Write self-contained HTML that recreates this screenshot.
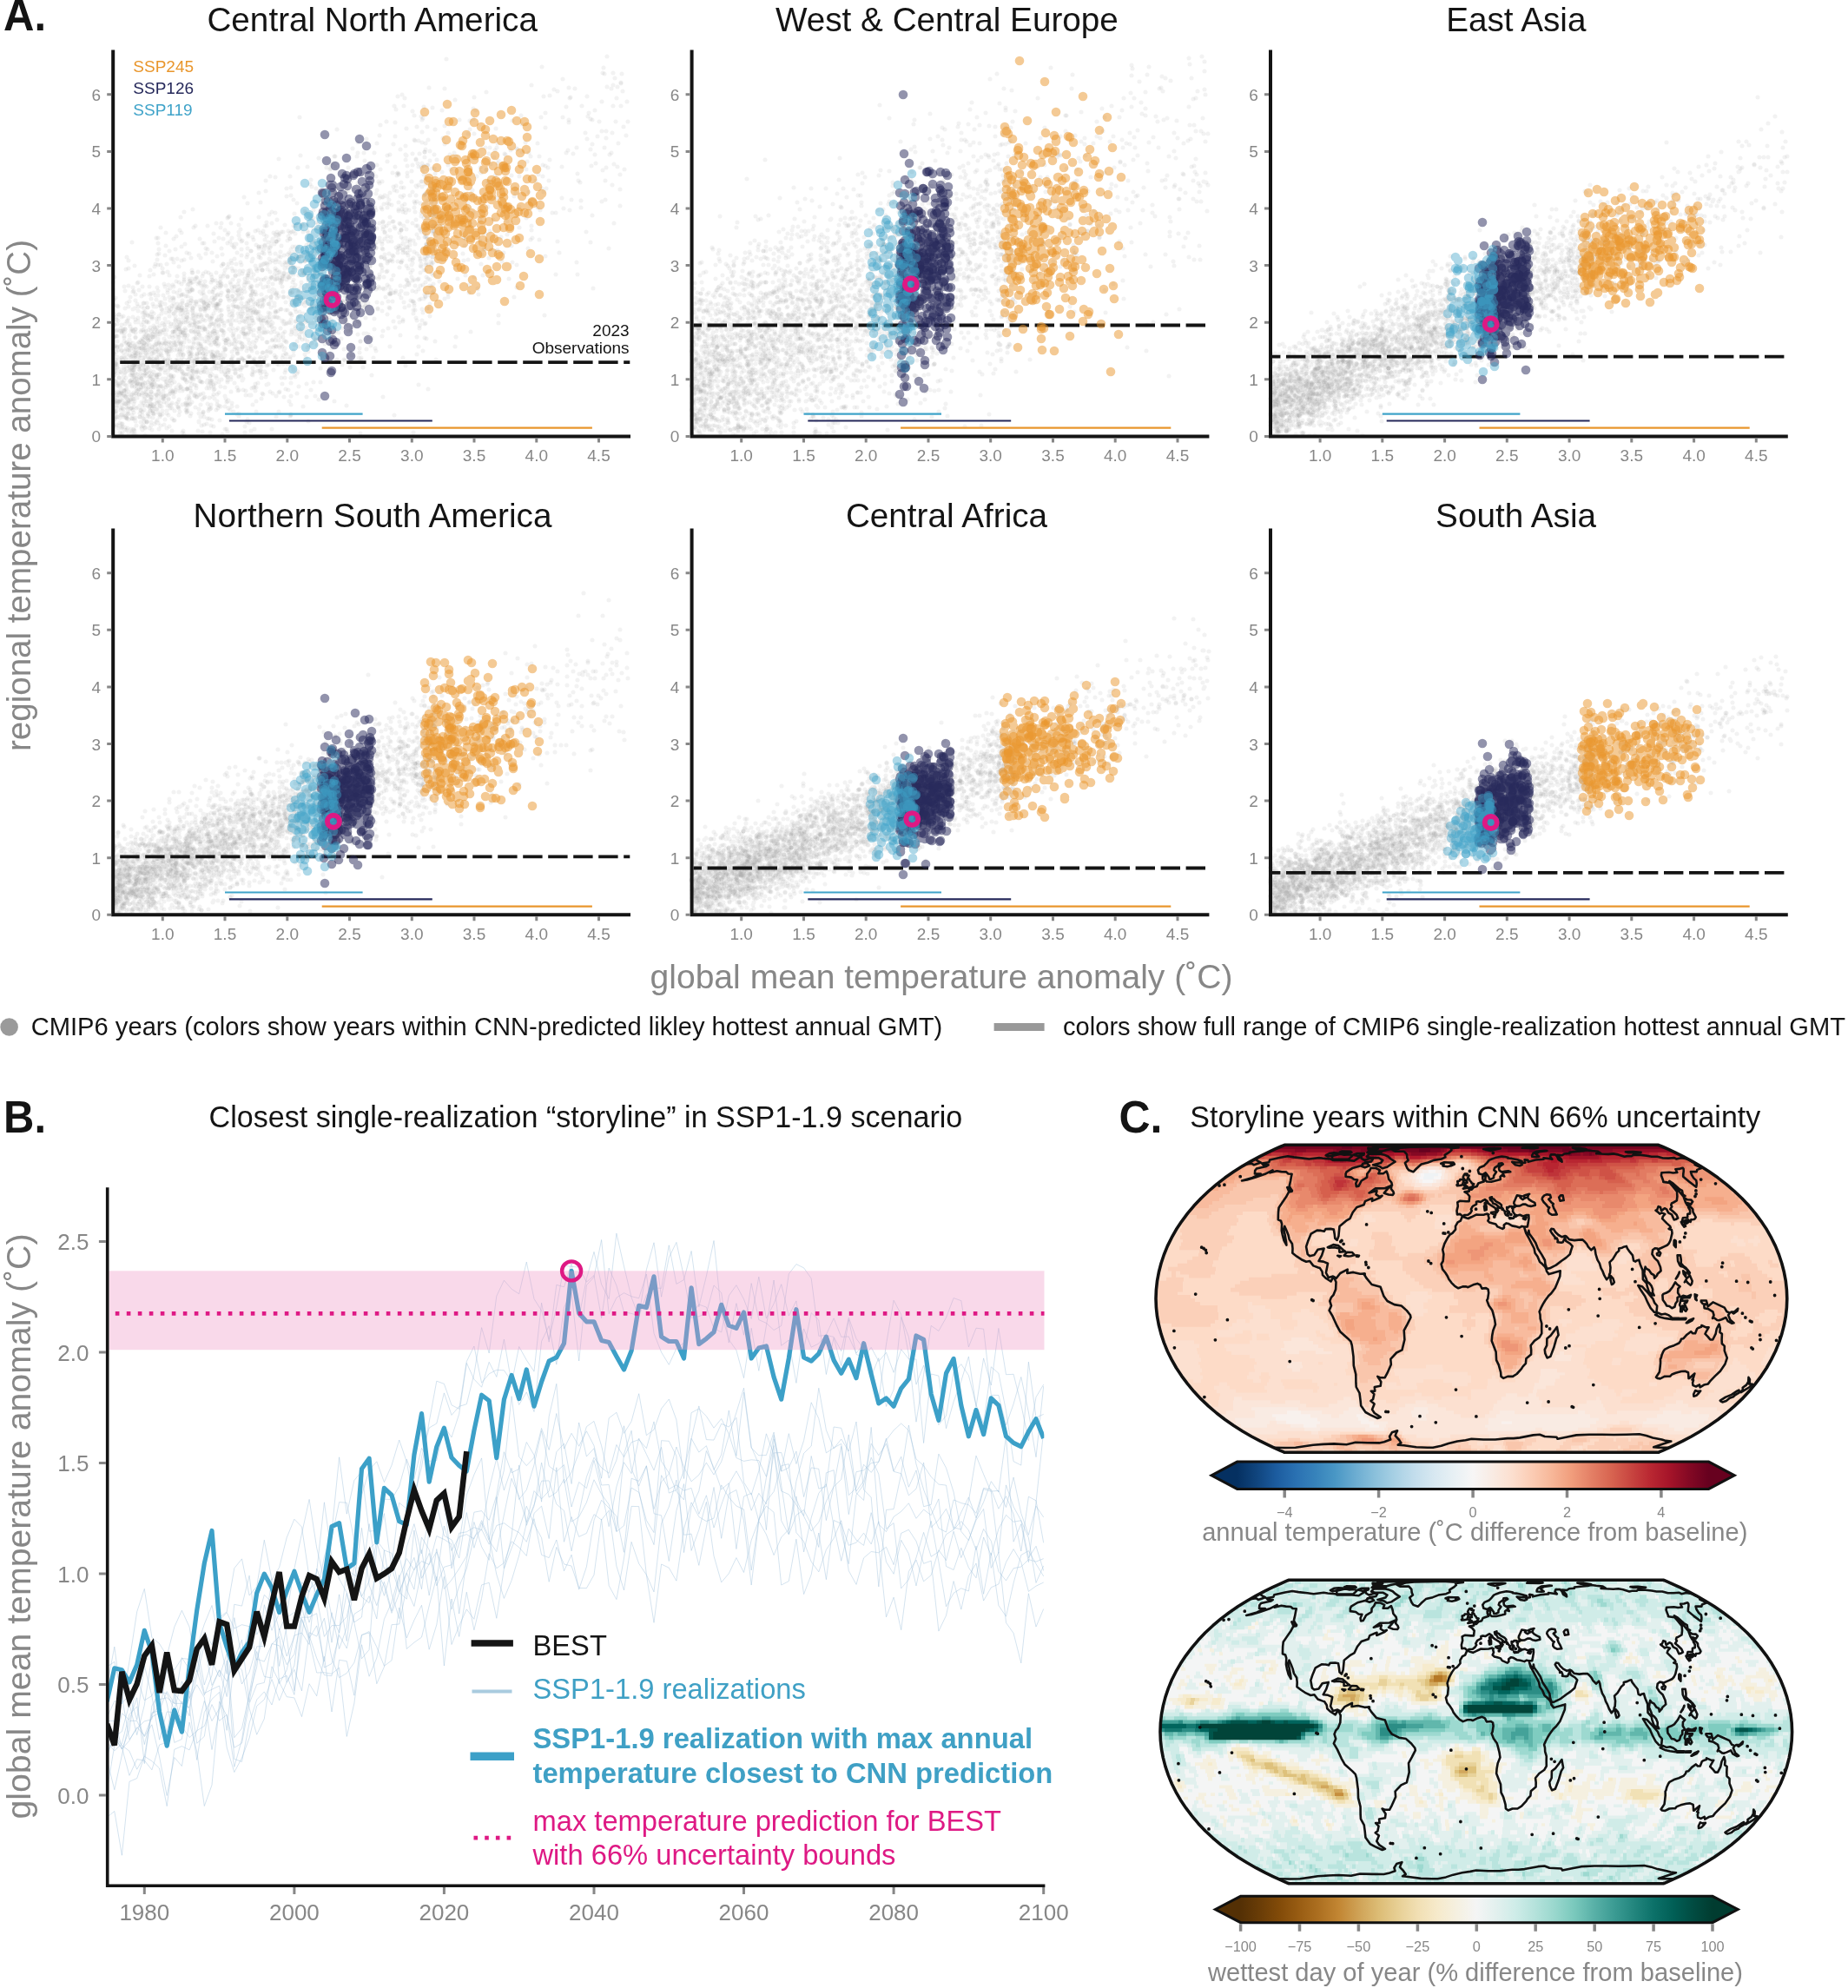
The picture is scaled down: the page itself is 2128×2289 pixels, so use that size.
<!DOCTYPE html><html><head><meta charset="utf-8"><title>Figure</title><style>html,body{margin:0;padding:0;background:#fff}svg{display:block;will-change:transform;opacity:.9999}text{font-family:"Liberation Sans", sans-serif}</style></head><body><svg width="2128" height="2289" viewBox="0 0 2128 2289" font-family='"Liberation Sans", sans-serif'><rect width="2128" height="2289" fill="#fff"/><g>
<g stroke="#787878" stroke-width="5" stroke-opacity=".095" stroke-linecap="round" fill="none"><path d="M131 491zm1-8zm0-55zm0-66zm1 114zm0-56zm2-47zm0 91zm0-64zm0 62zm2-7zm0-93zm0 80zm1-61zm2 72zm0-71zm1 109zm2-102zm0 49zm1-65zm0 92zm0-86zm0 85zm1 15zm0-77zm0 12zm1 30zm0 51zm2-33zm1-58zm0 53zm0-35zm0 36zm1 2zm1-49zm0 0zm1 85zm0-26zm0-40zm0-4zm1-61zm1 52zm0 17zm0-99zm0 67zm1-96zm0 190zm0-98zm1 19zm0-4zm1 35zm0-43zm1 37zm1-76zm1 68zm0-15zm0-9zm0 44zm0-11zm1 37zm0-163zm0 77zm1 49zm0 30zm1-27zm1-116zm1 90zm0-5zm1 71zm0-91zm1 11zm1 24zm0 22zm0-22zm2 49zm0-125zm1 33zm0 27zm0-9zm0-13zm1 13zm0-3zm1 63zm1-8zm0-11zm0 44zm1-48zm0 53zm1-116zm0 9zm0-4zm0 53zm1-30zm0 61zm2-82zm1 10zm0-29zm1 65zm0-133zm0 114zm0-10zm0-72zm1-26zm0 132zm2-6zm1-34zm1 7zm0 0zm1 73zm0-168zm1 107zm0-102zm1 66zm1 46zm1-143zm2 51zm0 110zm1-34zm1 81zm2-59zm0-134zm1 184zm0-82zm0 23zm1-41zm3 5zm0 11zm0 53zm0-53zm1-5zm1-56zm0-19zm0 100zm0-4zm0-41zm1 96zm0-79zm0-2zm1 28zm1-37zm2 7zm0-29zm2 139zm0-48zm1-149zm0 16zm1 69zm2-19zm0 109zm0-26zm1-62zm0-50zm0 26zm1 69zm0-17zm0-87zm2 22zm0-23zm0 108zm2-77zm1-23zm0 84zm0-58zm3 13zm0-4zm1 16zm0-38zm0 97zm1-73zm0 37zm2-114zm1 52zm1 108zm0-157zm0 26zm0 34zm1 6zm1 53zm0 24zm2-88zm1 6zm0 56zm1-13zm0-47zm2 28zm0 83zm2-97zm0 90zm1-20zm0 2zm1-73zm2 38zm0-22zm1 5zm0 18zm0 48zm2-44zm0-26zm0-41zm1 47zm0-133zm0 178zm1 1zm1 34zm0-120zm1 25zm0-101zm0 102zm1-27zm1-24zm1 103zm0-171zm2 47zm1 68zm0 11zm1-118zm1 130zm2 43zm0-68zm1-66zm1 55zm1-81zm2 118zm1-38zm0-17zm0 28zm1 52zm1-123zm2 39zm1 131zm1-61zm1-84zm0 110zm0-94zm0 63zm0 74zm1-120zm2 46zm0 10zm1-43zm2 46zm0-188zm2 194zm3-96zm0 58zm1-5zm1-47zm2-11zm1 104zm0-64zm0 9zm1-93zm1 152zm1 14zm2-113zm2-45zm1 94zm1 52zm0-4zm1 33zm2-108zm0 103zm1-132zm0 47zm0-25zm0 35zm2-10zm1-27zm2 8zm1 25zm2-21zm0 51zm1-127zm1-3zm0 52zm0 11zm2 71zm1-17zm0-32zm2-23zm0-26zm3 11zm1 4zm4 16zm1-83zm4 56zm2-40zm1 160zm0 42zm0-116zm0 60zm1-41zm0-49zm0 6zm1-24zm1 96zm1-163zm6 98zm0 36zm2-7zm5-27zm1 111zm1-64zm1-101zm5 55zm1 40zm1-71zm2 43zm2-96zm1-81zm0 133zm1 20zm6 0zm0-61zm2-81zm7-5zm0 55zm1 72zm1 47zm1 29zm2-65zm0-177zm1 161zm1 34zm2-74zm1-44zm1 120zm5-18zm1 2zm3 93zm2-47zm0-62zm0-114zm0 177zm2-143zm1 33zm1 76zm0-12zm1 5zm1-14zm2-104zm4 51zm3-84zm0 144zm0-38zm1 75zm0-106zm1 3zm2-58zm2 110zm1 83zm7-208zm3 129zm0-163zm0 72zm2 11zm1 39zm4 64zm1-202zm1 99zm1 139zm1-143zm1-13zm0 177zm3-200zm1-33zm0 151zm1 161zm2-352zm3 74zm0 41zm4-132zm0 191zm1-9zm2 39zm0-95zm1 103zm2-60zm0-23zm0 83zm4-24zm1 5zm1 28zm2-25zm1-88zm2 58zm3 83zm1-1zm5-150zm0-49zm1 110zm0-80zm1 76zm1-91zm0 85zm0-24zm1 43zm5-33zm0-18zm1 84zm0 8zm1-75zm0-13zm1-47zm1 71zm0 143zm17-219zm5-80zm15 39zm5 65zm9 71zm2 3zm11-6zm6-117zm6 131zm17-130zm11 24zm6 65zm8-59zm1 75zm3-59zm3 146zm15-85zm5-50zm2 12zm7-127zm12 97zm9-76zm5 4zm14 32zm2-19zm6-49zm2-4zm15 58z"/><path d="M130 333zm1 96zm0-22zm1 17zm3-4zm0-4zm1 14zm0-15zm1 20zm1-20zm1-37zm0 74zm0 26zm1-74zm1 74zm0-8zm2-87zm1-4zm0 3zm1 83zm0 16zm1-57zm1 50zm0-3zm3-129zm2 95zm0 45zm0-28zm0-9zm1-29zm0-35zm1 37zm0 8zm0-5zm0 11zm1-26zm0 6zm1-33zm0 55zm0 0zm1 10zm1-13zm0 19zm0-13zm1 32zm2-2zm1 2zm1-6zm1 4zm0-14zm1-62zm0 11zm0-37zm0 52zm1 9zm0-50zm1 27zm0-44zm1 38zm0-36zm1 125zm0 0zm0-24zm3-24zm1-47zm0 82zm0-31zm0-80zm1 49zm0 25zm0-49zm1-20zm1 79zm1-85zm0 44zm2-101zm1 101zm1-112zm1 131zm1 7zm2 13zm2 29zm3-179zm0 82zm1 9zm0 71zm1-50zm1 15zm1 57zm0-19zm1-170zm0 105zm0-36zm2 75zm2-90zm0 39zm1 75zm0-84zm1 24zm1 18zm1-58zm0 66zm3-98zm0 54zm0 45zm0-83zm1 61zm0-44zm1 87zm0-62zm0 13zm1-128zm1 89zm0 71zm1-48zm1-61zm1 41zm0 71zm0 5zm0 0zm1 28zm1-74zm1-24zm0 49zm0-56zm2-35zm0 134zm1-123zm1 117zm0-46zm1 29zm0-22zm1 14zm2-55zm0 43zm1 5zm1 9zm1 28zm0-137zm0 80zm1 96zm1-83zm0 22zm1-45zm0 17zm1 6zm1-14zm0-70zm0 61zm0 50zm1 20zm0 37zm0-107zm2-34zm0-1zm0-75zm0 69zm1 68zm1-125zm0 116zm1 80zm1-201zm1 99zm0-72zm2 73zm0-38zm2-30zm0 94zm0 70zm1-147zm1 45zm0-29zm2-29zm2 143zm0-77zm0-21zm1-29zm1 73zm1-55zm0 1zm1-12zm1 73zm1 81zm0-119zm1-77zm1 87zm1 40zm0 63zm3-224zm0 192zm1-1zm1-212zm2 185zm1-21zm2-17zm0-12zm0-100zm1-3zm0 66zm1 49zm1-115zm1 144zm0-18zm1-67zm0 74zm0-87zm1-56zm0-4zm0 167zm1-159zm1-11zm1 23zm1 151zm0-79zm1 77zm1-104zm0 52zm0-14zm3 34zm0-124zm1 37zm1-5zm2 67zm1 20zm0-110zm1 142zm0-101zm2 56zm2-63zm3 104zm1-143zm0 98zm0-86zm1 57zm1 15zm2-57zm0-20zm0 137zm2-45zm1-123zm0 168zm2-156zm0-16zm0 154zm1 10zm0-16zm1-119zm2 28zm0 93zm0-203zm1 80zm0 100zm2-50zm1 67zm1-66zm0 18zm0-71zm0 68zm1-145zm4 248zm3-129zm1 76zm2-105zm2 113zm0-50zm2 62zm1-100zm2-116zm0 93zm1 89zm4 12zm0-99zm0 52zm5-41zm0-14zm3 55zm2 118zm4-151zm4-105zm2 116zm0 3zm1-52zm3 112zm2-101zm0 74zm3-84zm0 64zm1 96zm0-134zm0 101zm1-35zm3-87zm2 23zm1 101zm0-1zm2-61zm0-28zm2 41zm3 10zm1-92zm0-6zm2-4zm0 82zm2-64zm0 29zm1 12zm0-4zm2-46zm1-29zm1 50zm0 92zm2-69zm2 41zm1-66zm0 77zm1 94zm1-224zm1-38zm1 143zm0-44zm1-45zm1-3zm4 26zm0 49zm1-35zm3-15zm0 89zm1-74zm2 47zm2 10zm1-81zm1-8zm1 83zm0-49zm2-106zm0 210zm4-169zm4 45zm0-17zm0-15zm0 166zm0-213zm3 205zm0-125zm1 52zm2-53zm0 52zm1-119zm2 85zm0 9zm2-50zm0 32zm2-20zm2-7zm6 62zm1 25zm3-206zm1 194zm2-44zm2-5zm2-70zm2 64zm0 90zm1-89zm2-113zm1 96zm2 62zm1 2zm0-86zm1 46zm3-98zm0 145zm2 17zm0-191zm2 64zm1 163zm2-196zm1 186zm0-83zm1 11zm1-2zm1-152zm0 57zm1 151zm2-87zm0-92zm1 144zm0 47zm0-200zm0 133zm2 32zm0-80zm4-6zm2 15zm0-49zm1 100zm0-15zm1-71zm1 162zm1-165zm3-2zm5 21zm2-145zm2-34zm19 224zm3 25zm3-83zm1-51zm0 154zm5-212zm1 29zm2-27zm9 160zm3-92zm17 42zm4-60zm11 49zm0 116zm14-91zm1-65zm3 45zm14-154zm4 114zm8 54zm2-142zm17 35zm14 93zm19-74zm5-40zm1 79zm1-118zm11 6zm1 173zm7-20z"/><path d="M130 449zm2-130zm0 133zm1-54zm0 20zm1 55zm0 16zm0-102zm1 80zm0-23zm0-92zm2 101zm0 10zm1-10zm1 19zm1 5zm0-94zm0 83zm1 32zm1-23zm1 3zm2-21zm0-147zm1 149zm0-65zm0-98zm1 197zm1-127zm0 132zm0-37zm2-63zm0 40zm1 17zm1-11zm1-88zm0-20zm0 74zm0 20zm2-75zm0 54zm0 53zm1-94zm0 15zm0 98zm4-87zm0 21zm0 33zm1-47zm2-27zm0 6zm1 63zm0 35zm2-118zm0 122zm0-127zm0 104zm0-58zm3-31zm1 33zm0 45zm0-39zm0 1zm1 67zm0-76zm0 55zm1 12zm0-138zm1 47zm0 56zm1-42zm0 60zm1-8zm0-12zm1 42zm1-120zm0 60zm1-36zm0 20zm1 0zm1-44zm0 79zm2 16zm0-63zm1 10zm0-108zm0 122zm1 36zm1-93zm0 102zm0-28zm0-45zm0-76zm2 131zm2 53zm0-52zm0-63zm1-44zm0 106zm2 57zm0-17zm0-172zm0 169zm1-160zm1 95zm1-66zm0 59zm1 1zm0 42zm0-30zm3-86zm1 89zm0 1zm0 66zm1-11zm3-46zm1-42zm1 93zm0-99zm0-2zm2 69zm0-196zm1 121zm1 95zm0-83zm1 47zm1-186zm0 78zm1 64zm0 79zm1 7zm0-6zm1-26zm0-107zm0 32zm0 83zm1-120zm0 136zm0-123zm1 81zm2-50zm1 78zm0-124zm1 8zm0 102zm1-14zm1-28zm0 43zm1 18zm1-134zm1 43zm1 62zm2-23zm1-26zm1 52zm0-31zm2-118zm1 127zm0-70zm0 43zm0-2zm0 96zm1-16zm1-45zm0-84zm0 27zm2 32zm1-37zm0-91zm2 131zm2-20zm0-55zm0 9zm1-34zm0 118zm0 16zm1-33zm1 53zm1-21zm1-50zm1 37zm1-56zm1-5zm1 75zm0 42zm2-138zm0 116zm0-127zm1 49zm0-4zm0 17zm4 88zm0-12zm1-24zm0 27zm0-67zm3 37zm0-161zm0 76zm0-9zm3 38zm0 78zm1-142zm0 109zm0 46zm0-123zm3 76zm1-99zm0 35zm0-8zm3 8zm1 62zm0-156zm1 112zm2-33zm0-33zm0-53zm0 143zm1 5zm4-16zm0 71zm1 31zm0-161zm2 22zm1 26zm0-2zm2-14zm1 12zm4 50zm0-69zm0 8zm0-22zm1 25zm0 113zm3-106zm0-146zm3 100zm0 113zm1-52zm1-14zm2 46zm0-139zm2-16zm0 43zm0 102zm2-75zm1-32zm0 122zm0-70zm5 68zm2-60zm0 7zm1-66zm0-21zm0 61zm1 80zm0-152zm0 54zm2 45zm0-71zm3 121zm0-149zm0 16zm1 47zm1 89zm1 38zm1-139zm0-9zm3-32zm0 95zm1 77zm1-146zm1-35zm1 19zm0 81zm0 110zm0-186zm0 22zm0 58zm3-56zm2 60zm0-92zm1 75zm1-18zm1-57zm1 14zm0 46zm3-19zm1-10zm0 76zm0-80zm0 32zm1-83zm0 122zm1-1zm0-86zm1 113zm2 34zm1-183zm1 146zm1-125zm1 53zm1-126zm0 147zm12-61zm1 0zm0 117zm3-110zm5 61zm1-23zm1-148zm1 211zm1-66zm1 52zm2-195zm1 54zm3 137zm3-106zm2 84zm1-72zm2-35zm0 93zm5 18zm1 15zm1-84zm0 18zm1-143zm0 131zm6-69zm0-22zm0 140zm2 23zm1-111zm0 130zm1-45zm3-96zm0 132zm2-116zm0 84zm1 32zm2 1zm0-92zm3-32zm1 128zm0-121zm3-3zm0 102zm1-128zm1 46zm0-62zm1-4zm2 102zm1-5zm2-20zm9-4zm1 8zm0 39zm6-147zm4 173zm1-108zm0 11zm2 5zm1-36zm1 131zm3-83zm1 21zm0-158zm1 43zm0 93zm1 10zm3 52zm2-23zm1-26zm1-164zm0 99zm1-70zm1 204zm3 77zm2-145zm0 31zm1 15zm1-129zm0-77zm1 266zm1-60zm0-221zm0 78zm0 110zm4-80zm2 124zm0-74zm1 69zm0-176zm2 156zm0-15zm1-55zm11-133zm0 133zm10 18zm6-98zm17 78zm0 124zm4-63zm7-121zm1 106zm0-105zm3 26zm2 44zm4-92zm2 12zm19 66zm0 15zm11 35zm0 26zm14-155zm14-41zm3 86zm2-91zm12 186zm2-211zm12 68zm10-3zm0 132zm1-102zm0 116zm4-77zm5-86zm1 114zm1-107zm2-30zm2 7zm1 54zm1-25zm16 27zm17-97z"/><path d="M131 388zm0 102zm1-82zm1 31zm1 23zm0-81zm1 74zm0-32zm0 57zm2-118zm0 73zm1 27zm2 31zm0-64zm0 8zm2-3zm0 37zm0-65zm0 49zm1-5zm0-18zm1-28zm1 24zm1 26zm0 0zm2-58zm0 80zm0-8zm1-28zm1 23zm0-37zm1-11zm1 3zm1-11zm0-27zm1 102zm0-26zm0 9zm0-83zm0 44zm0-1zm0 75zm2-78zm0-33zm0-43zm0 72zm1 52zm0 20zm1-48zm1-3zm0-81zm3 66zm1 67zm0-66zm1 7zm0 10zm1 3zm0-20zm1 27zm0-26zm2 7zm1-84zm0 22zm1-8zm0 53zm1 8zm1-38zm1 41zm0 37zm1-13zm0-10zm0 19zm0 5zm1-80zm0 31zm0 54zm1 3zm0 8zm1-96zm0 47zm0 45zm0-35zm1 46zm0-45zm0-4zm2 20zm0-5zm1-73zm0 53zm0 27zm0-90zm0 73zm1-164zm1 137zm0 45zm0-170zm1 188zm0-98zm1 26zm0 7zm0 43zm0 32zm1-45zm0-22zm1-11zm0-29zm0-69zm0 145zm2 4zm0-136zm0 129zm1-112zm0 72zm1-148zm0 171zm0-79zm1 44zm2-76zm1 111zm0-110zm0 59zm1-56zm0 121zm1-54zm0 39zm2-19zm1 14zm0-72zm0 92zm1-71zm0 21zm1 46zm0-23zm0-62zm2-14zm0-52zm1 78zm1-8zm1 106zm0-49zm1-52zm1-89zm0 70zm0 73zm0 1zm2-45zm0 35zm1-24zm0-10zm0-1zm1-5zm0-97zm1 87zm2 79zm0 19zm0 7zm1-126zm0 58zm2 11zm0-93zm0 85zm3-94zm1 53zm0 61zm0-51zm1-25zm0 65zm2 40zm1-23zm1-52zm0 13zm0-30zm1 106zm0-146zm1 114zm0-53zm0-111zm4 93zm1 60zm0-14zm1-90zm1-11zm1 134zm0-7zm1-25zm0 23zm0 44zm0-56zm0 3zm3-55zm0 124zm1-68zm1 8zm1-137zm0 131zm0-109zm0 25zm1 62zm0 39zm0-34zm1-37zm0 16zm1-63zm1 102zm1-81zm1 35zm1 31zm0 22zm1-109zm3-38zm4 36zm0 63zm1 102zm1-60zm0 6zm0-121zm0 22zm1-91zm2 222zm2-107zm0 56zm1-70zm0 27zm2-48zm1 61zm0-79zm0 88zm1-7zm3-28zm2 59zm0-2zm1-73zm0 15zm0 59zm2-111zm2 87zm0 99zm1-48zm0-83zm2-47zm0-27zm1-21zm0 129zm2 11zm1-30zm0-53zm1 37zm1 28zm1 52zm0-130zm0 56zm1 45zm0-22zm1 5zm2-11zm1 52zm0-91zm0-29zm4 101zm6-28zm1-89zm0 66zm1-92zm2 82zm1-15zm4 36zm1-73zm1 147zm0-57zm0-61zm1-21zm2 75zm2-102zm1 66zm0-31zm1-3zm0 1zm2 50zm0-3zm2 56zm1-200zm2 46zm1 47zm0 52zm1-53zm2 45zm0-96zm1 58zm3-17zm2-74zm3 125zm1-64zm0 7zm5 46zm1 64zm2-220zm1 293zm0-191zm3 155zm2-151zm1 13zm1 41zm1 104zm1-90zm1 31zm0-29zm2-24zm1 30zm1-28zm0 35zm0-147zm4 54zm0 80zm1-41zm1 25zm0-58zm1-17zm0 8zm2 127zm1-33zm1-150zm4 28zm2-40zm4 39zm0 13zm0-40zm2 57zm0-35zm2 169zm0-73zm0-146zm3 214zm1-98zm2-107zm1 99zm6-39zm0 36zm0 17zm1 21zm2-16zm0-63zm1 74zm2-90zm0 103zm6-60zm6 21zm1-1zm4-68zm1-68zm1 144zm1-34zm0-83zm2 153zm5-44zm0-31zm2-46zm4-49zm2 168zm2-81zm2 28zm1-46zm2 8zm2-43zm2 13zm0 10zm1 96zm1-81zm0 128zm1-121zm2 10zm0-31zm0 168zm3-138zm0-96zm1 1zm1 112zm0 32zm0-124zm3 100zm0-23zm7-16zm1 10zm0 138zm2-75zm0-120zm1-36zm2 32zm0 58zm0-133zm1 235zm0-13zm1-28zm2-32zm0 93zm0-154zm1 27zm0 11zm1 46zm5-18zm1-61zm1-116zm1 105zm1 60zm1-140zm2 35zm4 115zm0 1zm5-71zm2 60zm20-66zm6 18zm1-92zm4-12zm8 56zm0 60zm0 24zm6-107zm3 68zm2-68zm6 3zm3-8zm1 198zm16-61zm27-94zm8-18zm6 3zm13 98zm11-150zm3 89zm41-130zm11 13zm7-8zm2 90z"/><path d="M130 325zm0 129zm1-80zm0 101zm1-20zm0-27zm1-1zm0 47zm2-87zm1 103zm0-27zm0-94zm1 76zm2 2zm1 4zm0-77zm0 23zm1 91zm1-107zm0-17zm1 85zm0-56zm0-63zm1 82zm0 4zm3-13zm0 79zm0-68zm1 69zm0-174zm0 44zm0-53zm1 96zm0-49zm0 39zm0 11zm1 26zm0 16zm0-63zm1 94zm0-46zm0-26zm0-17zm1-102zm1 144zm1 37zm0 15zm1-30zm0-25zm1-32zm0 15zm0 38zm0 59zm4-46zm0-12zm1 0zm0 38zm1 6zm1-85zm0 35zm2-37zm0 4zm2 98zm0-8zm0-36zm1-30zm1 2zm0-39zm1-36zm0 69zm1 23zm0-66zm1 33zm0-74zm0 25zm1-25zm0 128zm0-7zm1-16zm1-79zm0 103zm0-61zm0 11zm0-18zm0 66zm1-116zm1 91zm0 35zm1-8zm0-26zm2 44zm0-141zm1 75zm0-38zm1 105zm1-70zm0 77zm1-26zm0 9zm0-129zm2 13zm2 98zm1-63zm1-46zm0 64zm1-11zm0-10zm1 71zm1-45zm0 48zm2-150zm1 107zm2 17zm0-55zm0 65zm2-106zm0 4zm0 12zm1 21zm0 102zm1-116zm0-81zm0 72zm0 64zm1-43zm0 66zm1-44zm0-47zm1 108zm1-156zm0 136zm0 4zm1-54zm1 22zm0-7zm1-14zm1-12zm0 116zm4-32zm0-95zm1-17zm1 71zm2-50zm0 32zm2 37zm0-63zm1 82zm0-149zm0 128zm0-15zm1-186zm0 195zm0-35zm0-43zm0-3zm0 77zm3-43zm0 25zm1 14zm0-78zm1 27zm2 99zm1-70zm0-70zm0 17zm1 127zm1 10zm0-152zm1 139zm1-162zm0 18zm1 20zm0 75zm1-18zm0-41zm0 9zm0 45zm2-73zm1 14zm1-9zm1 114zm0 13zm1-41zm1-2zm0-34zm0 36zm0-1zm0-43zm1-33zm0-42zm2 169zm0-222zm1 71zm0 54zm1-42zm2 30zm0 23zm1-7zm0-69zm2-4zm1 43zm1-82zm0 94zm0-51zm0-23zm1 64zm1 16zm0-5zm2 65zm0-44zm3 95zm0-246zm0 57zm0 126zm1-97zm3-37zm0-43zm0 70zm0 87zm0-40zm2-29zm0 65zm2-125zm0 156zm2-88zm1 52zm1 10zm0-81zm1 115zm1-55zm1-33zm1-26zm1 88zm0-70zm1 8zm2-40zm0 170zm1-138zm4 13zm0 89zm1-100zm1 100zm0-122zm1 5zm1 90zm0-75zm2 141zm0-81zm1-53zm1-21zm0-29zm1 110zm0-14zm2-120zm0 73zm0-66zm1 134zm1-100zm0-94zm1 73zm0 66zm1 3zm1-44zm0-43zm1-1zm0 125zm0-108zm0-12zm1-10zm0 21zm1 27zm1 91zm3-56zm0-118zm1 55zm1 72zm0-32zm1-85zm8 217zm1-23zm0-182zm0 51zm4 64zm0-48zm0 52zm3-15zm1 35zm1-51zm0-64zm3 6zm0 180zm1-133zm2-10zm0-29zm1-77zm2 39zm0 79zm0 8zm0 14zm4 75zm1-81zm3-52zm2 38zm1 2zm1 17zm3-19zm4 2zm3-74zm2-61zm4 51zm1 83zm0 28zm2-106zm1 65zm0-50zm3 87zm0-86zm4-16zm0 93zm1-150zm0-21zm0 154zm3-28zm2 16zm1 16zm1 28zm0-113zm7 66zm0 44zm5-37zm5 22zm0-35zm2-16zm2-22zm1 22zm3 9zm0-157zm0 96zm0 125zm2 21zm2-102zm2 119zm0-155zm1-92zm4 57zm2 27zm3 55zm5-73zm0 91zm3-124zm4 32zm1-14zm0 105zm0-76zm2 12zm2 45zm1-41zm0 56zm0-25zm0-2zm0 61zm1-84zm2-13zm1 69zm2-79zm2 6zm1-104zm1 128zm2 16zm0-190zm2 260zm1-88zm1-19zm0-54zm3 15zm0 35zm3 62zm6-17zm1-2zm2-64zm1 42zm2 88zm2-207zm3 145zm0-62zm3-3zm0-51zm2 120zm0 0zm1-39zm0 10zm1-136zm3 176zm0-99zm1 21zm2 52zm0-50zm1 20zm1 15zm3-65zm1 76zm8-147zm0 95zm4-50zm2-12zm16 122zm12-188zm12 175zm2-181zm3 191zm8-149zm2 140zm9-110zm12 44zm4 40zm0-24zm3-63zm10 5zm1-82zm10 144zm10-34zm20-85zm18-1zm6-11zm9 16zm11-42zm3-20zm2 221zm3-110zm7-76zm0 92zm3 9zm0 17z"/><path d="M130 453zm0 8zm2-19zm0 21zm0-89zm1 107zm0-42zm1-71zm1 90zm0-59zm1 4zm0 40zm0-90zm2 91zm1 16zm0 41zm1-89zm0 88zm0-44zm0-91zm1 75zm1-61zm1 46zm0 25zm1-7zm0 14zm2 25zm0-112zm0 51zm3 6zm0-27zm0 9zm1 62zm1 23zm1-62zm1-11zm1 74zm2-76zm0-10zm0-30zm0 21zm0 30zm1 23zm1-103zm1-25zm3 110zm0-53zm0 90zm1-71zm0-48zm0 140zm0-99zm1 101zm0-102zm1 28zm0-23zm1 34zm0-93zm0 56zm1 6zm0 40zm0-53zm0 23zm0 56zm1-19zm0-67zm1 16zm3 96zm1-182zm1 33zm1 15zm2 87zm0-130zm1 100zm1-15zm0 1zm0-4zm0 18zm1 18zm1-11zm0 8zm0 53zm0-64zm1 25zm1 18zm0-13zm2 14zm0-111zm0-91zm1 94zm1 45zm1 46zm0-67zm2 103zm1-80zm1-4zm0 41zm1 1zm0-36zm0 10zm0 3zm1 13zm0 0zm0 29zm1-106zm0 100zm1 16zm0-94zm0-30zm1 120zm0-71zm1 39zm1-45zm0 63zm1-116zm1 82zm0-23zm2 2zm0-20zm0-105zm1 144zm1 52zm1-73zm0 10zm0-52zm0 107zm0-72zm1 62zm1-52zm1 14zm0-6zm1 44zm0-101zm1 87zm0-78zm3 80zm0-19zm0-62zm1 74zm3-139zm0 119zm0-18zm1 7zm0 4zm0-52zm0-21zm1 79zm0-64zm0 28zm2-49zm1 91zm0-154zm0 112zm1-50zm1 129zm0 16zm1-121zm0 42zm0 57zm0-128zm1 95zm0 1zm0-8zm1-80zm0 101zm1-32zm0 6zm1-40zm1 8zm0-14zm1 45zm2 74zm0-22zm2 4zm0-64zm1-46zm0-61zm0 69zm1 59zm0-84zm2 22zm0-6zm1 125zm1-38zm1 37zm0-25zm0 45zm3-157zm1 115zm0-64zm1-27zm0 52zm0 32zm1-127zm0 158zm0-102zm1 84zm0-104zm0 39zm2-24zm1 44zm1-39zm0 44zm1-77zm0-10zm0 36zm2 43zm1 4zm1-1zm3-68zm0 49zm0-72zm1 35zm1 73zm0-47zm2 2zm0 56zm1-163zm0 57zm1 55zm1-33zm0 121zm1-72zm2-98zm0 76zm1-36zm1 106zm1-63zm0 1zm2-44zm0-42zm1 80zm0-104zm1 118zm1-17zm2-54zm0 11zm0 49zm1-14zm1-75zm1 60zm0-86zm0 94zm1 27zm3-51zm0 156zm0-94zm0-39zm0-17zm4-7zm1 60zm0-93zm1 156zm2-111zm0-4zm0 19zm1-57zm4 2zm0 34zm1-79zm1 100zm1-83zm1 37zm3 5zm0 45zm2-2zm3 85zm4-181zm0 87zm0 29zm1-45zm0-65zm1-8zm0 114zm2-71zm1-17zm0 60zm3-38zm1 74zm5-84zm1 12zm1-20zm1 166zm2-182zm1 120zm0-59zm2-17zm0-68zm0 174zm3-98zm0-38zm1 19zm2 19zm0 36zm1 46zm0-36zm0-4zm2-111zm0 106zm1-40zm0-18zm1-15zm1 71zm3-48zm0-55zm6-17zm0 189zm2-157zm1 108zm0-104zm2-29zm1 202zm1-152zm1 45zm0 14zm5 29zm1-69zm0-39zm0 126zm4-87zm2 17zm0-104zm0 142zm1-111zm2 34zm1-75zm0 105zm0-155zm1 125zm0-83zm0 129zm0-63zm2 34zm1 95zm0-122zm2 77zm1-43zm2-37zm0-7zm0 21zm1-60zm0 85zm4 16zm0-21zm3 10zm2-127zm1 47zm1 101zm1 11zm4-28zm0-76zm3 152zm0-164zm0 95zm0 54zm1-8zm6-72zm0 29zm0-67zm1 30zm1-45zm1 81zm2-42zm2 13zm6-155zm0 183zm6-139zm2 124zm1-36zm1 35zm2-153zm2 151zm3-52zm6-78zm0 2zm5 133zm4-222zm1 308zm2-93zm2-2zm1-44zm0-57zm0 53zm3 33zm1-34zm1 13zm1 39zm1-145zm2 4zm4 4zm4 181zm0-74zm0 40zm1 3zm0-103zm3 56zm0-105zm0-29zm1-60zm1 109zm2-16zm0 38zm1 105zm1-70zm1-4zm10-104zm6 179zm0-185zm9 235zm38-178zm5 43zm4-25zm2 144zm15-170zm1-63zm6 33zm12 114zm5-12zm6-35zm10-22zm33-115zm4 106zm16 40zm1 84zm2-154zm1 10zm4-48zm3 92zm4-24zm0 22zm1-71zm7 54zm11-128z"/><path d="M133 414zm0-71zm0 44zm1 32zm1-39zm2 72zm1-53zm1 71zm1-72zm0 14zm0 76zm1-27zm2 4zm0-55zm1 46zm0-27zm2-80zm0 59zm0 61zm0-5zm1 13zm0-79zm1-2zm1-5zm0 0zm1 3zm0 38zm1-22zm0 50zm1 22zm1-42zm1 29zm0-17zm3-45zm0 29zm1 5zm0-115zm2 99zm1 51zm1-30zm0-38zm0 1zm1-68zm0 114zm1-65zm1-10zm0-31zm0 22zm1 101zm2-28zm0-24zm0-34zm1 99zm1-94zm0 64zm0 12zm0-74zm0 27zm1-49zm1 26zm0-79zm0 111zm2 57zm1-87zm1 17zm0 60zm1-54zm1-115zm1 33zm1 53zm1-16zm1 13zm0-50zm1 79zm0-23zm1-12zm0 41zm0-40zm1 93zm1-60zm1-46zm1 85zm2-28zm0-8zm1 34zm0-60zm1-40zm0 25zm1-43zm1 81zm1-14zm1 46zm0-12zm1-65zm0 47zm0-64zm0 93zm1 21zm1-34zm1-42zm0-92zm0 28zm0 13zm1 97zm2 25zm0-141zm1 92zm1-61zm0 64zm2-15zm1-22zm1-82zm0 55zm0 66zm1-67zm1 54zm0-69zm1 161zm0-176zm0 90zm1 23zm2-86zm1 19zm0 30zm1 25zm1 35zm1-13zm0-20zm1 49zm2-129zm0 8zm0 8zm1 27zm1 53zm0 13zm0-74zm3-6zm2 109zm0 1zm0-31zm0-70zm2 81zm1-89zm1-59zm1 89zm0-31zm0-32zm1 4zm0-8zm0 149zm0-9zm1-101zm1-37zm0 81zm2-18zm3-21zm0 2zm1 80zm1-58zm0-35zm1 84zm1-14zm1 16zm0-115zm1 74zm1-22zm0-42zm0 38zm1-52zm0 122zm0-167zm1 111zm1-32zm0-23zm3 72zm2-10zm0 0zm1-13zm0-25zm1 28zm1-8zm1 68zm1-72zm0 37zm1-2zm1-80zm3-64zm1 53zm0 28zm1 25zm2-71zm0 112zm0-3zm1-57zm2-15zm0 7zm5 52zm0-98zm0-38zm0 122zm1 50zm0-71zm0-23zm0 26zm2-28zm1 24zm1-28zm1 8zm0 10zm1-50zm0 35zm1 58zm1-65zm0-34zm1 47zm0-45zm1 134zm1-111zm1 79zm0-67zm1 8zm0 90zm1-180zm0 184zm2-138zm1 109zm0-60zm1-111zm1 137zm0-41zm0 67zm1 7zm0-115zm0 64zm0 48zm1-78zm1 51zm0-37zm0-42zm1-7zm0 102zm1-60zm2 88zm1-62zm0 71zm2-1zm1-153zm3 87zm0-56zm0 51zm1 1zm3-51zm0 91zm1 68zm2-122zm1-44zm0 84zm0-122zm0 110zm2-8zm0 10zm1 47zm0-38zm2-55zm0 67zm1-94zm1 114zm0-47zm1 11zm0-88zm0-1zm0 109zm1-196zm2 49zm1 25zm1 47zm0-39zm1 142zm0-225zm0 240zm0-231zm1 157zm2 44zm0-118zm0 117zm3-55zm0-75zm1 47zm0 51zm0 37zm1-65zm2-230zm2 160zm2 66zm2-118zm0 58zm2-19zm0 95zm1-111zm1 54zm1-72zm0 51zm3-84zm1 93zm1-45zm0 59zm1-5zm1 63zm0-38zm0-19zm0-10zm1 8zm2-58zm4 51zm0 16zm1 86zm0-112zm2-39zm1 80zm1-51zm1 12zm4 1zm1 54zm0 34zm2-99zm4-32zm0 3zm0 45zm1-34zm2 88zm4-90zm0 34zm2 104zm3-193zm2 160zm0-6zm1-85zm1-2zm0-11zm2 132zm2-137zm0 16zm2 36zm0-22zm2 9zm1 26zm1 75zm1-110zm0-29zm2 141zm4-166zm2-88zm7 141zm6 54zm2-98zm0 75zm1-188zm0 161zm2 44zm0-41zm1 149zm5-145zm0-78zm1 67zm1-71zm1 108zm4 32zm0-75zm0-80zm1-93zm1 255zm3-90zm1-86zm3 101zm2-15zm1-71zm1 25zm1 50zm0-107zm1 57zm6-32zm1 90zm1 48zm2-103zm1 92zm0-122zm1 1zm0-69zm2 128zm3-25zm1-85zm1 122zm2 5zm1-68zm1 75zm4 31zm0-52zm2 28zm1-82zm1 46zm0-50zm1 19zm2 10zm7-50zm3 146zm0-178zm4 176zm6-86zm5 65zm9-46zm3-34zm2-102zm10 200zm26-66zm3 18zm5-50zm9-24zm11-53zm7 101zm13-62zm1-92zm2 184zm5-185zm19 66zm3-75zm1 141zm1-130zm3 65zm47 12zm5-24zm3-43zm7-5zm1 23z"/><path d="M131 345zm0 129zm0-42zm1 39zm1-52zm1-54zm0 104zm0-64zm1 75zm0-69zm0-18zm1 48zm0 52zm2-12zm1-53zm0 13zm1 51zm0-111zm0 22zm1 50zm0-39zm1 1zm0 65zm1-27zm0-66zm1 105zm0-137zm1 80zm0-40zm0 54zm1 32zm1-112zm2 34zm0-30zm2 28zm0 40zm2-15zm0-31zm1 99zm1-77zm0 6zm0 12zm0 3zm1 47zm0-114zm2 87zm1-52zm0-36zm0-17zm0 18zm0 45zm1 6zm0-21zm2-9zm0 27zm0 30zm3-54zm1-8zm0-19zm0 27zm0-46zm1 143zm0-62zm1-23zm0 55zm1-77zm1 55zm0-51zm2 80zm0 11zm0-26zm1-21zm0 35zm1-130zm0 78zm0-35zm1-16zm0 93zm1-37zm0-18zm0 34zm1-100zm1 51zm1 26zm1 57zm1-7zm0-53zm0 44zm0-37zm1-144zm0 131zm1-41zm0 30zm1-43zm0 67zm2-70zm0 76zm0-76zm2 103zm0 4zm1-65zm0 69zm1-64zm0-28zm1 4zm0 72zm2-29zm1-18zm0-25zm0 64zm0-9zm2-4zm2-70zm0 112zm1-14zm0-26zm3-2zm3-13zm1 61zm0-99zm1 4zm0-41zm0-69zm0 160zm0-5zm1-63zm1-30zm0 12zm1 63zm1-36zm0 43zm0-46zm0 36zm2-13zm2-35zm0 119zm1-22zm3-9zm0-29zm0 55zm0 14zm1-182zm0 138zm0-92zm0 38zm1-70zm0 22zm0 49zm0-15zm0 41zm0 24zm1-8zm0-42zm1 14zm0-33zm1 8zm2-9zm0 48zm1 2zm1-99zm1 58zm0 6zm2 62zm1-93zm1 80zm0-24zm1 10zm2-33zm2 14zm2-4zm0-37zm1 43zm0-59zm1 30zm2-23zm0-7zm0 75zm1-2zm1-36zm0-12zm3-11zm1 42zm0 29zm2 31zm0-56zm1 25zm1-81zm0 6zm1 71zm0-60zm0 80zm2-162zm0 139zm1 13zm0-112zm1 113zm1-4zm3-4zm0-85zm1 28zm0 34zm2 18zm1 0zm0-54zm1-49zm2 80zm0-62zm1 100zm2 16zm1-68zm0-43zm3-2zm1 99zm1-18zm1-30zm1-56zm1 0zm2 93zm1-135zm1 29zm0 0zm0 96zm3-122zm2 143zm0-97zm0 131zm0-122zm1 36zm4-21zm1-94zm2 114zm1-82zm0 114zm0-47zm1-80zm1 122zm2-136zm2-50zm0-12zm1 223zm1-49zm0-17zm1-5zm2-68zm0 108zm1-58zm0-23zm1 175zm0-102zm1-13zm1-14zm0 61zm0-158zm1 130zm0-20zm1-76zm0-57zm2 170zm0-114zm2 40zm1-39zm3 3zm0 12zm1-1zm1-2zm1 121zm1 13zm0-100zm1-46zm0 92zm3 68zm1-49zm0-78zm1 16zm0-50zm3-41zm0 51zm1 21zm1 46zm2-91zm0 166zm3-68zm0 4zm3-131zm4-13zm4 153zm3-3zm0-143zm2-10zm2 42zm1-28zm0 42zm1 36zm1-7zm3-10zm1-61zm1 60zm0-47zm1 16zm0 72zm3-8zm0-75zm1 83zm5-163zm1 132zm3 136zm0-78zm0-161zm1 194zm0-237zm1 214zm5-47zm0-74zm1-24zm1-45zm2 68zm0-28zm1 89zm0-25zm0 33zm1 16zm1 13zm2-130zm1 96zm1-101zm1 182zm0-109zm3-7zm1 73zm2-31zm1-163zm1 101zm0-105zm4 236zm0-157zm1 59zm3 20zm1-118zm1 4zm2 170zm0-108zm2-50zm0 74zm2-51zm1-6zm1 47zm2 105zm2-138zm3 11zm1-79zm2 163zm0-72zm1 95zm0-117zm2 11zm4 72zm1-90zm1-79zm1 160zm1-102zm1 58zm2-75zm1 118zm1-123zm3 69zm1 25zm1 21zm0-103zm1 39zm1-38zm0 14zm1 47zm1 60zm2-103zm3 64zm1 43zm4-175zm1 180zm0 4zm4-129zm1 28zm0 62zm2-59zm5-12zm1-2zm0-74zm0 94zm1 72zm1 49zm0-87zm2 145zm1-172zm1 64zm0 24zm1-154zm0 37zm1 56zm1-62zm0 44zm1-37zm1-70zm8 74zm0-43zm8 31zm9 69zm9-35zm13-47zm3 105zm0 1zm10-137zm1 81zm0 36zm8-132zm4 7zm13 133zm2-148zm10 30zm2-70zm11 143zm8-111zm9-18zm5 37zm7 61zm8-154zm0 44zm32 144zm0-107zm13-21zm12 2zm1-31zm2-32zm7 5zm3 51z"/><path d="M130 402zm0 22zm1-73zm0 37zm0 43zm1 1zm0 28zm0-61zm1 64zm0-40zm2 28zm1 0zm0-26zm1 37zm0-37zm1 73zm0-11zm4-45zm0-22zm0 21zm0-17zm2-89zm0 160zm2-47zm1 12zm1-9zm0-33zm0-89zm0 135zm4-85zm0 44zm0-4zm0 79zm0-20zm1-6zm0-141zm0 128zm1-20zm1-40zm0 21zm1-10zm0 43zm0-114zm1 78zm1-21zm1 53zm0-50zm1-65zm0 64zm1 14zm0 14zm0-5zm1 9zm0 12zm0-36zm1-9zm0 39zm1-76zm0 114zm1-10zm0-24zm0-28zm0 78zm0-8zm1-100zm1-19zm1 91zm0-29zm1 61zm1-10zm2-42zm1 39zm0-59zm3 53zm0-79zm0 66zm1-79zm0 53zm1-46zm0 83zm1-86zm1 76zm0-181zm1 198zm0-56zm0-1zm1 36zm0-116zm0 140zm1-108zm0 34zm0 52zm1 14zm0-92zm2 93zm0-59zm1-14zm0-38zm1-17zm1 76zm2 30zm4-87zm0 5zm0 103zm2-51zm0 7zm0-19zm1 92zm1-198zm1-23zm0 78zm1 24zm1-8zm0 10zm2-25zm2 0zm2 8zm0-12zm0 45zm1-55zm0 77zm0 0zm1-71zm0 1zm0 88zm1-17zm0-47zm0 61zm1-43zm2-9zm0-39zm1 118zm0 16zm0-184zm2 165zm1-135zm0 145zm0-130zm0 86zm3-22zm0-79zm4-61zm0 121zm4 1zm1-56zm1 70zm1 23zm0-54zm2-17zm0-20zm1 75zm3-40zm2 81zm0 29zm1-26zm0-71zm1 95zm0-38zm1 8zm1-75zm1 16zm1-37zm0 66zm1-30zm0-103zm0 143zm1-25zm0 19zm1 9zm1-6zm0-49zm1-43zm2 158zm1-16zm0-59zm0-147zm0 59zm3-3zm2-7zm1 91zm2-68zm0-54zm1 190zm0-114zm1 37zm0-24zm1-44zm2 143zm0-165zm0 102zm1-83zm1 103zm4 52zm0-76zm0-67zm0-43zm1 42zm1-3zm0-14zm0 163zm1-167zm1 114zm1-132zm0 71zm1-22zm3 72zm0-27zm3 95zm0-98zm0-151zm0 126zm1-91zm0 80zm1 138zm0-112zm0 20zm2-20zm0-35zm1-39zm0 103zm1-106zm0-25zm1 86zm0 56zm3-23zm0 54zm0-164zm3 96zm1 39zm1-149zm2 185zm0-104zm1 67zm3-33zm2-73zm0 84zm2-59zm1-50zm0 36zm0 130zm2-207zm1 56zm0 19zm0 72zm2-75zm1-24zm0 30zm0-52zm0 42zm1 87zm0-121zm0 133zm1-158zm0 112zm2-182zm0 88zm0 149zm1-20zm3-79zm0 121zm0-72zm0-1zm0 43zm1-145zm1 136zm1-101zm0 99zm2-79zm2 20zm2 69zm0-136zm0 86zm1-56zm3-39zm0 56zm1 62zm0-94zm0 142zm2-51zm0 4zm1-41zm1-151zm0 235zm1-94zm0-1zm0 66zm1-11zm1-209zm1 150zm3-15zm1 76zm0-90zm0 86zm3-57zm0 1zm0 70zm2-28zm2-16zm2 16zm2-17zm0-63zm7 132zm2-181zm0 44zm1-31zm2 25zm1-27zm2 101zm2-59zm2 72zm1-55zm0 39zm0-67zm1 89zm2-144zm2 23zm0 60zm1 36zm0 65zm1-107zm1-17zm3-27zm3 65zm0 74zm0-34zm5-175zm0 27zm2 23zm1 31zm4-56zm4 152zm2 0zm1 129zm2-203zm1-96zm1 154zm0-22zm1-107zm0-6zm3-2zm1 23zm2 90zm2 102zm2-173zm1 120zm1-98zm6-55zm2 161zm0-160zm1 34zm1 0zm0 58zm1-94zm0 68zm0 5zm2-72zm1 0zm2 112zm0 79zm1-167zm0 105zm1-17zm1-39zm2 38zm5-138zm3-27zm1 171zm0-41zm3-180zm1 232zm3-69zm0-82zm5-6zm1-69zm0 93zm0 36zm1 241zm1-149zm1 8zm1-174zm0 70zm3 146zm0-78zm1 24zm1-31zm0-14zm0-35zm0-31zm2-46zm1-52zm0 60zm1-5zm0 34zm1-1zm1-12zm0-47zm1 116zm1 74zm0-160zm1 110zm0 16zm2-136zm2 32zm0 18zm1 61zm2-102zm3 41zm0 23zm3 66zm17-148zm1 223zm5-261zm6 145zm4 16zm1 29zm2-104zm3 21zm3 47zm1-89zm7 114zm6-108zm2 57zm6-64zm1 87zm3-104zm15 98zm12-140zm8 78zm12-41zm26 12zm47-108zm8 94zm7-38z"/></g>
<path d="M138.2 417.1H725.3" stroke="#141414" stroke-width="3.8" stroke-dasharray="22.4 6.6" fill="none"/>
<g stroke="#E9962C" stroke-width="10.6" stroke-opacity=".5" stroke-linecap="round" fill="none"><path d="M489 289zm1-52zm0 23zm1-33zm0 1zm3-5zm3 19zm0 3zm2-1zm2-3zm1-30zm0 11zm0 5zm1-34zm1 123zm1-69zm7 83zm0-86zm2-5zm1 39zm1-16zm1-54zm7 48zm1 46zm0-49zm3-20zm2 22zm1-19zm1-28zm1 29zm1-8zm0 24zm3-65zm2 10zm5-21zm0 80zm9-93zm2 89zm1 23zm0 3zm3-123zm1 55zm4 7zm0-79zm1 73zm2 79zm1-100zm2-12zm2 84zm1-53zm3 7zm1 6zm0-91zm2 59zm3 50zm0-44zm3 59zm0-72zm1-21zm0 86zm1 12zm2-134zm4 119zm0-31zm11 30zm3-87z"/><path d="M489 129zm0 66zm4 13zm1 102zm2-32zm2-65zm0 10zm1 9zm2-24zm5 58zm0 29zm2-47zm1-21zm1-19zm1-1zm0 89zm1-83zm1 1zm2-94zm1 64zm0 30zm6 24zm0-98zm1 98zm0-41zm1-11zm8 65zm0-83zm2 162zm1-103zm0 83zm2-155zm2 43zm3 78zm1 58zm1-12zm1-94zm1-87zm1 38zm1 150zm1-43zm3-4zm1 9zm1-32zm1 33zm0-9zm0-18zm2-25zm1-11zm2-44zm3 70zm3-25zm2-70zm3 48zm1 3zm1 25zm4 9zm3 17zm1-69zm3 46zm10 15zm6-16zm1-49zm3-49zm5 97zm4-31z"/><path d="M490 262zm2 27zm2-84zm0 151zm2-136zm2-6zm2 28zm4 28zm0 6zm1 74zm0-58zm0-29zm0 35zm2-24zm2 25zm2-17zm0-56zm2 66zm1-131zm3 87zm0 7zm5-72zm1 77zm1 16zm0-55zm1 23zm1-61zm3 95zm3-19zm2 9zm0 12zm2-38zm2-16zm1-31zm1 9zm1 60zm1-38zm0-17zm0-6zm1 3zm4-76zm1 141zm2-40zm4-85zm10 70zm0 99zm2-89zm0-5zm5 29zm3 28zm0-64zm4 18zm5-39zm1-31zm0 47zm1 29zm2 25zm2-95zm8 76zm1 30zm1-98zm2 50zm6-20zm4 86zm10 6zm1-62z"/><path d="M491 266zm1-25zm0 46zm5-6zm0 6zm1-29zm1 31zm1 53zm7-130zm2 42zm0 32zm1-73zm0 18zm3 38zm3-28zm1 8zm0 84zm2-104zm4 53zm4 26zm0-39zm2-72zm0 28zm0 27zm1-49zm0-36zm2 86zm6 17zm0-61zm1 42zm1 14zm1-17zm1 26zm1-93zm3 3zm2 84zm2 25zm5-28zm0-24zm2 4zm0-50zm2-8zm0-38zm2 77zm2-1zm3-18zm3 68zm3 32zm2-14zm0-96zm5 38zm1-8zm0-36zm1 56zm1 1zm1 59zm1 0zm0-27zm9-60zm2-81zm3 56zm9-49zm1 100zm5-14zm9-7zm2-2z"/><path d="M489 242zm3 14zm0 78zm0-88zm4 14zm0 27zm1 47zm1-107zm2 53zm0-25zm3-14zm0-25zm4 95zm0-59zm4 14zm3 24zm0-52zm1-21zm2-77zm1 112zm2-43zm2 84zm2-35zm7 50zm2-146zm0 45zm1 49zm2-72zm2 56zm0 17zm1-43zm4 31zm2 41zm1-109zm0 70zm6-70zm2 69zm1-71zm0 56zm2-10zm4 89zm2-26zm1-9zm0-56zm1 53zm2 51zm1 0zm4-1zm4-27zm1-133zm3 59zm1 126zm1-139zm6 33zm6 35zm5 53zm4-11zm1-100zm1 3zm1-49zm7 61zm1 1zm4-39zm1 20zm2 124zm1-84z"/></g>
<g stroke="#25285A" stroke-width="10.6" stroke-opacity=".5" stroke-linecap="round" fill="none"><path d="M370 286zm1 120zm0-99zm1 21zm0 45zm2 39zm2-168zm0 93zm0-45zm1 12zm1-74zm0 118zm2-68zm1 24zm0-60zm0-39zm1 130zm0 45zm0-137zm0 184zm1-36zm0-65zm0-104zm1 106zm0-44zm1 75zm0-10zm1-84zm1-20zm2 50zm1-22zm0 32zm2 24zm1 33zm0-138zm0 6zm1 90zm0-33zm1 71zm0-134zm1 47zm1 46zm0 3zm1 4zm1-122zm2 46zm0 57zm1-22zm0-22zm0 58zm1-47zm0 38zm1 31zm0 69zm3-173zm0 38zm0 1zm1-14zm2 5zm0-30zm1 14zm0 46zm0-37zm1 71zm0-9zm0 18zm1-28zm1-152zm0 147zm1-73zm2 6zm3 29zm0 19zm2 11zm0-43zm0-13zm2 37zm1-40zm1 16zm1-13zm0 77zm0-129zm0 90zm1-24z"/><path d="M371 297zm1-18zm1-15zm1 17zm1-16zm0 12zm1 44zm0-31zm0-31zm2 90zm2-136zm0 74zm0 70zm2-121zm1 41zm0-64zm0 66zm1-48zm0 95zm0 12zm1 59zm0-127zm1 20zm0 8zm0 5zm1-6zm1-39zm0 72zm2 20zm1-25zm1-110zm1 47zm0 45zm0-10zm1-17zm1 88zm2-60zm0 7zm0-44zm1 52zm1-4zm1-105zm0 39zm1 39zm0 16zm0-56zm1 23zm0-40zm1 109zm0-98zm0 12zm1 46zm0-33zm0 81zm1-75zm0 73zm1-74zm1 65zm0-58zm3-65zm0 71zm1 45zm0-116zm2 30zm2 14zm0 98zm0-75zm0-49zm1 42zm1-69zm2 46zm1 50zm1 5zm1-38zm0 56zm0-45zm2-13zm1-57zm0 143zm0-41zm1-42zm0 85zm1-93zm0-18z"/><path d="M370 351zm0-14zm1-33zm0 24zm0-80zm1 106zm2-33zm0-74zm0 37zm0-129zm0 111zm1 17zm0-9zm0 20zm0 9zm1-22zm0 63zm1-4zm2-80zm1-20zm1 189zm2-116zm1-42zm0 68zm2-61zm0 42zm2-15zm0 5zm1 5zm0-21zm1-47zm1 31zm0 21zm0 31zm1-88zm1 112zm0-40zm1-114zm1 111zm2-74zm0 44zm0-28zm0 9zm0 72zm1-60zm0 3zm3-28zm0 36zm0-35zm1-21zm0 54zm1 11zm1-29zm1 48zm0-15zm1-32zm2 82zm1-60zm0 10zm0-2zm1-59zm2-9zm1 54zm1 29zm3-33zm0-19zm2-11zm1 4zm1 19zm1-103zm0 171zm1-64zm0-15zm1 131zm0-57zm0-46zm1 4zm1 33zm0-78zm1 30zm0 14zm0-18zm1-10zm0 9z"/><path d="M371 390zm2-44zm0-46zm0 67zm1-41zm0 130zm0-162zm1 59zm0-19zm1-83zm0 86zm1-66zm0 10zm3 25zm0 22zm3 14zm1-37zm0-20zm1 17zm0-54zm1-3zm1 39zm0 73zm0-54zm1-71zm0 110zm1-34zm1-45zm0-37zm1 20zm1 48zm0 31zm1-89zm1 15zm1 7zm1-46zm0 90zm0 20zm1 38zm1-86zm0 46zm1-75zm1 11zm1 57zm0-55zm0-4zm1 98zm0-105zm1 85zm2-64zm1 11zm1-26zm0 36zm0-87zm0 77zm1 32zm0-65zm0 117zm1-43zm1-51zm0 91zm1 13zm0-67zm2-83zm1 47zm0 5zm1 0zm0-77zm1 72zm1 43zm1-61zm0 28zm1-2zm1-9zm0 3zm1 0zm1-2zm0-76zm1 1zm0 132zm4-82zm0-12zm0 43zm1-3z"/><path d="M370 368zm1-146zm0 137zm1-57zm1 0zm1-11zm0-54zm1 62zm1 49zm0-24zm0-57zm1 71zm0-42zm0 85zm1-115zm0 65zm2 62zm0-40zm2-115zm2 18zm1 14zm0 23zm1-7zm0 33zm1-81zm0 117zm0-112zm1-7zm0 47zm2 32zm0-35zm0 52zm1-34zm0-48zm1 58zm0-64zm1 84zm1-31zm2 2zm0 17zm1-111zm1 51zm1 55zm0-45zm0-84zm1 73zm1 122zm0-45zm0 50zm1-100zm1 7zm0-8zm1 8zm0 111zm1-100zm0 14zm2-24zm1-5zm0-85zm1 131zm1 19zm0-29zm0-73zm1 105zm1-109zm1 48zm1 0zm0 13zm1-69zm0-8zm2 70zm0-10zm3 55zm1-22zm0-30zm1-34zm1-33zm1-1zm2-15zm1 92zm1 30zm0-3zm0-27z"/><path d="M370 355zm1-26zm1-85zm0 86zm0-107zm1 46zm0 54zm2-92zm0-9zm0 25zm1 127zm0-189zm1 119zm0 20zm3 86zm2-124zm0-31zm0-39zm3 34zm0 18zm0 38zm1-115zm0 106zm1 13zm0 84zm0-92zm0 13zm2-60zm0 53zm1-2zm1-46zm2 94zm0-112zm2 9zm1-5zm0 73zm0-45zm1 45zm1-9zm1-16zm1 38zm0-16zm0 4zm0-114zm1 68zm1-5zm1 1zm1 26zm0-63zm0 31zm0 25zm2-5zm1-17zm0 68zm2-94zm0 29zm0 29zm1-17zm0-9zm1 23zm0 23zm1-121zm0 110zm1-32zm2 24zm2-78zm1 76zm2-39zm1-8zm0-18zm0-17zm1 81zm1 29zm0-84zm1 27zm0 27zm1-94zm1 36zm0-36zm1 81zm1 1zm0 0zm0-10z"/></g>
<g stroke="#3FA3C9" stroke-width="10.6" stroke-opacity=".42" stroke-linecap="round" fill="none"><path d="M337 337zm2 0zm2 0zm1 11zm4-50zm2 42zm3-129zm1 82zm2 46zm2 45zm2-127zm0 17zm0 23zm1 43zm0 2zm2-59zm1 51zm1-66zm0 1zm0 59zm1-19zm1 53zm0-133zm1 137zm1-84zm1 100zm0-54zm0 4zm1-82zm2-39zm2 122zm1-34zm1 22zm0 6zm3-94zm1 19zm0 83zm1-59zm1 15zm1-18zm1 100zm1-114zm0 3zm0 2zm0 69zm3-51zm1 36z"/><path d="M337 311zm1 88zm1-103zm4-35zm2 26zm11 10zm0-23zm0 13zm1 1zm1 32zm2 14zm2 16zm1 37zm2-38zm1-40zm1-30zm0-15zm1 113zm0-71zm2-53zm1 51zm0 1zm0 25zm0-17zm0 97zm2-105zm2-46zm0 39zm1-10zm1 37zm1-28zm1-8zm1 87zm1-68zm0-55zm1 36zm2 46zm0-24zm1 36zm0-62zm0-4zm0 61zm1 6zm1-36zm0-73zm1 84z"/><path d="M336 300zm3 49zm2-95zm3 90zm4-30zm2-53zm2 139zm2 16zm1-107zm0-60zm0 115zm1-55zm0 58zm1-20zm1 12zm1-50zm1-5zm0 70zm0-81zm3 23zm1-27zm3 69zm2-53zm0 34zm1-9zm0-53zm1 100zm1-71zm0-21zm2 15zm1 47zm1 39zm0-44zm1-87zm1 17zm1 22zm1 32zm0 6zm1-59zm0 82zm1-119zm0 9zm2 21zm1 16zm2 1zm1-30z"/><path d="M337 425zm9-49zm0-9zm5-124zm0 45zm2 43zm0 1zm1-20zm2-65zm3 111zm0-29zm2 68zm0-95zm1-67zm0 85zm2-18zm2 6zm1 48zm1-69zm0 33zm1-1zm0 28zm1-23zm1-21zm1-39zm1-17zm0 111zm1-105zm2 120zm0-150zm1 63zm1 21zm1 25zm1 12zm0 11zm1-104zm2 17zm0-10zm1 33zm1 62zm0-74zm2 51zm0-74zm1 91zm0-74zm0 103z"/></g>
<circle cx="382.5" cy="345" r="7" fill="none" stroke="#DE1984" stroke-width="5.9"/>
<path d="M259 476.6H417.6" stroke="#3FA3C9" stroke-width="2.2" fill="none"/>
<path d="M263.9 484.5H497.8" stroke="#25285A" stroke-width="2.2" fill="none"/>
<path d="M370.7 492.7H681.9" stroke="#E9962C" stroke-width="2.2" fill="none"/>
<path d="M130.2 57.5V502.4H726" stroke="#141414" stroke-width="4" fill="none"/>
<path d="M128.2 502.4h-5M128.2 436.8h-5M128.2 371.2h-5M128.2 305.6h-5M128.2 240h-5M128.2 174.4h-5M128.2 108.8h-5M187.3 504.4v5M259 504.4v5M330.8 504.4v5M402.5 504.4v5M474.3 504.4v5M546 504.4v5M617.8 504.4v5M689.5 504.4v5" stroke="#878787" stroke-width="3" fill="none"/>
<g font-size="19" fill="#878787"><text x="116" y="509.4" text-anchor="end">0</text><text x="116" y="443.8" text-anchor="end">1</text><text x="116" y="378.2" text-anchor="end">2</text><text x="116" y="312.6" text-anchor="end">3</text><text x="116" y="247" text-anchor="end">4</text><text x="116" y="181.4" text-anchor="end">5</text><text x="116" y="115.8" text-anchor="end">6</text><text x="187.3" y="530.6" text-anchor="middle">1.0</text><text x="259" y="530.6" text-anchor="middle">1.5</text><text x="330.8" y="530.6" text-anchor="middle">2.0</text><text x="402.5" y="530.6" text-anchor="middle">2.5</text><text x="474.3" y="530.6" text-anchor="middle">3.0</text><text x="546" y="530.6" text-anchor="middle">3.5</text><text x="617.8" y="530.6" text-anchor="middle">4.0</text><text x="689.5" y="530.6" text-anchor="middle">4.5</text></g>
<text x="428.7" y="35.5" font-size="38.7" text-anchor="middle" fill="#141414">Central North America</text>
</g>
<g>
<g stroke="#787878" stroke-width="5" stroke-opacity=".095" stroke-linecap="round" fill="none"><path d="M796 472zm1-43zm0-7zm0-18zm1 85zm1-25zm2-80zm0 44zm1-10zm0 65zm1 3zm0-41zm1 40zm0-37zm0 28zm1-24zm1 21zm0 25zm1-47zm0-32zm0 3zm1-72zm0 49zm0 67zm0 9zm1-129zm0 26zm3 97zm1 15zm0-14zm0-113zm0 69zm1-9zm1-37zm0 64zm0-48zm2 32zm0-2zm1 22zm0-8zm1 38zm2-138zm0 91zm1-11zm1-44zm1 39zm0-78zm1 79zm0-16zm0-13zm1 78zm1-73zm2 106zm3-18zm0-77zm1-45zm1 98zm0 6zm1-86zm1 85zm1-58zm0 49zm1 22zm1-10zm2-12zm0-37zm0 80zm2-78zm1-21zm0-64zm1 126zm2-133zm1 139zm1-119zm2-18zm1 59zm0 53zm1 52zm0-115zm1 31zm2 53zm1-98zm0-35zm2 86zm2-53zm0 6zm0-38zm0-31zm0 147zm1-14zm0-10zm0-90zm1 54zm0 46zm0 33zm0-53zm1 74zm1-54zm0 11zm1-30zm0 3zm0-64zm0 88zm2-65zm1-96zm0 108zm4-97zm1 71zm1 58zm1 16zm1 18zm0-64zm2 28zm1-119zm2-12zm0-6zm0 60zm1 23zm2 16zm1 15zm1-28zm0-26zm0 10zm1 67zm0-28zm1-8zm0 78zm0-5zm1-100zm0 59zm1-10zm0-41zm0 70zm0-61zm1 69zm2-19zm0-57zm0-29zm0-2zm2 60zm1-28zm0-74zm1 40zm0-101zm1 192zm0 49zm1-142zm0 117zm0-112zm1-1zm0 72zm0 67zm1-206zm0 167zm2-49zm0-70zm2 108zm0 31zm1-182zm2 193zm2-177zm0 101zm0 50zm1-71zm0-95zm2 222zm3-7zm0-35zm2-71zm0 54zm0-49zm1-58zm1-23zm0 147zm2-45zm0-69zm2-4zm2-6zm0-97zm1 104zm3 11zm1 116zm1-45zm0-60zm1-57zm0-5zm0 34zm0 115zm1-86zm0 44zm1 16zm0 63zm1-115zm0-57zm1 102zm0 17zm0 34zm2-116zm0 123zm2 2zm0-83zm1-63zm1 176zm1-149zm1-40zm0-31zm0 111zm0-105zm0 86zm1 63zm0-99zm0-31zm0 62zm1-19zm1-30zm0-35zm2 117zm0-182zm0 146zm0 59zm2-148zm0 95zm1 13zm3-3zm1-38zm0-26zm0 147zm1 25zm0-156zm0 105zm0-33zm1-41zm0 72zm0-114zm4 21zm0-29zm2 28zm1 2zm2-12zm0 139zm0-230zm2 47zm2 96zm0-96zm1 78zm0-52zm1-85zm3 113zm2-17zm2 20zm1 89zm2-54zm2-78zm1 152zm0-162zm0 127zm0-25zm3-104zm0 164zm0-88zm1 111zm0-176zm0 12zm1-11zm1 7zm5 78zm2 19zm0 65zm2-114zm6 15zm0-72zm3 69zm0 16zm0 43zm1-46zm2-103zm2 80zm1-94zm0 188zm2-49zm0-90zm0 13zm2-35zm0 70zm0 135zm2-112zm2 2zm1 54zm1-179zm1 46zm1 114zm1-67zm1 50zm0-18zm1-38zm0 48zm2-6zm3 19zm3-4zm0-20zm1-121zm1 126zm0-108zm1 78zm0-16zm1-82zm1 3zm1 36zm1 63zm0-143zm0 178zm1-42zm0 5zm1 56zm2-86zm3-94zm1 45zm2 17zm1-19zm0-62zm1 105zm2 11zm0-21zm0-9zm0 1zm3 155zm0-91zm1-21zm3-63zm0 45zm3-7zm2 43zm2 84zm0-31zm1-31zm0-8zm3-11zm0 70zm3-240zm1 80zm4-76zm1 70zm1-12zm1 218zm4-28zm0-126zm1 102zm2-174zm2 0zm1-30zm0 30zm1 58zm2-169zm1 174zm1-142zm0 160zm0-74zm1-3zm0-104zm0 140zm4-47zm3 31zm1-89zm0 136zm2-21zm0-24zm0-153zm2-8zm0 241zm2-122zm1 44zm4-96zm1 68zm0 80zm4-113zm0 211zm1-115zm3-36zm0 27zm3-38zm2-178zm3 227zm1-78zm0 128zm1-122zm1 39zm1 23zm1-16zm1-19zm1 73zm2-53zm0 84zm1 36zm2-92zm1 19zm0-133zm1 173zm1-94zm0-79zm8 82zm2-76zm0 78zm7 12zm2-33zm2 12zm3-29zm17 1zm7 106zm4-282zm8 100zm1 38zm17 72zm1 71zm3-164zm0 99zm5-131zm24-38zm21 62zm13-112zm3 38zm4 37zm13 14zm5-6zm7-56zm16 199zm5-142zm1 70zm15-37zm3-48zm3 88zm0-31zm3 20zm5-67zm2 45z"/><path d="M796 405zm0 39zm1-18zm0 7zm0 31zm1-47zm0-23zm0-6zm1-32zm0 89zm0-48zm1 39zm0 42zm1 7zm0-111zm0-31zm1 24zm1 106zm0 0zm2-93zm0 66zm0-101zm2 114zm0 12zm0 20zm1-56zm0-32zm1 66zm0-34zm0-19zm1-57zm0 40zm1-6zm0 77zm0-112zm1 68zm0 64zm0-2zm2-75zm1-53zm1 39zm0 34zm0-54zm0 112zm1 4zm0-66zm1 48zm0-3zm1 9zm1-11zm0-25zm1-36zm1 70zm1-59zm1-16zm1 31zm0-13zm1-10zm0-14zm1 39zm1-141zm2 34zm3 103zm1 17zm0-109zm0 73zm1-5zm1-107zm1 123zm0 4zm1 5zm0 9zm2-51zm0 3zm1-23zm0 121zm1-32zm1-56zm2 54zm0 33zm2-110zm0 12zm1 45zm1-81zm1 132zm2-16zm0-6zm1-81zm1-34zm0 74zm1-6zm3-13zm1 63zm0-97zm1 26zm0 17zm1-47zm1 20zm0 58zm0-27zm0-42zm0 72zm1 38zm0-98zm1-100zm1 100zm1 85zm0-41zm0-97zm0 125zm1-75zm0-31zm1-33zm1 123zm2-71zm0 20zm0-8zm0 15zm1 48zm1 0zm1-96zm0 20zm1 4zm1-83zm0 113zm0-65zm1 102zm0-71zm1 117zm1-82zm0-15zm0 10zm3-24zm0-94zm0 36zm0 85zm1-53zm0 103zm0 21zm1-18zm0-122zm1 45zm0 2zm0-12zm1 99zm0-47zm0-15zm1 49zm0 32zm3-169zm0-16zm1-17zm0 109zm1-35zm0-5zm0-55zm0 44zm1-36zm1 141zm0-27zm0-27zm1-59zm0 70zm0-76zm0 36zm1 84zm4-78zm1 82zm1-84zm0 15zm0 39zm1-53zm1 36zm1 9zm0-109zm0 80zm0-46zm2 97zm0-36zm1 7zm0-48zm2-29zm4 24zm1-5zm1 25zm1-63zm3 88zm1-8zm0-96zm0-62zm0 73zm1 76zm0 40zm2-8zm1-17zm0-59zm1 20zm0 35zm1-71zm0 32zm1 37zm0 29zm1-24zm0 50zm4-101zm0 41zm1 61zm1-43zm1-148zm0 138zm1-4zm2-21zm1 27zm1-72zm0 117zm1-58zm2 51zm1-31zm0-112zm0 108zm2 15zm0-53zm3-4zm0 20zm0 3zm1 11zm0-97zm1 62zm0 72zm0-146zm1 76zm2 66zm2-67zm0 82zm0-99zm1 50zm4-102zm1-16zm0 203zm0-178zm1 39zm1 55zm2 12zm0-7zm0-222zm1 239zm0-168zm3 64zm2 108zm0 45zm1-118zm1-42zm1 71zm4-3zm4 60zm2-48zm0-15zm1-99zm1 0zm0-15zm3-36zm3 120zm0 1zm2 34zm0-94zm2 48zm2 31zm1-76zm3 63zm1 60zm1-72zm0-89zm2 68zm3-77zm2 203zm1-144zm0-18zm2 57zm0 78zm2-92zm4-69zm1 60zm2 6zm4-4zm1-98zm0 48zm1 111zm0-67zm1 21zm0 122zm1-85zm1-23zm0-87zm0 129zm2-168zm0 35zm2 81zm3 24zm1-90zm0 66zm2 21zm1 101zm1-249zm1 29zm1 60zm3-57zm2-74zm1 128zm0 104zm2-44zm0 7zm2-107zm1 149zm0-126zm2 9zm4 74zm3-41zm3-191zm4 200zm1-23zm1-49zm2 92zm1-194zm0 128zm2-62zm0 111zm1 104zm1-137zm0 13zm1-167zm0 129zm1-109zm0 109zm0 67zm4-52zm1-115zm1 100zm0 46zm1-13zm0-69zm3 7zm0 149zm1-133zm0 78zm1-44zm0 115zm4-149zm3 40zm6-44zm2 51zm1-61zm1 134zm0-78zm1-96zm4 112zm1-82zm0 100zm1-190zm2 161zm1-114zm1 27zm4-42zm0 89zm2 4zm2-36zm1 94zm1-65zm0-69zm0 9zm1 6zm2 70zm1-4zm1-18zm1 57zm2-133zm0 73zm0 3zm2-68zm1 92zm1 60zm0 33zm0-135zm1-52zm1 22zm0 45zm0 65zm2-56zm1 17zm1-118zm4-19zm0-23zm0 199zm0-14zm2-31zm1-28zm1-86zm1 188zm1-64zm2 23zm1 33zm2-110zm1 46zm6-62zm20 115zm2-129zm32 48zm22 14zm15-107zm20 68zm2 51zm3-151zm1 159zm4-57zm1 171zm1-158zm2-89zm2 126zm1-200zm1 142zm3 5zm2-47zm20 70zm8-41zm0-120zm4 2zm4 343zm6-280zm0 62zm16 53zm2-124zm5 47zm2-78zm6 38zm8 62z"/><path d="M797 424zm1 23zm0-10zm0 57zm0-93zm0-7zm1 46zm0-47zm1-33zm1 121zm0-45zm1 46zm0-58zm0-11zm3 25zm0 21zm0-74zm1 63zm0 34zm0-61zm1-83zm0 34zm0 89zm2-20zm1 25zm2-60zm1-4zm0 86zm1-87zm0 58zm1-53zm1 48zm0-12zm1 12zm0 1zm2-68zm0 76zm0-30zm0-83zm1 145zm0-117zm0-93zm0 169zm2-1zm0 28zm0-90zm1 37zm0 62zm0-21zm0-46zm1-72zm0 11zm0 120zm1-61zm0-25zm0-27zm2 102zm0-6zm1-38zm0-20zm1-106zm2 156zm2-9zm1-88zm0 79zm3-59zm0 20zm1-79zm0 65zm1 101zm0-23zm0-82zm1-38zm2 17zm0 48zm0 32zm0-86zm1 51zm0-21zm2-72zm1 156zm0-107zm0 58zm1 33zm0-2zm1-154zm0 118zm1-5zm0 4zm0-27zm0 64zm1 39zm0 5zm0-50zm1 6zm0 19zm0-19zm1 6zm0 35zm1-90zm0 6zm0 28zm3 47zm0-56zm0 13zm0 13zm0-149zm1 123zm1-25zm1 9zm1-205zm2 161zm1 34zm0-86zm1 140zm1-115zm1 45zm0-67zm0 108zm1-69zm0-27zm1 37zm2 59zm1 18zm1-90zm2 124zm2-64zm0-162zm0 85zm1 21zm2 45zm1 50zm1-22zm0 53zm1-82zm0 21zm0-126zm0 42zm0-14zm1 169zm0-112zm0 70zm1-78zm0 40zm3-127zm2 111zm1-7zm0 91zm2-73zm0-72zm2-24zm3 10zm1 124zm0 37zm0-40zm2 31zm0-20zm2-124zm0 109zm1-15zm2-151zm1 124zm1-92zm1-17zm1 178zm0-46zm2-13zm2-2zm0-58zm2 49zm1-19zm1 28zm0 49zm2-89zm0 38zm0-143zm0 166zm1-73zm0 63zm0-61zm1 34zm3 84zm0-48zm0-81zm1 24zm3 40zm1-15zm0-49zm1 58zm0-102zm0-23zm0 84zm1 75zm1-118zm3 43zm0-131zm1 87zm0 66zm1 41zm1-37zm1-42zm0 99zm1 39zm0-70zm0-84zm1-3zm0 65zm1-60zm3 19zm0-65zm1 129zm1-42zm1 66zm0 13zm2 17zm0-64zm2-102zm1-24zm0-14zm1 24zm0 51zm0 149zm3-63zm0 2zm1-101zm1 84zm1 70zm0-181zm0-20zm2 60zm1 108zm0-82zm2 68zm1-57zm0-100zm0 99zm0-29zm0 32zm1 67zm0-33zm1 35zm1-96zm0 78zm1 13zm1 26zm0-117zm1-2zm0 19zm0-37zm1 59zm2 65zm1-132zm1-43zm0-21zm4-16zm1 167zm0 47zm1-87zm3 6zm0-108zm1 94zm1-138zm1 139zm3 82zm0-82zm2-5zm1 9zm0-63zm1 40zm1-20zm1 16zm3 6zm1-15zm0-5zm0 96zm1-62zm0 44zm1-56zm2 87zm1-68zm2-1zm1-70zm0 53zm2 41zm2-51zm0-106zm1 65zm0 73zm1 33zm0-21zm1-103zm1 108zm0-11zm0 2zm3-28zm3 101zm2-179zm0 114zm4-124zm0 110zm1-19zm0 66zm1-13zm2-29zm0-53zm2 52zm1-28zm4-42zm2 110zm1-168zm0 85zm1 22zm2 46zm2-74zm0 27zm0-49zm1 35zm5 64zm1-67zm1-94zm3 33zm2-43zm2 5zm0 75zm0 97zm0-190zm1 96zm0 17zm0-49zm1 83zm0-112zm0-15zm1 115zm1-25zm0 62zm4-190zm1 207zm0-101zm6-40zm1-36zm2 64zm1-20zm1 31zm5-91zm4 113zm1-51zm0 19zm2-35zm0 49zm2 57zm2-56zm0-21zm1-53zm5 105zm1-9zm4-175zm1 40zm3 11zm1 106zm1-42zm3 87zm3-29zm0 20zm2-65zm4 16zm0 30zm6-125zm0 10zm2 186zm0-130zm1 61zm4 13zm2-94zm2-99zm0 268zm4-147zm0 21zm0 96zm0-75zm1 77zm1-230zm0 70zm1 69zm1-111zm1 14zm0 150zm0-133zm3-2zm3 146zm0-190zm1 63zm2 128zm0-209zm1 166zm1-188zm0 205zm0-69zm2-97zm9 110zm0-91zm9 216zm15-134zm1 31zm1-121zm24-57zm8-47zm1 125zm9-82zm6 119zm5 10zm7-118zm15 23zm1 54zm3-60zm1 36zm6-58zm1 51zm11-20zm1 96zm1-139zm0-36zm3 71zm10 84zm3-117zm2 249zm7-3zm6-201zm5-65zm8 145zm5-76zm1 39zm24-30zm10-112zm0 32z"/><path d="M797 361zm0 48zm0-83zm1 63zm0 84zm0-85zm1 89zm1 15zm0-39zm0 0zm0-103zm1 120zm0-92zm3 121zm0-56zm0 5zm0-92zm1 32zm0 1zm1 75zm0-109zm0 116zm0 29zm0-69zm1-15zm0 33zm0-25zm3 55zm0-113zm0 17zm0-25zm1 75zm0 40zm0-33zm1-47zm1 24zm0 35zm1 39zm1-118zm1 44zm0 19zm1-27zm1 62zm0-27zm0-19zm2 56zm0-76zm0-50zm0 78zm0 20zm1-48zm0-118zm1 170zm1-18zm0-97zm1-21zm1 60zm1 72zm0 10zm0-37zm1-70zm0-25zm1-43zm0 203zm2-114zm0 33zm0 58zm0-10zm1 26zm1-70zm0-88zm1 65zm1-58zm0 139zm0-82zm1 30zm0-20zm3 67zm0-118zm1 121zm0-94zm1-19zm1-32zm0 79zm0 50zm1-75zm1 48zm0-36zm0-13zm1 47zm0 49zm0-136zm1 99zm0 28zm0-52zm1 66zm1-4zm1-71zm0-27zm1-121zm1 241zm0-14zm0-112zm0 100zm2-102zm3 38zm1 89zm1-4zm1-105zm0-96zm1 95zm2-30zm0 26zm0 72zm1-62zm1-78zm0 124zm1-64zm1 9zm0 6zm0 52zm0 53zm0-112zm1 14zm1 36zm0-8zm1-81zm1 3zm0 28zm0 26zm2 97zm1-55zm0 18zm0-84zm1-123zm0 124zm0 86zm0-135zm0-44zm1 152zm2-34zm0-77zm0 94zm0-24zm1-7zm0 65zm0-16zm2-95zm0 56zm0 85zm0-110zm0 51zm0-85zm2-155zm0 301zm1-142zm0 79zm3-117zm3 56zm2 65zm1 53zm0-142zm1 69zm2-42zm1 38zm1 80zm0-77zm1 46zm0-155zm1 177zm0-125zm1 138zm0-207zm0 213zm1-34zm0-96zm0 57zm0-44zm0 114zm1-203zm4 121zm0-39zm0-74zm2 69zm0 27zm1-94zm3 45zm0 39zm0-52zm1 35zm1-21zm5 33zm1-51zm1-1zm1 82zm1-31zm0-12zm0 3zm0 24zm1 30zm0-73zm0 30zm2 50zm1-108zm1-52zm2 179zm2-49zm0-14zm3-13zm1 92zm0-151zm3 123zm1 61zm1-37zm0-31zm1-80zm0 67zm0-59zm1 19zm2 88zm2-61zm0-27zm0-49zm2 37zm0 6zm0 10zm1 21zm1 30zm0-65zm1 6zm0-2zm1 7zm1-72zm1 34zm2 118zm0-26zm2 64zm0-145zm2 67zm0-117zm4 31zm0 1zm1 158zm0-96zm0-93zm0 36zm1 35zm0-66zm1 33zm3 60zm0 55zm1-6zm3-129zm2 91zm0 28zm1-58zm3-54zm0 44zm0 50zm1-15zm0-35zm0-116zm6 201zm1-157zm0-94zm1 116zm1 76zm0-53zm1-86zm1 225zm1-58zm2-148zm2-25zm1 161zm0-55zm0 27zm1-57zm2-68zm0 106zm2-35zm3-8zm0 61zm3-89zm0 64zm2-6zm3 15zm2 42zm1-130zm1 97zm1 69zm3-73zm1-32zm1-140zm2 65zm1 61zm1 51zm1-10zm2-2zm3 15zm1-95zm1 102zm1-17zm1-142zm1 113zm1-55zm1-20zm0 86zm1-59zm0 143zm0-61zm0-123zm1 21zm1-4zm0 51zm0 39zm1-30zm0 5zm1 81zm1-3zm1-136zm1 0zm1 109zm5-63zm1 90zm3-144zm0 38zm1-32zm0 193zm0-161zm3 18zm1 111zm2-161zm1-6zm2 56zm1-107zm1 54zm1 11zm0 52zm1-51zm0-66zm1-40zm2 245zm1-178zm1 26zm0-8zm1 124zm1-16zm1 7zm5-67zm1 23zm0 47zm1-228zm1 316zm8-186zm4 63zm0-21zm2 30zm3-147zm1 26zm1 60zm2-93zm0 123zm2 22zm0-49zm0-45zm5 37zm1 49zm3-170zm0 53zm2-19zm0 135zm3-115zm13 259zm0-332zm1 140zm0 62zm3-72zm0 133zm4-86zm2-55zm0-90zm1 158zm0 61zm2-145zm0 152zm0-6zm4-295zm2 93zm1 100zm0-26zm1 96zm1-122zm2 154zm0-110zm1-140zm1-43zm2 125zm1-2zm1 121zm1 80zm4-151zm1-71zm23-47zm5 72zm3-27zm4 30zm5-2zm4 18zm9-117zm4 126zm3-40zm5-11zm20 35zm5 17zm5-109zm2-16zm0 64zm8 13zm5 30zm12-77zm5-58zm17 26zm8 103zm27-54zm1-43zm2 130zm2-51zm9-56zm1-39zm11 88zm4-146zm2 144zm3 1z"/><path d="M797 500zm1-38zm1 15zm0-11zm1-89zm1 116zm0-79zm1-49zm0 130zm0-64zm0 57zm1-49zm0 42zm0-19zm2-71zm1-2zm0-40zm0-2zm0 128zm1-137zm0 112zm1-20zm1-1zm0-47zm1 109zm1 4zm0-51zm1 21zm0-79zm0 10zm1 88zm3-5zm0-61zm1-3zm0 37zm1-21zm1-57zm0 84zm1-60zm0 40zm0 42zm2-72zm0 60zm1 0zm1-64zm0-32zm1 61zm0-99zm0 54zm1 72zm0-60zm1 32zm0 14zm1-78zm0 60zm1-69zm0-19zm0 108zm0-33zm0 13zm0-12zm1 12zm0-40zm1 10zm0-25zm0 3zm1 62zm0-121zm1 103zm1 63zm0-112zm1 20zm0 105zm1-62zm0-92zm1 71zm0 8zm1 22zm0-108zm0 86zm0-17zm0 89zm0-74zm0 65zm1-119zm1 49zm1-88zm0-32zm1 126zm0 41zm1 2zm1-3zm1-3zm0-88zm1 69zm1-49zm0 47zm1-96zm1 124zm1 24zm2-65zm0-31zm1 12zm1 40zm0-125zm0 61zm1-54zm0 155zm1-42zm0 55zm1-83zm0-90zm1 81zm0-75zm0 30zm0 89zm3-30zm1-67zm0 70zm0-61zm1 118zm1-44zm0 21zm0-62zm0 47zm1 43zm0 0zm0-50zm0-103zm0-4zm1 69zm0 33zm4-7zm0-53zm0 33zm2-69zm0 55zm0 100zm1-9zm0-15zm1-118zm0-62zm0 67zm0 107zm0-138zm1 41zm0 6zm1 54zm0 65zm0-83zm1 55zm0-24zm1-22zm1-19zm0-85zm1 80zm1 22zm0-93zm0 68zm1 113zm2-76zm0 52zm0-6zm1-61zm0-156zm1 212zm0-80zm2 55zm2-77zm0 82zm0-10zm1-31zm1 4zm0-19zm1 6zm0 108zm2-136zm0-20zm0 19zm0 88zm2-91zm0-2zm1 119zm1-88zm0-26zm1 26zm1 66zm1-117zm0 97zm1-65zm0 103zm0-154zm2 78zm0-98zm1 172zm0-132zm0 17zm1 63zm1-55zm2 52zm3-53zm0-1zm0 74zm1-25zm0-193zm0 282zm1-63zm1-75zm0 70zm0-49zm2 32zm0-68zm1 10zm0 35zm1 52zm4-42zm1-22zm1 18zm2-41zm0-45zm2 166zm1-50zm0-19zm3-190zm0 190zm2 54zm2-94zm1-23zm1-16zm3 57zm0 6zm1-38zm0-80zm1 137zm1-38zm0 92zm1-120zm1 73zm0-24zm0 88zm2-118zm1-28zm2-35zm0 61zm0-41zm1 99zm1-71zm0-1zm1-94zm1 108zm0 67zm0-176zm2 134zm0-27zm2 75zm1 18zm1-26zm0-80zm1-77zm0 122zm0-16zm3-81zm0-21zm1 180zm3-110zm1 19zm0-80zm0 40zm1-71zm0 6zm1 211zm1-49zm0-29zm1-63zm1 84zm0-152zm1 65zm0 34zm3-51zm2-39zm2-17zm0 162zm0-69zm0-79zm2 162zm1-80zm0-47zm0 10zm0 128zm2-10zm1-26zm0-67zm1-102zm1-34zm1 140zm1 11zm1 32zm2-90zm0 54zm1-25zm1 101zm4-65zm0-76zm1 45zm1 4zm1-71zm1 85zm1-18zm2-34zm3-96zm0 143zm1 20zm0-68zm2-2zm0-48zm1 41zm2-34zm1 220zm0-205zm2 55zm4 114zm0-33zm2-90zm2-9zm1-7zm0 134zm1-108zm3-83zm0 103zm1-176zm0 146zm3-2zm2-57zm1 92zm1-34zm0-15zm2-5zm2-56zm1 127zm5-23zm3-23zm1-40zm1-80zm1 161zm1-42zm3-68zm7-84zm1 99zm1 141zm1 6zm1-95zm3-75zm2 18zm0 139zm1 56zm0-248zm2 93zm4-84zm0 116zm1 144zm0-121zm5-179zm0 174zm2-118zm1-25zm1 106zm2 47zm3-125zm1-83zm3 118zm1 77zm6-114zm1 177zm4-94zm2-63zm2 45zm1-1zm2 98zm0-41zm3-204zm2 136zm6 100zm1-144zm0 137zm1-194zm2 240zm1-40zm0-156zm3 36zm0 171zm4-177zm2-64zm1 31zm0-101zm0 76zm2 170zm0-53zm1-77zm0-17zm1 130zm1-96zm1 62zm3 86zm1-141zm0 37zm1 2zm0-67zm2 62zm17-45zm0-83zm14 85zm2 65zm16-14zm8-123zm1 94zm5-121zm1 43zm4 159zm21-133zm10-63zm3 117zm6 60zm21-164zm22-39zm4-25zm4-29zm39 123zm1 84zm8-124zm5 38zm6 16zm3-78zm3 27z"/><path d="M797 418zm2 36zm0-122zm2 117zm1-61zm0 19zm0 7zm1 63zm1-57zm1-40zm0 1zm1 102zm0 7zm1-39zm1-28zm0-121zm1 31zm0 122zm1-15zm0 61zm0-50zm1-2zm0 7zm0-14zm1-37zm1 49zm0-36zm1-79zm2 19zm1 132zm0-86zm1 73zm1-15zm1-33zm0 14zm1-60zm3 83zm0-108zm2 125zm0-122zm1 53zm0-16zm0 97zm0-41zm0-45zm1 13zm1 36zm1-62zm1 14zm0 40zm1-64zm1-35zm1 65zm0-67zm0 122zm1 18zm0-42zm1-84zm1-10zm0 113zm1-104zm0 108zm0-98zm0 41zm0 69zm2-21zm0-51zm1 28zm2 13zm0-133zm0 86zm1 11zm0 41zm0-26zm0 70zm1-138zm0 65zm0 5zm1 36zm1-35zm1 60zm0-44zm1-85zm1 126zm2-151zm0 103zm0 50zm0-126zm1 37zm3-69zm0 107zm0 10zm1-153zm1 157zm0 24zm1-5zm3-39zm0-7zm1-31zm0-107zm1 97zm2-21zm0-14zm0 57zm0 20zm0 14zm1-14zm0-97zm1 135zm1-95zm0 88zm1-46zm1-3zm0 49zm0-106zm0 109zm0-113zm2-32zm1 96zm0 45zm1-132zm2 60zm1 80zm1-115zm0-9zm0 115zm1-54zm1-10zm0 19zm0 61zm1-102zm1 63zm0 56zm0-28zm1-148zm0-17zm0 164zm0 8zm1-110zm0-2zm1 103zm1-102zm1 6zm2 77zm0-48zm0 4zm1-99zm0 36zm0 78zm1-31zm1 13zm1 66zm1-44zm1-25zm1-83zm0 47zm0 77zm2-87zm0 130zm2-185zm0 79zm1-49zm2 1zm0 18zm1 99zm1-33zm0-61zm0 112zm0-38zm1 34zm1-7zm0-45zm0-38zm1 31zm1-28zm0-29zm1 74zm2 9zm1-103zm1 60zm0 77zm0-69zm1-11zm1 17zm0-2zm1-69zm0 30zm0 73zm0-100zm0 77zm1-10zm1 72zm1-141zm1 23zm1 58zm1 37zm2-125zm1 134zm0-110zm2 19zm0-1zm1-41zm1 97zm0 24zm0-170zm1 136zm1-54zm1 38zm0 72zm0 24zm1-147zm1 70zm0-76zm0 148zm0-36zm0-78zm1-24zm1-12zm0-77zm0 22zm2 103zm1 76zm1-51zm2-62zm0 37zm2-45zm0 16zm3-48zm2 107zm1-120zm1 140zm1 58zm2-82zm0-28zm0 52zm1-38zm0-30zm0 24zm3 43zm0 13zm0 60zm0-144zm2-34zm0 101zm2-120zm1-33zm0 85zm1 15zm0 91zm1-98zm4-143zm3 205zm0 70zm1-138zm0-94zm1 113zm1-7zm0 41zm1-50zm2 36zm2 14zm1 9zm0-158zm0 96zm1-3zm1 30zm0-3zm1-34zm1 6zm0 34zm2-19zm1-31zm0 13zm1 11zm1-121zm1 182zm1-33zm2-182zm2 213zm0-22zm1-109zm1 74zm0-53zm0-25zm1 81zm0 18zm0-5zm0-53zm2-39zm1 111zm1-54zm2 45zm0-31zm1-71zm2 16zm0 80zm3-259zm1 228zm1-28zm0 90zm3-105zm4-21zm0 67zm0 35zm1-54zm0-98zm1 121zm3 19zm0 30zm3-40zm1 22zm2-33zm0 20zm1-103zm1-27zm3 105zm0-126zm3 135zm2-154zm1 143zm0-18zm2-4zm0-35zm3-23zm1 36zm1 69zm0-33zm2 144zm2-30zm1-38zm2-169zm1 97zm1 56zm2-211zm3 134zm0 65zm1 64zm1-125zm0-36zm1-31zm2 72zm0-25zm1-18zm0 6zm0 155zm2-214zm2 99zm3 3zm0-85zm0 23zm1 112zm2 87zm4-172zm4-44zm3 17zm0 0zm2-51zm1-1zm2 107zm7-43zm0-29zm2 52zm5 181zm3-193zm0 22zm1-47zm0-130zm2 252zm3 20zm2-134zm2-28zm3-18zm0 142zm6-38zm1-14zm1 9zm1 55zm0-171zm1 49zm2-21zm6 70zm1-94zm2 27zm1 47zm1-84zm2 57zm1-48zm0 113zm1 7zm1-54zm3-121zm0-39zm3 272zm0-181zm2 80zm0 79zm2-105zm0-50zm3 19zm9 69zm3-65zm11-24zm11 60zm1-68zm12 27zm6-61zm11 79zm2-156zm3 210zm1-21zm0 20zm0-155zm21 9zm23 162zm3-113zm8 109zm2-133zm9 43zm1-49zm2-14zm3 55zm11-139zm10 48zm2 6zm13 40zm17-15zm2 57zm4 74zm5-88zm3-57zm4 132zm6-201zm1 27z"/><path d="M797 403zm0 76zm0-42zm0 8zm0-25zm1 56zm1-32zm0 3zm1-32zm0 63zm1-73zm0 17zm0 61zm1 3zm3-108zm0 118zm1-45zm2-126zm0 118zm2-69zm1 92zm0-22zm0 17zm0-24zm0 14zm1-40zm0-33zm0 44zm1 38zm0-61zm3-62zm1 129zm0-27zm0 55zm1-119zm1 55zm1 65zm2-103zm0-4zm2 24zm0 59zm0 13zm2-40zm0-66zm0 83zm0 30zm3-242zm1 111zm0 99zm1-78zm0 112zm1-29zm0-49zm0-62zm0 18zm1 46zm0-8zm1 65zm4-128zm0 80zm1-71zm0 8zm0 77zm0 31zm1 4zm0-21zm2-105zm0-36zm0 66zm1 33zm0-23zm2-83zm1 139zm1-17zm0 47zm1-213zm0 200zm1-92zm1 122zm0-24zm0-47zm2-2zm0 2zm0 13zm1-29zm2-38zm1 83zm1-110zm0 14zm0 110zm1-12zm2-63zm0 104zm1-72zm1-105zm0 79zm0-2zm1 35zm0-90zm3-38zm1 29zm1 35zm1 73zm0-77zm1 127zm0-115zm1 58zm0-134zm0 174zm1 20zm1-144zm0 15zm1 34zm0 33zm1-47zm0-1zm1-64zm1 109zm0 1zm0 41zm2-27zm1 16zm0-23zm2 65zm1-51zm0-69zm1 39zm0-1zm1-1zm0 85zm2-93zm0-46zm2 119zm1-144zm2 81zm0 30zm1-3zm0-128zm0-31zm1 151zm1-69zm0 83zm1-46zm0-56zm1 40zm0 34zm0-155zm0 65zm2 90zm1-27zm1 72zm1-64zm0-74zm0 54zm0-35zm1 114zm0-18zm1-24zm1-49zm0 33zm1 44zm3-134zm1 97zm0-23zm1 74zm0-118zm0 59zm0-5zm0-123zm1-10zm0 58zm0 129zm1-57zm0-134zm1 178zm1-38zm0-149zm0 165zm3-40zm0-8zm1-24zm0 98zm1-77zm0 35zm0 59zm1-41zm1-22zm0-62zm0 136zm1-205zm1 18zm0 98zm0 39zm1-71zm0 88zm1-65zm2-103zm1 201zm2-91zm0-86zm2 106zm0 3zm1-65zm0 80zm2-42zm0-56zm0 43zm1 117zm2-30zm0 47zm1-185zm0 22zm3-57zm0 83zm0-12zm1-2zm1-52zm1 134zm0-4zm1-66zm1 52zm0-23zm2-51zm1 75zm1 88zm1-115zm1-11zm3 66zm1-48zm0 87zm0-40zm1-81zm1-20zm0 76zm2 5zm0-75zm0 32zm1 16zm0-12zm1-156zm1 182zm1 38zm0-32zm2-26zm4-52zm4 41zm0-64zm0 70zm1 34zm1-46zm1-116zm1 132zm0-52zm0 24zm1 13zm2-46zm1-41zm0 187zm1-142zm1 99zm0 7zm1-7zm1-66zm3 19zm2 40zm1 43zm1-24zm3 7zm2-116zm4 12zm0-49zm1 108zm1-139zm1 135zm2-33zm1-43zm1 39zm1-51zm3 11zm2 24zm1 52zm3 4zm1-126zm2-48zm0 7zm0 97zm1-24zm0-15zm1 124zm1-191zm0 64zm0-53zm1 30zm0 158zm2-90zm1 52zm2 39zm1-155zm0 197zm5-130zm1 36zm3-30zm0 8zm2 32zm3-148zm0 33zm1 88zm0 22zm1-25zm2-98zm0 8zm1 171zm0-72zm1 24zm1-64zm0-61zm0 82zm1-56zm0 43zm2 12zm0 18zm1-103zm1-62zm2 197zm2-40zm1-102zm0-30zm1 182zm1 2zm1-156zm1 185zm1-126zm0-20zm2-6zm1-35zm1 28zm1 131zm0-43zm1-11zm0 1zm1-91zm0 82zm1-31zm3-50zm3 19zm2 47zm0-118zm1 11zm1 10zm6-3zm2 53zm2 44zm0-5zm1 61zm1-129zm1 29zm1 41zm0 2zm1 12zm3 67zm1-18zm1-132zm0 40zm2 24zm0-44zm0 72zm0-26zm0 72zm2-130zm1 5zm0-51zm1 58zm4-31zm3-60zm0 95zm3-40zm1-100zm3 151zm0 142zm1-155zm1 49zm0-95zm4 30zm0 42zm1-7zm1-31zm4-65zm2 167zm1-102zm2 119zm2-53zm0-45zm1 122zm0-168zm2 151zm3-113zm1 7zm0 83zm1-71zm4-105zm0 110zm1 108zm1-179zm0 73zm7 63zm14-95zm13-155zm9 108zm2 83zm14-27zm1 30zm16-15zm1-83zm4-27zm7-16zm1 13zm3 87zm3-62zm23 42zm1-124zm9 122zm24 13zm4-41zm3 188zm1-216zm16-87zm5 106zm0 86zm10 13zm6 50zm14-266zm2 24zm5-9z"/><path d="M797 425zm0 16zm1 21zm0 9zm0 0zm2-38zm0 19zm2 7zm0-111zm1-11zm1 72zm0-31zm2-75zm2 117zm0 62zm1-4zm0-94zm1-70zm0 174zm0-81zm0 37zm3 22zm1-108zm0 86zm1-69zm0 15zm0-36zm0-2zm1 21zm0 72zm0-14zm0 14zm0-37zm2 29zm0-89zm2 42zm0 18zm0-12zm0-28zm1 48zm1-18zm0 77zm2-170zm1 120zm1-26zm2-69zm0 85zm1-39zm0 56zm1-19zm0-84zm0 129zm0-118zm3 99zm1 33zm1-74zm1 2zm0 15zm1-13zm0-50zm0 106zm1 2zm0-154zm1 136zm1-54zm1 67zm2-81zm0 60zm1 6zm1-26zm0-109zm1 127zm0-3zm0 64zm0-97zm2 46zm0 34zm0-23zm2 5zm0 1zm0-16zm0 11zm0 12zm3-83zm1 109zm2-111zm0 6zm1 72zm0-12zm0 46zm1-160zm1 155zm0-54zm0 17zm1-31zm1-22zm1 52zm0-89zm1 55zm1 32zm1-14zm0-19zm0 4zm1 58zm1-164zm0 126zm0-31zm1 43zm0-69zm2 47zm1 48zm0-69zm6 8zm1-2zm1-125zm1 168zm0-132zm1 84zm1-12zm2-19zm1 23zm0 69zm1-23zm0-32zm1 34zm1-18zm0-40zm0 56zm0 51zm1 2zm2-43zm1-17zm0 26zm0-9zm0-20zm1-5zm1-9zm2 67zm1-75zm0-49zm1 20zm1 44zm0-57zm0-28zm1 20zm0-54zm0 187zm1-120zm0-3zm1-29zm2-21zm1 165zm0-116zm0 5zm0-50zm1 58zm0 42zm1-76zm3-25zm0 12zm0 57zm0-6zm0 33zm1 5zm1-136zm1 75zm1 119zm3-178zm0 59zm1-135zm1 152zm0-3zm0 45zm4-155zm1 119zm4-18zm0 89zm1-78zm2 0zm1-45zm0-40zm3 73zm0 12zm2-108zm1 99zm1 125zm0-94zm1 91zm3-109zm1-150zm2 105zm3-70zm1 154zm3-26zm0-79zm1 90zm0-122zm0 68zm2 34zm2 36zm1-116zm0-30zm0 134zm1-135zm2 74zm1-17zm2-27zm2 95zm2-83zm2 41zm1 0zm1-45zm1-32zm1 111zm0-5zm1-52zm0 63zm1-112zm2 16zm1 66zm1-102zm2-54zm0 212zm1-102zm2-23zm1 164zm0-151zm0 55zm1-63zm1 4zm1 31zm0-28zm1 24zm0 86zm2-216zm0 181zm5 24zm0-120zm1 1zm1 160zm1-135zm0-28zm1 64zm3 42zm1 38zm1-102zm1 14zm2 121zm0-134zm1 85zm1-220zm0 164zm1-38zm0-9zm1-19zm0 16zm3-60zm1 76zm0-39zm0-12zm2 113zm0-68zm1 50zm0 8zm1-6zm0-82zm2 78zm0 29zm0-267zm2 248zm2-170zm2 19zm1 143zm0 78zm1-38zm1 0zm0-134zm0 72zm0-55zm1 95zm0-137zm1 56zm0 100zm0-129zm1 72zm1-27zm0 128zm1-155zm0 23zm1-30zm0 26zm1 47zm0-116zm1 25zm0 62zm1 67zm1-28zm0-154zm3 131zm2-126zm1-22zm0 163zm0-198zm1 26zm2 97zm1 59zm1-179zm0 157zm1-29zm0-41zm1 135zm1-78zm0-34zm1 4zm0-25zm1-3zm1-47zm0 96zm0-49zm0 52zm0-34zm1 76zm0-65zm4-38zm1 113zm0-66zm0 15zm3-80zm2-14zm0 61zm2 199zm0-79zm1-85zm1 72zm3-31zm0-23zm2 52zm0-124zm1 26zm1 14zm0-40zm1 41zm2 28zm1-48zm0 13zm2 63zm1 2zm1 37zm1-170zm0-5zm2 58zm2-1zm2 53zm3 10zm4-85zm1 15zm2-112zm9 102zm1-96zm0 135zm0-33zm1 13zm4-5zm0-9zm0-39zm1 16zm2 11zm1 5zm0 59zm2-70zm0 57zm1 148zm0-175zm0-66zm1 121zm1 10zm2-54zm1-62zm1 156zm2-173zm0 30zm2-61zm0 56zm5 4zm1-63zm0 103zm0 20zm1-155zm2-61zm2 171zm1 30zm1 59zm1 71zm0-123zm1-138zm1 47zm1 99zm2 10zm0 6zm0 5zm1-41zm0 79zm3 36zm1-61zm5-117zm1 96zm21 9zm9-55zm4-121zm14 34zm7 118zm12-17zm9-13zm2-27zm19 31zm1-24zm6 111zm22-65zm17-201zm13 213zm15-169zm2 78zm2-80zm0 66zm4-109zm10 148zm7 33zm4-207zm1 7zm5 225zm7 0zm1-67zm8-78z"/><path d="M797 399zm0 100zm0-106zm1 99zm0-64zm1 32zm1-134zm0 122zm0-35zm1 35zm1-51zm0 86zm0-38zm1-62zm0 99zm0-92zm1 28zm0-40zm1-8zm0-13zm1 68zm0 57zm0-165zm1 167zm0-24zm0-115zm0 84zm0-17zm0-35zm1-31zm0 113zm1-9zm3 10zm0 2zm1-116zm0-33zm0 179zm0-14zm1-92zm0 43zm0 53zm0-58zm2-46zm2-15zm2 65zm0 40zm1-73zm0 95zm1-64zm1-15zm0 56zm0-64zm3-69zm1 91zm0-133zm0 116zm0-58zm1 107zm0 28zm0-78zm1 12zm1 79zm0-47zm2-37zm1-26zm2 59zm0-78zm1 10zm1 14zm1 5zm0 18zm0 70zm0-38zm0-6zm1-32zm0-3zm1-40zm0-58zm1 42zm3 125zm0-159zm1 142zm0-82zm0 74zm0-150zm1 38zm0 83zm1 79zm1-19zm1-97zm1 36zm0-17zm2-39zm0-17zm0 64zm1-13zm0-10zm1 47zm0 20zm1-144zm2 154zm0-164zm0 51zm1 108zm1-60zm0 47zm0-1zm1-125zm0 71zm0 56zm0 1zm0 14zm1-48zm3-136zm0 83zm1 23zm1-61zm0 151zm1-79zm1 88zm0 14zm1-61zm0 30zm1-219zm1 199zm1-59zm0 58zm0 6zm3-46zm0 80zm1-98zm1 70zm2 14zm0-125zm0-59zm0 91zm0 10zm0 40zm1-10zm1-49zm1 40zm0 53zm1-72zm0 102zm1-85zm0 30zm1 7zm1-19zm0-14zm0-76zm1 72zm0-52zm1 89zm0-51zm1 50zm0-106zm2 113zm0-58zm0 32zm2-41zm0-12zm1-25zm0 133zm2-194zm0 14zm1 184zm0-17zm0-134zm1 33zm1 15zm0 11zm0 68zm1-20zm0-156zm1 88zm1-57zm3 30zm3 25zm2-59zm1 141zm1-104zm1 66zm0-73zm2 130zm1-108zm0-11zm1 95zm0-113zm1-65zm1 73zm1 61zm0-131zm0 86zm1 14zm1-59zm0 74zm3 2zm0 50zm0-17zm0-17zm1-44zm0-107zm2 100zm3 57zm1-59zm0 62zm0-67zm1 57zm1-93zm2 31zm1 16zm0-99zm0 102zm1 136zm2-157zm0 43zm1-54zm0-6zm0 23zm0 98zm0-74zm2 53zm1-24zm2-52zm0 81zm0-159zm0 103zm1-44zm1 81zm1-97zm2 113zm0-102zm1 61zm2 6zm1-30zm1-18zm3-108zm0 120zm0 119zm0-156zm2 169zm2-134zm0 71zm1 48zm1-78zm1-135zm0-52zm0 182zm1 4zm1-30zm0-125zm1 115zm0-44zm0 120zm0-82zm1-26zm0 21zm1 35zm1 91zm0-115zm1 53zm0-37zm3-75zm1 109zm0 18zm1-73zm0 65zm0-16zm1-94zm1 135zm1-170zm0 47zm1-36zm0 176zm2-115zm1-18zm0 71zm1-109zm3 53zm1-77zm1 94zm2-26zm3 99zm3-81zm1 88zm0-32zm2-139zm0 19zm1 19zm0 12zm0 95zm1-32zm0-28zm1-79zm1 134zm0-22zm2-24zm1-4zm0-47zm2 46zm2 36zm1-36zm4-71zm0 34zm1 118zm3-126zm4 31zm1 34zm1-162zm1 115zm2-54zm0 156zm0-101zm3 11zm1 66zm2 12zm2-141zm0 87zm3-121zm3 93zm0 19zm3-7zm2-28zm0 80zm2-254zm1-5zm0 72zm1 67zm0 156zm1 0zm0-112zm1 50zm1 65zm2-85zm1-87zm2-47zm2 100zm1 85zm2-134zm1 58zm0 12zm1 9zm1 40zm0-158zm5 191zm0-168zm2-67zm2 222zm0-118zm1-55zm1 30zm4 88zm0-191zm2 117zm2 147zm3-144zm6 74zm1-108zm5 48zm1-102zm1 94zm0 63zm1 2zm2-161zm0 99zm0-66zm2-19zm2-42zm2 138zm0 18zm1-103zm1 10zm2 64zm0 43zm1-41zm0 20zm2 0zm1-43zm1 94zm0-29zm0-29zm2 3zm1 33zm1-176zm0 79zm1-10zm1 256zm3-211zm2 64zm0-213zm0 48zm0 31zm1 69zm0-24zm4 104zm1-111zm1 10zm8 126zm2 3zm1-108zm1-33zm2-18zm2 108zm1-42zm1-12zm2 36zm0-15zm5 0zm2-5zm0-169zm17 184zm1-97zm20 51zm3-36zm11-73zm23 29zm5-27zm43 2zm2-48zm0 231zm5-136zm15-90zm5 175zm3-96zm5 48zm16 117zm4-95zm0 5zm1-17zm10-26zm5-28zm11 28zm16 14z"/></g>
<path d="M798.6 374.5H1390.2" stroke="#141414" stroke-width="3.8" stroke-dasharray="22.4 6.6" stroke-dashoffset="13" fill="none"/>
<g stroke="#E9962C" stroke-width="10.6" stroke-opacity=".5" stroke-linecap="round" fill="none"><path d="M1156 333zm2-61zm1-27zm1 38zm0-87zm1 115zm1-73zm2 60zm0-78zm1 77zm0-45zm0-28zm1 80zm1-49zm0-70zm5 215zm1-104zm0-126zm0 2zm0 107zm3-59zm4 31zm1 96zm2-208zm0 145zm1-8zm1 66zm1-118zm1 76zm0-74zm0-38zm2 158zm1-76zm1-13zm0 50zm2 22zm0 11zm2-88zm4 74zm2-148zm1 130zm1-38zm0 70zm3-76zm0-89zm2 187zm1-97zm3-89zm3 53zm1-7zm0-59zm0-3zm1 57zm0 71zm3 68zm3-125zm0-23zm2-15zm4 84zm0-53zm3 7zm0 93zm3 5zm1-165zm2 143zm33 26z"/><path d="M1155 282zm4 15zm3-34zm1-61zm0 148zm3-147zm1 42zm2 73zm0-85zm4 13zm0 44zm0 50zm2-105zm0 87zm2-132zm1 189zm0-88zm0-50zm1-32zm5 9zm2 91zm1 36zm1-144zm1 137zm1-121zm0-26zm2 103zm0 3zm2 7zm0-25zm1-35zm2 34zm1 40zm1 58zm1 27zm3-77zm1-173zm1 200zm1-119zm0 9zm1-31zm3 100zm2-127zm0 106zm2-135zm1 120zm0-102zm1-45zm7 142zm4-66zm5-47zm0 229zm3-41zm1-24zm6-124zm0 79zm6-37zm2 32zm2-33zm7-50zm6 60zm4 40zm6-154zm1 89zm1-27zm11 86z"/><path d="M1157 240zm0-87zm0-7zm0 192zm2 45zm0-172zm1-1zm1-7zm0-49zm1 157zm4 55zm3-89zm2-65zm2 47zm1-189zm0 248zm0-118zm2 38zm2 43zm0-67zm1 26zm0-59zm5 37zm1 30zm0 6zm1 43zm0-58zm5-50zm0 59zm2-59zm0 156zm2-172zm3 64zm1-50zm0 192zm2-118zm1 36zm1-203zm2 115zm1-33zm2 104zm4 22zm2 102zm2-110zm1-16zm3-59zm0 106zm5-74zm0-8zm2 100zm1-165zm2 140zm1-70zm2 50zm0 64zm3-148zm7 13zm3 39zm1-31zm3 73zm2-127zm1 181zm12-158zm13 105zm1 119zm3-99z"/><path d="M1157 271zm1-45zm0 41zm1-116zm3 138zm3-82zm0 101zm0-30zm1-53zm0-65zm1 108zm4-35zm0 90zm2-144zm0 111zm0 66zm3-73zm1 14zm2-80zm1-6zm2 3zm6 53zm2 55zm0-58zm1 57zm4-53zm2 27zm1 33zm0-64zm1 22zm1-25zm4 31zm3 27zm1-149zm1 143zm2-93zm1 26zm1 62zm4-63zm1-41zm1 43zm0-43zm2 115zm5-28zm3 14zm4-72zm3 80zm1-25zm1-19zm2-42zm5 96zm2-69zm1-35zm0 137zm6-102zm0 105zm1-187zm8 143zm3-57zm0 9zm1-46zm1 152zm6-121zm7-82zm2 174zm8-140z"/><path d="M1157 360zm1-12zm1-65zm0-65zm1 14zm2 105zm2-15zm2-70zm0 65zm1-94zm0 140zm0-33zm1-68zm1-38zm3 76zm0-127zm3 161zm3-36zm0-11zm2-42zm2-5zm5 49zm3-12zm0 37zm0-35zm2 7zm1 18zm3-94zm2 69zm1 111zm1-157zm1 30zm0-23zm1 138zm4-41zm1-23zm2 14zm0 34zm2-73zm11-50zm3 1zm0 92zm1-30zm0-37zm2-45zm2-63zm1 111zm4-81zm0 121zm3-93zm0 9zm1 76zm7-1zm1-188zm0 259zm1-148zm11 24zm0 22zm1-2zm0-15zm1-66zm5-35zm0 50zm12 65zm3-4zm7 124z"/></g>
<g stroke="#25285A" stroke-width="10.6" stroke-opacity=".5" stroke-linecap="round" fill="none"><path d="M1037 286zm1 27zm1-33zm0 61zm0 22zm1-70zm1 111zm0-116zm0 24zm0-79zm1 157zm0 45zm0-117zm0-111zm1 145zm2-57zm1 64zm1-93zm0 64zm1-30zm0-15zm1 71zm1-86zm2 23zm1 30zm0 27zm0-105zm0 115zm1-133zm0 39zm1 0zm3 84zm1-45zm0 3zm1 36zm0-29zm1-42zm1 18zm0 54zm1 0zm0-18zm3 56zm1-163zm0 96zm1 56zm0-174zm1 80zm0 93zm0-91zm0 105zm1-72zm0-36zm2 3zm1 4zm0-14zm0 73zm0-21zm1-47zm0 12zm1 9zm1-49zm0 32zm2 43zm1-77zm0 90zm1-73zm0 125zm0-37zm3 49zm0-180zm1 43zm0 105zm0-116zm1 10zm0 49zm2-39zm1-6zm0-32zm0 13zm2 20zm2 19zm2 58zm0-58zm0-17z"/><path d="M1036 454zm1-112zm0-3zm0-38zm0-64zm1 186zm0-108zm1-5zm1-22zm0-9zm1 166zm1-168zm0 20zm0 6zm2 69zm1-83zm2 0zm0 31zm0 51zm1-27zm2 59zm1-66zm1-47zm0 32zm1 18zm1-10zm2-56zm0 33zm0 87zm0-48zm1-103zm0 68zm2 36zm1-82zm2 29zm0 32zm1-26zm0-9zm1 20zm0 6zm1-15zm0 5zm0 108zm1-45zm0-73zm1 38zm0-137zm1 89zm2 0zm0 1zm1 7zm1 24zm1-74zm0 63zm0-51zm1-45zm0 153zm0-118zm1 6zm0 62zm1-30zm1-57zm0 82zm0 11zm1-38zm1-55zm0 91zm1-15zm2 38zm0-125zm1-19zm2 82zm1 123zm1-173zm1 64zm1 3zm1 82zm1-177zm0 186zm0-155zm2 71zm1 7zm0 37zm1-30z"/><path d="M1039 348zm0 48zm1-130zm0 84zm0-241zm0 145zm1 96zm1-45zm0 87zm0-53zm2-93zm0 86zm3-120zm1 129zm0-14zm1-80zm0 40zm0 79zm0-14zm1 6zm0-61zm0 53zm0-81zm0 41zm1-75zm1 70zm0-20zm0-29zm0 100zm3-67zm1 31zm1-1zm1 49zm0-125zm1 103zm0 6zm0-55zm0 8zm1 101zm0-92zm2-18zm0 25zm1 23zm0 31zm0-107zm0-15zm1 32zm0 107zm1-164zm0 107zm1-61zm0 66zm0-40zm0-23zm1 60zm0-26zm1-37zm2-77zm0 99zm0-16zm0 32zm1 57zm1-25zm0 28zm3-69zm1 49zm1 24zm1 16zm0-110zm1 65zm2-10zm0-37zm0 12zm1 47zm1-63zm1-10zm2-20zm0 45zm0-89zm0 47zm1 34zm0 21zm2-27zm0-98z"/><path d="M1036 305zm1-15zm3-34zm0 207zm0-148zm1-22zm0 72zm0-33zm1 92zm0-139zm0 67zm1-52zm1 58zm0-9zm2-8zm1-1zm4-47zm0-16zm1 70zm0-53zm2 60zm0-42zm0 34zm0-19zm1-12zm0-95zm0 85zm0-40zm2 30zm2 94zm1-84zm0 69zm0-96zm0 113zm1-6zm0-139zm1 49zm0 69zm1-147zm1 78zm1-32zm1 45zm1 21zm3-27zm1 51zm1-32zm1-20zm1 4zm0 9zm0-5zm1 53zm0-47zm1-10zm1 58zm0-129zm3 134zm0-76zm2-34zm0 119zm0-144zm0 43zm1 78zm0-80zm1 44zm0-95zm0 92zm1-52zm1-33zm0 61zm1-57zm0 117zm0 0zm1-29zm0 8zm0-32zm1-19zm0 64zm1-59zm0 71zm2-132zm1 88zm0 41zm2 14zm0-74z"/><path d="M1036 222zm0 124zm0 46zm0-51zm0-2zm1-14zm1 105zm1-56zm0-49zm1 1zm1 8zm0-157zm1 200zm0-154zm0 197zm1-39zm0-91zm1 10zm0 40zm0 105zm0-56zm1-86zm0 17zm2-76zm1 2zm0 8zm1 36zm1 63zm0-48zm1 8zm0 6zm2-98zm0 171zm1-62zm1-19zm0-25zm1 30zm0-28zm2 6zm1-10zm1-2zm1 28zm2-93zm2 160zm0 43zm2-122zm0 57zm1-36zm0-50zm0 46zm2-25zm0 35zm0-47zm2 46zm1 6zm1-130zm1 118zm1-39zm1 92zm1-83zm1 5zm0-48zm0 73zm3-61zm0-17zm0 143zm1-170zm1 151zm0-61zm1 39zm1-17zm1-87zm1 136zm2-90zm0-11zm0 75zm1-55zm1-78zm0 77zm1 3zm1-39zm0 86zm1-11z"/><path d="M1036 305zm1 40zm0-42zm0 25zm0 28zm0-50zm0-10zm1-5zm0 118zm2-114zm0-13zm0 59zm1-98zm1 89zm1-86zm0 177zm0-88zm1 16zm1-109zm0 62zm0 18zm0-82zm2 28zm0-80zm3 97zm0 2zm0 2zm1 20zm1-3zm4-55zm0 48zm1-24zm1 27zm0 137zm0-192zm0 64zm3-6zm1 37zm2 105zm2-110zm2-80zm0 105zm0-60zm1 37zm2-16zm0-32zm0 16zm2 56zm0-6zm0-84zm0-1zm1 38zm1-27zm3-40zm1 39zm0-21zm1 79zm0-66zm1 5zm0 80zm0-30zm2-82zm0 26zm1 6zm0-10zm1-13zm0 56zm1-56zm2-18zm0 21zm0 138zm1-106zm0-37zm0 35zm1-26zm0 90zm0 41zm1-25zm1-38zm0-26zm1-42zm0 24zm1-6z"/></g>
<g stroke="#3FA3C9" stroke-width="10.6" stroke-opacity=".42" stroke-linecap="round" fill="none"><path d="M1000 281zm2 37zm4 66zm2-17zm3-14zm0-11zm1-17zm0 21zm1-82zm4 126zm1-103zm3 68zm5-71zm1-8zm1 3zm0 107zm1 0zm5-38zm0-12zm0-123zm1 111zm3 53zm0 42zm1-75zm1-39zm1-80zm0 115zm1 84zm2-154zm0 10zm2 36zm0 6zm0-35zm1 54zm0 53zm1-31zm0-80zm0-10zm1-14zm0 111zm1-170zm1 135zm0 7zm1-36zm0 69zm1-64zm0 26z"/><path d="M1004 302zm1 59zm1 36zm1-64zm2 43zm4-132zm4 28zm0 39zm2 18zm1-2zm0-17zm1-57zm1 89zm0 8zm0-8zm1 31zm0 35zm0-92zm1 42zm0-6zm3 12zm2-129zm1 62zm0 17zm4 15zm1-29zm1-33zm1 87zm0 3zm3 47zm1-55zm3 28zm1-86zm0-19zm0 112zm1-58zm0-31zm2 39zm0-13zm1 58zm0-77zm1 19zm0 62zm1-133zm2 71zm1-38z"/><path d="M1006 294zm4 12zm0-7zm2 100zm2-120zm2 90zm4-113zm1 7zm2 132zm0-90zm2 33zm2-5zm4-69zm0 68zm1 31zm2-43zm1-16zm2-18zm1 100zm0-55zm1-2zm1 21zm0-34zm0-31zm1 23zm0-58zm1 1zm1 113zm0-15zm0 9zm0-92zm2 114zm0-97zm0 26zm0 27zm1-9zm1-50zm0 35zm0 15zm1 65zm0-82zm1 15zm1 6zm1-4zm3-14zm1 15z"/><path d="M1000 268zm3 107zm1-16zm0 52zm1-104zm3 0zm1 21zm1 15zm4-75zm3 29zm3 79zm2-39zm0-30zm1-14zm0-34zm1 57zm0-32zm2 40zm2 57zm1-38zm0-9zm6-12zm1 57zm0-121zm0 105zm1-56zm0-3zm0 3zm2 35zm0-96zm3 57zm0 76zm0-13zm2-20zm0-54zm1 45zm0-83zm1 26zm2 16zm0 80zm0 39zm1-89zm0-33zm2-66zm3 100zm1-30z"/></g>
<circle cx="1048.9" cy="327.2" r="7" fill="none" stroke="#DE1984" stroke-width="5.9"/>
<path d="M925.5 476.6H1084" stroke="#3FA3C9" stroke-width="2.2" fill="none"/>
<path d="M930.3 484.5H1164.2" stroke="#25285A" stroke-width="2.2" fill="none"/>
<path d="M1037.1 492.7H1348.3" stroke="#E9962C" stroke-width="2.2" fill="none"/>
<path d="M796.6 57.5V502.4H1392.4" stroke="#141414" stroke-width="4" fill="none"/>
<path d="M794.6 502.4h-5M794.6 436.8h-5M794.6 371.2h-5M794.6 305.6h-5M794.6 240h-5M794.6 174.4h-5M794.6 108.8h-5M853.7 504.4v5M925.5 504.4v5M997.2 504.4v5M1069 504.4v5M1140.7 504.4v5M1212.5 504.4v5M1284.2 504.4v5M1356 504.4v5" stroke="#878787" stroke-width="3" fill="none"/>
<g font-size="19" fill="#878787"><text x="782.4" y="509.4" text-anchor="end">0</text><text x="782.4" y="443.8" text-anchor="end">1</text><text x="782.4" y="378.2" text-anchor="end">2</text><text x="782.4" y="312.6" text-anchor="end">3</text><text x="782.4" y="247" text-anchor="end">4</text><text x="782.4" y="181.4" text-anchor="end">5</text><text x="782.4" y="115.8" text-anchor="end">6</text><text x="853.7" y="530.6" text-anchor="middle">1.0</text><text x="925.5" y="530.6" text-anchor="middle">1.5</text><text x="997.2" y="530.6" text-anchor="middle">2.0</text><text x="1069" y="530.6" text-anchor="middle">2.5</text><text x="1140.7" y="530.6" text-anchor="middle">3.0</text><text x="1212.5" y="530.6" text-anchor="middle">3.5</text><text x="1284.2" y="530.6" text-anchor="middle">4.0</text><text x="1356" y="530.6" text-anchor="middle">4.5</text></g>
<text x="1090.4" y="35.5" font-size="38.7" text-anchor="middle" fill="#141414">West &amp; Central Europe</text>
</g>
<g>
<g stroke="#787878" stroke-width="5" stroke-opacity=".095" stroke-linecap="round" fill="none"><path d="M1463 459zm2-26zm0 38zm1-3zm0-52zm0 85zm1-22zm0-30zm1 3zm0-22zm0 39zm0 23zm0-85zm2 62zm0-11zm0 35zm0-37zm1 6zm1 2zm0-17zm1-9zm1 16zm0 18zm2-30zm2 0zm0 47zm0-1zm1-35zm1-14zm1 57zm1-12zm0 9zm3-58zm1 42zm1-54zm0 42zm1 11zm0 0zm1-13zm1-35zm0-10zm1 24zm1 42zm0-42zm1-8zm1 55zm0-78zm0 38zm1 10zm0 13zm0 3zm0-41zm1 30zm3 23zm1-30zm0 19zm0-6zm1-2zm0-13zm0-67zm1 43zm0-10zm1 23zm1 44zm1-21zm0-24zm1 26zm1-74zm1 62zm1-3zm0-5zm1 29zm0-35zm1-27zm1 33zm0-21zm0 12zm0 26zm1-13zm0-20zm2-8zm0 6zm0 5zm0-11zm0-22zm1 51zm2-20zm0-10zm1 62zm0 2zm0-73zm0 24zm1 46zm0-18zm0-50zm1 19zm1 23zm0-4zm1 32zm0-37zm1-18zm0-3zm2 16zm1-3zm1 4zm0-29zm1 12zm0 22zm1-7zm1-10zm0-2zm2 23zm0-8zm0-31zm0-37zm0 43zm1 73zm0-52zm0-9zm0-35zm0 46zm1 7zm0-20zm0-23zm1 66zm1-22zm0 24zm1-10zm1-55zm1 39zm1-46zm0 12zm1-41zm0 79zm0-24zm0 10zm2-12zm0 36zm0-27zm1-21zm0 19zm1 8zm0-40zm1 4zm0-14zm2 35zm1 23zm0-47zm1 57zm0 13zm2-56zm1 51zm1-53zm0 27zm1-26zm1 10zm1 22zm0-58zm2 9zm2 31zm0-26zm3-12zm0 31zm1-34zm2 41zm1-28zm0-5zm1 16zm1-88zm0 65zm0-17zm2 18zm2 29zm2-31zm1 7zm0-10zm2 1zm0 59zm1-78zm0 41zm0 15zm1-30zm0 34zm0 12zm1-64zm1 13zm0 6zm0 32zm0-53zm1 82zm1-47zm0 39zm0-83zm2 12zm1 78zm0-45zm1 1zm0 56zm1-49zm0 65zm0-37zm0-33zm2 6zm0-21zm1 14zm1-6zm0-12zm0 8zm2-10zm0 0zm2 58zm0-28zm0-23zm0 2zm1-27zm1 6zm3 63zm0-71zm0-18zm2 77zm1-22zm1 6zm1-25zm1-38zm0 50zm0-82zm1 67zm0 29zm3-4zm1-58zm2 33zm0 28zm1 7zm1-66zm0-19zm2 81zm1-5zm0 2zm0 24zm3-27zm0-14zm3-39zm1-6zm0 11zm0-22zm2 58zm1 17zm0 5zm1-30zm2 7zm1-51zm1 42zm0-66zm1 66zm0 67zm0-92zm1-30zm0 54zm0-28zm5-46zm1 3zm0 49zm1 38zm0-25zm2-37zm1 41zm3-9zm2 2zm1 3zm1-23zm0 23zm1-5zm1-31zm1 14zm0 36zm1-14zm0-51zm2 60zm2-64zm1 74zm0 15zm3-27zm0 5zm2-99zm3 63zm1-15zm0 18zm1 11zm0 14zm3-32zm0 20zm1 9zm2-38zm2 48zm0 5zm2-59zm0 0zm1 52zm1-95zm0 70zm1 43zm2-68zm0 34zm4-3zm1-21zm5 70zm3-86zm1 47zm1 6zm0-8zm1 6zm1-28zm0-19zm0-7zm1 3zm2 59zm2-59zm4 23zm1-10zm1 29zm2-30zm2-18zm2 20zm5 25zm2-59zm1 48zm2-45zm2 21zm0 55zm0-79zm4 24zm0 21zm1 40zm0-95zm0 59zm1 21zm0-13zm0-31zm1-12zm0 30zm2-9zm1-41zm1 35zm0 24zm1-24zm0-10zm0-18zm0 58zm2-38zm2-25zm1 51zm3 38zm2-35zm4-84zm2 65zm1-10zm6-9zm1 16zm1 21zm0-56zm1 24zm1-5zm1-24zm2 43zm0-42zm1 9zm1-10zm8 30zm0-34zm2-25zm0 40zm0-41zm0 40zm4 12zm1 73zm2-55zm1 3zm2-74zm1 64zm2-37zm3-1zm1-2zm4 18zm0-46zm0-7zm1 4zm1 48zm1 7zm2 24zm1-95zm1 37zm1-17zm2 102zm3-73zm5 31zm4-11zm1-6zm0-49zm1 62zm2-49zm11 65zm3-62zm19 48zm5-78zm4-25zm3 28zm3 26zm5 24zm0 5zm2-26zm0-12zm6-54zm8 89zm2-15zm7-41zm4 9zm9-63zm2 80zm13-27zm14 35zm6-27zm18-26zm13-18zm4 31zm14 23zm2-98zm10-55zm7 69zm4-13zm12 24zm5-40zm1 18zm2 11zm0 29z"/><path d="M1463 478zm1-26zm0-8zm1 36zm1-38zm0-1zm0 42zm1-8zm1-51zm0 36zm0 5zm1 14zm0-29zm1 47zm1-15zm0 2zm1-24zm0 3zm0-4zm0-20zm0 27zm1-20zm0 11zm1 13zm0 7zm0-6zm0-55zm1 15zm1 26zm0 21zm0 6zm1-27zm1 18zm0-2zm0-37zm1 2zm0 28zm1-35zm0 22zm1-23zm1 18zm0 9zm0 19zm0-62zm1 49zm0-24zm0 8zm1 10zm1 28zm2 5zm1-41zm1-29zm0 24zm1-45zm1 16zm0 24zm1 22zm0-60zm0 61zm1-5zm0 21zm1 2zm2-66zm0 73zm1-73zm0 23zm0 4zm0 4zm0 26zm2-26zm0-8zm0-12zm0 62zm1-61zm1 37zm1-14zm2-4zm0-40zm0 71zm2-22zm1-42zm2-2zm0 48zm1-1zm0 20zm1-46zm0-30zm0 41zm2 48zm0-59zm0 14zm1-19zm1 34zm1-21zm0-8zm0 13zm1-18zm0 52zm1-42zm1 25zm0 2zm1-57zm0 23zm0 41zm1 20zm1-62zm0 23zm2 0zm0-11zm2-5zm1 53zm1-51zm1-1zm1 10zm0-41zm1-20zm0 7zm0 49zm0 20zm1 28zm0-70zm1 20zm1-42zm0-2zm1 29zm1-63zm0 47zm3 38zm1 25zm0-39zm1-15zm0 40zm1-10zm1-1zm0-14zm3 8zm0-9zm0-35zm1 2zm0 21zm1 37zm0-20zm0-21zm0 13zm1-8zm0 44zm1-16zm1-2zm1-6zm1 54zm0-94zm0 23zm3-12zm0 28zm3-70zm1 42zm1 36zm1 6zm0-34zm1 18zm1 7zm0 3zm1 4zm1-39zm0 27zm2 27zm1-53zm1-4zm2-13zm0 0zm0 27zm0-6zm0 2zm1 20zm0-16zm1 10zm1-39zm2 67zm0-28zm3 21zm1-70zm1 19zm0 32zm1 5zm0-42zm1-6zm0 11zm0 5zm1-10zm0-8zm0 0zm0 46zm1-46zm2 7zm1 6zm1-7zm0 71zm0-62zm1-27zm1 67zm2-38zm1-3zm0 23zm1-57zm0-11zm2 65zm3-10zm0-10zm0 42zm0-18zm1-31zm0-39zm2 57zm0-11zm3 35zm1-45zm0 34zm1-19zm0-4zm1-14zm1 65zm1-28zm1-36zm2 66zm1-46zm1-31zm0 0zm0 35zm2 4zm1-76zm1 35zm3 58zm1-11zm0-78zm1 31zm1 41zm1-60zm2-8zm1 66zm0-37zm0 8zm0 31zm1-12zm0-15zm1-14zm1 36zm0-40zm2 14zm1-23zm2 30zm0-26zm0 14zm1-10zm1-7zm0-21zm0 52zm1-11zm1 5zm1-33zm0 42zm1 1zm0 7zm2-50zm1 80zm0-24zm2-81zm0 72zm2-38zm0 10zm8-21zm0 1zm2-13zm2 11zm0 30zm1-59zm2 21zm0-5zm0-16zm1 25zm2 5zm0 23zm0-43zm0 30zm1-34zm1 60zm0-58zm2 53zm1-18zm1 31zm6-64zm1 101zm2-91zm1 20zm0-14zm1-18zm0 61zm1-7zm1-22zm2-8zm1 25zm2-35zm1 25zm3 9zm6-118zm1 73zm1-33zm1 72zm1 13zm0-51zm0 28zm0 31zm1-23zm0-28zm0-3zm1-14zm0-38zm0 78zm1-4zm0-30zm2-2zm1-14zm0 5zm1 16zm0 16zm4-31zm1-19zm2 87zm0-69zm2 37zm2-52zm4 68zm1-45zm0 5zm1-7zm0 63zm5 9zm1-60zm2 33zm0-49zm2 7zm2 40zm0-82zm4 103zm0-57zm1-42zm1 66zm3-21zm0 57zm2-89zm1-15zm5 44zm2-27zm1 63zm1-22zm2-55zm1-18zm1 47zm5 25zm0-6zm0-19zm3 14zm0 3zm2-52zm1 3zm1 17zm7 20zm0 28zm3-51zm2 5zm3-14zm3-11zm2 78zm0-24zm1-16zm1-14zm2 25zm0 6zm2-46zm3 46zm0-20zm0-12zm1 15zm1-67zm0 17zm1 27zm1-27zm0 6zm1 77zm0-25zm2-45zm1-35zm1 60zm1-18zm3 3zm1 66zm0-57zm2-25zm2 21zm3-71zm1 68zm0 13zm11-82zm5 46zm6 3zm5 45zm3-93zm1 13zm2-27zm21 58zm7 14zm6-28zm0 54zm7-84zm3 7zm0 61zm8-37zm7-25zm2-17zm2 13zm2-12zm3 8zm8-15zm4 26zm17 23zm1-16zm2-14zm2-6zm2-5zm5 78zm19-98zm10 68zm31-76zm18-8zm4-25z"/><path d="M1463 444zm0-16zm0 31zm1 2zm0-4zm1-23zm0 52zm1-70zm1 33zm0 4zm0-6zm1 35zm0-44zm0 1zm1 23zm1 11zm0-34zm0 44zm0-50zm0 53zm1 8zm0-62zm1 64zm1-30zm1 10zm0-52zm1 19zm1 46zm1-10zm0-19zm0-29zm0 48zm0-30zm1-10zm0-11zm1 31zm1 5zm0 6zm1-11zm0 4zm1-14zm0 35zm0 13zm1-72zm1 62zm0-41zm0 45zm1-32zm0 35zm1-26zm1-30zm0 22zm1-9zm1-6zm0 40zm1-32zm1-42zm1 81zm0-44zm0-27zm1 21zm1 23zm0-19zm1 32zm1 14zm0-97zm0 41zm0 27zm1-27zm1 13zm0 9zm1 1zm0 17zm1 8zm0-26zm1-3zm0 16zm1-56zm1 36zm0-9zm0 22zm1-44zm0 1zm0 21zm2 33zm0-59zm0 47zm1-10zm1 6zm0 42zm1-13zm0-35zm3 22zm0-22zm1-25zm1-16zm0-12zm1 67zm0-41zm1-12zm1 46zm0 5zm0 8zm0-69zm1 47zm0-10zm0-17zm1 12zm0 18zm0-1zm1 10zm1-29zm1 45zm1-51zm0 3zm1-3zm0 11zm1 3zm1 24zm1-60zm0 18zm2 70zm0-66zm1 1zm0 40zm1-27zm0-16zm0 10zm1 16zm0 0zm1-6zm1-4zm0-23zm0 9zm1 2zm2 32zm1-34zm1-24zm0 33zm1 7zm0-11zm1-65zm0 55zm0 66zm2-16zm1 2zm0-44zm1 35zm0-49zm1-3zm1 36zm3-8zm1-62zm1 56zm1 20zm0-59zm0 8zm0 13zm3-3zm0-14zm0 2zm1-7zm1 52zm0 5zm1-31zm1 21zm0-17zm2 16zm0-3zm0 16zm0-53zm1 18zm1-24zm1-5zm1-61zm1 131zm0-41zm2-29zm1 23zm1-2zm0-35zm1 51zm0-8zm1-36zm0 11zm1-2zm0 36zm1-51zm0 21zm1 38zm1-28zm0 10zm0-22zm1 39zm3-9zm0-11zm1-41zm2 38zm2-25zm1 23zm1 43zm1-74zm1 1zm0 5zm0-23zm0 56zm1-41zm0 14zm1 27zm1-48zm0 84zm1-58zm0-16zm0 12zm1 19zm0-62zm0 68zm1-37zm0-23zm2 70zm1-4zm0-25zm0 54zm1-46zm1-45zm1 67zm1 2zm3-30zm1-12zm1-40zm2 19zm0 86zm1-70zm2-3zm1 1zm0 20zm2-7zm2 15zm1-3zm0 42zm0-21zm0-3zm0-39zm1-31zm1-4zm0 67zm1 30zm4-47zm1-13zm0 2zm0-5zm0-21zm5 1zm1 4zm1 5zm1 26zm0-8zm3-6zm0-7zm2-29zm0-4zm1 72zm0-9zm1 20zm5-32zm0 20zm3-37zm0-21zm0 20zm1-4zm1 17zm1-37zm1 21zm1 35zm0-81zm3 8zm0 13zm3 28zm0 33zm2-27zm2-61zm0 53zm1-30zm1-18zm0 57zm0-80zm1 79zm1 8zm1-81zm0 86zm1-34zm1 7zm0 8zm0-5zm6 7zm1-8zm1-27zm2 32zm1 0zm7 4zm0 12zm1-26zm1-54zm3 0zm0 16zm4 110zm1-101zm0 17zm1 22zm0-12zm0 46zm1-46zm2-21zm0-5zm6-16zm1 1zm0 12zm1 20zm0-6zm1 15zm0-64zm0 67zm1-30zm1-32zm1 64zm1-41zm0 49zm3-84zm2 45zm2 27zm3-22zm1-1zm2-33zm0 19zm1-2zm2 16zm1 19zm3-93zm1 119zm3-51zm1 32zm2-53zm2-14zm1 76zm0-109zm1 43zm0 39zm2-22zm1-38zm0 53zm2-83zm2 81zm0-28zm5-38zm1 61zm1 19zm9-45zm0-25zm1 78zm0-43zm1 7zm2 21zm2 3zm5-19zm1-35zm2 11zm1 30zm1-18zm2-59zm0 73zm0 22zm3-12zm1-34zm4-10zm2-36zm2 85zm0-12zm0-27zm1-49zm2 62zm0-28zm3 3zm2 6zm0-20zm2 70zm1-66zm2 25zm1-2zm1-17zm2-32zm0 43zm3 51zm1-39zm1 39zm0 57zm1-138zm2 46zm1 15zm0-4zm1-45zm3-34zm1 10zm3 34zm6-3zm5-19zm0-31zm10 113zm6-111zm4 6zm1-12zm7 32zm2 12zm5 11zm4-58zm7-19zm5 20zm8 40zm1-34zm16 49zm2-50zm24-39zm7 23zm13-32zm11 35zm4 58zm19-92zm1-1zm3 47zm14-55zm16-8zm8-47zm0 101zm7-49zm1 58z"/><path d="M1463 490zm0-14zm0-35zm1 55zm0-27zm1-12zm1 4zm1-7zm0-14zm0 49zm0 2zm0-29zm2-20zm1 24zm0-8zm0-13zm1 32zm0 2zm0-47zm1 64zm1-9zm0-65zm2 31zm0 0zm1 14zm0 23zm0-35zm0-18zm1 16zm0 41zm1-72zm0 70zm1 1zm0-49zm2 53zm1-35zm0 13zm2-19zm1-55zm0 32zm0 30zm0 18zm1 4zm2-52zm1 42zm2-19zm3-28zm1 30zm0-26zm0-1zm1 21zm0 10zm0 26zm1-30zm0-6zm1 12zm0 10zm0-45zm2 38zm1-22zm0 53zm1-23zm0-7zm0 3zm1-2zm0 2zm0-34zm0-18zm2 21zm0-22zm0-10zm0 50zm1-42zm0 33zm1-26zm1 25zm1 17zm0-20zm1-3zm0 21zm0-53zm0-50zm1 90zm0 9zm1-6zm0 22zm1-26zm0-48zm1 31zm0 31zm2-45zm0 2zm1 34zm0-1zm0-29zm1 22zm0-30zm1 50zm0-24zm0-37zm0 3zm0 55zm0-46zm1 5zm0 47zm1-53zm0 1zm1 45zm1-31zm1 2zm0 35zm0-11zm0-8zm1-41zm0 57zm1-77zm0 63zm1 7zm1-29zm0 19zm0-49zm0-28zm1 9zm0 62zm1 10zm0-5zm0 11zm2-82zm0 54zm1-17zm0-28zm0 106zm1-88zm0 15zm0 38zm2 1zm1 5zm0-12zm1-11zm0-12zm2-25zm1 48zm0 24zm1-34zm0-26zm0-7zm0-28zm1 69zm1-24zm1-10zm0-17zm1 49zm0-74zm2 71zm1-1zm1-25zm0-35zm2-24zm0 36zm0 34zm1-54zm0 29zm1 32zm1-10zm0 17zm1 18zm0-62zm0-15zm1 49zm3-23zm2 10zm2-11zm1-24zm0 24zm1 17zm0 6zm0-28zm3 14zm1-27zm2 1zm1 24zm0 18zm1-19zm1-2zm2-9zm2-42zm0 40zm1-4zm0-3zm1 58zm2-60zm0 58zm2-25zm1-15zm1-11zm1 20zm2-13zm1-23zm0 51zm1-32zm1-20zm2 58zm0-5zm2-43zm0 22zm1-65zm2 82zm0 3zm1-4zm1-1zm0 4zm0-17zm0-62zm2 66zm1-58zm2-5zm2 28zm2 20zm0 35zm0-63zm1 51zm2-69zm0 14zm1-32zm3 58zm0 13zm0-46zm0 32zm0-44zm1 85zm1 16zm2-40zm2-2zm1-14zm4 44zm0-53zm1-15zm2-8zm1 29zm1-32zm0 42zm0-34zm1-7zm0 59zm1-35zm0-47zm0 36zm1 56zm1-33zm1 28zm1-64zm1 18zm1-10zm2-3zm0 13zm0-56zm1 36zm0 13zm0 27zm1 8zm0-35zm1-47zm1 55zm1 31zm2-36zm6-16zm1-28zm3 87zm0-56zm1-14zm1 54zm0-43zm2 16zm0 21zm1-69zm1 38zm1 6zm1-32zm0-7zm1 58zm0-83zm1 100zm0-58zm0 44zm1-14zm0 4zm2-52zm1 8zm3 12zm1 3zm0-13zm0 44zm1-82zm0 18zm1 0zm1 56zm5-32zm1 39zm8-86zm1 56zm1-5zm0-18zm0-14zm1 42zm1-4zm1 34zm0 39zm0-27zm1-60zm1 43zm0 2zm3-31zm2 20zm3-27zm0-14zm4 8zm1-16zm0 0zm1 64zm1-2zm2 7zm3-63zm1 22zm0-56zm1 81zm1-63zm1-36zm0 45zm0 38zm1-21zm0 0zm1 34zm0-95zm4 47zm1-5zm1 30zm0-83zm2 97zm1-7zm0 24zm1-18zm0-44zm2 19zm1 21zm1-32zm1-6zm0-60zm3 65zm5 3zm0 48zm1-107zm2 35zm3 36zm0 22zm1-79zm1 28zm1-29zm3-11zm3 55zm0-38zm0 11zm2 29zm2-67zm3-5zm0 116zm1-31zm3-36zm1 19zm2 9zm0 38zm3-40zm2-50zm0 47zm1-29zm0-25zm2 60zm2-31zm2-57zm0 75zm2-44zm2 38zm0 14zm1-40zm1 19zm1 32zm0-77zm7 29zm1-19zm1 8zm5 46zm1-24zm1 36zm1-32zm1 78zm0-138zm1 80zm0-26zm3-15zm0-23zm5 28zm0-29zm3 59zm0-70zm2 39zm0-1zm2-49zm2-4zm4 23zm3 19zm3 14zm7-6zm17-58zm20 61zm1-27zm11 20zm5 30zm7-116zm12 27zm15 15zm7 6zm4-4zm17 8zm3-24zm1-2zm29 53zm2-101zm7-19zm5 89zm6-21zm5 60zm4-52zm17-22zm3 3z"/><path d="M1464 408zm0 38zm2 34zm0 4zm0-17zm1-24zm0 21zm1 15zm0 9zm0 6zm1-47zm1 48zm1 3zm0-6zm1-32zm0-35zm1 60zm0-24zm0-53zm0 51zm0-27zm2 52zm2-44zm0 39zm0-24zm0 6zm1-19zm0 41zm0-41zm0-36zm1 70zm1-14zm0 8zm1-38zm0 58zm0-39zm0-8zm1-2zm0 15zm1-44zm1 66zm1-37zm0-10zm0 51zm1-34zm0-2zm0 20zm1-15zm0-30zm3 25zm1 9zm0 19zm1-47zm0 31zm1 12zm0-14zm1-3zm0 2zm2 24zm0-41zm2 18zm1 42zm0-46zm0-17zm0 34zm1 30zm1-74zm0 9zm1 37zm1-14zm1-18zm0-28zm0 19zm0 27zm0-18zm2 25zm0 10zm0-29zm1 0zm1 44zm0-28zm0 23zm2-64zm0 49zm1-26zm0 1zm0 41zm0-39zm0-16zm2 44zm0-39zm0 7zm1 12zm0 11zm1-56zm0-4zm1 19zm1-3zm0-39zm1 39zm1 3zm1 15zm0-24zm1 30zm1-48zm0 46zm0-11zm1 46zm0-40zm0-36zm0 50zm1-42zm0 13zm1 47zm1-22zm0-37zm1 38zm1-57zm0 55zm1-12zm0 25zm0-15zm1 36zm0-102zm0 30zm1-10zm4 20zm0 33zm2-32zm0 6zm0-5zm0 47zm0-42zm0-1zm1 58zm1-63zm1-55zm0 78zm1 4zm0-22zm0-9zm1 15zm1 14zm0-17zm0-23zm1 22zm1-21zm0-6zm0-10zm0 14zm2 12zm1-25zm3 45zm0-13zm1 16zm0-16zm1-1zm0 49zm0-15zm0-40zm1 24zm0-75zm1 37zm1 34zm0 20zm1-28zm1 41zm0-73zm1 31zm1-58zm0 84zm2-68zm1-14zm1 24zm2 55zm1-4zm2-49zm0 26zm1-35zm0-26zm0 24zm1 21zm2-10zm0 51zm1 26zm0-19zm0-43zm2-17zm1-1zm1 8zm1 47zm0-53zm0-4zm1-1zm1 5zm0 24zm2 25zm3-60zm1 91zm0-73zm1-3zm1 14zm0-18zm1 18zm1-74zm0 33zm0 26zm1 4zm1-9zm1-4zm1 17zm0 16zm1 22zm0-42zm3 21zm0-4zm1-14zm0 12zm3-13zm0 5zm3 18zm1-26zm2 16zm1-17zm1-4zm1 15zm0-14zm1-9zm1-46zm2 81zm1-71zm0 106zm0-82zm3 67zm1-89zm1 71zm0-33zm0 27zm0-43zm1 25zm1-6zm0 38zm1-29zm1-6zm2 34zm1-25zm1-29zm0-50zm0 89zm2-25zm0-17zm2-9zm1 10zm0 24zm2-26zm0 19zm0-21zm1 21zm0 7zm2-32zm2 29zm0-37zm0 44zm2-58zm0 95zm0-47zm1-35zm0 6zm1-54zm2 50zm0 51zm0-30zm2 4zm0-75zm0 111zm1-74zm1 37zm1 8zm0-15zm0-74zm1 103zm1-36zm0-42zm2 72zm1-45zm1 45zm0 39zm1-36zm2-46zm0 6zm2 22zm0-22zm1 1zm3-31zm4 11zm2 1zm0 73zm2-26zm4-33zm0 42zm4-18zm0-18zm5-13zm0 18zm1 23zm1-1zm0-7zm2-61zm3 49zm1 23zm1-64zm1 14zm3-14zm1-33zm0 93zm2-69zm1 90zm0-70zm1 34zm0-26zm2 5zm1-22zm3 43zm0-59zm0 9zm2-2zm1 60zm0-42zm0-10zm2 1zm0 28zm0-20zm2-11zm0 28zm0-20zm1-3zm1 59zm2-77zm1-1zm4 42zm3-18zm3 41zm1-30zm1 24zm3-50zm1 17zm1 0zm4 4zm0-25zm1 40zm0 11zm1-81zm1 19zm1 22zm4 23zm0-52zm2 35zm1-14zm2-38zm4 61zm1-40zm3-19zm2 53zm1-59zm2-5zm1 52zm2-1zm2-39zm3 59zm0-29zm0-2zm1-11zm2 32zm3-51zm1-49zm0 118zm3-47zm0 21zm2-92zm2 80zm1 1zm1-9zm0 52zm1-50zm7-30zm2 6zm2 35zm0-8zm1-52zm1 44zm1 10zm1 10zm0-17zm2 16zm2-57zm0 95zm3-39zm1 13zm0 43zm2-80zm1-28zm0-23zm0 44zm1-38zm1 40zm0 85zm1-79zm0 31zm2-62zm0 41zm1-1zm2-101zm4 23zm0 51zm4-8zm8-44zm27 101zm0-73zm3 55zm0-32zm14-46zm0 61zm39-11zm16-91zm3 81zm3-43zm29-34zm1 82zm4-62zm23 57zm17-99zm21 30zm4 62z"/><path d="M1464 419zm0 58zm1-28zm1-7zm0 36zm2-49zm0 37zm0-14zm0 28zm2 7zm0-21zm2-5zm1 1zm1-4zm0 1zm1 5zm0 27zm0-35zm0 41zm1-20zm0-34zm0 35zm1-3zm0-22zm1 18zm0 15zm1-10zm1-25zm0 11zm1 34zm0-74zm1 26zm1-9zm0 35zm1-29zm1 36zm1-6zm0-36zm0-12zm1 22zm1 12zm0 5zm1 14zm1-42zm0-12zm0 7zm2-15zm0 9zm0 19zm0 10zm0-26zm0-4zm1 42zm0-50zm0 52zm0-24zm2 45zm0-40zm0 34zm0-27zm0-22zm0-17zm1 40zm1 20zm1-35zm0-1zm2 6zm1 19zm2-21zm0-55zm1 52zm1 15zm0-26zm1 10zm1-8zm0 7zm1 13zm0 21zm0-30zm1 41zm0-22zm2-1zm1 14zm0-27zm2 50zm0-69zm0 40zm0-36zm1 10zm0-21zm1-8zm1 22zm0 21zm0 6zm0-1zm1 7zm0-48zm0-8zm0 57zm1-61zm0 63zm1-19zm0-47zm1-9zm0 26zm2 1zm2 35zm0-17zm1-37zm0 18zm0-15zm0 32zm1-2zm0-18zm0 12zm3 2zm0-30zm0 50zm0 31zm1-66zm2 17zm0-19zm0 32zm1-14zm0 38zm0-34zm0-22zm1 30zm1-26zm0 10zm0 32zm0-27zm2 28zm1-83zm2 25zm0 22zm1 21zm3-2zm1-14zm1-6zm0-14zm1 9zm0 32zm1-29zm0-11zm0-8zm1 31zm1-3zm1 1zm0-40zm1 1zm1 22zm0-4zm0 33zm0-48zm0 13zm0-25zm1-2zm1 25zm1 46zm1-87zm0 23zm0 23zm1-15zm1 18zm1 44zm1-47zm3 26zm0-47zm0 36zm1 23zm1-80zm0 20zm0 40zm0 4zm1 17zm0-63zm2 5zm0 4zm0 19zm1-6zm0-9zm1 11zm0-45zm2 16zm0 17zm1 15zm0 24zm1-68zm3 19zm0 43zm1-39zm1-7zm2 29zm4-27zm0 27zm2-25zm0-10zm1-19zm0 111zm2-100zm0 22zm0-4zm1 9zm0-9zm2-11zm1 4zm1 31zm1-76zm0 42zm2 20zm1 43zm1-41zm1-6zm0-12zm1 22zm1-3zm1-23zm0 2zm1 0zm1 32zm1 33zm2-16zm2-42zm1 42zm2-12zm0 24zm1-95zm0 36zm1 21zm1-5zm0 34zm1-103zm0 61zm1 2zm0-60zm1 70zm1-31zm0 57zm0-36zm0-11zm0-25zm0 76zm1-65zm0 49zm0-21zm0-16zm2 29zm0 7zm1-12zm1-8zm0-17zm0-14zm2 12zm2-50zm1 65zm1 17zm0-59zm0-1zm2 24zm0-6zm1 5zm1-16zm1 14zm1 54zm1-23zm3-15zm0 39zm0-72zm1-13zm1 48zm0-46zm2 42zm1 35zm0-82zm1 5zm0-10zm2 40zm1 43zm1-28zm2-32zm1 43zm0-41zm1 55zm1-60zm1-51zm0 41zm1 45zm4-27zm0 10zm0-33zm1 16zm1-36zm0 15zm4 67zm4-29zm0 39zm2-73zm0 87zm0-69zm3 1zm0 29zm1-7zm0-5zm1-11zm1-36zm4 34zm2 41zm1-46zm0 4zm1-26zm2 31zm1 49zm1-85zm0 32zm1-39zm5 56zm2-52zm7 21zm0-6zm1 18zm2 10zm0 1zm0-61zm1 31zm1 19zm1-59zm5 57zm1-36zm1 24zm1 29zm1-15zm2-39zm1 25zm1 48zm0-98zm0-7zm1 68zm1-46zm1 3zm3-7zm0 64zm6-62zm4 23zm2-61zm0 38zm1-24zm1 88zm10-71zm2 97zm0-45zm1-76zm2 14zm3-61zm1 83zm1 45zm1-94zm1 49zm5 59zm1-67zm0-11zm2 64zm1-21zm0-20zm2-23zm0 40zm1-37zm2-35zm0-18zm3 56zm0 12zm1 8zm1-10zm0-10zm2 25zm0-1zm2 1zm1 37zm1-99zm2 51zm0-28zm2 9zm1 31zm1-14zm1 14zm0 47zm1-124zm1 87zm4-31zm3-26zm1-4zm2 66zm1 2zm0-23zm1-33zm2 1zm0 19zm3-7zm2-38zm1 35zm6-27zm0 41zm1 23zm1-33zm0-27zm2 15zm0 21zm12-36zm3-4zm1 26zm12 0zm5 23zm0-54zm4 47zm4-101zm13 44zm4 3zm2-25zm24-11zm13-30zm3 49zm3 19zm1 36zm1 1zm17-63zm20-25zm6 4zm12 20zm7-76zm11 48zm7-21zm12 25zm21-17z"/><path d="M1465 484zm1-29zm0 8zm3 20zm0 4zm0-10zm0-24zm1 46zm0-39zm1 3zm1 35zm0-10zm0-8zm0-43zm1 31zm0-71zm1 58zm0-28zm0-8zm1 7zm0 24zm1 23zm0-1zm1-23zm0-8zm2 21zm1-26zm2-11zm1 25zm1-5zm0 24zm1-32zm0-24zm1 45zm0-12zm0 7zm0-23zm1 21zm0 27zm0-30zm0-14zm1 38zm0-37zm0 32zm1-49zm0 43zm1-53zm1 28zm0 27zm1-14zm0 16zm1-28zm0-17zm1 59zm1 4zm0-13zm2-3zm0 10zm0-5zm0-33zm1 23zm1 12zm0-3zm0-42zm1 70zm0-26zm1-34zm0 16zm1-70zm2 45zm0-8zm0-27zm0 35zm0 23zm1-15zm0-23zm0-3zm0 76zm1-89zm1 61zm0 23zm1-49zm0 41zm0-34zm1 31zm1-29zm0-14zm0 24zm1 6zm1-52zm2 20zm0-2zm1 31zm0 6zm0-15zm2-19zm1 43zm1-18zm0 27zm2-34zm1-66zm0 48zm1-48zm1 85zm0-19zm1-39zm0 33zm1-29zm0 58zm0 7zm1-26zm2-29zm1 27zm1-32zm0-26zm1 66zm2-28zm2-33zm0 19zm1 45zm1 11zm1-22zm1-6zm1 13zm0-16zm0 23zm1-4zm0-83zm0 63zm2 9zm1 0zm0-26zm0-17zm1-12zm0 53zm1-38zm0 18zm3 30zm1-13zm1 30zm0-49zm0-19zm0 12zm1-15zm0 44zm0-25zm0 16zm1-44zm1 37zm1 13zm1-4zm1 11zm1-25zm0-15zm0 50zm0-86zm1 21zm0 39zm2-47zm0 37zm1 1zm1-21zm1-1zm0 11zm3-18zm4-37zm1 57zm1-5zm1 9zm2 0zm1 36zm1-28zm1-36zm1 30zm1 4zm1-20zm0 11zm0-13zm1-5zm1 16zm1-53zm0 40zm5 13zm0-33zm0-20zm0 88zm1-55zm1 19zm2-4zm0-21zm1 57zm1-11zm1-4zm1-6zm0-22zm1 31zm0-33zm0-54zm0 119zm1-84zm0 35zm1-28zm1-2zm1-13zm0 6zm1 35zm3 2zm0-43zm1 39zm1-76zm1 116zm4-26zm0-64zm1 48zm1-20zm0 52zm0-63zm1 36zm1-15zm0 20zm1-52zm2 59zm1-53zm1 40zm2-13zm2 4zm0-31zm1 15zm3-13zm0 37zm1 53zm0-53zm2-31zm1-28zm0 29zm1 19zm1-5zm0 36zm3-25zm0-17zm1-9zm1 47zm2-59zm1 20zm1-24zm0 93zm0-123zm1 46zm0 16zm0-13zm0 38zm1-60zm0 27zm0-6zm1 9zm1 73zm2-62zm0-45zm0 68zm2-39zm1-21zm3-36zm2 57zm0 11zm2-42zm1-13zm0 82zm1-28zm1-76zm1 35zm3-18zm4 52zm2 46zm4-58zm1-26zm3 18zm3-20zm0 56zm0-80zm1 16zm1 27zm0 6zm0 16zm1-40zm0 32zm0 1zm0-43zm4 7zm6 50zm0-64zm8 3zm0 43zm2-35zm1-35zm2 41zm0-32zm1 29zm0 71zm1-95zm0 60zm2 12zm1-28zm1-15zm2 17zm2-39zm2 19zm2-13zm2 37zm1-19zm1 22zm0-53zm0 9zm0 9zm1 27zm0-31zm2 64zm3-41zm4 17zm1-86zm2 50zm1 29zm2-15zm2-32zm1 1zm2-60zm1 66zm0-7zm0-33zm1 24zm2 43zm1-5zm0-13zm4 7zm4-36zm0-13zm0 18zm2-51zm2 26zm0-43zm1 49zm0 20zm1-17zm0-10zm1 8zm3 34zm0-22zm1 4zm2 0zm1 9zm1-31zm1 62zm0-25zm0-45zm0 43zm2-54zm2-7zm0 73zm4-58zm1 45zm1 17zm0-13zm2-46zm1 33zm1 37zm0 8zm1-81zm0 53zm2-53zm3 25zm3-30zm2 55zm0 2zm1-28zm1-37zm0 62zm0-43zm1 61zm0-55zm0-45zm0 25zm1 18zm1 116zm0-73zm0-34zm3 40zm1-38zm1-6zm1-20zm1 37zm0-14zm3 5zm4 13zm4-23zm1 59zm0-49zm1 0zm0 9zm1-22zm0 64zm1-56zm0-6zm1 24zm1-22zm19 23zm10-51zm1-27zm11 66zm1-72zm12 55zm7-70zm20 47zm3-103zm7 61zm14 53zm4 21zm12-107zm0 102zm2-65zm1 19zm1-46zm5-12zm5 47zm8 14zm3 54zm1-130zm2 44zm1 19zm1 11zm5-34zm15-22zm33 9zm14 15zm5-37z"/><path d="M1464 464zm0 20zm0-33zm0 8zm0-6zm1 7zm0 9zm1-32zm0 19zm0 45zm1-24zm0-9zm0-34zm1 34zm1 17zm0-14zm0-3zm2-33zm0 10zm2 52zm0-5zm0-38zm0-10zm1 7zm1 26zm0-36zm2 50zm1-28zm2-8zm1-24zm0 54zm0-9zm1 19zm1-34zm0-5zm1-49zm1 55zm1-27zm1 4zm0 21zm2 29zm3 11zm0-101zm0 40zm2-8zm1 11zm0 46zm0-38zm1 24zm0 4zm0 11zm2-53zm0-1zm0 31zm1-23zm1 18zm0-48zm1 54zm1-2zm1 0zm1-21zm1 17zm0-36zm0 35zm1-5zm1-16zm0 35zm1-23zm0 27zm1-30zm1-8zm0 10zm1 20zm0-8zm0 9zm1 13zm0-81zm0 51zm0-14zm0 21zm1 8zm0 2zm0-4zm0-77zm1 34zm0 23zm0 14zm0 5zm1 13zm1-40zm0-5zm2 31zm0-10zm1-45zm0 37zm2-24zm0 16zm1 5zm0 18zm1-74zm1 52zm2 21zm0-23zm1-56zm0 11zm0 62zm1-37zm0 56zm0-31zm1 11zm0-9zm0-22zm0-18zm0-13zm3 36zm1-26zm0 44zm1-32zm0-6zm0 53zm2-29zm0 13zm0 39zm1-12zm2-60zm0 26zm3-2zm1-14zm0 15zm0-52zm1 95zm1-69zm1 22zm0-18zm2 54zm1-18zm0-8zm0 6zm1-20zm0-31zm1 56zm1-37zm1 33zm0-66zm1 79zm0-15zm2-29zm0-23zm0 34zm1-38zm1-11zm2 67zm1-36zm1-6zm1 32zm0 4zm0 54zm0-89zm2 46zm2-46zm1-29zm1 60zm0 63zm0-118zm1 47zm0-38zm0 64zm0-33zm0-17zm1-9zm0 8zm0 12zm1 9zm0 0zm1 5zm1-26zm0-21zm2 18zm0 20zm1 8zm1 4zm0-48zm0 44zm0-46zm4 63zm1-49zm1-14zm0-1zm1 7zm0-27zm0 5zm0 68zm3 10zm0-1zm1-22zm0 4zm0-15zm1-25zm1 17zm1-3zm0-3zm0-23zm1 1zm1 30zm0 13zm1 1zm1-5zm0-26zm2 10zm0 5zm1-20zm0 46zm0-19zm1-47zm0 46zm1-41zm1 1zm1 51zm0-25zm1 38zm3-32zm3 30zm1-30zm3 17zm0-1zm2-21zm1-16zm0-47zm1 109zm0-41zm1 38zm0-65zm1-10zm0 4zm0 2zm1-5zm1 24zm0 48zm1-37zm2-4zm1-74zm1 7zm0 82zm0-18zm0-12zm4 7zm4 16zm1 12zm1 8zm0-52zm0-21zm1 98zm1-35zm0-33zm2 19zm0-63zm1 29zm0 29zm0-46zm1 89zm0-75zm1-11zm1 28zm0 7zm1-9zm1 26zm3-22zm0 5zm0-87zm1 87zm1-28zm0 3zm2 20zm0 13zm1 4zm1 13zm0-24zm0-4zm4 40zm0-40zm1 14zm2-5zm0 1zm1-22zm1 39zm1-5zm1-42zm1 16zm0 51zm0-98zm0 30zm1-7zm1-12zm0 14zm1-35zm3 3zm2 49zm1-30zm2 13zm3 68zm0-32zm0-25zm2-62zm0 69zm2 6zm0-2zm0-3zm1-27zm0-53zm2 83zm1-13zm3 0zm0-16zm0 5zm1 33zm2-43zm2 24zm1-48zm6 45zm1-46zm1 48zm1 41zm2-34zm1-32zm2-46zm3 29zm1 8zm2 32zm3-42zm4 4zm1-12zm1 33zm1-39zm1-16zm1 36zm0 9zm3 25zm2 0zm2-80zm3 84zm0-42zm1 60zm1-104zm0 52zm3 36zm0-3zm1-1zm6 2zm1-70zm0 46zm0-27zm1 16zm2 7zm4-3zm4-2zm0 14zm1-20zm4 32zm0-28zm3-61zm3 21zm1 60zm0-18zm1-53zm0 14zm2 18zm1-7zm2 0zm0 3zm1-27zm0 97zm2-24zm0-90zm1 59zm3-40zm1 36zm1-20zm1 7zm2 43zm0-33zm4-51zm1 53zm1-20zm4 16zm1-26zm5 49zm1-97zm3 93zm1-15zm2 9zm4-50zm3-61zm0 69zm2 8zm0-75zm1 57zm5-32zm1 30zm0 41zm1-70zm1 81zm2-68zm23 52zm18-62zm6 54zm4 1zm1-62zm9 11zm2 44zm7-68zm2 70zm5-76zm4 26zm5 4zm15 1zm4-19zm9-28zm2 38zm6 44zm3-9zm4 27zm0-129zm1 48zm7 21zm0-61zm21 19zm0 3zm2 6zm8-48zm1 83zm21-102zm5 57zm25-8z"/><path d="M1463 441zm0 45zm1-34zm2-7zm0-6zm1 6zm0 22zm1-5zm1 3zm0 10zm1-64zm1 63zm0-24zm0 39zm0-1zm0 7zm0-4zm1-49zm1 32zm2 7zm0-6zm0 14zm0-7zm1-3zm1-83zm1 82zm0-62zm1 21zm0 10zm0-48zm1 44zm0-3zm0 19zm0 1zm1-6zm1 9zm2 32zm0-27zm0-10zm1 0zm0 11zm0-62zm1 24zm0 16zm2 6zm1 2zm1 0zm0 6zm1 18zm0-8zm0-24zm2-17zm0 48zm2-40zm1-3zm1-32zm0 88zm0-44zm0-8zm1 22zm1-38zm1-27zm1 58zm0-13zm2-27zm2 14zm0 13zm1-59zm0 90zm0-33zm1 8zm1 12zm0-9zm0-44zm1 53zm1 3zm0-60zm0 39zm1 45zm0-43zm0 27zm0-15zm2 26zm2-76zm1 48zm1-40zm0-1zm1-9zm0 16zm1 10zm1-41zm0 58zm0-25zm0 22zm2 11zm0 4zm1-11zm0-32zm0 60zm1-44zm1-3zm0 1zm1 9zm1-37zm2 24zm0 19zm0-11zm2 20zm2-10zm2-6zm1 13zm0-21zm0 23zm1-12zm0-2zm1-10zm0 36zm1-68zm1 22zm2 28zm2-19zm0 60zm1-61zm0-30zm1 76zm0-57zm3-12zm0 24zm0 6zm0 3zm1-36zm0 56zm1-8zm1-21zm0-5zm1 23zm0-24zm1-11zm0-10zm1 17zm0-29zm0 52zm0-36zm1 28zm0 10zm1-55zm2 69zm1 25zm0-32zm3 5zm1-84zm0 25zm0 14zm2 23zm1 1zm1-1zm0 13zm1-26zm0-54zm0 7zm1 28zm2 38zm0-38zm0 8zm2-5zm1 21zm0-17zm1 41zm0-15zm2-15zm2 4zm2-29zm0 42zm1-19zm1-58zm0 34zm0 49zm1-16zm1-39zm0 8zm1-16zm1 6zm0 53zm1-10zm0-16zm1-16zm0 26zm1-41zm1-9zm0 45zm2 18zm0 2zm3-1zm0-55zm0 71zm2-27zm1-86zm0 44zm2 31zm0 6zm1 4zm0-32zm1 56zm1-39zm1 9zm1-67zm0 38zm1-43zm0 48zm1 28zm1-66zm1 10zm0 20zm0-1zm1-10zm0 20zm1-12zm0 24zm2-31zm0 18zm0-41zm1 11zm0 75zm1-39zm1-40zm1-42zm1 45zm1 33zm1-7zm3 40zm1 1zm4-26zm1-30zm0-5zm0-28zm0 30zm2 45zm0-26zm1-1zm1 68zm1-87zm0 7zm1 27zm0 19zm0-41zm1 68zm1-33zm0-18zm1 4zm0-75zm1 3zm0 41zm0 31zm1-13zm1 55zm0-28zm1-11zm1-21zm2 2zm1 35zm1-3zm0-21zm1 34zm0-102zm1 62zm0-28zm1 41zm0-52zm0 25zm0 16zm1-46zm0 46zm1-25zm1 15zm2 30zm0-18zm1-9zm0 10zm1-3zm0-16zm4 51zm2-44zm0-11zm0-52zm1 76zm1-93zm2 73zm0 22zm1-21zm0-74zm0 90zm2-18zm1-6zm0 4zm0-4zm2-52zm2 39zm2 25zm2-41zm6 50zm1-32zm0-21zm0 5zm2 35zm1-38zm3-8zm1 36zm1 32zm1-102zm1 40zm1 80zm2-37zm1-30zm0 15zm2 10zm2 20zm1 13zm0-73zm0 18zm2-18zm1 9zm2 8zm0 37zm1-22zm3-73zm0 29zm1 12zm0 24zm0 16zm0 35zm2-86zm0-17zm1 36zm1 13zm0-17zm0 7zm1 24zm0-54zm0-5zm1 24zm0 28zm1-36zm0 73zm1-62zm1 21zm2-64zm5 101zm0-76zm1 33zm1-48zm4 72zm1-16zm1-27zm1 63zm1-57zm1 19zm1-58zm7 45zm0 10zm2-2zm2 15zm1-65zm2 37zm2-40zm0 37zm1-68zm1 33zm2 35zm1 16zm1 0zm2-11zm4 2zm1-10zm1 12zm5-42zm1-26zm2-1zm1 50zm0-16zm2-37zm1 92zm6-5zm1-36zm4-7zm2-59zm2 106zm1-52zm3-28zm0 52zm0-37zm2 50zm3-57zm1 4zm2-68zm10 66zm1-12zm0 37zm1-51zm0 66zm3-40zm1 27zm1-47zm1 36zm7-20zm12-60zm1 59zm7-22zm0 22zm8 11zm5-4zm16-11zm9-29zm1-26zm21-20zm3 51zm4-50zm3-3zm8 10zm14 2zm3 34zm10-31zm10-32zm3 43zm7 16zm9 37zm4-70zm4-28zm3 2zm7 20zm6 20zm10-41zm4 47zm5-98z"/></g>
<path d="M1465 410.6H2056.6" stroke="#141414" stroke-width="3.8" stroke-dasharray="22.4 6.6" stroke-dashoffset="13" fill="none"/>
<g stroke="#E9962C" stroke-width="10.6" stroke-opacity=".5" stroke-linecap="round" fill="none"><path d="M1822 313zm3 22zm1-37zm4-3zm4-49zm1 61zm1 10zm0-35zm1 28zm3 0zm3-50zm1 29zm4-15zm0-10zm1-19zm2 83zm1-27zm1 50zm0-89zm1 52zm0-56zm0 70zm3-67zm1 0zm1 46zm1 24zm1-22zm0-34zm3 20zm1-16zm0-37zm1 72zm1-86zm2 87zm1-35zm5-3zm0-8zm0 10zm3 27zm0-9zm1-45zm0 26zm5 35zm3-51zm1 22zm0 44zm0-36zm1 0zm2-5zm9 30zm8-8zm3-21zm2-27zm3 64zm4-44zm0-11zm5-34zm0 41zm3 19zm0-11zm3 38zm4-61zm10-20zm1 24zm1 42zm4-38z"/><path d="M1822 309zm0-1zm1-35zm2-3zm2 52zm0-20zm2-8zm0-30zm0 64zm1-6zm1-62zm0 41zm1 17zm3-2zm5 21zm1-91zm4 49zm0 12zm1 19zm0-88zm3 51zm2-9zm0 47zm0-39zm1 6zm1 37zm0-59zm1 11zm0-1zm5-8zm1 3zm1 67zm0-31zm4-29zm2 32zm5-34zm2 8zm1 4zm3 29zm1-29zm3-79zm1 80zm6-31zm3 42zm0-11zm3-9zm11-28zm0 33zm1-43zm2 23zm1 41zm2-32zm2-44zm2 14zm6 46zm4-35zm9 47zm3-50zm6 22zm0 2zm1 25zm3-52zm2 4zm0-17zm7 34zm0 56z"/><path d="M1824 291zm1 28zm0-69zm0 53zm1-9zm0-3zm1 15zm0-35zm2 22zm1 1zm1 3zm2 28zm1-41zm4-12zm1 18zm0-72zm1 109zm1-15zm0 18zm1-30zm3-22zm2-1zm0-56zm2 58zm2 10zm1-48zm2 59zm0-11zm1 17zm2 29zm0-70zm1 46zm2-47zm0-33zm4 41zm1 4zm1 8zm1 44zm4-65zm1 7zm3 48zm1 6zm4-47zm8 56zm1 8zm2-107zm2 34zm1 14zm5 25zm5-10zm4-31zm1-14zm6 18zm3-21zm3 38zm2 39zm5-83zm2-16zm4 92zm1-62zm4 42zm2 3zm2-39zm5 18zm7-44zm2 18z"/><path d="M1822 285zm0 28zm4-31zm0 35zm7-3zm1 2zm0-9zm1 0zm2-1zm4 11zm1-14zm0-9zm1-4zm0 20zm3-60zm1 42zm1 40zm2-71zm1 24zm1 33zm1-33zm2-3zm1-15zm0-22zm1 25zm2-14zm1 39zm0-5zm2-1zm2-12zm5 37zm0-60zm1 78zm0-9zm1-66zm0-5zm1-13zm4 37zm2 20zm0-49zm4-17zm1 36zm0 16zm3 14zm1-5zm1-8zm0 29zm0-65zm4 49zm3-9zm6-53zm3 50zm1-18zm0-12zm1-10zm1 42zm1-10zm2 4zm0-15zm1 31zm1-2zm7-27zm2 2zm5 27zm32-31zm0 16z"/><path d="M1822 268zm1 33zm1-44zm0 72zm1-73zm1 13zm1 45zm0-8zm2 28zm0-112zm2 94zm0 12zm1-12zm0 5zm2-34zm4-8zm2 2zm0 7zm0-4zm2-1zm2 28zm3-52zm3 38zm0-29zm3 45zm5 3zm1-27zm1 56zm3-44zm2-21zm2-6zm1 13zm3 42zm1 20zm3-67zm0 55zm12-62zm1-18zm1 64zm2-59zm0 38zm3 20zm1-14zm3-69zm0 43zm0 26zm2-32zm0 74zm4-73zm2 64zm2-62zm1-7zm0 67zm4-82zm3 32zm6 10zm1 24zm2-19zm8 13zm2-51zm7 13zm6 14zm0-40zm1 58zm1-38zm4 5z"/></g>
<g stroke="#25285A" stroke-width="10.6" stroke-opacity=".5" stroke-linecap="round" fill="none"><path d="M1703 309zm4 87zm1-61zm0 12zm0-4zm1 20zm1 5zm0-4zm1-17zm1 14zm0-5zm2-17zm0 26zm0 11zm2-52zm0 21zm1-22zm0 11zm0 27zm0-33zm0-37zm0 77zm0-18zm1 5zm1-31zm1 41zm1-18zm0 6zm1 25zm0-43zm1 13zm2 20zm0-1zm1 8zm0-35zm2-1zm0-18zm1-12zm0 32zm1 34zm0-59zm1 18zm0 6zm3 22zm0 21zm0-3zm1-40zm2 34zm1 3zm0-85zm1 23zm2 19zm0 8zm0-7zm1-53zm0 51zm0-5zm0 7zm2-25zm1-25zm2 27zm0-32zm1 90zm0-19zm0-42zm0-37zm0 45zm1 10zm3 69zm1-91zm0-4zm1 39zm1-23zm0 4zm1 44zm0-78zm1 26zm0 12zm1 31zm0 4zm0-36zm1 40zm1-8zm0-9z"/><path d="M1703 345zm0 17zm0-16zm1 9zm0-8zm0-15zm2 25zm0 0zm0-26zm1 20zm0-19zm0 24zm0 38zm2-50zm0 35zm0-9zm2-57zm3 82zm1-5zm1-35zm1-24zm0 71zm0-69zm1 12zm0-1zm0 18zm1-53zm1 41zm0 6zm1-15zm0-10zm0-7zm0 47zm2-62zm0 33zm1 17zm2-11zm0-44zm1 14zm0 28zm2-12zm0 16zm1 0zm2-14zm1 9zm0-37zm0 54zm1-32zm1 1zm0-28zm1 48zm0-28zm0 9zm1 34zm1-16zm1-56zm2 49zm1 3zm0-41zm1 48zm1-32zm1-19zm1 4zm0 32zm0-19zm1 79zm2-82zm0 33zm3-20zm0-28zm0-1zm1 30zm0-5zm1 27zm1-22zm0 29zm1-12zm2-70zm0-10zm0 97zm2-10zm0-68zm1 69zm0 22z"/><path d="M1704 379zm0-23zm0-10zm0-22zm0 44zm0-42zm1 29zm1-7zm0-13zm1-79zm0 77zm1 22zm0-31zm0-18zm1 42zm1-26zm0 13zm1-7zm0 18zm2 1zm1 6zm0-31zm1 84zm2-46zm0-7zm1 14zm1-11zm1 4zm0-37zm1 6zm0-1zm0 33zm4 20zm1-16zm0 1zm1-75zm1 56zm1 40zm0-43zm0-51zm0 42zm1 12zm0-19zm2 29zm2 7zm1-66zm0 65zm2 7zm0-11zm1-6zm0-35zm0 49zm1-33zm1-24zm0 23zm0 7zm1 31zm1-77zm0 39zm0 34zm0-25zm1-2zm0-12zm1-9zm1-19zm1 41zm1-18zm0 26zm0-41zm1-1zm3-14zm0 53zm3 6zm0-36zm0 36zm0-34zm0 19zm2-24zm0 25zm1-5zm0-24zm1 35zm1 39zm1-79z"/><path d="M1704 377zm1-29zm0 0zm1-18zm0 16zm0 14zm1 77zm0-88zm1-27zm1-39zm2 95zm1 7zm0-74zm1 31zm1 0zm0-1zm0 26zm2-65zm1 29zm0 79zm1-61zm1-40zm0 66zm0 6zm0-27zm1-42zm1-4zm0 3zm1 7zm0-19zm1 72zm0 16zm1-41zm0 16zm3-26zm0 16zm1 34zm0-55zm1 22zm2-17zm0 2zm2 56zm0-54zm0-2zm0 54zm1-78zm0 24zm0 13zm1-24zm3 17zm1 26zm0-25zm1 2zm1-22zm3-23zm0 90zm0-47zm1-8zm0-17zm0-1zm1 21zm4 18zm1-79zm0 69zm0-67zm2 29zm0 10zm1-6zm0 37zm0-40zm1-20zm1 40zm0-49zm0 91zm1-47zm0 100zm0-128zm1 54zm0-56zm1-7zm0 31zm1-2zm1-29zm0 42z"/><path d="M1703 329zm1 50zm0-21zm2-35zm0 17zm1 18zm0-1zm1-13zm0-4zm0 28zm0-48zm0-4zm2 13zm1 19zm2 10zm0-11zm0 41zm0-71zm1 46zm0-47zm0 67zm1-48zm0 18zm2-53zm0 83zm1-20zm1-61zm1 69zm0-25zm1-52zm0 123zm2-80zm0 23zm1-72zm0 99zm1-74zm1-6zm0 27zm0 27zm1-6zm0 8zm0-5zm2 16zm1-38zm0-33zm1 67zm0 20zm0-44zm1 8zm0-24zm2 26zm0-30zm0 73zm1 8zm0-103zm1 41zm3 10zm2-36zm5 4zm0 42zm1-47zm1-35zm1 85zm0-38zm0-29zm1 2zm0 72zm1-71zm1-23zm0 43zm0-17zm1 21zm1 9zm0-40zm0 18zm1 41zm2-49zm1-11zm0 11zm0 46zm1-27zm1 4zm0 1z"/><path d="M1704 409zm0-59zm1-16zm1 29zm1-58zm1 59zm1 25zm0-19zm0-7zm2-19zm0-24zm1 25zm0-28zm2-8zm0 34zm0 17zm0-36zm3 47zm1-40zm0 6zm0 70zm0-63zm2-29zm0-18zm1 8zm0 25zm0 49zm1 15zm1-112zm0 50zm0 27zm1-24zm0-6zm1 13zm1-11zm1 9zm0-15zm1-6zm0-2zm0-19zm1 10zm0 32zm1-27zm1 13zm1 35zm0-73zm0-14zm1 76zm2-21zm2-2zm1-35zm0 43zm1 12zm2 13zm0-17zm0 20zm1-24zm0-21zm0 38zm2-48zm2 51zm0-41zm0 3zm1 8zm0 9zm0 5zm1-27zm0-15zm0 38zm1-56zm0-5zm0 50zm0 25zm1-73zm2 75zm1-36zm0 12zm2 23zm0-9zm2-61zm1 15zm2 17zm1 44z"/></g>
<g stroke="#3FA3C9" stroke-width="10.6" stroke-opacity=".42" stroke-linecap="round" fill="none"><path d="M1667 361zm3 25zm1-31zm0-13zm4 35zm5 8zm1 15zm1-5zm7 2zm2-77zm1 42zm1-35zm2 65zm0-60zm0 29zm1 1zm2 26zm0-56zm1 54zm1-8zm2-12zm0-53zm1 67zm0-61zm1 86zm0-84zm2 26zm0-30zm1-1zm1-10zm1 90zm3-66zm0-30zm1 45zm0-28zm0-18zm1 63zm3-34zm1 16zm0-23zm1 35zm0-28zm1-32zm0 71zm0-18zm0 51zm1 22z"/><path d="M1674 379zm2-54zm2 36zm1-51zm5 96zm3-51zm0 20zm2-31zm2 13zm0 50zm1-77zm1 25zm1-46zm1 95zm0-36zm0-12zm3-44zm0 41zm1-32zm1-13zm2 73zm0-54zm3 23zm0 13zm2-26zm1 91zm1-82zm1 34zm0 21zm0-50zm1 38zm0-42zm3-3zm2-17zm0 22zm0-45zm1-4zm1 53zm0-30zm0-24zm1 10zm0 57zm1 23zm0-62zm0 35zm0 11z"/><path d="M1670 382zm2-47zm4-39zm2 16zm1-12zm3 61zm0 35zm0-39zm3 53zm2-21zm3-60zm0 85zm1-62zm1 1zm1-15zm3 14zm1 6zm1 18zm2-15zm1-29zm4 8zm1-2zm0 4zm0 34zm0-71zm1 54zm0-18zm0 0zm0 14zm1-14zm0 7zm2 35zm2-15zm0-20zm1 22zm1 5zm0-9zm0-14zm1-14zm1 40zm2 0zm0 23zm1-114zm1 39zm0 8zm0-1z"/><path d="M1669 396zm0-19zm1 7zm3 33zm0-62zm1-3zm2-43zm3 50zm1 8zm0-20zm4 29zm1-67zm2 38zm4 6zm1-21zm2 15zm2-53zm0 80zm0-19zm1 19zm1 3zm4-23zm0 15zm1 16zm3-38zm1 58zm0-86zm1 3zm2 50zm2-22zm0-22zm0 29zm2 37zm0-3zm1 1zm0-17zm0-13zm0-21zm1 13zm1 42zm0-61zm1-19zm1-21zm1 102zm0-64zm1 47z"/></g>
<circle cx="1716.7" cy="373.2" r="7" fill="none" stroke="#DE1984" stroke-width="5.9"/>
<path d="M1591.8 476.6H1750.4" stroke="#3FA3C9" stroke-width="2.2" fill="none"/>
<path d="M1596.7 484.5H1830.6" stroke="#25285A" stroke-width="2.2" fill="none"/>
<path d="M1703.5 492.7H2014.7" stroke="#E9962C" stroke-width="2.2" fill="none"/>
<path d="M1463 57.5V502.4H2058.8" stroke="#141414" stroke-width="4" fill="none"/>
<path d="M1461 502.4h-5M1461 436.8h-5M1461 371.2h-5M1461 305.6h-5M1461 240h-5M1461 174.4h-5M1461 108.8h-5M1520.1 504.4v5M1591.8 504.4v5M1663.6 504.4v5M1735.3 504.4v5M1807.1 504.4v5M1878.8 504.4v5M1950.6 504.4v5M2022.3 504.4v5" stroke="#878787" stroke-width="3" fill="none"/>
<g font-size="19" fill="#878787"><text x="1448.8" y="509.4" text-anchor="end">0</text><text x="1448.8" y="443.8" text-anchor="end">1</text><text x="1448.8" y="378.2" text-anchor="end">2</text><text x="1448.8" y="312.6" text-anchor="end">3</text><text x="1448.8" y="247" text-anchor="end">4</text><text x="1448.8" y="181.4" text-anchor="end">5</text><text x="1448.8" y="115.8" text-anchor="end">6</text><text x="1520.1" y="530.6" text-anchor="middle">1.0</text><text x="1591.8" y="530.6" text-anchor="middle">1.5</text><text x="1663.6" y="530.6" text-anchor="middle">2.0</text><text x="1735.3" y="530.6" text-anchor="middle">2.5</text><text x="1807.1" y="530.6" text-anchor="middle">3.0</text><text x="1878.8" y="530.6" text-anchor="middle">3.5</text><text x="1950.6" y="530.6" text-anchor="middle">4.0</text><text x="2022.3" y="530.6" text-anchor="middle">4.5</text></g>
<text x="1745.8" y="35.5" font-size="38.7" text-anchor="middle" fill="#141414">East Asia</text>
</g>
<g>
<g stroke="#787878" stroke-width="5" stroke-opacity=".095" stroke-linecap="round" fill="none"><path d="M130 1025zm1-40zm0 6zm0 42zm1-12zm0-47zm2 42zm1 2zm1 21zm0-81zm0 79zm0-41zm1 27zm0 0zm2 9zm0-9zm0-43zm1 39zm0-13zm0 35zm0-31zm0 10zm1-27zm0 53zm0-19zm0-19zm0-2zm1-29zm1 17zm0 13zm2-4zm0-6zm1-8zm0 48zm0-45zm0 7zm1 11zm0-21zm0 17zm1-16zm1 51zm0-40zm2 13zm1-34zm0 46zm0 23zm1-18zm0-31zm2-13zm0 43zm0 5zm1-3zm1-46zm2 30zm1-4zm1 0zm0 18zm1-20zm0 22zm1 9zm0 1zm1-42zm0-59zm0 88zm1-14zm0 15zm0-24zm1 5zm1 25zm0-38zm1 30zm0-25zm0 3zm1 0zm2 24zm1-6zm0 11zm1-21zm1 25zm1-13zm1-22zm0 22zm0-28zm0-5zm1 49zm0-26zm1-19zm1 43zm0-24zm1-36zm0 48zm1-4zm1 26zm1-52zm1-11zm0-29zm0 19zm0 42zm2-31zm0 24zm2 20zm0-63zm2-32zm1 45zm0 23zm1 26zm1-23zm1 10zm1-55zm2 28zm0 12zm1 6zm1 11zm1 3zm0-38zm1 13zm0 14zm0-8zm1-24zm0 35zm0-33zm1 22zm0-36zm0 55zm1-88zm2-23zm2 68zm0 16zm0 37zm1-25zm0 13zm1-14zm1 39zm0-67zm1 7zm0 4zm0-49zm1 25zm0 12zm0 15zm0 8zm2-19zm0 41zm0-49zm1-45zm0 82zm0 21zm1-46zm1 8zm0-24zm0-33zm1 65zm0-19zm0-1zm1 2zm1-18zm0 78zm0-49zm1-35zm0-6zm0 32zm2-20zm3 19zm0-65zm1 110zm2-123zm3 106zm0 19zm3-63zm4 13zm0-2zm2 10zm0-71zm1 111zm1-45zm0 29zm0-107zm1 87zm0-20zm0 11zm0-11zm0 0zm3-12zm1 6zm0 58zm1-53zm0 32zm1 21zm0-22zm3-34zm1 2zm1-10zm0 34zm0-2zm1 10zm0 33zm1-75zm1 56zm0-79zm0 29zm2 34zm1-108zm1 82zm1-35zm0 14zm1 67zm0-50zm1 24zm0-37zm0 24zm1 11zm1-39zm4 16zm0-13zm0 18zm2-14zm0 4zm4-10zm1-8zm0-27zm1 27zm2-16zm0 15zm1 31zm1-19zm2-52zm2 63zm1-17zm2-14zm0-23zm1 69zm0-9zm1-47zm0 69zm1-61zm0 21zm0 4zm3-32zm2 75zm1 1zm1-97zm1 66zm0-26zm1 7zm1-50zm1 20zm0 5zm1 42zm0-96zm1 69zm0-10zm1 11zm1 38zm0 30zm2-70zm1-23zm0 14zm0 28zm1-4zm2-27zm0-8zm1-7zm1 17zm1 17zm0 24zm4-76zm0 20zm1 9zm1 88zm1-95zm0 31zm1 59zm1-73zm0-32zm4 100zm2-53zm1 5zm4-36zm1 41zm0-18zm4 5zm0-34zm2 23zm0 31zm2-35zm1 37zm2-83zm1 97zm2-38zm0 2zm1 30zm3-73zm0-1zm2 9zm1 58zm1-21zm4-15zm0-58zm4 48zm0-43zm0 41zm1 62zm1-57zm0 30zm0-37zm3-20zm1-49zm1 23zm3-20zm4 42zm0 52zm1-116zm0 101zm2-59zm2-4zm1 31zm1-6zm1 42zm1-76zm1 70zm2-33zm1 14zm3 1zm1 12zm1-2zm4 59zm3-108zm0 57zm1-33zm1 7zm1 36zm1-69zm3 4zm3 65zm1-22zm0 11zm0-67zm1 66zm4-30zm0-35zm2 37zm0-21zm0 49zm2-69zm4 2zm1 21zm1-17zm1-8zm3 37zm4-41zm2 76zm0-94zm1 49zm0-54zm2 14zm1-22zm0 46zm1-35zm1 53zm2 32zm0-48zm1 58zm5-55zm1 9zm0-62zm1 103zm0-68zm1 31zm3 31zm1-34zm1 41zm0 12zm3-49zm2-6zm0 39zm8-58zm1-18zm4 48zm0-6zm3 46zm0-33zm3-20zm1-50zm0-1zm4 56zm1 66zm1-111zm0 32zm2 99zm8-121zm6-22zm3 2zm7 17zm2-22zm8 39zm2-1zm1-29zm4 38zm1-2zm2-47zm1-11zm6 16zm1 20zm1 34zm8-57zm5 95zm3-73zm10-13zm4 30zm6 9zm1-34zm4 66zm11-99zm1 6zm5 8zm4-6zm0-6zm2-68zm6 92zm12-50zm7 48zm41-97zm4 36zm6 31zm2-95zm4 68zm0 48zm6-78zm5 49zm1-30zm3 76zm1-105zm5 115zm4-71z"/><path d="M131 997zm0-2zm0-17zm1 34zm0 17zm2 9zm0 4zm1-20zm0-11zm1-52zm0 67zm1-19zm1-33zm0 57zm1-34zm0 6zm2 20zm0 3zm0-26zm1 43zm0-23zm0-70zm2 45zm1 45zm0-10zm2 6zm1-49zm1 13zm0 14zm0 15zm1 23zm1-89zm0 64zm1-3zm1 3zm0 20zm0-27zm1-28zm2-21zm0 62zm1-21zm0 13zm0-9zm1-56zm1 27zm0 31zm0-44zm2 28zm0 36zm0-24zm1-16zm0 49zm1-20zm3-31zm0 17zm1-25zm1 20zm0-31zm0 38zm0 24zm0-44zm1-32zm1 11zm0 64zm0-44zm0 4zm1-18zm1 17zm1 36zm1 9zm1-41zm0 33zm2-81zm0 37zm1-3zm1 15zm1 7zm0-20zm1 33zm1 1zm1-82zm0 86zm1-70zm2 37zm1 4zm0-10zm0 6zm2-30zm1 33zm2-33zm0 52zm1-64zm1 16zm1 26zm0 2zm0 36zm0-54zm0-10zm1 15zm1 40zm1-5zm0-42zm3-2zm0-17zm0 17zm1-1zm1 1zm0 48zm0-28zm0-63zm0 38zm0 36zm1-21zm0 30zm1 11zm0-14zm1-24zm0 52zm0-13zm0-75zm0 21zm2 53zm0-20zm1-20zm0 23zm1-33zm1 38zm1-29zm0 15zm1 50zm0-69zm1-12zm1 19zm1-23zm0 12zm1 18zm1 0zm0-29zm1 74zm0-68zm0 61zm1-63zm0 20zm1-76zm0 136zm1-74zm0 36zm3-24zm2 47zm0-48zm1 7zm1-11zm0-25zm1 5zm0 7zm0-14zm1 6zm0 25zm1 5zm0-27zm0 84zm0-54zm1 8zm0 20zm1-36zm0-9zm1 43zm0-73zm1-5zm0 82zm1-28zm1 23zm3-3zm0-94zm0 54zm0-16zm2 54zm1-15zm3-18zm0 6zm0 1zm0-4zm0-68zm0 81zm1-33zm1 27zm0-76zm2-10zm1 43zm1 35zm2-26zm0-12zm0 60zm3-25zm1-88zm2 94zm1-14zm2-88zm1 109zm1-31zm3 5zm1 36zm2-18zm0-19zm1-30zm0 40zm1-54zm1 12zm0 38zm1 20zm0-30zm1-22zm0 25zm1 48zm1-27zm2-48zm0 16zm0 16zm1-3zm0-55zm2 40zm1-11zm1 51zm2-4zm0-67zm0-25zm1 69zm0-40zm0 15zm1-9zm2 26zm0-15zm0 0zm0 44zm0-5zm1-26zm1-7zm1 6zm3 32zm1-113zm4 109zm0-19zm2-40zm0-2zm1 61zm1-58zm0 2zm1-9zm0-17zm1 101zm1-110zm0 47zm0 15zm2-53zm0 34zm1 33zm1-27zm0 28zm2 2zm1 7zm1-5zm2-3zm0 28zm3-80zm2-14zm1 14zm0 31zm1 36zm0 7zm0-59zm2 3zm0 7zm1-23zm2-5zm1 31zm1-8zm0 14zm1-41zm0 17zm0-12zm1 39zm1 0zm1-41zm0 7zm2-18zm1 51zm1-17zm1-22zm0-5zm1-31zm1 47zm3 48zm0-56zm0 24zm0-40zm1 61zm1-7zm2 34zm3-66zm0 6zm0-55zm3 47zm0 29zm1-32zm1-18zm1 62zm1-69zm1 28zm0 46zm1-19zm2-56zm1 28zm1-2zm2 22zm2-51zm1 49zm0-39zm1 20zm2-26zm2 25zm2-7zm0-21zm3 36zm2 15zm1-44zm1 18zm1 43zm0-3zm5-51zm2 3zm2-24zm0 24zm1 6zm0-11zm1-32zm1-4zm3 19zm1-38zm0 13zm5 15zm0 46zm2-89zm4 88zm1-10zm2-32zm1 88zm1-116zm1 114zm1-42zm1 15zm2 17zm1-90zm2 5zm2 41zm0-20zm1 1zm2 72zm3-70zm0-34zm2 17zm1 37zm1-32zm1 8zm1-28zm3 70zm0-32zm1 1zm0-4zm2 65zm1-101zm0 25zm2-41zm3 65zm0-7zm2-39zm4 36zm1-32zm3 70zm1 9zm1-30zm1-46zm5 2zm2-50zm0 55zm3-70zm1 72zm0 5zm1 78zm2-59zm2 24zm3-44zm0-27zm0 15zm0 9zm1 39zm0-77zm8 59zm1-73zm1-31zm2 86zm2 42zm1-96zm0 32zm0 39zm0-13zm1-71zm0 34zm10-21zm10 23zm3 3zm14-46zm7 61zm1 23zm8-104zm5 81zm22-29zm5-1zm6-29zm3 20zm3 12zm14 1zm8-2zm2-55zm3 45zm4-28zm4-4zm4 66zm7-8zm7-69zm35 22zm7-16zm6-104zm4 134zm17-73z"/><path d="M131 1023zm0 13zm0 4zm0-3zm1-12zm1 0zm0-16zm2 13zm0-31zm0 15zm2-4zm1 10zm0 8zm0 14zm0-32zm1 35zm1 1zm0-15zm1 5zm1 12zm0-48zm1 30zm1-6zm0 6zm0 2zm0-13zm2 20zm0 1zm1-25zm0-12zm2 28zm0 4zm0 7zm1-35zm0 34zm2-58zm1 16zm0 61zm0-75zm1 49zm2-8zm0-10zm1-36zm1 27zm0-10zm0 14zm0 23zm1-28zm0-15zm2-10zm0 33zm1 18zm1-58zm0 53zm0 13zm2-8zm0-19zm2-17zm0-35zm0 20zm0 42zm1 0zm0-15zm0 13zm0 35zm0-42zm2 3zm1-6zm0 19zm1 16zm0-10zm0-31zm1 41zm1-14zm0-68zm0 50zm0-6zm0-43zm0 15zm0 34zm2-21zm1 8zm0 45zm1-39zm0-14zm0-5zm1 23zm1-30zm0 3zm0 33zm0-36zm1 2zm1-7zm1 12zm0 46zm1-18zm0-51zm1 44zm2-6zm1-19zm0 56zm1-3zm0-31zm1-2zm1-18zm1 19zm0 0zm1-23zm0 49zm1 0zm0-4zm1-99zm1 81zm0-11zm0-6zm0-31zm3 37zm1-2zm1 20zm0-37zm1 60zm0-27zm1-10zm0 1zm1-19zm0 29zm1-11zm2 12zm0-2zm1 18zm1-33zm0-1zm1-7zm1 6zm1 43zm1 3zm0-60zm1 10zm0 26zm0-38zm1-9zm0 31zm1-21zm0 4zm1 51zm0-48zm1-3zm0-19zm0 25zm0 46zm0-78zm1 92zm1-88zm2 43zm1 15zm0-34zm2-34zm0 44zm1 1zm0-23zm1 30zm2-3zm1 33zm0-5zm1-88zm1 56zm1 13zm2-50zm0 1zm0 54zm1 11zm0-26zm0-49zm0 67zm1-56zm3 20zm0 2zm1 27zm0 0zm0-55zm1 29zm1-7zm0 35zm1-37zm0 3zm1-26zm1 46zm3-40zm0 69zm0-109zm1 51zm0-20zm2 12zm2 26zm0-67zm1 46zm0 49zm0-77zm1 37zm1 31zm0-40zm0 43zm0-72zm0 23zm1-11zm1 49zm1-9zm2 12zm1-33zm1-2zm1 36zm1-35zm0-3zm2 31zm0-16zm1 27zm0-35zm0 18zm0 7zm0 14zm1-32zm4 32zm0-56zm1 13zm1-28zm4 81zm0-72zm2 59zm0-25zm1-39zm1 64zm2-41zm1-8zm0 19zm1-24zm1-31zm0 48zm0 41zm1-5zm0-65zm0 22zm1-20zm0 58zm1-19zm1-38zm0 49zm2-30zm0 44zm0-39zm3 25zm2-7zm1-30zm0 5zm1 19zm1 40zm0-32zm0-23zm1 24zm0-16zm1-3zm2-6zm4-11zm4 38zm0-45zm1-19zm0 53zm0 16zm0-40zm1-1zm0-28zm2 37zm0-79zm1-15zm1 24zm0 86zm0-10zm1-5zm2-8zm1 0zm1 36zm0-5zm2-57zm0 13zm1 44zm0 24zm1-2zm0-59zm0 21zm1-55zm1 17zm0 20zm3 1zm0 4zm2 17zm0-60zm4 38zm1-26zm0 17zm1 15zm1-9zm1-10zm2 12zm2-48zm2-20zm2 64zm2 33zm3 11zm0-26zm2-43zm2-5zm0-29zm2 42zm1 52zm1-69zm3 9zm0 1zm1-34zm3-4zm0 99zm0-44zm0-92zm1 63zm0 51zm0-17zm0 14zm1-22zm1-24zm2 18zm0-37zm2 85zm1-80zm1 57zm1-42zm4 11zm2 28zm1-12zm1-91zm1 8zm1 71zm3-39zm0 16zm1-63zm0 120zm1-54zm1-12zm1 25zm3 23zm1-86zm2 72zm2 14zm1-43zm4-38zm2 75zm3-23zm0-24zm3 29zm0 55zm3-194zm1 134zm0-20zm3-38zm2 61zm2-18zm2 9zm3-72zm7 74zm4-4zm1 32zm3-44zm0-20zm3 34zm6-51zm2 2zm1 53zm2-65zm1-17zm2 53zm2-28zm2 82zm3-55zm0-10zm2-26zm0 51zm0-15zm1 6zm1 7zm0 32zm0-98zm1 24zm2 89zm1-58zm1 14zm1-67zm0 129zm1-119zm1 115zm0-24zm1-127zm0 22zm2 70zm2-36zm2 17zm1 45zm1-56zm4 31zm0 37zm3-20zm8-53zm6-14zm5 29zm28-21zm2-23zm13 84zm0-51zm15-26zm1-38zm3 34zm27-69zm11 45zm2-14zm5 107zm12-114zm11-40zm4 13zm3 12zm4 34zm6-14zm4-20zm3 4zm5 86zm7-62zm21-39zm2 21zm3 30z"/><path d="M131 1036zm0-41zm0 34zm1-55zm1 38zm0 11zm0-30zm0 1zm0-7zm0 41zm2 17zm0-82zm0 53zm1 17zm1-34zm1 46zm0 4zm0-35zm0-8zm0 13zm0-20zm0-8zm1 59zm1-70zm1 40zm1 8zm0-23zm2 35zm2-17zm1-20zm1 25zm0-11zm0-10zm1 0zm0-29zm1 48zm1-56zm0-15zm0 72zm2-17zm1 19zm1-47zm1 12zm0 18zm1 13zm1-38zm0 22zm0 8zm0 24zm0-8zm1 14zm0-25zm1-24zm1 7zm0-32zm3 25zm1 2zm0-40zm0 57zm2-6zm0 0zm0-38zm0 11zm0 67zm1-32zm0-26zm1 29zm0 5zm1 6zm0 19zm0-30zm1 18zm1-36zm1-5zm0 19zm1 11zm1-45zm1 26zm0 30zm1-1zm0-33zm0 32zm0-65zm1 17zm1 21zm1-13zm2 26zm1-35zm0-12zm1 1zm1 5zm0-3zm0 13zm1 11zm0-25zm0 53zm0-67zm1 33zm2-9zm0 58zm0-46zm0 31zm1-19zm1-21zm0-3zm1-38zm0 35zm1 16zm0 4zm1-51zm0 23zm1-27zm1 64zm0-11zm0-21zm0 23zm1 12zm0-18zm1-43zm0 63zm0-45zm1 22zm0-38zm0 50zm1-97zm1 87zm0-30zm1 6zm0-18zm0 50zm1-31zm0 17zm1-9zm2 61zm0-116zm0 79zm1-52zm0 24zm0-1zm0-50zm1 47zm1 55zm1-104zm0 45zm0 72zm1-34zm1-38zm1 13zm0 28zm0 4zm2-51zm0 39zm0-25zm0-43zm1 44zm1 14zm0-32zm0 70zm1-74zm1-37zm1 56zm0-8zm0 20zm2 4zm0-1zm3-13zm0 25zm1 16zm0-71zm2 29zm1-16zm1 14zm0 10zm1 31zm0-45zm0 28zm0-30zm1-24zm0 63zm0-7zm1-17zm1-32zm0-17zm0 61zm1-16zm2-44zm1 62zm0-39zm0 20zm1-4zm1 6zm1 26zm1-58zm1 18zm1-57zm1 87zm0-49zm3 15zm1 36zm0-17zm0 40zm1-25zm0-53zm2-14zm0 51zm1-25zm2 37zm1 45zm1-64zm0 10zm1-21zm1 6zm1 24zm0-2zm1-1zm0-59zm1 27zm3 3zm1 17zm0 0zm0 1zm2-8zm1-18zm0-15zm0-7zm3 54zm0 3zm0 16zm1-37zm1-31zm2 60zm1-30zm1-43zm0 19zm2-7zm1-16zm2 7zm2 68zm0-67zm3 44zm0-64zm1 30zm1-25zm0-20zm2 65zm0-35zm0 16zm1 74zm1-69zm4 5zm0-30zm1 28zm2-26zm1 10zm0 78zm1-83zm1 3zm1-6zm0 27zm2 22zm1-72zm2 65zm0 21zm0-71zm1 55zm1 6zm2-52zm4 73zm4-60zm1 7zm1 6zm0-73zm2 45zm2 14zm2 1zm0-39zm1 43zm1 10zm4-6zm1 11zm1-22zm0 21zm1-65zm1 23zm1 15zm0-13zm0-1zm4-35zm0 75zm3-28zm0-35zm1-2zm2 48zm0-23zm1-4zm0-1zm1 47zm1-28zm2-29zm0 15zm1-7zm1 45zm1-25zm2 6zm3 0zm1 39zm3-49zm0-8zm1 62zm3-111zm0 31zm3 65zm4-58zm1 7zm1 12zm2-16zm3-60zm0 63zm1-11zm1-11zm1 7zm3-16zm5 32zm3 35zm1-25zm1-49zm0 6zm1 16zm2-21zm1 58zm3-13zm3-16zm3-37zm0 47zm0-17zm0 26zm0-9zm0-40zm5 7zm2 20zm2 47zm0-35zm2-36zm2 86zm1-86zm3-48zm0 94zm0 25zm1-80zm0 59zm1 10zm2-8zm4-79zm3 80zm0-31zm2-31zm1 21zm1-17zm5-45zm2 97zm6-32zm0-60zm0 55zm0 22zm1 18zm0-90zm0 26zm3 22zm1 14zm2-58zm0 27zm3-8zm4 64zm1 24zm0 14zm0-65zm1 46zm3-51zm0 27zm0-53zm1-3zm1 16zm1 23zm3-89zm0 132zm1-42zm1-60zm1 55zm2-14zm0 8zm2-33zm1 28zm2 23zm1 8zm3-96zm0-9zm4 26zm0 53zm6-90zm6 125zm1-49zm7-14zm12 22zm2-57zm6 43zm4-15zm2 42zm1-12zm13-5zm7-43zm10-18zm5 10zm1 17zm4-17zm5-28zm21 46zm2-55zm6 1zm3 34zm3-28zm5-17zm0 61zm7-71zm18 24zm1 71zm9-32zm1-59zm0-3zm24 7zm1 49zm0-88zm2 57zm18-24z"/><path d="M131 987zm1 8zm0 12zm1 17zm0-21zm1 33zm1-5zm0-45zm0 21zm1 9zm1-44zm0 40zm0 39zm2-5zm0-28zm2-5zm1-6zm1 33zm1-74zm0 50zm1-24zm1-4zm0 11zm1-27zm2 41zm0-12zm1 2zm3 14zm1-19zm1 20zm2 12zm0-23zm0 6zm1-24zm1 16zm1-18zm0 45zm1-28zm0 28zm0-32zm1 16zm1 20zm0-65zm1 34zm0 12zm1-23zm0 51zm0-61zm1 22zm0-32zm1 24zm1 3zm0 25zm1-2zm1 0zm0-19zm0 9zm0-13zm0 11zm1-40zm0 61zm1-33zm0-20zm0 0zm1 30zm0 8zm2-45zm0 62zm1-42zm0-31zm1 33zm0-23zm0-40zm0 96zm0-20zm0-46zm1 77zm0-59zm1-6zm0-22zm1 70zm1-33zm0 18zm1-12zm0-13zm2-35zm2 11zm3 57zm0-28zm0 26zm2 15zm0-35zm1-18zm1 13zm1 48zm0-48zm0 19zm1 2zm0 13zm0-98zm2 111zm0-60zm0 14zm1-14zm0 67zm1-39zm0-7zm0 9zm1-39zm2 22zm2 17zm0-7zm0-44zm0 46zm1 45zm2-26zm0-49zm1-24zm2 82zm1-77zm0 101zm1-51zm1-3zm0 27zm1-29zm1-2zm0 26zm1-28zm2-36zm1 7zm0-1zm2 26zm0-51zm1 55zm0-15zm0 20zm1-32zm2 0zm1 30zm2 31zm1-69zm1 21zm0 16zm1-25zm2 18zm0 42zm2-55zm0 3zm1-26zm1 42zm1-30zm0-21zm0 44zm1 1zm1 60zm0-120zm1 42zm0 35zm1-18zm0-17zm0-5zm0 5zm1 54zm1-13zm2-83zm0 77zm0 3zm1-71zm1 40zm3 34zm0-47zm0 29zm1-3zm0-6zm0 26zm0-33zm1-4zm0-34zm1-18zm2 25zm1-25zm0 18zm2 47zm1-15zm0-15zm2-23zm2 9zm0 62zm1-58zm0 4zm2 22zm0 6zm0-19zm0 25zm1 6zm6-54zm0 22zm1 5zm2 15zm2-19zm1-7zm0 19zm0 47zm1-68zm0-23zm3 40zm0 19zm0-64zm2 46zm1-23zm0 62zm2-92zm1 46zm1 7zm1-27zm1 32zm1-22zm0 1zm0-19zm1 75zm0-26zm2-35zm2 3zm2-12zm1 1zm1 5zm0 33zm0-46zm0 21zm1-14zm2 23zm0-67zm0 106zm0-36zm0-10zm3-3zm1-12zm4 41zm1-67zm1 2zm0 32zm0 20zm1 38zm2-50zm2-19zm1 5zm0 2zm0-19zm0 15zm0-26zm1 4zm0 38zm4-2zm0 58zm0-31zm1 15zm1-116zm0 69zm0-113zm1 109zm1 1zm0-67zm1 4zm1 70zm1-12zm1 74zm1-128zm2 34zm0 48zm2-38zm3-21zm0-31zm1 69zm0-17zm1 17zm0-43zm1 57zm1 14zm0-28zm3-54zm3 84zm0-66zm1-13zm0 15zm1 37zm0-33zm0 27zm1-51zm1 85zm0-5zm2-97zm4 20zm2 76zm0-45zm2-9zm0-7zm0 60zm1-47zm1 6zm2-24zm1 102zm1-75zm0-26zm0 31zm1 45zm2-42zm0-22zm0 47zm1-59zm0 9zm0-47zm1 40zm1 53zm0 2zm0 1zm1-96zm2 14zm3 35zm4 38zm0-46zm2-3zm0 45zm3-86zm4 74zm1-55zm0 38zm1-29zm0-16zm0-4zm1 14zm3 46zm0-17zm0 9zm1 16zm0 4zm1 26zm2-70zm1 45zm1-83zm0 84zm1-30zm1 20zm1 2zm5-19zm1-33zm1 38zm3-7zm0-54zm0 75zm1-16zm0 14zm0-89zm1 9zm1-3zm2 67zm1-37zm1 36zm5-29zm1-1zm0-37zm2 13zm6 25zm1 55zm10-137zm1 65zm2-12zm0 7zm1 19zm2 30zm1-52zm0 50zm1-17zm2-8zm1-53zm1 19zm2 76zm0-22zm1 23zm1-64zm4-16zm1 29zm3-3zm0 14zm2 1zm1 9zm3-9zm1 27zm1-115zm2 114zm0-109zm0 98zm2-37zm2-21zm0-5zm0 8zm2 13zm2 38zm1-42zm0-8zm2-20zm0 59zm1-72zm2 72zm3-115zm1 118zm19-2zm9-92zm15-12zm3 32zm18 17zm7-21zm4 121zm14-183zm2 145zm3-65zm6-18zm7 53zm9 8zm16-23zm2-49zm2 14zm12-11zm4 30zm7-133zm1 67zm5-93zm8 204zm4-78zm10-45zm5-8zm4 15zm7-36zm12 34z"/><path d="M130 1009zm1-1zm1 22zm0-28zm0 37zm1-5zm1-58zm0 65zm2-57zm2 43zm0-8zm0 6zm0 3zm1-38zm0 34zm0-1zm0-17zm0-21zm0 50zm1 8zm0-67zm0 25zm0 24zm0-1zm1-16zm1 10zm1-17zm0 43zm0 0zm1-34zm1 0zm0 25zm2 2zm0-30zm0 21zm2-19zm1-27zm0 33zm0-18zm1-3zm2 46zm0-12zm1-45zm0 3zm0 31zm0-22zm1 17zm0 10zm0-2zm1-53zm0 63zm1-52zm0 8zm1 60zm2-47zm1 28zm0-3zm0 1zm0-14zm1-8zm0-37zm1 32zm2 3zm0 4zm0 36zm1-36zm0 19zm0-21zm1-69zm1 59zm0 20zm1-61zm0 63zm0-17zm1-17zm0 24zm0 24zm1-23zm0-50zm0 88zm1-32zm1-45zm1 64zm0-21zm0 4zm1-28zm0 47zm1-4zm0-9zm1-19zm0 24zm0-12zm2 11zm1-23zm1 5zm0-14zm1-14zm0-1zm1-18zm0 25zm1 16zm1-22zm1 0zm1 2zm1-22zm0 63zm0-29zm0-17zm3-4zm1 12zm0-17zm1 66zm1-78zm0 50zm0-43zm1 19zm1 16zm3-31zm0 35zm2-22zm0 15zm0 18zm0 9zm0-7zm1-2zm1-12zm0-5zm1 2zm0 0zm2 16zm0-43zm0-15zm0 86zm1-99zm0 38zm2 18zm0 12zm0-37zm1 2zm0 33zm1-53zm1 60zm1-42zm0 34zm0 8zm1-6zm1 27zm0-25zm0 12zm1-11zm0-24zm1 13zm1-28zm0 36zm0-30zm0-12zm1 9zm1 3zm1 7zm1 49zm2-75zm1-12zm0 59zm0-7zm0 36zm1-45zm0-62zm1 25zm2 68zm0-37zm1 60zm1-34zm0-6zm1 44zm0-43zm2 15zm1-39zm0-20zm1 49zm0-67zm0 6zm1 29zm0 42zm0-8zm2-60zm1 48zm0-20zm0-11zm0-4zm1-2zm0 23zm1 28zm0-16zm1-62zm0 6zm1 31zm0-3zm0 31zm0-20zm0 13zm1-8zm0-15zm5-38zm1 12zm1 57zm1 12zm0-54zm2 54zm1-66zm0 44zm1-18zm0 17zm0-30zm1-20zm0 43zm1-54zm1 32zm2 2zm0 11zm1 3zm0-3zm2 47zm0-77zm1-24zm0 90zm0-33zm3 31zm0-62zm1 63zm0-23zm1-104zm0 43zm0 44zm0-32zm1 9zm1 71zm0-75zm3 100zm0-79zm0-26zm1 43zm1-38zm2 0zm4 14zm0 10zm2-37zm1 12zm0-5zm3 0zm1 11zm2 38zm2 3zm1-14zm1 26zm1-35zm2-13zm2-49zm2 2zm5 42zm1-7zm0 4zm2 38zm0-49zm2-14zm5 18zm1 1zm0 106zm0-107zm1 43zm0-50zm1-24zm0 54zm0-35zm1 21zm0 3zm1 13zm1-19zm0 19zm0-14zm1-17zm0-32zm0 56zm1-27zm1-15zm0 17zm2-23zm1 13zm0 92zm2-82zm0-55zm2 14zm1 76zm2-85zm0 59zm0 27zm1-70zm1 65zm0 31zm1-38zm0-11zm1 22zm0-20zm2-31zm2-25zm2 46zm0-42zm1 49zm1-43zm1 11zm1 16zm2 2zm0 43zm2-18zm0-1zm0-54zm0 12zm3 44zm0-56zm1 18zm1 47zm1-32zm1 29zm2-63zm0 14zm2 58zm1-85zm2 44zm2 27zm1-50zm3-19zm5-14zm3 64zm1-24zm1 22zm0 11zm2-120zm0 145zm1-84zm1 82zm3-75zm1 73zm1-49zm2-10zm0 38zm3-11zm1-27zm2 53zm1 7zm3-54zm0 14zm1-55zm0 55zm1-41zm8 33zm1-12zm1-46zm1 16zm9-15zm2 72zm3-46zm1 27zm1-82zm0 85zm1-14zm1-36zm1 62zm5-34zm1 13zm2-10zm3-69zm1 9zm2 23zm1 2zm1 40zm2-25zm1 4zm0-7zm3 49zm0-109zm1 37zm3 46zm0-80zm0 39zm1 56zm1-33zm0 2zm1-25zm6 32zm1-57zm1 40zm2 5zm0 49zm3-18zm3-51zm1 31zm0-59zm1 75zm1-60zm0 64zm1-34zm0-7zm1 12zm0-28zm2 35zm2-24zm0 10zm2 14zm4-53zm3 91zm0-23zm1-51zm6 36zm0-65zm0 41zm8-13zm10 30zm1-46zm35-41zm4 42zm19-30zm1 54zm2-85zm63 83zm1-79zm16 47zm8-65zm3 20zm0 83zm3-54zm0-37zm2 8zm15-28zm5 23z"/><path d="M130 1028zm0-28zm1 26zm0 7zm2 7zm1-4zm1-11zm0-34zm1 0zm0 31zm0 4zm0 24zm0-12zm2-45zm2-2zm0 45zm1 0zm0-49zm0 9zm1 36zm0-5zm0 4zm1-29zm1 24zm0-7zm1-11zm0 44zm0-69zm0 33zm1 18zm2-3zm0-1zm0 17zm0-50zm1 11zm0 9zm1 12zm3-2zm0 19zm1 1zm0-47zm0 29zm0 16zm1-26zm2-5zm1-11zm0 6zm0 14zm1 18zm0-51zm0 36zm1 2zm0 18zm1-4zm1-8zm0-7zm0 22zm0-44zm0 12zm0-28zm1 55zm1-22zm0-10zm0 19zm1-60zm1-4zm1 46zm2 12zm0-27zm2 13zm0 36zm2-40zm0-2zm0-28zm1 25zm1-36zm1 34zm1-25zm1 53zm0-7zm1 11zm3-51zm0 8zm1 50zm1-31zm0 4zm1 7zm1-41zm0 57zm0-67zm1 20zm0-29zm0 49zm1-17zm0-23zm2 55zm1 5zm0-60zm1 10zm1-34zm0 18zm0 49zm1-8zm0-12zm0 32zm0-14zm3-26zm0 27zm0-8zm2-36zm1 51zm1 28zm1-91zm0 54zm0-17zm0 3zm1-28zm0 20zm0-34zm0 37zm2 40zm4-11zm1 28zm0-53zm0 5zm1-6zm1-67zm0 86zm1-35zm0 6zm2 2zm0-37zm2 13zm0 14zm1 34zm0-21zm2 52zm1-77zm1 73zm1 9zm1-65zm0-17zm0 20zm0 55zm1-75zm0-2zm0 67zm0-10zm1-61zm2 78zm1-69zm0 82zm1-55zm1 37zm1-82zm1 34zm0 7zm2 17zm0-22zm1 21zm1-106zm1 49zm1 10zm0 4zm0 9zm1 29zm0 16zm1-51zm1-19zm1 23zm1-39zm0 54zm1-8zm0 8zm1-54zm0 21zm0 58zm1 0zm0-70zm0 44zm1-2zm0 49zm1-41zm0 29zm1-67zm1 48zm0-7zm0-16zm1-32zm1-15zm0 46zm2 44zm1-40zm1-12zm0 20zm1-36zm1 4zm0 18zm1-11zm1 17zm0-10zm1 11zm2-13zm1-34zm1 10zm1 33zm3 14zm1-17zm1 5zm5-5zm0-28zm1 50zm2-33zm1-20zm0 1zm0-6zm3 18zm1 49zm0-40zm2 53zm1-87zm0 120zm1-60zm0-10zm0-13zm1 7zm1-12zm0 12zm0-41zm1 35zm1 1zm4-4zm0 29zm1-120zm0 88zm1 55zm0-103zm0 23zm0 44zm0-65zm0 34zm2 24zm1-9zm1-17zm0-3zm1 18zm1-63zm2 53zm1 18zm0 11zm2 17zm0-23zm1-12zm1 20zm2-26zm1-26zm2 30zm0-12zm1-19zm1 32zm1-6zm0 50zm0-68zm2 12zm1 2zm2-68zm0 73zm2-21zm1 88zm1-108zm1 40zm2-29zm3-5zm4 13zm5 66zm0-59zm0 16zm0 27zm0 22zm1-11zm1-33zm0-91zm0 56zm1-16zm1 61zm2-48zm2 13zm1 45zm0-27zm0-15zm1-42zm1-12zm1 24zm1-5zm5 31zm0 8zm1 40zm1-40zm2-43zm2-15zm0 22zm1 43zm4-12zm1-49zm2 35zm1-54zm1 36zm1-5zm1-42zm1 65zm2-3zm0 45zm2-19zm2 42zm0-72zm1-23zm0-16zm3 29zm1-20zm1-13zm0 0zm2 1zm2 15zm1-70zm0 134zm3-2zm0-14zm1-39zm1-46zm1 55zm1 7zm1 32zm0-10zm0 30zm2-133zm4 93zm3-24zm3 45zm0-31zm1-57zm1 55zm0-21zm3 11zm2 21zm0-3zm1-23zm0 35zm0-27zm2-35zm0 28zm2 9zm2 43zm1 12zm1-4zm0-82zm1-13zm0 28zm1-42zm0 37zm0 24zm1-31zm2-42zm2 44zm0 8zm1 17zm1-9zm7-48zm4 71zm2-81zm3 96zm1-15zm2-63zm4 12zm1-4zm0-33zm2-4zm1 40zm0-14zm5-37zm2 43zm1 28zm1-23zm1 0zm1 12zm1-27zm4 25zm1-30zm5 29zm1-24zm0 20zm1-86zm1 67zm0 80zm0-94zm4-46zm0 80zm2-45zm1 77zm0-45zm1 43zm0 12zm3-106zm14 54zm0-12zm6-40zm0 78zm1-5zm0 15zm14-94zm6-3zm3 59zm5 16zm7-94zm5 47zm17 58zm4-53zm1-19zm3 1zm7 35zm3-15zm2 23zm3-98zm2 52zm11-6zm7-17zm7 55zm22-48zm7-36zm2 18zm16 18zm0 35zm21-3zm12-108z"/><path d="M130 1043zm0-19zm1-17zm0-26zm1 23zm1 42zm0-26zm0 11zm1 7zm0-43zm1 56zm0-20zm0-4zm1-8zm0-10zm1 29zm0-36zm1 13zm0 15zm0-19zm3 34zm1-52zm1 48zm0-14zm0-45zm0 62zm1-67zm1 56zm0-31zm1 46zm0-53zm0 16zm0-7zm1-12zm0-5zm1 26zm1-4zm2-11zm0 9zm0 17zm0 7zm1 16zm1-39zm0-37zm0 68zm1-17zm0-12zm0 29zm1-16zm1-23zm0 2zm0 16zm0 25zm1-19zm0-10zm0 10zm2-41zm0 48zm0-7zm0-11zm1 25zm0-26zm4-27zm0 10zm0-24zm4 41zm0 10zm2-19zm0 20zm0-39zm0 34zm1-38zm0 7zm1 2zm1 55zm0-16zm3 7zm0-37zm2 3zm2-6zm0 51zm0-41zm0-21zm2 13zm0 11zm1-32zm1 27zm1 8zm0-24zm1 55zm0-32zm2-27zm0 46zm3-52zm0-5zm1 25zm0 10zm0-9zm2-7zm1-44zm0 31zm0 12zm0-2zm1-10zm0 13zm0 55zm1-52zm0-9zm0 16zm4 36zm0-82zm1 40zm0 6zm1 18zm0-16zm0-38zm0 74zm1-52zm0 22zm0 2zm2 7zm0 0zm0-2zm0 25zm0-9zm1-68zm2 17zm0 26zm1-3zm1-4zm0 25zm1-43zm0 33zm0-64zm1 35zm1-21zm0 21zm0-16zm1-38zm1 76zm0-14zm0-20zm1 7zm3 13zm0-16zm0 48zm1-63zm0-16zm0 42zm1-7zm0-20zm0 44zm1-8zm0-39zm0 61zm1-58zm2 25zm1-17zm0-1zm1 48zm3-48zm0 55zm1-67zm2 9zm2 49zm0-14zm1 12zm2-53zm1 43zm0-45zm1 11zm0 25zm1-20zm3 7zm0 58zm0-109zm0 20zm0 18zm1 69zm0-45zm1-3zm1-15zm0-47zm2 40zm0-19zm1 89zm1-61zm0 30zm0 1zm1-50zm0 11zm0-34zm1 3zm2 17zm0 2zm1 4zm0 17zm1 23zm1 24zm2-41zm0-93zm0 40zm1 80zm2-63zm0 61zm1-78zm0 35zm1 34zm0 2zm0 12zm1 18zm1-117zm1 32zm1 41zm0-21zm0 4zm1-40zm0 56zm2 32zm1-79zm0-11zm1 78zm0-2zm1-39zm2 73zm1-49zm0-23zm1-15zm1-19zm1-45zm1 48zm2-16zm1 30zm1 25zm1 0zm1 7zm2-35zm1 26zm0-34zm1 42zm0-7zm5-9zm1-29zm1-32zm1 74zm1-53zm1 55zm1 6zm1-8zm1-48zm0 31zm1 4zm0 9zm1-17zm0-25zm0 44zm1-58zm0 63zm0-68zm1 34zm2 21zm2-39zm1-36zm0 47zm0 0zm2-21zm3 18zm1-7zm0 26zm1-61zm0 95zm3-5zm3-43zm1 36zm1-55zm1-56zm0 139zm0-48zm2 0zm2-39zm1 41zm3-33zm0-3zm0 22zm2 9zm1-31zm3-20zm2 55zm0-35zm1-24zm1 3zm1 66zm0-39zm1-30zm2 10zm1 79zm0-67zm1 26zm1-70zm0 87zm4-18zm1 25zm1-44zm1-19zm0-27zm4 18zm0-20zm0 58zm1-34zm0-15zm1 19zm0 16zm0-19zm0 5zm2 39zm0 6zm1-44zm0 53zm0-53zm0-5zm3-22zm1 22zm0 27zm1 32zm0-56zm0-4zm4 21zm1-30zm2 42zm1-74zm1-16zm0 77zm1 39zm2-22zm2 34zm0-39zm1 2zm0-65zm1-49zm4 124zm0-86zm1 27zm3 39zm0 7zm1-21zm1 45zm3-8zm1-13zm1-3zm1-23zm0-7zm2-1zm2-70zm5 76zm1 7zm4 6zm0-78zm1 68zm4-25zm0 40zm1-2zm1-33zm1-2zm0-6zm1 9zm4 21zm4-25zm6-19zm2 16zm2 33zm8-12zm1-55zm1-3zm0 62zm1-6zm3 31zm0-83zm3 31zm2 45zm1-55zm3 17zm1-7zm2 1zm3-49zm0 65zm1-10zm1-14zm1 98zm1-145zm2 73zm0 7zm3-11zm1-3zm0-84zm0 40zm1 25zm1-41zm0 10zm1 14zm2 14zm0-22zm1-16zm0 33zm3 8zm0-45zm0 23zm0-25zm3 104zm1-39zm1-23zm7-14zm4-18zm1 4zm0 26zm16 78zm4-136zm15 36zm4-6zm4-5zm3-50zm6 95zm11-24zm1-10zm3-97zm8 45zm17-17zm11 69zm12-61zm13 25zm15-2zm3 15zm16-63zm41 80z"/><path d="M131 979zm1 72zm1-11zm1-47zm0 17zm1 24zm0-1zm1-27zm0 9zm0-13zm0 16zm1-17zm0 25zm1-6zm0-12zm2 1zm0 5zm1 28zm1-33zm1 38zm0-95zm0 57zm1-9zm0 28zm1 5zm2-17zm1-5zm0-1zm1 31zm0-40zm0 1zm0 26zm0 13zm1-17zm0-17zm1 16zm1 6zm0-37zm0 33zm1-22zm1 24zm2-63zm0 68zm1-17zm0 17zm2-19zm0-6zm1-15zm1-14zm2 26zm0-3zm1 21zm1 5zm0 6zm1-27zm0-5zm2-10zm1 47zm1-51zm1 55zm0-68zm1-3zm0 22zm4-47zm0 97zm0-30zm1 30zm1-37zm0 17zm1 22zm0-66zm2-3zm0-4zm2 27zm0-27zm1 7zm0 23zm0 12zm1-35zm0 23zm0 27zm1-38zm0 55zm0-43zm1 2zm0 1zm0 5zm1 18zm1 9zm1-106zm1 81zm0-28zm0 16zm1 21zm3-30zm1 21zm0-7zm1-28zm0 2zm2 16zm1 26zm0 4zm0 3zm0-40zm1 8zm0 30zm0-66zm2 78zm0-2zm1-35zm0-12zm1-17zm0 4zm0 25zm1-42zm0 25zm1-7zm0-34zm3 44zm2 26zm0-11zm1-1zm0 28zm0-25zm1 28zm0-47zm1-17zm0 10zm1-2zm0 16zm0 11zm1-15zm1 4zm1 27zm0-62zm1 26zm2-22zm0 64zm2-49zm0-10zm0 32zm0-94zm1 35zm0 42zm1 30zm1-5zm0-18zm1-23zm2 52zm0-46zm0-20zm1 38zm1 5zm1-53zm0 3zm4 48zm0 4zm1-19zm1-2zm1-10zm0-6zm0-12zm0-10zm1 44zm2 35zm0-24zm1 0zm1-93zm0 59zm1 69zm0-71zm0-21zm1 36zm1-17zm1 44zm0-24zm0-4zm0 31zm2-86zm1 33zm0 17zm2 19zm0-42zm0 26zm0-1zm0 49zm1-45zm1 0zm0-14zm1 8zm1 18zm1-16zm1-45zm0 38zm1-20zm0 35zm1-33zm0 23zm0 22zm1-16zm0 5zm1-39zm1 95zm3-38zm0 25zm0-57zm1 8zm0-19zm0 22zm1-5zm0-57zm0 88zm1-48zm1-9zm0-18zm1 91zm1-113zm0-11zm2 34zm0 17zm1 21zm0 26zm1-58zm0 62zm2-45zm1 2zm1 19zm1-44zm0 54zm1-23zm0 3zm1 15zm0 12zm0-31zm2-10zm0 12zm0 62zm1-108zm0 32zm3-48zm1-7zm0 32zm0 79zm0-24zm3-56zm1 41zm1 36zm0-44zm1 44zm1-62zm1 5zm2 14zm2-9zm2-2zm0 30zm0-45zm1 7zm4 11zm1 22zm0-40zm1 7zm3 22zm2-21zm0 48zm1-15zm1-10zm0-13zm2 30zm0 0zm0-58zm0 35zm1 7zm3 0zm0-44zm1 63zm1-52zm1 13zm0 3zm1-10zm1 25zm0 23zm1-5zm0-3zm2-55zm2-60zm0 66zm1 18zm0 9zm1 24zm1-42zm3-3zm0 35zm6-76zm0 22zm0 39zm1 12zm0 11zm3-77zm3-8zm1 56zm1-28zm3-7zm0 42zm0-70zm0 47zm1-22zm0-11zm1 73zm1 10zm0-47zm3-15zm2-79zm0 70zm2-13zm2-6zm1 37zm2-38zm0-9zm0 150zm5-161zm0 79zm0-13zm3-52zm0 6zm4 97zm4-53zm1-75zm2 51zm2 10zm4-38zm0 17zm2 11zm0-23zm2 5zm2 12zm5-52zm1 26zm1 31zm0 18zm2-22zm4-19zm0-2zm2 31zm1 26zm3 0zm0-39zm1 30zm1-59zm1 46zm0-8zm2 11zm0-69zm1 51zm1-67zm2 37zm6 53zm0-31zm0 117zm1-73zm1-18zm3-55zm1 35zm1 84zm0-85zm0-41zm0 15zm1 5zm1-24zm3 48zm4-4zm2-1zm0 12zm0-14zm1-2zm1-32zm1 60zm1-18zm2-16zm0-14zm1-11zm3 40zm2-64zm5-33zm0 65zm1 30zm1-9zm0-37zm3 10zm0 32zm1-60zm1 94zm1-68zm0 52zm2 2zm2-37zm0 25zm3-56zm1 83zm1-19zm1-59zm1-37zm2 71zm3-84zm0 83zm1-49zm13-5zm2 42zm16 67zm1-71zm14-58zm11 52zm7-25zm4 10zm5-24zm1 30zm3 46zm13-70zm6-5zm4-17zm2-13zm4-3zm10 40zm5 37zm7-101zm2 99zm7-98zm16-3zm1-12zm10 36zm2 42zm4-19zm14 28zm21-78z"/></g>
<path d="M138.2 986.4H725.3" stroke="#141414" stroke-width="3.8" stroke-dasharray="22.4 6.6" fill="none"/>
<g stroke="#E9962C" stroke-width="10.6" stroke-opacity=".5" stroke-linecap="round" fill="none"><path d="M489 912zm0-32zm2-53zm3 26zm1 50zm0-58zm3 7zm0-26zm0 24zm2 69zm2-67zm2-31zm1-3zm1 70zm1-35zm0 9zm1-8zm6-21zm1 80zm4-73zm0 28zm2-73zm0 55zm0 49zm1-19zm2-26zm1 45zm1-57zm0-33zm0 72zm1-15zm1-26zm2 43zm1-39zm1-51zm2 102zm1 31zm0-77zm1-8zm4 1zm3-1zm2 13zm2-79zm3 64zm1-1zm1 14zm3 24zm2-43zm3-5zm0 24zm2-72zm1 88zm1-56zm0 55zm1 0zm4 11zm1-75zm3 83zm1 3zm17-33zm2-62zm4 73zm1-6zm14-52zm1-39zm6 95z"/><path d="M489 853zm1 14zm6-32zm0 44zm1-50zm1 8zm0 64zm1-35zm0-88zm0 119zm0-45zm0-47zm4 12zm0 74zm0-42zm1 41zm1-59zm2 40zm1-18zm2 6zm0 17zm1-21zm5-4zm1-57zm1 44zm1 80zm1-123zm4 4zm5 14zm0 118zm3-115zm3 76zm4-108zm0-24zm0 34zm1 112zm1 8zm0-69zm1-63zm0 5zm5 75zm0 39zm1-93zm0 57zm2-26zm3 35zm0-32zm2 19zm4 56zm8 2zm0-17zm3-83zm2 12zm3 29zm1-5zm1 66zm8-61zm0 12zm5-77zm0 3zm1 87zm2-30zm6-31zm2-33zm9 0zm2 31z"/><path d="M489 858zm1 0zm0 33zm3-38zm0-17zm1-3zm6 9zm0 23zm1-50zm2 96zm3-43zm0-74zm2 29zm0 79zm1-30zm1-24zm2-85zm0 61zm1 66zm1 27zm1-60zm0 0zm1 65zm1-87zm3 16zm0-16zm0-7zm0-2zm1 58zm0 42zm2-60zm3-37zm2 34zm0-35zm5 38zm3 11zm2 18zm2-4zm6-25zm4-65zm1 61zm2 66zm0-56zm0-71zm2 17zm1 19zm2 5zm0-1zm2 31zm1 7zm0-45zm2 1zm1 11zm3 15zm2-24zm3 39zm3-21zm5-27zm8 29zm2 21zm3-49zm14 15zm0-1zm4-32zm2 117zm8-74z"/><path d="M489 835zm1-42zm1 115zm1-36zm0 18zm2-68zm2-60zm2 98zm2-89zm1 134zm3-21zm2-26zm2 51zm0-17zm1 4zm2-5zm2-7zm1-70zm2 73zm0-40zm0 13zm1-20zm0 58zm0-122zm1 108zm0-59zm0 76zm0-12zm1-103zm0 125zm1-26zm0-47zm1 32zm1 10zm1-32zm0 2zm1 15zm2 53zm1-64zm1 62zm0-14zm1-77zm4 18zm0 48zm1 26zm3-64zm6 18zm0-108zm5 85zm1 52zm3-3zm1 33zm4-69zm0-54zm0 27zm1 63zm2-71zm6-20zm5 113zm1-91zm2 32zm1 3zm3 1zm4-14zm2 6zm11 50z"/><path d="M489 786zm0 58zm1-12zm2 33zm1 32zm1-28zm2-19zm3 5zm3-92zm0 107zm1-11zm2 7zm1-13zm1 55zm0-11zm1 6zm0-92zm1 64zm3-83zm2 35zm3-56zm1 137zm1-56zm0 16zm0-38zm1 66zm3-56zm1 39zm2-8zm1 15zm1-64zm1 103zm1-131zm0 22zm4 55zm0 40zm2-28zm1-4zm1-19zm5 26zm2-49zm0 25zm1-2zm3-69zm2 47zm1-33zm1-5zm1 100zm2-97zm3 74zm1-25zm2 8zm2 47zm2-23zm1-120zm1 44zm1 33zm10 16zm1-34zm2 38zm5-18zm0 2zm4 65zm0-27zm13-86zm16 34z"/></g>
<g stroke="#25285A" stroke-width="10.6" stroke-opacity=".5" stroke-linecap="round" fill="none"><path d="M370 951zm1-70zm0 1zm0-6zm0 21zm0 57zm1-11zm1-36zm0 4zm0 47zm4-30zm0 16zm0 6zm0 4zm1-1zm0-106zm0 73zm0 38zm2-62zm0 32zm0 25zm1 3zm1-52zm0 0zm1 21zm0-1zm3 32zm1-45zm0 57zm1-83zm1 4zm1 39zm0 28zm0-14zm0-44zm0 92zm1-65zm1-9zm0-15zm0 83zm0-66zm2-20zm1 43zm2-23zm2-9zm0 19zm1 22zm0-53zm0-4zm1 0zm0-15zm0 0zm1 63zm2-16zm1-52zm0 75zm1-74zm0 37zm1-22zm2 16zm1 8zm1-15zm2 15zm0-23zm0 20zm1 8zm0 54zm0-63zm1 10zm0 5zm1 1zm1-4zm1-12zm1 14zm0-10zm1-33zm1 18zm2 16zm0 19zm0 1zm1-20zm0 13zm1-44zm1 26z"/><path d="M370 903zm0-9zm1 24zm2-15zm0 85zm4-35zm0-42zm1-24zm0 26zm1-22zm0 53zm0 13zm1-50zm0 15zm1-2zm0-30zm0-24zm0 51zm1-28zm0 31zm0 0zm1 6zm0-7zm0 48zm1-30zm1 2zm2-33zm2 45zm1-54zm2 6zm1 16zm0 37zm0-51zm1-6zm4 15zm0 12zm0-36zm2-2zm1 38zm0 11zm0-47zm1-6zm0-2zm0 55zm0-33zm1 10zm1-8zm0 15zm0 7zm2-25zm1-8zm1-31zm1 39zm0 10zm1-43zm0 63zm1 5zm0-55zm0 66zm0-2zm2-59zm0 54zm1-82zm2 97zm0-30zm1 22zm0-54zm1 10zm0 4zm0-19zm2 50zm1-71zm1 66zm0-71zm0 45zm2-53zm0 30zm0 79zm0 8zm1-145zm0 31zm0 14zm3-19zm0 55z"/><path d="M370 908zm3 54zm1-60zm0 29zm0-127zm0 119zm0-2zm0 12zm1-16zm0 35zm0-51zm2 35zm1 4zm1-45zm2 27zm0 0zm1-58zm0 21zm1 31zm1 0zm0 34zm0-60zm0 28zm1-32zm0 7zm1 34zm1-75zm0 66zm2-10zm0 12zm0 2zm1 22zm0-64zm1 52zm1-53zm1-4zm0 42zm2-43zm0 81zm1-81zm1 0zm1 25zm0 15zm2 44zm0-69zm0 64zm4-37zm0-5zm0 6zm1-9zm1 32zm1 50zm0-57zm0-2zm1-64zm1 43zm1 19zm0 39zm0-81zm1-17zm0 69zm1-20zm0 77zm1-121zm1 17zm1 39zm1-55zm0 82zm0-83zm1 57zm2-15zm2-47zm0 29zm1 2zm0 7zm1-29zm0 94zm0-71zm2 15zm0 5zm0 27zm1-100zm1 41zm1-26z"/><path d="M370 956zm1 1zm2-39zm0 10zm1 89zm0-117zm1 39zm3-8zm2-18zm1 7zm1-6zm0 24zm0 57zm1-63zm0-19zm2 13zm1 35zm1-57zm0 38zm1-35zm0 17zm1-56zm0 47zm1 35zm1-33zm0-11zm0 18zm2-22zm0-8zm0-4zm1-15zm2 23zm0 19zm0-12zm1 52zm0 4zm1-72zm1 29zm0-14zm0 38zm1 20zm1-31zm0-22zm0-3zm0 24zm0-11zm1 47zm0-110zm0 72zm1-30zm2 11zm1 37zm3-30zm0-8zm0-23zm1 30zm0 15zm0-15zm1 15zm1-35zm0-29zm0 64zm0-13zm2-9zm0 16zm1-20zm2-1zm1-51zm0 71zm0-49zm1 48zm1-54zm0-39zm3 75zm0-20zm1 24zm1-24zm0-25zm0 90zm0-69zm1 21zm0-16zm1 60zm1-103z"/><path d="M370 968zm0-87zm0 51zm1 37zm1-69zm2 31zm0-71zm0 31zm1 32zm0 26zm0 25zm0-77zm2 5zm1 37zm0 7zm1-47zm0 2zm2-6zm0 46zm0 19zm1 17zm1-109zm1 32zm0 27zm1 47zm0-68zm1 44zm1-59zm1 68zm1-21zm0-22zm1-14zm1 1zm0 9zm1 11zm0-5zm0 1zm3-20zm0 3zm1-33zm1 19zm1-12zm1 16zm1 48zm1-38zm0 28zm1 3zm2-12zm1-22zm0-13zm2-1zm1 36zm0 4zm1-41zm0-16zm2 36zm0 8zm0 23zm3-35zm0-11zm0 11zm0 36zm0-22zm1-5zm0-13zm0-47zm1 51zm0-19zm0 32zm2 43zm0-110zm0 49zm1-30zm0 13zm1 15zm3-8zm2-32zm0 38zm1 31zm0-16zm0 4zm1-12zm0 4z"/><path d="M371 926zm1 38zm0-39zm0-39zm1 47zm2-3zm0-25zm1 5zm0-17zm1 10zm0-26zm3 52zm0-17zm1 7zm0-8zm0 29zm0-43zm0 21zm1-33zm0 17zm1-40zm0 48zm0 58zm1-26zm0-5zm1-57zm1 55zm1-33zm2 31zm0 6zm1 27zm0-65zm0 1zm0 12zm2-12zm1 1zm0-37zm3 54zm0-14zm0 26zm0 45zm1-42zm0-19zm0-29zm2 59zm0-48zm1 21zm0-16zm1 42zm0-30zm0-2zm1-68zm1 54zm2-24zm1 23zm1 1zm2-14zm0 4zm0-68zm1 97zm2-17zm2-19zm1-13zm0 12zm2 1zm1 43zm1-31zm0 20zm1 12zm1-27zm0-16zm0 13zm1 66zm1-53zm0-13zm0 51zm0-5zm1-16zm1 16zm1-25zm0 43zm0-91zm1-17z"/></g>
<g stroke="#3FA3C9" stroke-width="10.6" stroke-opacity=".42" stroke-linecap="round" fill="none"><path d="M337 942zm2 47zm0-60zm2 13zm3 16zm3-23zm0-6zm3-37zm0 84zm1 14zm0-41zm0 6zm2-73zm1 121zm6-69zm0 10zm0-14zm1 53zm2-67zm0 20zm0 22zm0-68zm2 46zm2-4zm1 17zm0-33zm3-1zm1 48zm0 8zm1-16zm0-46zm1 55zm0-35zm0-3zm0 19zm4 20zm1-24zm1-26zm0 26zm1-62zm1 47zm1 1zm2-28zm1 28zm1 47zm0-42zm1 0z"/><path d="M337 948zm6-22zm0 25zm0-9zm3 47zm0-65zm0 60zm0-86zm1 19zm1 38zm1 12zm1-27zm3-45zm0 48zm7-37zm0 29zm1 26zm1-28zm0 14zm1 28zm2-75zm0 32zm1 22zm3-2zm2-72zm1 27zm0 45zm0-13zm1-44zm1 11zm0 45zm1-3zm1-36zm1 61zm1-45zm2-1zm0 12zm1-76zm2 49zm0 8zm0 28zm1-46zm1-18zm1-14zm0 106zm1-67z"/><path d="M335 930zm5-9zm1 46zm0 5zm6-33zm2-21zm3 19zm0 6zm0-15zm0-19zm1 20zm2-21zm1-10zm0 20zm1 65zm3-78zm0 56zm0-29zm5-7zm1 29zm0-36zm2 69zm0-25zm1-64zm3 27zm1-12zm1 4zm0-33zm2 30zm1 1zm0 26zm0 21zm0-45zm1 64zm1-35zm0-5zm4-34zm0-24zm1 41zm1 13zm0-5zm0 13zm1-11zm1-31zm1 35zm0-23z"/><path d="M336 953zm3-50zm2 53zm1-51zm2 35zm1 2zm3-13zm2 3zm0 8zm0 57zm1-53zm1-3zm1-10zm0-40zm1 45zm0-1zm4-2zm0-8zm3-43zm2 35zm1 40zm0 7zm1-82zm1 60zm1 26zm3-41zm0 42zm1-51zm1 43zm0-38zm2 75zm0-73zm1-15zm0 13zm2-21zm4 0zm0 36zm0 4zm1 35zm0 9zm1-71zm1 42zm0-9zm0-19zm1 12zm0-19z"/></g>
<circle cx="383.9" cy="945.7" r="7" fill="none" stroke="#DE1984" stroke-width="5.9"/>
<path d="M259 1027.5H417.6" stroke="#3FA3C9" stroke-width="2.2" fill="none"/>
<path d="M263.9 1035.4H497.8" stroke="#25285A" stroke-width="2.2" fill="none"/>
<path d="M370.7 1043.6H681.9" stroke="#E9962C" stroke-width="2.2" fill="none"/>
<path d="M130.2 608.4V1053.3H726" stroke="#141414" stroke-width="4" fill="none"/>
<path d="M128.2 1053.3h-5M128.2 987.7h-5M128.2 922.1h-5M128.2 856.5h-5M128.2 790.9h-5M128.2 725.3h-5M128.2 659.7h-5M187.3 1055.3v5M259 1055.3v5M330.8 1055.3v5M402.5 1055.3v5M474.3 1055.3v5M546 1055.3v5M617.8 1055.3v5M689.5 1055.3v5" stroke="#878787" stroke-width="3" fill="none"/>
<g font-size="19" fill="#878787"><text x="116" y="1060.3" text-anchor="end">0</text><text x="116" y="994.7" text-anchor="end">1</text><text x="116" y="929.1" text-anchor="end">2</text><text x="116" y="863.5" text-anchor="end">3</text><text x="116" y="797.9" text-anchor="end">4</text><text x="116" y="732.3" text-anchor="end">5</text><text x="116" y="666.7" text-anchor="end">6</text><text x="187.3" y="1081.5" text-anchor="middle">1.0</text><text x="259" y="1081.5" text-anchor="middle">1.5</text><text x="330.8" y="1081.5" text-anchor="middle">2.0</text><text x="402.5" y="1081.5" text-anchor="middle">2.5</text><text x="474.3" y="1081.5" text-anchor="middle">3.0</text><text x="546" y="1081.5" text-anchor="middle">3.5</text><text x="617.8" y="1081.5" text-anchor="middle">4.0</text><text x="689.5" y="1081.5" text-anchor="middle">4.5</text></g>
<text x="429" y="607.3" font-size="38.7" text-anchor="middle" fill="#141414">Northern South America</text>
</g>
<g>
<g stroke="#787878" stroke-width="5" stroke-opacity=".095" stroke-linecap="round" fill="none"><path d="M796 1013zm2 11zm1-22zm0 26zm0-35zm0-3zm2 58zm1-44zm1 13zm1 4zm0 1zm0 17zm1-11zm0-6zm0 13zm1 3zm0-44zm0 12zm0 23zm1-3zm0 16zm1-24zm0 31zm1-19zm0-8zm0 7zm2-62zm0 15zm0 13zm1 22zm1-52zm0 41zm0-2zm0 10zm2 14zm0 3zm0-22zm1-35zm1 33zm1-41zm0 41zm1 25zm0-52zm2 16zm0 29zm2-15zm1-4zm1 15zm1-14zm0 18zm0-23zm1 1zm1-26zm0 72zm1-8zm1-76zm1 29zm1 16zm0 14zm0-6zm0-45zm0-10zm1 63zm3-73zm0 79zm0-74zm0 40zm0 13zm0-4zm0-41zm1 68zm0-14zm1 26zm0-50zm1 38zm1 4zm0-7zm0-34zm1 28zm0 2zm1-40zm2 36zm2-16zm0-27zm2 32zm1 27zm0-29zm1 18zm1-14zm0-73zm1 84zm0 14zm0-6zm0-35zm1 11zm1-49zm0 37zm0-15zm0 63zm1-62zm0 23zm1 24zm0-66zm1 39zm0 36zm2-43zm0-25zm0 69zm2-29zm1-22zm0 21zm0-12zm1 11zm0-24zm0 23zm1-41zm1 8zm2 36zm0 12zm0-28zm1-10zm1 5zm1 3zm1 7zm0-18zm0-20zm1 31zm2-33zm0 69zm1-42zm0 14zm1-31zm0 8zm1-2zm1-14zm2 15zm1-3zm1 9zm0 16zm1-11zm0-26zm0-5zm0 31zm2-47zm0 39zm1 18zm0 24zm1-1zm2-58zm1 14zm1 9zm0-28zm2 52zm0 23zm0-52zm1-7zm1 50zm2-2zm2 9zm1-40zm1 2zm0 28zm1-2zm0-7zm0-9zm1-19zm0 12zm0-6zm2 3zm0-14zm0 25zm0-11zm1-18zm1 21zm2 16zm0-38zm2 2zm0-26zm0 11zm1-10zm1 69zm1-32zm1 5zm2-58zm3 68zm0-24zm1-25zm1 10zm1 23zm0-6zm1-18zm0 37zm0-2zm0-24zm1-72zm1-11zm0 75zm1 11zm0-18zm1 3zm0 42zm1-40zm2 28zm1-13zm0 3zm2-31zm1 22zm2 1zm0 12zm0-1zm0-34zm2-18zm2 33zm0 28zm0-72zm3 39zm1 36zm4-46zm1-32zm3 37zm1 4zm0 17zm1-47zm0 16zm0 0zm3 28zm0-35zm0 5zm1-28zm1 77zm0-18zm0-29zm1-10zm0 56zm1-17zm0-16zm3 37zm2-58zm0 14zm1 10zm1-19zm0 31zm0-24zm0-5zm1 33zm1-27zm0-26zm0-9zm1 12zm1 44zm6-38zm2 8zm3-12zm0 30zm1-2zm1-28zm0-14zm1 6zm1 25zm0-37zm1 53zm1 26zm3-50zm4-50zm1 39zm1-28zm2 35zm0-34zm3 32zm1-33zm0 54zm1-19zm1 11zm2 39zm2-64zm0 34zm3-41zm2 7zm1-17zm1 25zm2-42zm1 40zm0-18zm2 18zm1 14zm1-13zm0 10zm3-5zm1-19zm1 24zm0-23zm2 5zm0 42zm2-4zm1-47zm0 12zm2 8zm1-3zm0 28zm1-20zm1-10zm0-29zm2 26zm3 12zm2-31zm0 22zm1-22zm1-21zm0 53zm0 39zm1-74zm4-8zm1 49zm1-26zm5 13zm0-24zm1-13zm2 4zm2-3zm1 9zm0 15zm0-42zm0 44zm1 39zm1-39zm1 46zm0-46zm1-28zm0 4zm6 1zm1-4zm1 10zm2-12zm1 49zm0-38zm2 11zm2-32zm3 20zm0-4zm2 6zm1 1zm0 7zm2 11zm1-18zm0 10zm1-28zm1 24zm0-30zm3 1zm1 4zm3 66zm1-81zm1 30zm2-38zm0 58zm2-46zm0-3zm3 48zm0-21zm2 35zm0-4zm1-47zm1-3zm3 48zm1 11zm1-64zm0 5zm1 25zm3 2zm5 47zm3-62zm0 28zm1-35zm0-12zm1-3zm1 31zm1-53zm2 47zm0-2zm1-21zm0 28zm1-41zm2 40zm0 61zm1-32zm1-33zm1 7zm0 26zm1-29zm1-14zm0-13zm2-5zm0-6zm2 20zm2-14zm1 49zm3-46zm0 19zm0-10zm2 10zm0 13zm2-77zm6 70zm3-22zm18-4zm1 25zm3 5zm16-52zm5 14zm11 6zm2 27zm2-79zm10-34zm6 7zm16 62zm5-50zm4 38zm4-12zm6-18zm3 44zm3 8zm20-2zm0-23zm8-2zm12-58zm12 5zm5 27zm8-1zm3 22zm5-30zm10-16zm5-34zm10 3zm1 0z"/><path d="M796 1014zm1-8zm1 0zm1 11zm1 15zm0-12zm1 18zm0 3zm0-27zm0 35zm0-15zm0-8zm1 20zm0-35zm0-18zm0-9zm2 53zm0-8zm1-21zm0 26zm2-38zm0 48zm1-4zm0-6zm1-22zm0 10zm0-21zm2 27zm0-13zm1 26zm1-66zm2 59zm0-35zm0 27zm0 12zm1-38zm0 37zm1-32zm0-14zm1 2zm0 31zm0-17zm0-13zm1-1zm1 53zm0-53zm1 41zm0 9zm0-59zm0 25zm0-9zm1 4zm0 11zm0 11zm0-5zm1 0zm0 13zm1-53zm0 3zm1 44zm0 21zm1-28zm0-14zm1-24zm0 28zm1-14zm0 3zm1 22zm0-16zm1-22zm1 34zm1 5zm1-38zm0 46zm1-21zm0-15zm0-22zm1 15zm0 20zm1 7zm1-25zm1 15zm1-47zm0 18zm0 50zm0 7zm1-78zm1 48zm0-22zm0 49zm1-49zm1 24zm0-12zm1 36zm2-8zm0 5zm3-9zm0-16zm1-13zm0-5zm1 17zm1 2zm0-11zm0-17zm1-10zm0 43zm1 24zm1-40zm0 0zm1 17zm0-29zm0-22zm1-3zm1 44zm1-34zm1 29zm0 27zm0-23zm0 4zm1-45zm1 55zm0-25zm1 20zm0-9zm2 16zm2-3zm0 0zm0 32zm1-67zm0 64zm0-17zm1-27zm2 3zm0-32zm2 25zm0 17zm1-3zm1-2zm2 4zm0-41zm0 5zm0 18zm0 32zm1-23zm1 17zm0-1zm4-28zm2-6zm2-2zm0 49zm0-14zm1-45zm0 31zm0-36zm0 32zm1-9zm1-32zm0-11zm1 68zm1-46zm0-23zm0 42zm1 14zm0-6zm1 10zm1-14zm0-8zm1-8zm1 30zm0-25zm2 25zm0-3zm1 19zm0-31zm0 12zm1-33zm3-30zm0 64zm1-66zm2 45zm3 7zm0 12zm0-29zm1-10zm0 17zm0-7zm1-52zm1 67zm0-47zm0 71zm0-22zm1 40zm1-55zm1 9zm0 11zm0-22zm1 47zm0-34zm0 4zm0 18zm1 17zm1-32zm1 8zm1-7zm1-37zm2 49zm0 1zm1-41zm0-2zm0 7zm3-5zm1 62zm1-77zm0 44zm1 0zm0-22zm1 46zm2-63zm0 29zm2-34zm1 35zm1-25zm1 7zm0 6zm3-46zm1 29zm0 34zm0-9zm1-53zm0 41zm1-3zm0-2zm1 36zm3-7zm1-39zm2-3zm1 32zm0 9zm1-54zm0 10zm0 21zm1-8zm1 32zm2 3zm0-31zm0-13zm1 27zm1-35zm2-8zm1 46zm0 19zm2-21zm2-27zm1 32zm1-13zm1-34zm1-2zm1 41zm0-12zm1 11zm0-3zm0 19zm0-45zm2 12zm0 31zm1-59zm0-23zm2 32zm0 51zm1-2zm2-38zm0-15zm1 13zm3 11zm1 79zm1-116zm2-11zm2 21zm1 40zm1-7zm0-61zm3 45zm0-23zm2-5zm0 33zm1-40zm0-23zm0 67zm0-5zm0 55zm1-71zm0 38zm1-77zm0 66zm1-39zm1 56zm0-71zm3 36zm0 18zm0-28zm1 51zm0-56zm1 23zm3 14zm7-55zm2-18zm1-15zm0 83zm1-2zm1-24zm1-23zm1 41zm1-17zm0 16zm1-5zm0 18zm1-12zm0-46zm4-51zm2 48zm3 56zm5-53zm0 44zm1 12zm0-16zm5 9zm1-34zm1 0zm0 49zm1-45zm2 1zm1-15zm0 7zm1 17zm0 1zm1-20zm1-12zm1 68zm0-89zm4-4zm0 45zm0-4zm1 0zm3-11zm1 13zm1-14zm2 19zm0-10zm2-16zm1 16zm0 21zm1-56zm5 15zm2 79zm2-100zm0 40zm2-16zm0 24zm3-7zm3-35zm2 26zm4-9zm2-34zm1 76zm5-43zm0 28zm4-38zm0 1zm1-6zm3 47zm3-49zm1-7zm3 8zm1 15zm1-29zm2 18zm5 16zm2-29zm0 44zm4-67zm1-30zm1 94zm2-2zm0-13zm1-42zm2 32zm3 2zm2-35zm1 14zm2 18zm1 48zm1-127zm0 62zm0 1zm1 14zm1 28zm1 4zm0-23zm0-11zm2-23zm2 8zm1 23zm0 23zm2 23zm0-45zm1 25zm1-34zm2-18zm0 22zm1-47zm0 34zm12-35zm18 44zm16-45zm0-25zm24 41zm12-15zm15-11zm1 46zm5-43zm3-15zm37-44zm7 41zm11 5zm6-6zm6-39zm1 79zm5-45zm1-53zm14 30zm2 18zm7-11zm5-12zm2-15z"/><path d="M797 1029zm1 15zm0-35zm0 3zm2 39zm1-21zm0 2zm3-19zm0 5zm0-20zm1 48zm1-35zm1-39zm1 78zm1-21zm1-10zm1 9zm1-16zm1 27zm1-4zm0-18zm1 9zm0-3zm0 7zm0-19zm1 30zm0-24zm1-39zm1 44zm1-9zm0-47zm1 52zm0-25zm0 46zm1-8zm1-20zm1 11zm1-11zm2 31zm0-33zm0 19zm0 4zm2-26zm0-8zm2 51zm1-33zm0-4zm1-16zm0 27zm1-21zm0-9zm1 24zm0 26zm0-82zm1 62zm1 0zm0-22zm2-39zm1 38zm0 33zm0-47zm0-6zm1 40zm3 7zm0-53zm0 31zm0-10zm0 4zm1 18zm0-3zm0 34zm1-54zm0-40zm1 48zm0 24zm0-28zm0-21zm0 39zm1-27zm0 24zm2-48zm1 38zm0 29zm0-35zm1-10zm1 37zm0-9zm0 27zm0-19zm1-40zm0 23zm0-30zm0 41zm0-10zm0-10zm1-2zm1-29zm1 44zm0-39zm1 32zm0-20zm0 25zm2-16zm0-4zm0 11zm0-51zm1 35zm0 28zm0-32zm0-5zm1 18zm0 31zm0-14zm1 25zm1-20zm1-47zm0 55zm0 6zm1-14zm1-42zm0 8zm2 66zm2-11zm0-54zm1 9zm1 32zm0-21zm1 8zm0-25zm0-30zm0 49zm1-41zm1 9zm0 50zm0-30zm0 13zm0 6zm0-40zm0 34zm0-40zm0 7zm2 59zm2-70zm1-13zm1 73zm0 12zm1-28zm2-20zm1 20zm1-10zm0 50zm1-37zm0-33zm1 13zm0-7zm0 1zm0-3zm1 20zm0-4zm0-25zm0-7zm1 40zm1-35zm0 24zm2-12zm1-8zm0-17zm0 2zm0 61zm2-44zm0 6zm1 25zm1-10zm0-31zm0 37zm1-7zm2-28zm2 80zm1 0zm0-18zm1-63zm1 34zm1-11zm2-3zm0-6zm2 30zm0-35zm0 15zm1-12zm1 9zm0 13zm0-38zm2 12zm3 10zm0-2zm0-26zm0-7zm0 12zm2 2zm0-2zm2 25zm0-34zm0 64zm1-5zm0-56zm1 24zm1-26zm1-19zm1 54zm1-35zm1-13zm0 7zm0 28zm2-39zm1 2zm1 33zm2-8zm0-33zm2 20zm2-7zm0 28zm3 2zm2 12zm0 56zm0-45zm1-59zm1 70zm1-37zm1 14zm1-44zm0 30zm1 5zm0 1zm1 19zm1-23zm2-28zm0 4zm1 31zm0 5zm1-57zm1-5zm1 55zm0-31zm0-18zm1-3zm1 32zm3-1zm1-9zm0 33zm0-6zm1-30zm0-12zm3 21zm0-4zm2-3zm3 20zm2-18zm0-20zm1 42zm0-26zm0 13zm2 26zm0-21zm0-8zm3 8zm1-30zm1-15zm2 37zm0-22zm1-2zm0 7zm0 34zm2-14zm1-6zm1-40zm1 21zm1 20zm0 5zm3 5zm0-75zm1 44zm0 57zm2-72zm1 53zm1-39zm1 10zm2 3zm0 8zm1-23zm1-5zm0-9zm0 37zm1-11zm0-4zm1 44zm1-56zm3-9zm0 13zm4 30zm0-23zm1 19zm0-21zm2-33zm1 47zm0 33zm2 13zm2-86zm3 29zm0-25zm1 6zm1-21zm1 30zm0 46zm2-1zm3-31zm1 6zm0-44zm1 66zm2-23zm3 8zm6-6zm1-8zm1-12zm1 4zm8-47zm3 56zm0 3zm2-61zm0 54zm3-40zm1 13zm0 47zm0-26zm4 1zm0 39zm1-20zm0-41zm1 47zm1-74zm0 68zm1-2zm1-56zm0 20zm4 6zm4-8zm0 7zm1-16zm1 17zm1-13zm2 8zm1-25zm0 7zm0 18zm1-22zm3 60zm6-37zm1-10zm2-30zm0 29zm1 8zm1-7zm3-16zm2 42zm2-2zm1-8zm0-23zm2-20zm0-21zm1 31zm2-9zm1 3zm0 30zm0 24zm3-33zm3-26zm1-3zm0 17zm1 1zm0 2zm2-10zm4-22zm2 16zm2 37zm4-39zm1-51zm3 50zm2-29zm1 76zm2-75zm0 36zm1 2zm0 17zm2-14zm0-24zm1-14zm1 15zm1 20zm0 0zm0-18zm1 23zm1-9zm2 18zm1 16zm2-46zm0 3zm1 16zm1-19zm0 25zm0-32zm0 27zm2 39zm4-32zm43-38zm2 33zm12-71zm11-22zm15 24zm17 58zm11-83zm13 1zm1-57zm6 73zm1-31zm4 36zm2-8zm4-48zm13 51zm25-41zm7 11zm4 26zm1-6zm2 10zm17-30zm9-21z"/><path d="M797 1026zm0 8zm1-30zm1 20zm0-8zm1-11zm0-4zm2 51zm0-2zm0-37zm0 3zm0 5zm0-38zm1 36zm0-8zm1 11zm0 10zm1-15zm0 18zm0 1zm1 3zm0 11zm2-55zm1 54zm0-30zm0-4zm1 0zm0 28zm0-54zm2 28zm1 5zm1-5zm0 25zm0-29zm0 26zm1-53zm0 1zm0 1zm1 56zm0-25zm0 5zm1 8zm1-33zm1 15zm0-9zm2 26zm0-8zm0-1zm2 5zm0 7zm1-17zm0-56zm0 39zm0 50zm0-3zm2-47zm0 22zm1-39zm1 33zm1-29zm0 2zm0 43zm1-19zm0 15zm0-34zm0 5zm1 13zm1-14zm1-18zm0 53zm0-38zm0 12zm1 25zm0-30zm0 15zm0-20zm0 24zm2-4zm0 11zm1 20zm1-46zm0 13zm0-23zm1-16zm0 31zm0-15zm0 19zm1-28zm0 4zm2 33zm0-8zm0-43zm1 81zm1-40zm1-8zm0 7zm0-40zm1 23zm1 32zm0-23zm1 8zm0-9zm3 8zm0 30zm1-69zm1 58zm0-22zm1-16zm0 38zm2-70zm0 67zm0-15zm0-4zm1-9zm0 6zm1-22zm1 26zm1-17zm1 13zm1 21zm0-35zm1-9zm1 7zm2 44zm0-41zm1 7zm0 1zm1 3zm1 1zm0-15zm0-16zm0 0zm1 38zm0-34zm0 47zm1-11zm1-4zm0-29zm0 36zm0 18zm1-58zm0 19zm0-28zm0 15zm1 5zm1 10zm0-1zm1 40zm3-43zm0-19zm1 6zm0 22zm0-20zm0-8zm1 18zm0 18zm0-18zm1-11zm0 8zm2-9zm0-14zm0 28zm1 4zm0-32zm1 26zm0 25zm0-41zm1 43zm0 10zm0-29zm2 18zm2-30zm0-5zm0-11zm1 23zm1 5zm2-30zm0-15zm0-26zm0 53zm1-31zm0 59zm2-5zm1-18zm1 28zm2-69zm1 55zm1 6zm1-10zm0-4zm0-30zm1 45zm0-37zm0 20zm1 32zm0-64zm1 25zm0 8zm1 16zm0-15zm1-23zm1-11zm2 39zm2-4zm0-40zm0 18zm2-15zm1 40zm1 3zm0 22zm0-19zm1-15zm0 3zm0 9zm0-37zm0 35zm2-49zm0 22zm2 34zm0-30zm1-7zm0-27zm1 29zm0 15zm1-11zm0 19zm1 19zm1-24zm1-47zm1 59zm0-11zm1-12zm0-9zm0 11zm1-37zm2-5zm0 53zm2 12zm2-13zm1 8zm0-65zm1-2zm3 6zm0 19zm0 43zm1-22zm0-12zm1-1zm1 12zm1-48zm1 27zm1 17zm1 16zm0-35zm3 32zm0 2zm0-49zm0 8zm1-14zm1 28zm0-10zm2-25zm0 49zm1-43zm1 26zm1 5zm0 8zm0-9zm2-19zm1-34zm2 67zm3-14zm0-28zm0-18zm1 60zm2-21zm0-31zm2 56zm0-16zm1-8zm3 52zm1-40zm1 7zm1-18zm0-14zm0-23zm3 37zm0-32zm2 17zm1 5zm0-22zm1 27zm1 8zm0-11zm2-16zm0 76zm1-57zm1-10zm0-34zm0 47zm1 5zm1 11zm1-57zm0 63zm1-14zm3-67zm1 36zm1-18zm0 29zm1 29zm1-11zm2-31zm1 18zm0-36zm0-15zm2 65zm2-20zm1-14zm0 6zm1-16zm0 21zm0-30zm1 6zm0-4zm0 39zm2-13zm3-15zm1-7zm2 53zm0-63zm4-12zm2 31zm1-4zm1-10zm2 14zm3-15zm1 26zm4-69zm1 99zm7-33zm4 21zm0-13zm1-53zm0 33zm1 17zm2-31zm3 12zm3 62zm1-45zm1-42zm5 16zm0-28zm2 50zm4-6zm3 14zm3-11zm1 14zm1-18zm0-29zm1-16zm0 45zm10 24zm0-23zm3-20zm3-18zm0 11zm0 2zm0 10zm7-5zm1 1zm0-49zm1 30zm0-14zm5 79zm0-8zm1-50zm3-35zm2 45zm5 14zm0-56zm0 82zm4-49zm1 15zm2-26zm0-8zm0 23zm3-16zm2-23zm0 10zm4 24zm0-32zm1 76zm0-88zm4 54zm1 13zm2-26zm1 22zm0-27zm3 18zm1-2zm2-10zm0-19zm1 40zm1-51zm2 23zm1-13zm1-3zm0 17zm1 15zm1 12zm1 48zm3-95zm2 52zm44-20zm12-51zm6-31zm12 33zm2-9zm11-16zm11 21zm9 39zm2-58zm16 2zm1 5zm1-68zm35 37zm19-4zm27 10zm2-78zm2 101zm4-33zm1-2zm5-41z"/><path d="M797 1038zm0-16zm2 6zm0-33zm1 4zm0 29zm2 11zm0-37zm1 22zm0 8zm0 5zm2-27zm1-16zm1-6zm0 28zm1-21zm1 10zm0-10zm1 19zm1-8zm0-14zm0 14zm0-3zm3-17zm2 59zm0-43zm0-7zm0-10zm2 3zm2 13zm1 16zm0-39zm0 3zm2-9zm1 46zm0-14zm0 17zm0-15zm1 31zm0-24zm1-31zm0 44zm1-14zm1 8zm0-7zm0 5zm1-23zm1 11zm0 20zm0-62zm0 10zm1 18zm1-30zm1 45zm2 41zm0-51zm1 9zm0 2zm1-14zm2 28zm1 1zm0-30zm0-27zm4 61zm1-34zm0 0zm0 35zm0-35zm0 12zm1-12zm0 54zm1-73zm2 39zm0-30zm1 10zm0 30zm0-31zm2 0zm0 4zm1 28zm1-21zm1-23zm0 20zm1-2zm0 20zm0-2zm1 7zm0-28zm1-52zm1 83zm0-22zm0-30zm1 31zm0-20zm0 15zm1-9zm0 29zm2-33zm1-14zm0 34zm0-35zm1 21zm0 21zm0-19zm0-42zm1 66zm0-10zm0-35zm1 57zm0-38zm1 4zm1 29zm0-3zm0-6zm0-25zm0 11zm1-55zm0 79zm0-39zm0 37zm0 0zm0 0zm1-15zm2-46zm0 36zm1-9zm1-8zm1 33zm0-35zm1 3zm0-34zm5 14zm2 41zm0 3zm0-5zm1 4zm1-31zm0 20zm1-10zm3 18zm0-36zm0 17zm0 27zm1-44zm1 15zm1 25zm1-65zm0 19zm1 9zm0-2zm1 16zm0 44zm0-23zm2 1zm0-5zm0 2zm0 12zm0-2zm1-17zm0-40zm1 50zm2-34zm0-4zm2 68zm0-50zm0 8zm0 33zm4-46zm1 6zm1 12zm0 2zm1-42zm0 16zm0 57zm0-34zm1-16zm2-27zm0-6zm0 35zm1 44zm0-48zm2 3zm2 13zm0-49zm1 20zm1 9zm0 11zm0-45zm0 13zm1-17zm1 58zm0-21zm1 62zm1-58zm0-56zm0-19zm1 74zm0-22zm0 31zm0 13zm1-23zm1-37zm0 42zm1-15zm2-17zm1 25zm1-3zm0-33zm0 65zm1-6zm1 0zm0-60zm0 13zm1 73zm0-32zm1 12zm0-58zm2 17zm3-2zm2-31zm0 65zm1-35zm1-27zm0 34zm0-56zm1 64zm3-9zm1-40zm2 3zm1 9zm1-35zm2 72zm2-36zm1 7zm0 56zm0-50zm1 46zm1-33zm0 8zm0-36zm1 10zm2-11zm0 0zm1 9zm1 44zm2-23zm1-5zm0-19zm0 30zm1-48zm0 29zm2 17zm0-70zm2 60zm0-52zm2 11zm1 25zm1 16zm0-27zm1 4zm3-18zm2 34zm2 19zm0-40zm0 53zm1-58zm0-12zm1 37zm0-44zm1 24zm4 36zm0-23zm1-31zm0 90zm1-51zm1-24zm0-11zm0 78zm2-28zm1-54zm1 45zm1-36zm1 31zm2-5zm1-16zm1-23zm1 39zm5-31zm1 29zm0 13zm1-8zm3-29zm0 1zm1 17zm0-11zm1-24zm1 29zm1-52zm1 44zm2-13zm2 6zm2 45zm0-65zm0-32zm1 77zm0-12zm0-18zm2 34zm0-62zm1 90zm5-42zm2-7zm1 13zm0 3zm0 16zm4-48zm1 14zm4 26zm0-42zm3 3zm4 15zm1 20zm1-28zm1 4zm0-10zm0 0zm3 2zm3-8zm5 17zm1-32zm1 11zm0-18zm4 25zm0 10zm0 1zm5 3zm0 10zm1-41zm1-63zm1 121zm3-28zm0-33zm1 28zm0 14zm1-27zm2-5zm5 11zm2 31zm6-35zm1-7zm0-34zm0 32zm1 7zm0-32zm0 55zm3-45zm6 15zm1-6zm0 39zm0-37zm1 13zm1-14zm0 13zm0-14zm2 18zm0 4zm2-3zm5-12zm1-9zm0-11zm4-13zm2 47zm0-26zm2 24zm1 4zm2-40zm0 15zm2 8zm0-25zm1 46zm2-67zm4-1zm1 25zm1-7zm1 40zm0-64zm3 35zm2 11zm2-30zm1 44zm0-56zm2 26zm0-29zm3 64zm1-35zm1 6zm1-11zm4-13zm8 59zm8-70zm3-33zm3 75zm7-25zm2 42zm0-51zm7 64zm2-56zm5-31zm21 20zm21-13zm3 11zm13-16zm8-18zm3-2zm3 52zm2-56zm2 17zm5-16zm9 32zm32-53zm4 16zm5-5zm4 42zm0-43zm5 34zm4-61zm3-3zm6-13zm0 60zm11 12zm2-60zm4-39zm1 38z"/><path d="M797 1007zm0 13zm0 5zm1 4zm0 21zm1-27zm0 5zm0-2zm1-4zm1 0zm0 11zm0 4zm2-59zm0 44zm1-8zm0-9zm0 39zm1-10zm0-30zm0 32zm1-5zm0-3zm0-20zm2-23zm0 10zm1 33zm0-46zm1 19zm1 15zm1-18zm1 34zm0 12zm1-66zm1 54zm2 11zm0-21zm0-35zm2 46zm2-7zm2 4zm1-13zm1 9zm0-13zm0 24zm2-19zm0 15zm0-4zm1 9zm0-45zm1 38zm1 6zm1-55zm0 23zm1 4zm1 30zm0-51zm0 17zm4 28zm1-33zm0 32zm1-55zm0 14zm1 38zm0-16zm1-23zm0 23zm0 35zm0-23zm1-41zm1 36zm0-17zm1-29zm0 10zm1-6zm2 37zm0 15zm1-46zm0 27zm0-29zm1 36zm0-10zm0-4zm0-47zm1 76zm0-64zm1 70zm0-7zm1-25zm1 18zm0-49zm1 46zm0-18zm1 17zm0 4zm0-24zm0 7zm1 7zm1-2zm0-6zm1-54zm0 54zm0 9zm1-35zm0 37zm2-25zm0 33zm0-13zm1 7zm0-54zm2 59zm0-38zm1 19zm0 42zm1-79zm1 33zm1-5zm0 18zm0 15zm1-37zm1-6zm2 18zm0 29zm0-60zm1-4zm0 37zm0 15zm0-47zm1 47zm5-42zm1 57zm2-14zm0-46zm1 12zm2-12zm1 17zm0 41zm1-29zm0-10zm1-4zm0 59zm0-47zm2-6zm1 3zm1-27zm0 14zm0 4zm0 7zm1 9zm1-12zm1-5zm1 4zm2-13zm1-18zm0 46zm0-16zm1-89zm1 68zm1 1zm2 16zm1 15zm0-26zm2 11zm1 11zm1-30zm0-2zm0 53zm1-29zm0 26zm0 11zm2-16zm1-58zm0 50zm1 3zm0-42zm1 5zm0 30zm0-37zm1 12zm0-5zm1 10zm1-7zm0 23zm0-23zm2 10zm1-28zm0 36zm0-53zm0 48zm1-25zm0 29zm0 7zm1-23zm0-19zm0 36zm1-50zm0 55zm0 8zm1 9zm0-44zm1-10zm0 44zm1-41zm0-9zm1 15zm0-2zm4 16zm1 11zm2-44zm0 31zm0-38zm1 25zm2-26zm1 21zm1-13zm0 36zm1-15zm2 11zm0 17zm2-82zm1 54zm1-2zm0-42zm1 56zm0-66zm2 83zm0 17zm0-88zm2 38zm1-2zm0-11zm3-1zm2-16zm3 66zm0-61zm1 27zm0 3zm3-18zm0 22zm1-17zm3 21zm2-45zm1 19zm1-7zm2 11zm0-26zm3-12zm1 71zm1-27zm0-15zm0-1zm1 26zm1-56zm0 16zm1 17zm1-28zm0 43zm2 18zm0-16zm2-15zm1-27zm1-39zm1 89zm1-74zm1 54zm2-2zm1-16zm1 1zm0-17zm0 10zm2 40zm1-28zm0-12zm2 48zm1-47zm0-38zm2 81zm1-61zm0 41zm1-35zm1 59zm1-34zm3 75zm0-112zm0 51zm2-30zm0-1zm3-7zm1-15zm1-48zm0 64zm2-45zm1 62zm2-33zm1 15zm1-1zm2 2zm1-15zm1-16zm0 25zm1-20zm0 25zm0-23zm1 25zm1 7zm3 28zm3-37zm2 7zm3 4zm4-11zm0 21zm1-68zm1 40zm0 33zm3-26zm2-22zm3 34zm1-13zm1-12zm1-19zm0 14zm1-3zm0-5zm3 6zm1 43zm1-44zm1 7zm4 5zm1 15zm0-11zm3 4zm0-22zm2-31zm2 18zm1-16zm0 44zm2-2zm1 39zm1-68zm1 78zm1-58zm0 28zm1-48zm1 40zm0-41zm1 16zm0-20zm2 39zm3 10zm0-23zm1 13zm0-38zm0 42zm2-7zm3-6zm1-22zm1 41zm2 5zm1-39zm4 17zm1 12zm1-36zm1 57zm4-51zm1 47zm4-91zm4 40zm0-14zm1 38zm2-44zm0 29zm1-7zm0 18zm0 9zm1-31zm1 1zm2-20zm3 4zm2 38zm1-11zm0-9zm0 21zm0-16zm3-31zm0-21zm0-40zm1 35zm0 39zm2-32zm0 80zm1-31zm0 53zm1-113zm2 76zm0-60zm1 26zm1 41zm1-29zm1 32zm2-12zm1-39zm0 24zm2-35zm4 15zm0-5zm1 15zm0 32zm2-40zm0 17zm0 15zm1-13zm1-41zm1 0zm12-24zm6-1zm13 63zm26-24zm11 0zm4 11zm11-85zm0 20zm17 33zm19-30zm6-2zm1 10zm6-13zm19 60zm2-50zm0-46zm11 65zm1-39zm31 46zm6-10zm3-124z"/><path d="M798 1028zm0-4zm0 8zm1-39zm1 55zm0-43zm1 6zm0-29zm0 10zm0 42zm1-9zm0-28zm0-10zm1 37zm1 16zm0-14zm2-31zm0 29zm1-13zm0 13zm1 4zm0-52zm2 9zm0 41zm0-20zm2 11zm1-12zm2 18zm1 7zm0 17zm1-26zm1-36zm0 59zm2-17zm1-48zm1 41zm1 7zm1-18zm0-7zm0-15zm1 62zm0-62zm0 28zm1 19zm0-28zm2 26zm0 17zm0-49zm0 42zm1-52zm0-4zm0-1zm1 0zm0 18zm1 10zm0 31zm1 3zm1-58zm0 16zm0 46zm2-2zm0-48zm4 8zm0-25zm1 1zm0-4zm1 38zm2-35zm1 9zm1 25zm1 13zm0-52zm1-2zm1 20zm0 10zm1-4zm0 11zm0 8zm1-21zm1 16zm0-16zm0 3zm0 11zm2-31zm0 24zm1-11zm2 29zm0-30zm0-39zm0 29zm0-7zm1-10zm0 23zm1 32zm0-46zm1 0zm0 37zm1 30zm0-54zm1-5zm0 29zm1 9zm0-26zm0-9zm0 22zm1 5zm2-22zm0 8zm0 3zm1 1zm0 17zm1-65zm0 53zm0-21zm0 3zm2-1zm0 35zm0-17zm1-4zm0-31zm0 4zm1-14zm0 24zm1-28zm1 8zm0-47zm0 77zm0 5zm1 8zm0-36zm0 8zm0 26zm0-37zm1 32zm0-44zm1 50zm0-28zm1 26zm0 19zm0-33zm0 32zm1-31zm0 4zm2 0zm1-16zm0 38zm1-58zm0 38zm0-32zm0 46zm0-37zm1 2zm1 32zm2-9zm0-23zm2 33zm0 13zm2-19zm2-37zm2 52zm0-66zm1 27zm0 2zm1-24zm1 4zm0 17zm2-24zm2 19zm0-26zm1 15zm1-7zm0 24zm1-9zm0-8zm1 53zm1-68zm2 17zm1 7zm0-16zm1 29zm1-26zm1 41zm0-58zm0 41zm1 0zm2 16zm0-84zm0 54zm1-10zm1 12zm0-1zm0 19zm0-16zm2 28zm0-30zm3 52zm1-68zm1 13zm1 6zm1-12zm0-16zm1 46zm1-8zm0-12zm0-34zm1 69zm0-53zm1 9zm0-14zm0 25zm2-12zm1 6zm4 38zm2-34zm1-31zm0-3zm4 34zm0-16zm1 32zm2-49zm1 6zm1 33zm1-7zm0-14zm2 16zm0 4zm0-29zm1-22zm0 54zm1-26zm2 10zm0-30zm0 40zm2 2zm1-14zm0-11zm1 5zm1-18zm1 11zm0 21zm2 16zm0-44zm0-1zm0-1zm1 25zm0-47zm1 55zm1-34zm1 1zm0 12zm0-32zm0 46zm3-5zm1-50zm1 30zm0 23zm1 11zm0-8zm2-27zm0-16zm0-9zm1 57zm0-22zm0 5zm1-39zm0 57zm3-23zm0 21zm1-31zm1-7zm1-2zm1 25zm2-17zm3 6zm1 19zm0-29zm3 41zm1-10zm2-18zm2-18zm1 3zm1 61zm1-48zm1 10zm2-4zm1-19zm1 10zm1-26zm0-12zm2 9zm1 17zm1-3zm0 49zm0-54zm1-45zm1 52zm0 35zm1-28zm2-27zm0 79zm2-72zm2 14zm1 31zm3 0zm0-49zm6-13zm2 33zm5-53zm3 23zm4 4zm0-31zm1 47zm0-8zm1-33zm0 34zm1-51zm1 30zm6 3zm1 5zm1 71zm1-78zm0 10zm2 36zm1-54zm2 15zm2-40zm5-6zm1 49zm1 9zm0-12zm3 5zm0-16zm1 11zm1 4zm1-15zm3 22zm4-25zm0-13zm2 33zm1 27zm1-53zm1-8zm3 65zm2-48zm2 41zm3-15zm5-23zm1-19zm5 12zm2 31zm2-50zm0 45zm1 6zm2-9zm2-5zm1-12zm0 11zm0 23zm2-108zm2 30zm0 60zm1-65zm2-25zm0 113zm1-65zm1 17zm1 53zm1-11zm0-84zm1-11zm0 65zm0-1zm2 48zm0-108zm1 34zm2-41zm3 37zm1-29zm0 105zm0-38zm3-15zm0 18zm0-27zm2 38zm0-91zm1 16zm2 32zm1 12zm1 25zm1-71zm0 21zm0 7zm2 33zm0-67zm1 41zm1-25zm4 11zm3 4zm1 30zm0 2zm1-10zm11-8zm2 10zm1-40zm3 24zm9 24zm5-38zm41-8zm19-69zm3 90zm4-111zm8 89zm0 16zm6-75zm9 18zm0 6zm7-30zm11 46zm12-43zm6-23zm1 30zm0-14zm2 4zm6 30zm0-65zm5 17zm15-60zm12 88zm8 5zm2-44zm0 53zm11-28zm6 18z"/><path d="M797 1012zm0 36zm1-58zm0 22zm1 27zm0 11zm2-32zm0-2zm0 19zm2-22zm0 21zm0-20zm0-8zm0 17zm1 5zm0-61zm0 46zm2 11zm0-5zm0-2zm0-1zm1-6zm1 25zm1-41zm0 28zm1-6zm0-19zm2 33zm0 12zm1-54zm0 54zm1-43zm0 34zm0-33zm2 5zm0-17zm4 63zm0-73zm1 62zm1-47zm0-27zm0-8zm2 52zm2-2zm1-26zm0 26zm1 16zm0-42zm0 30zm1 29zm0-9zm1 10zm2-31zm1 7zm1 1zm0-35zm0 31zm2 35zm0-26zm0-47zm1 29zm0 40zm2-29zm1 4zm0-25zm1 19zm1-30zm0 14zm1 25zm0 12zm1-24zm1-28zm0-21zm1 63zm0 9zm1-7zm0-16zm1-20zm0 21zm1 0zm1 18zm0-2zm1-21zm0 0zm2-3zm1 4zm1 4zm0-2zm0 0zm1 11zm1-38zm1 27zm0-16zm0-15zm1 49zm0-45zm1 45zm1-14zm0-44zm0 21zm1-22zm0 32zm0-6zm1 9zm0-18zm0 17zm0 16zm0-13zm3-14zm0-25zm2 20zm0 46zm0-20zm1-32zm0 7zm0 4zm2-30zm1 35zm1 5zm1-41zm1 17zm0 8zm0 28zm1-4zm4-26zm0-2zm0 1zm0 18zm1 15zm2-8zm0-29zm0-12zm1 40zm0-11zm1 2zm0 11zm1-19zm1 30zm0-43zm0 21zm1-31zm1 42zm1-27zm1-48zm1 48zm0 3zm1-8zm0 25zm1 3zm0-23zm2 29zm0-41zm0 20zm0-25zm2-4zm2 18zm2 19zm0 0zm0 16zm0-31zm1 0zm1-21zm0 40zm0 0zm2-46zm1 60zm0-7zm2-26zm0-5zm1 26zm0-2zm1-42zm1 20zm1-27zm0 36zm0-25zm1-36zm0 68zm0 25zm0-56zm1 31zm0-5zm1-31zm1 21zm0 8zm0 3zm0 10zm1-52zm0 34zm1-52zm0 40zm1 19zm0-4zm1-10zm1-24zm0 20zm0-35zm1 46zm1-25zm1 17zm0 12zm0-14zm1 12zm0-8zm1 32zm1-20zm0-22zm0 9zm1-34zm2 60zm1-4zm0-56zm1-5zm1-19zm2 13zm0 33zm1 8zm1-51zm1 57zm1 26zm0-66zm1 56zm0-48zm0 18zm0 18zm0-35zm0-7zm1 18zm3 32zm1-54zm1-10zm0 65zm1-54zm1-15zm0 84zm1-41zm3-1zm0-6zm0 11zm1-27zm1 30zm1-22zm3 6zm0-38zm1 14zm1 18zm0 43zm1-9zm0 2zm0-9zm1-17zm1-13zm1 10zm0 1zm1 6zm0-50zm0 40zm2 7zm0-27zm10 12zm1-48zm1 39zm1 14zm0 25zm0 30zm1-48zm0 45zm1-57zm1-8zm1 30zm1-1zm0-18zm4 10zm1-5zm2-35zm0 26zm3 7zm1 10zm1-28zm1-4zm2 32zm2 0zm1-23zm0 8zm1-43zm1 12zm0 7zm1-19zm0 66zm0-43zm1 54zm0-5zm1-82zm0 28zm2 23zm1 27zm1-54zm1 12zm1-15zm4 46zm1-66zm1 36zm1-20zm0 13zm2 54zm1-78zm0 33zm2-10zm3 28zm1 26zm2-69zm1-17zm1-12zm1 51zm5-12zm0-12zm2 13zm1-18zm0 14zm0 38zm4-40zm0 19zm1-10zm2 13zm2-39zm2-13zm0 47zm4-25zm1 9zm1 21zm1-3zm2 16zm1-34zm1-13zm0 88zm0-66zm3-27zm1 27zm1-45zm1-7zm6 59zm0-10zm1-23zm1-16zm1 41zm1-21zm3 11zm2-61zm2 35zm3 23zm0 36zm0-13zm0-35zm1-39zm2 23zm0 27zm1-2zm0 0zm1 0zm1 19zm1 23zm2-72zm7 7zm0 23zm2 3zm3 12zm0-20zm1-42zm3 40zm1-37zm5 74zm1-72zm4 20zm9 43zm0-38zm2 13zm0-45zm6 20zm0-8zm1 29zm1-42zm3 33zm0-2zm1-19zm2-11zm1-27zm0 56zm0-2zm2-48zm0 48zm3 32zm0-82zm1 55zm2-39zm1 2zm4 48zm1 7zm1-15zm5-25zm0-29zm8 8zm5 59zm4-49zm3 24zm6-9zm7-5zm10-7zm0-80zm7 58zm2 14zm3-35zm1 30zm1 12zm7 18zm11-70zm20-2zm3 51zm2-9zm3-47zm0 16zm1 39zm1 16zm10-36zm8 3zm25-8zm17-41zm4 1zm11 19zm2-22zm4-18zm5-29zm7 64zm9 4z"/><path d="M797 1025zm1-11zm0 0zm2 11zm1 6zm1 1zm2-18zm1-34zm0 44zm0-8zm1 4zm0-11zm0 13zm1-11zm0 16zm1 6zm0-30zm0 25zm0 6zm0-2zm1 6zm1-27zm0 39zm1-17zm1-81zm0 58zm1 19zm1 16zm0-22zm1 26zm1-35zm1-40zm0 41zm0 3zm0-26zm0 40zm1 9zm0-39zm0 34zm1-9zm0 13zm0-4zm0 0zm0 13zm1-28zm0-12zm0-21zm1 1zm1 43zm1-38zm0 7zm0 34zm1-33zm0 33zm1-22zm2-2zm1 2zm0-11zm0-3zm0-19zm0 49zm1-6zm1 10zm0 19zm2-68zm0-19zm1 14zm0 10zm2 15zm3 3zm1 5zm0 0zm0 19zm1 8zm0-51zm1 37zm0-23zm1-20zm1 24zm2 22zm0-39zm1-41zm0 79zm0 3zm1-30zm0 7zm1 4zm1-12zm1 18zm0-29zm0-5zm1-4zm0-19zm1 59zm0-12zm2-22zm1 22zm0-13zm0-17zm2 61zm1-70zm1 62zm1-38zm0-49zm0 78zm0-36zm1 0zm0-4zm0 13zm1 29zm1-32zm1-28zm0 18zm0 25zm0 19zm1-32zm1-15zm0 37zm3-19zm0-12zm2 12zm0 6zm2-20zm0 30zm1-22zm1-9zm0-23zm0 16zm1 38zm0-26zm1 57zm1-20zm0-18zm0-31zm0 33zm1-49zm0 41zm2 14zm0-17zm0 7zm0-19zm1-37zm1 30zm1 6zm1-3zm0 46zm1-47zm0-30zm0 52zm1-19zm0 5zm2-27zm1 41zm1-29zm0 46zm0-1zm2-24zm0-36zm0 12zm1 12zm1 20zm2 6zm0 3zm1-34zm0-28zm0 31zm1 26zm1-16zm0-34zm1 50zm1-29zm1-20zm0 11zm0 35zm0-7zm1-23zm0 29zm0 14zm0-53zm1-26zm0 40zm0 23zm1-40zm1-16zm1 28zm0-5zm3 10zm0 26zm1-1zm0-10zm0-26zm2-4zm0-13zm1 34zm3-24zm1 11zm1-29zm0 19zm2 2zm1-44zm1 53zm1 21zm0 11zm0-6zm1-38zm1 25zm2-40zm1 52zm0-40zm1 7zm1-1zm1 17zm0-49zm0 9zm1 49zm0-78zm1 58zm3-26zm1 35zm0-45zm1 53zm0-6zm1-13zm1-9zm0 50zm1-7zm2-36zm0-6zm1 19zm1-8zm0-23zm1 26zm0-36zm1 45zm2-49zm1-7zm1 38zm1-22zm0-26zm1 87zm1-84zm1 43zm2-4zm1-21zm0-4zm4-12zm0 17zm2 31zm1-5zm2-6zm5 51zm3-50zm0-47zm0 82zm2-50zm0 38zm0 18zm1-44zm5 20zm0-27zm2 25zm1-19zm1-8zm1-29zm0 70zm0-16zm0-25zm1 24zm1-20zm1 19zm0-1zm0-51zm2 42zm2 11zm1-57zm1 17zm1-15zm1 8zm0 32zm1-10zm2-9zm3 5zm1 23zm2-30zm0-11zm0-7zm1 30zm0 4zm0-56zm1 20zm1 27zm1-26zm1 25zm1-5zm3 42zm1-62zm3-9zm5 49zm2 15zm2-38zm1 6zm1-47zm0 58zm2 6zm0-41zm4 43zm0-25zm0 1zm1-11zm0 1zm5 10zm0-37zm2 32zm3-22zm0 11zm2 9zm1 0zm4-40zm1 24zm0 67zm0-62zm2 17zm0 3zm1-16zm0 4zm3 2zm1-4zm0-28zm1 27zm0-26zm0 31zm0 0zm2 17zm8 12zm2-25zm0-41zm1 34zm2-25zm1 27zm2-25zm2-30zm3 53zm2-4zm0-25zm1 22zm1 42zm0-7zm3-68zm0 30zm1-2zm0-14zm5 61zm3-58zm2 31zm0-28zm0 26zm0-12zm2 28zm4-60zm0-21zm1 30zm1 1zm0-8zm2-35zm1 52zm4 4zm2-2zm1-14zm4-24zm1 17zm2-13zm1 58zm2-27zm2-49zm1 25zm0-7zm1 17zm0 23zm3-68zm0 32zm1 30zm4 28zm1-36zm0-36zm0 45zm0-75zm3 100zm0-43zm2 36zm5-78zm0 44zm1-6zm0 25zm6-43zm3-52zm10 72zm9-29zm3 3zm9 53zm7-80zm3 59zm2-28zm7-40zm1 17zm2 44zm9-18zm5-12zm8-41zm4 48zm0-31zm3-27zm3-7zm5-4zm2 11zm3 55zm1 11zm7-23zm3 5zm5-50zm19 30zm7-18zm2-7zm2 22zm20 11zm5-23zm0-5zm4-6zm6-22zm9 26zm19-39zm3-10zm14-3zm0 27z"/></g>
<path d="M798.6 999.5H1390.2" stroke="#141414" stroke-width="3.8" stroke-dasharray="22.4 6.6" stroke-dashoffset="13" fill="none"/>
<g stroke="#E9962C" stroke-width="10.6" stroke-opacity=".5" stroke-linecap="round" fill="none"><path d="M1156 891zm0-49zm1 6zm1 45zm0-57zm0 33zm1 4zm1-70zm0 49zm0 42zm5-28zm1 10zm1 55zm0-71zm2 35zm3-29zm2-46zm1 42zm1-54zm0 37zm1 23zm1-7zm1-13zm3-8zm0-22zm3 26zm1-9zm3 48zm1 5zm1-10zm0-29zm1 1zm2-1zm4 29zm0 11zm0-11zm1-35zm0-33zm1 122zm1-86zm2 11zm4-25zm2 42zm3-20zm2 1zm0 51zm4-27zm1-11zm0 3zm4 4zm4-6zm4-48zm1-1zm3-12zm1 8zm10 41zm3 2zm2 24zm0-13zm2-47zm16 56zm3-40zm6 57zm5-80zm0 56zm4 1z"/><path d="M1155 889zm1 9zm3-24zm2 55zm0-62zm1 73zm1-113zm1 71zm2-45zm0 10zm1 76zm0-91zm1 76zm1-58zm1-11zm2 15zm1-11zm5 1zm1 77zm2-50zm0-58zm1 1zm2 36zm0 21zm1-40zm1-16zm1 61zm1-39zm3-46zm1 51zm7 77zm2-103zm2 109zm9-85zm3-3zm4-35zm1 68zm1-67zm0 8zm1 23zm1-19zm1 6zm0 47zm5-7zm0-29zm2 9zm0-19zm1 44zm1-36zm3 17zm1-62zm1 44zm5 32zm0 12zm3-33zm3 41zm6-63zm1 67zm3-72zm7-2zm0 30zm8 1zm1-11zm0-7zm4 16zm8-19z"/><path d="M1157 854zm1-21zm2 78zm1-44zm0-14zm0 33zm1-33zm3-22zm1 14zm0-14zm1 5zm1 79zm1-60zm0 37zm2-35zm0-4zm3 42zm2-9zm1-11zm0-36zm0 46zm5 28zm0-76zm1 73zm1-98zm1 82zm3-47zm1-10zm0 91zm2-102zm2 82zm0-36zm2-29zm2 11zm6-39zm0 20zm2 17zm1 35zm3-15zm2-27zm3 22zm4-25zm2-26zm1 23zm1 37zm0-4zm2-17zm2 65zm0-77zm0 75zm2-62zm0 2zm0-30zm3 11zm0-12zm2 45zm11-36zm13 41zm0-11zm4-15zm6 21zm1-5zm12-51zm3 55zm5-39zm3-22z"/><path d="M1156 916zm2-20zm1-41zm2 9zm2 10zm4 12zm3 43zm0-74zm1 26zm1-19zm2 23zm0-33zm1 35zm2-11zm1-3zm1-12zm3 17zm2 18zm0-47zm3-10zm3 22zm1-18zm3-4zm1 20zm2 29zm1-3zm1-40zm1 0zm0 14zm1-11zm1 50zm0-23zm0-1zm2-44zm2 19zm2 49zm1-12zm0-21zm0-8zm2 25zm0-57zm1 34zm1 4zm0-7zm1-19zm3 50zm1-8zm1-21zm4 2zm1-6zm1 23zm2-38zm4 63zm12-38zm1 22zm4-13zm0 31zm1-63zm1 38zm18 7zm4-46zm5-6zm5 54zm1-57zm1-46zm6 44z"/><path d="M1156 809zm0 58zm0-18zm3 52zm1-29zm0 4zm1 4zm1-16zm1 12zm3 11zm0-5zm1 18zm0-32zm2-1zm0 5zm1 15zm1 5zm0 20zm1-34zm1-7zm0 68zm1-23zm0-35zm1-5zm0-29zm0-7zm0 14zm2-16zm3 59zm4-47zm1-26zm1 15zm1 27zm1-27zm0 8zm1 25zm1-10zm1 0zm0 18zm1-9zm8-2zm2-6zm1-56zm1 27zm10 46zm3-33zm4 3zm1-21zm6 34zm2 4zm0 11zm0-28zm2 18zm4-24zm0 25zm12 3zm3-83zm2 75zm9-18zm1-13zm4 23zm7 26zm4-53zm1-3zm2 34zm4-62z"/></g>
<g stroke="#25285A" stroke-width="10.6" stroke-opacity=".5" stroke-linecap="round" fill="none"><path d="M1036 897zm1-3zm0 35zm0 1zm1 16zm1-22zm0 20zm1-18zm0 32zm0-51zm1 18zm0-9zm1 3zm0 16zm0 59zm1-92zm1 8zm0 43zm0-54zm3 15zm0-10zm1-3zm1 38zm0-6zm3-12zm0-27zm1 37zm0-18zm1 15zm0-26zm1 4zm0 0zm1 29zm2 6zm0-55zm1 31zm0-18zm1 33zm0-16zm1 8zm0-27zm0-16zm1 21zm0-3zm1 0zm2 0zm1 40zm1-54zm0 0zm2 36zm0-19zm0-17zm1 9zm0 10zm1-21zm0 14zm1 26zm1-31zm0 23zm3-6zm2 27zm1 0zm0-34zm0-8zm1 46zm0-33zm0 13zm2 49zm1-31zm0-10zm1 19zm2-25zm0-51zm1 32zm1 2zm0-2zm0 23zm3-21zm1 4zm1-31zm0 48zm1-14zm0 25zm0-14z"/><path d="M1037 904zm0 51zm3-27zm1-6zm1 11zm1 37zm0-47zm0-21zm1 31zm0-20zm1 8zm1 25zm1 12zm2-40zm0 14zm0 19zm1-49zm0 13zm1-28zm1-1zm0 4zm1 34zm1 4zm0-6zm1 1zm2-16zm0 17zm1-11zm0 23zm1 15zm0-36zm1-24zm0 31zm1-4zm0-23zm2 40zm1 25zm1-60zm0 11zm1 24zm1 17zm0-34zm0 35zm0-80zm0 75zm0-33zm0-6zm1 28zm0-15zm1 19zm1-39zm1 27zm1-17zm0-12zm0 34zm2-27zm0 20zm2-27zm1 7zm0 51zm1-16zm0-3zm0-13zm1-25zm0-8zm3 24zm2-46zm0 85zm0-80zm1 55zm1-12zm1-8zm0-5zm1 26zm0 1zm0-42zm0 17zm0 27zm1-79zm0 31zm1-8zm0 29zm1-26zm1-2z"/><path d="M1037 902zm0 48zm0-9zm1-30zm1-26zm0 12zm0 47zm1-43zm0 50zm0-7zm0-94zm1 85zm1-65zm0 54zm2-13zm2 37zm1 23zm1-78zm1 44zm0 2zm1-9zm1-6zm0-27zm3 24zm1-7zm1 10zm0-21zm0 27zm0-31zm0 37zm1-19zm0 10zm0 35zm2-45zm0 7zm1 2zm1 39zm0-24zm1-5zm1 8zm2 17zm0-44zm0-19zm0-1zm0 33zm0 36zm0-69zm1 5zm1 56zm1-54zm1-2zm0 20zm0-54zm0 74zm1 2zm0-25zm1 17zm1-11zm1 43zm0-60zm1-22zm0 56zm1-46zm0 29zm0-8zm2 27zm0 12zm0-38zm2-8zm0-21zm1 15zm1 42zm0 5zm1-39zm4 1zm0-18zm0 0zm2 24zm0-36zm1 25zm1 9zm1 7zm3-1zm0-16z"/><path d="M1036 956zm0-49zm1 45zm1-28zm1 20zm0-39zm0 12zm1 53zm0 37zm1-73zm3-18zm2-25zm1 49zm0-3zm1-55zm1 33zm0 12zm0 30zm1-26zm0-2zm1-13zm1-3zm0-22zm1 35zm0 4zm2-45zm1 63zm1-31zm0 27zm1-23zm0-57zm0 43zm1-9zm1 38zm0 2zm1 21zm2-39zm1 6zm1-13zm0 8zm0-34zm1 33zm0-14zm0 39zm0-56zm3 32zm0-36zm0 51zm1-31zm0-9zm0 39zm1-22zm0 22zm0-37zm1 8zm0 5zm1 35zm0-22zm2-15zm1 12zm0-37zm0-1zm1 37zm0 3zm1-4zm0 9zm2-17zm1 44zm1-51zm1 64zm0-53zm0-30zm1 49zm3-62zm1 36zm1 18zm0-28zm1 10zm0 49zm1-17zm1-28zm0-21zm1 50zm1-76z"/><path d="M1036 922zm1-4zm0 29zm2-7zm1-14zm1 22zm0-8zm0-7zm0 16zm0-14zm1-25zm0 5zm0 30zm1-30zm0 79zm2-48zm1-12zm0 34zm0-57zm0-18zm1 56zm1-2zm1-18zm3-16zm0 28zm0-13zm1 21zm0-1zm1 24zm1-48zm0-17zm0-17zm0 13zm2 46zm2-12zm2 0zm0-4zm1-23zm0 29zm2-48zm0 19zm0 25zm0-53zm1 47zm1-13zm0 7zm5 25zm0-41zm1 0zm2 17zm0-13zm0-6zm0 0zm2-1zm0 8zm1-7zm0 23zm0 4zm2-9zm1-6zm0-2zm2-12zm1-25zm0 24zm0 20zm1 29zm3-15zm2-42zm1-24zm0 28zm0-24zm0 40zm0-1zm1-7zm0 16zm1-38zm1 8zm0-11zm0 18zm1-27zm0 66zm0-72zm0 64z"/><path d="M1037 978zm0 3zm2-18zm0-48zm0-16zm0 25zm1 24zm0 20zm1-75zm0-4zm1 51zm7-8zm1 27zm0-45zm1-11zm1 58zm0-50zm0 9zm0 23zm1 8zm0-56zm0-13zm0 60zm0-30zm2 25zm0-25zm1 19zm0-17zm0-20zm1 14zm1 12zm0 22zm1-10zm1-54zm0 45zm1 17zm0 6zm0-21zm0 6zm0-26zm1-11zm0 14zm0-4zm0 31zm1 15zm0-58zm0 44zm1-4zm1-61zm1 50zm0 14zm0 8zm0 52zm1-117zm2 18zm1 24zm1 47zm1-40zm0-10zm1 22zm0-15zm0-30zm0 22zm1-11zm0-22zm0 67zm0-36zm1-8zm0-15zm0 25zm0 16zm1-17zm5-47zm0 63zm0 0zm0-24zm2 11zm0-25zm2-2zm4 40zm3-4zm1-14zm1-12z"/></g>
<g stroke="#3FA3C9" stroke-width="10.6" stroke-opacity=".42" stroke-linecap="round" fill="none"><path d="M1002 926zm1 37zm4 1zm2-66zm6 55zm0 17zm2-21zm1-3zm2-21zm2 16zm0-27zm0 16zm2 15zm1 6zm0 24zm0-22zm2-9zm1 35zm1-15zm1-36zm4-6zm0-8zm0 16zm1 4zm2-38zm1 17zm0 5zm2-4zm2 14zm2-7zm1 45zm1-56zm1 30zm1-15zm0-8zm0 12zm1 32zm1 9zm0-74zm1 1zm0 37zm0 30zm1-10zm2-21zm0 16zm0-18zm1-16z"/><path d="M1004 951zm2-56zm1 62zm5 27zm2-64zm1 19zm2-12zm2 26zm1-19zm1 23zm2-25zm3 2zm0-6zm1 14zm1 26zm0-39zm1 10zm0 8zm3-36zm1 74zm5-49zm1 14zm0 10zm0 2zm3-49zm0 24zm0-1zm0-27zm2 37zm0-43zm1 26zm0-9zm0-14zm1-13zm1 56zm0-24zm1-14zm0 27zm1 11zm1-19zm0 38zm0-4zm1-22zm1-47zm2 75zm0-54z"/><path d="M1005 931zm4 0zm0 4zm1-9zm6-2zm5 22zm0-22zm1-3zm2-2zm2-6zm0 20zm1-11zm2-2zm1 29zm0-4zm0-43zm1 33zm0-28zm2-31zm0 91zm2-54zm3 35zm1-32zm0-32zm0 63zm0-54zm1 59zm0-1zm0-57zm1 27zm0 6zm1 3zm0 39zm0-48zm3 38zm2-86zm1 52zm1 4zm0-5zm2-13zm0 77zm1-10zm0-36zm0-11zm2 8zm0 14z"/><path d="M1003 920zm1 45zm1-24zm0-29zm1 36zm1 3zm1-15zm1 51zm0-4zm3-5zm4-26zm1 10zm2-28zm0 30zm1-30zm1 29zm2-24zm2 11zm0-10zm1 17zm0-11zm1-8zm0 10zm1-32zm1 56zm2-21zm1-46zm0 72zm2-72zm0 46zm0-68zm1 26zm0 25zm0 2zm2 0zm2-7zm0 21zm2 18zm1-40zm3-17zm0 34zm0-32zm1 13zm1 15zm1-9zm4-3z"/></g>
<circle cx="1050.3" cy="943.1" r="7" fill="none" stroke="#DE1984" stroke-width="5.9"/>
<path d="M925.5 1027.5H1084" stroke="#3FA3C9" stroke-width="2.2" fill="none"/>
<path d="M930.3 1035.4H1164.2" stroke="#25285A" stroke-width="2.2" fill="none"/>
<path d="M1037.1 1043.6H1348.3" stroke="#E9962C" stroke-width="2.2" fill="none"/>
<path d="M796.6 608.4V1053.3H1392.4" stroke="#141414" stroke-width="4" fill="none"/>
<path d="M794.6 1053.3h-5M794.6 987.7h-5M794.6 922.1h-5M794.6 856.5h-5M794.6 790.9h-5M794.6 725.3h-5M794.6 659.7h-5M853.7 1055.3v5M925.5 1055.3v5M997.2 1055.3v5M1069 1055.3v5M1140.7 1055.3v5M1212.5 1055.3v5M1284.2 1055.3v5M1356 1055.3v5" stroke="#878787" stroke-width="3" fill="none"/>
<g font-size="19" fill="#878787"><text x="782.4" y="1060.3" text-anchor="end">0</text><text x="782.4" y="994.7" text-anchor="end">1</text><text x="782.4" y="929.1" text-anchor="end">2</text><text x="782.4" y="863.5" text-anchor="end">3</text><text x="782.4" y="797.9" text-anchor="end">4</text><text x="782.4" y="732.3" text-anchor="end">5</text><text x="782.4" y="666.7" text-anchor="end">6</text><text x="853.7" y="1081.5" text-anchor="middle">1.0</text><text x="925.5" y="1081.5" text-anchor="middle">1.5</text><text x="997.2" y="1081.5" text-anchor="middle">2.0</text><text x="1069" y="1081.5" text-anchor="middle">2.5</text><text x="1140.7" y="1081.5" text-anchor="middle">3.0</text><text x="1212.5" y="1081.5" text-anchor="middle">3.5</text><text x="1284.2" y="1081.5" text-anchor="middle">4.0</text><text x="1356" y="1081.5" text-anchor="middle">4.5</text></g>
<text x="1090" y="607.3" font-size="38.7" text-anchor="middle" fill="#141414">Central Africa</text>
</g>
<g>
<g stroke="#787878" stroke-width="5" stroke-opacity=".095" stroke-linecap="round" fill="none"><path d="M1463 1016zm0-13zm2 22zm0 0zm1-22zm1 48zm1-38zm0 16zm0-2zm0 15zm1-20zm0 9zm1 0zm1-3zm0-3zm2-18zm0 17zm0 6zm0 12zm0-15zm1-21zm0 1zm1-21zm1 60zm1-36zm1 11zm0 24zm0-57zm1-9zm0 37zm1-18zm0 20zm0 7zm1 5zm1-2zm1 3zm0-12zm0-25zm0 8zm1 32zm0-9zm0-33zm0 26zm0-21zm1-18zm0 67zm0-37zm2 24zm0-54zm1 29zm1 24zm0-17zm0 18zm2-31zm0 0zm0-8zm0 28zm1 19zm0-17zm1-1zm0-10zm1 17zm2-54zm1 19zm0-5zm1 25zm0 17zm0-5zm1 12zm0-23zm0-19zm0 16zm1 31zm0-27zm1 6zm0 11zm2-8zm0-6zm1 30zm0-33zm0-12zm0-12zm0 28zm1-16zm1 18zm0-11zm0 7zm1 6zm0-29zm1 24zm2 11zm0-14zm0-3zm1 4zm0 5zm1 1zm0 15zm3-15zm1 0zm0-34zm0-3zm0 11zm2 2zm1 17zm0 24zm2-8zm1-20zm1-26zm0 41zm2-74zm2 47zm1 18zm0-34zm1 36zm0-5zm1-13zm1 4zm1 16zm1 16zm0-17zm0-12zm0 5zm0-27zm1 45zm0-20zm2 19zm0-14zm2-28zm2 18zm1-21zm0 16zm1 7zm1-75zm1 89zm2-20zm1-28zm1 1zm4 28zm1 20zm1-38zm1 8zm1-41zm0 31zm1 1zm0-4zm1 0zm2 23zm1-58zm1 46zm0 11zm1 16zm1-48zm1-7zm0 22zm0 10zm0 49zm1-53zm2-3zm0 22zm0-42zm1 22zm0 37zm1-20zm0-55zm0 35zm1 22zm2-58zm1-3zm1 36zm1 5zm1-29zm0 28zm3-14zm0 38zm0-43zm4 40zm1-6zm1-39zm0 17zm1-11zm1 18zm0 0zm0-14zm3-57zm0 67zm1-10zm0 20zm1-23zm0-8zm2-19zm0 15zm1 19zm0 5zm5-41zm2 18zm1 15zm0 15zm0-15zm2 21zm1-19zm1 9zm2-46zm0 63zm1-21zm0-14zm1-18zm1 59zm1-7zm0-67zm1 47zm0-21zm2 23zm1-25zm0 13zm0 20zm0-39zm0-10zm1 7zm0 23zm0-46zm1 4zm0 59zm0 8zm0-42zm0-3zm1 17zm0 1zm0 6zm0-22zm1 4zm0-20zm3 19zm1 24zm1-17zm0 45zm4-38zm2 7zm4 6zm1-33zm0 21zm2-71zm0 62zm3 10zm0 11zm0-45zm0 5zm1 3zm0-3zm0-1zm2 16zm1 2zm0-17zm3 0zm0 31zm0-35zm3 61zm0-45zm1-6zm0-16zm0 26zm0-12zm2-14zm2 12zm1-6zm2-14zm0-27zm0 75zm1-22zm2 42zm4-109zm1 44zm0 66zm2-33zm0-11zm1 24zm1-43zm2-28zm0 63zm0 1zm2-15zm0-14zm3 16zm2 0zm1-67zm2 22zm1 43zm0-16zm0-23zm1-2zm4 20zm0-29zm0 19zm0 24zm1-48zm2 27zm2 47zm1-33zm1-2zm0-6zm1-26zm1 17zm1 44zm0 4zm2-41zm1 15zm0 2zm1-37zm1 23zm3 15zm1-70zm1 27zm3 26zm0 15zm1-47zm7 1zm1 25zm0 9zm1 53zm0-81zm4 1zm1-11zm1 48zm4-20zm2 45zm4-76zm1 79zm0-46zm1-45zm0 10zm3-12zm1 42zm1 1zm2 14zm4 0zm2-24zm1-5zm1 12zm2 34zm0-52zm1 36zm0-34zm1 25zm2 19zm0-17zm1-46zm1 59zm0-42zm1-15zm0 64zm0-53zm2 62zm0-80zm0 59zm1-25zm4 2zm0-15zm2-4zm2 16zm2-30zm0 33zm3-24zm2 0zm1 21zm1 9zm2-11zm0-26zm0 48zm7-17zm2-27zm2-3zm6 27zm1-19zm1 12zm1 14zm0-17zm5-22zm0-1zm0-38zm1 51zm1-16zm0-9zm0-11zm1 46zm1 31zm0-49zm2 9zm2-37zm1 21zm0 11zm0 9zm3 5zm0-35zm0 39zm2 20zm4-36zm0 49zm1-60zm0-6zm0-7zm2-34zm0 63zm2 7zm7-35zm1-6zm5 17zm5-2zm8-45zm17 30zm6 51zm0-67zm20-7zm12 25zm5-51zm2 19zm1 45zm3-70zm0 11zm15-34zm25 88zm2 40zm8-137zm15 15zm2 18zm1 6zm5 41zm1-34zm2 37zm9-64zm4 24zm16-25zm4 21zm2-17zm12-10zm5-15z"/><path d="M1463 1011zm0-12zm1-4zm0 24zm1-1zm0 9zm0-33zm0 35zm3 10zm0-1zm0-23zm0 19zm0 17zm2-41zm0 8zm1-1zm0 27zm0-35zm3 18zm0-4zm0-7zm0 31zm1-6zm0-16zm1-15zm1-8zm1 34zm1 2zm0 7zm1-42zm1 25zm1 0zm0 24zm2-58zm0 37zm2-17zm0-16zm0 53zm0-31zm0 19zm1-28zm0-14zm1 9zm0-7zm1 20zm1-12zm2-20zm0 47zm0-28zm0-13zm0 35zm2-17zm0 14zm1-53zm0 12zm1 47zm0-36zm0-24zm1-2zm1 54zm0-8zm1 8zm0 11zm0-34zm1-39zm1 85zm0-50zm1 27zm1-32zm0 1zm1 33zm0-20zm1-1zm0 19zm0 2zm4-14zm0-10zm0 36zm0-17zm3-14zm0 2zm0-3zm1 37zm0-52zm0 17zm2 40zm1-51zm0 26zm0-8zm0-11zm1 17zm0-6zm0 14zm0-50zm1 60zm1 0zm1-54zm1 27zm1 11zm0-12zm0-30zm2 23zm0 29zm1-19zm2-17zm1 17zm0-16zm2-2zm1 2zm0-5zm1 22zm0 6zm2-64zm0 65zm1-38zm1 5zm0 19zm1 1zm0-2zm0-10zm0 35zm3-21zm0-13zm1-2zm1-12zm1 33zm1-61zm0 18zm0 12zm1 6zm1 9zm0 18zm0-5zm0-3zm0-47zm4 20zm0 24zm0 3zm1-20zm0 41zm1-43zm1 29zm3-16zm1 3zm0-38zm1 33zm1-39zm1 25zm0 7zm2 3zm1 44zm0-64zm0 34zm1-57zm0 58zm1 6zm1-19zm1-10zm2 36zm1-32zm1 0zm0-19zm1 27zm2 0zm1-40zm2 88zm2-65zm1-20zm0 44zm0-7zm1-43zm1 7zm0 15zm2-8zm0 19zm1 34zm1-7zm1-40zm0-24zm0 64zm1-66zm0-5zm1 39zm2 34zm3-59zm0 7zm2 44zm0-44zm0 33zm1-29zm0 26zm2-48zm2 72zm1-53zm0 22zm1-23zm1 5zm2 37zm0-36zm1 79zm1-80zm0-34zm0 23zm1 56zm0-50zm1 35zm0 10zm1-44zm0 29zm1-34zm0 18zm1-36zm0 81zm1-41zm0 0zm3 10zm1-49zm0 40zm0 24zm3-24zm0 3zm0-2zm0-14zm0 40zm3-72zm0 7zm2-22zm2 25zm1 56zm1-25zm0 15zm1-9zm1-38zm1 24zm0-13zm1 4zm0-19zm1 59zm0-102zm0 112zm1-58zm0-37zm1 80zm1-24zm0-14zm0 11zm2 3zm0-29zm0 5zm3 11zm2-4zm1 29zm1-49zm0 5zm1 2zm1 2zm1-27zm1-39zm3 64zm4 11zm0-4zm0-28zm1 45zm1-33zm0-12zm0 11zm0 26zm0-54zm1 45zm0-17zm1 8zm0 12zm1 28zm0 22zm0-55zm1 7zm2-17zm1-6zm1-1zm1 0zm3-10zm2 7zm3 17zm0 8zm0 43zm1-60zm1 40zm1 5zm4-32zm1 2zm0-66zm1 24zm1 65zm2-16zm3-62zm0 42zm1-30zm6 29zm0 6zm2-58zm0 43zm5 6zm0 2zm1 21zm1 6zm1-35zm0 1zm1 16zm1-16zm1-12zm2 30zm0-17zm0 15zm1-44zm0 18zm1-11zm1 13zm2 66zm0-64zm1 11zm2 5zm0-2zm0-25zm1-3zm0-6zm5 35zm1 20zm0-15zm1-4zm1-40zm1 52zm1 36zm0-102zm2 35zm0 14zm2-16zm0-13zm6 12zm0-25zm1 29zm1 11zm0-16zm2 29zm2-39zm6 3zm1-10zm0 0zm1 49zm10-61zm2 14zm0-15zm0 53zm0-53zm1 40zm2-37zm1 14zm4 47zm3-37zm1-17zm2 9zm3-25zm5 30zm0 5zm0 9zm2-26zm2-7zm0-8zm1 1zm0-13zm1-6zm1 31zm1-42zm1 43zm8-3zm0 21zm1 12zm0-70zm0 25zm0 26zm1-26zm1 25zm4-14zm0-13zm1 11zm0 16zm1 39zm1-50zm3 31zm2-24zm0 41zm1-46zm1-38zm3 12zm3 59zm0-51zm0-16zm0 35zm1 10zm0-18zm1 37zm1-89zm15 71zm11 12zm6-67zm3 0zm32-27zm3 53zm2-39zm1 0zm23-16zm8 37zm6-30zm2-21zm8 23zm1-12zm0 12zm2 19zm1 6zm10-61zm19 20zm5 30zm1 2zm1-51zm1 24zm0-40zm15-15zm11 39zm4-39zm5 46zm3-27zm2 6zm12 5zm1-30zm3 65z"/><path d="M1463 1039zm0-5zm1 13zm1-45zm0 11zm4 33zm0-27zm1 8zm1-6zm1 22zm0-5zm0-4zm3-41zm0 58zm0-56zm1 24zm0 8zm0 18zm1-13zm1 7zm0-21zm0 33zm1-30zm0-14zm1 30zm0-1zm1-18zm0 18zm1-57zm0 18zm0 35zm2-30zm0 17zm1-1zm0-25zm1 35zm0 15zm1-50zm0 39zm1-14zm0-8zm2 11zm0 0zm0 1zm1 12zm1 0zm0-19zm1-1zm0 36zm0-34zm0-6zm2-6zm1-15zm1 30zm3 29zm0-12zm0-36zm1-9zm2-12zm0 11zm3 6zm1-30zm0 72zm0-11zm2 0zm1-29zm0 23zm1-48zm0 17zm1-5zm2 16zm0 13zm1-9zm3 9zm0 11zm0-11zm0-29zm1 2zm0 45zm0-7zm1-57zm0 58zm0-58zm0 45zm0-21zm2 14zm0 8zm0-36zm1 23zm1-4zm0 48zm1-31zm1-17zm0-5zm0-3zm0 48zm1-23zm0-17zm3-2zm0-14zm0 16zm0-12zm1 2zm0 41zm0 3zm1-7zm0 8zm1-19zm0-43zm1 50zm0-5zm0 1zm0-24zm1 7zm0 21zm1 0zm2-13zm1-55zm1 42zm3 13zm0-60zm1 57zm0-12zm1 37zm0-53zm2 19zm0-70zm0 77zm1 14zm1-39zm0 9zm1 38zm0-14zm0-38zm1-10zm1 38zm0-1zm1-28zm1 17zm2 12zm1-8zm0-5zm3 28zm2-40zm0 22zm2-7zm1-2zm1 15zm1-13zm1-10zm1 15zm3-3zm0 17zm1-2zm1 0zm0-30zm0 25zm1-6zm1 18zm2-34zm0 18zm0-25zm1 8zm0 15zm1-2zm1-25zm1 80zm2-51zm0 52zm0-78zm0 25zm1 20zm0-43zm0 4zm1-35zm0 22zm0-26zm0 52zm0-10zm1-5zm0 18zm0-11zm1-37zm0 25zm1-1zm3 5zm0-1zm0-12zm0 51zm0-62zm1-17zm0 64zm0-51zm0 8zm1 65zm0-62zm1 20zm0-12zm0-8zm2 64zm1-46zm0-16zm1-4zm0-12zm1 29zm1 10zm1-26zm0 8zm1 8zm1 14zm4 5zm2-63zm1 46zm1 30zm0-43zm1 25zm0-25zm0-4zm2 54zm0-87zm1 3zm0 51zm1-7zm1 8zm1 11zm0-28zm1 25zm3-5zm0 2zm1-24zm0-41zm1 43zm2 7zm0-5zm0-23zm0-4zm2 28zm1-4zm1-7zm0 19zm1-2zm0 3zm1 9zm1 10zm1-47zm0 36zm2-51zm2 11zm0 13zm1 33zm1-18zm2-40zm3-11zm1 20zm1 19zm1-35zm1-18zm0 26zm0 47zm1-15zm0-23zm1 32zm0-16zm1-53zm0 32zm0 35zm0-7zm0 13zm0-34zm1 33zm2-15zm1 26zm1-45zm0-12zm1-11zm5 51zm0 8zm0 14zm0-45zm1-4zm0 9zm0 3zm0-13zm0-28zm0 39zm0 12zm2 3zm5 5zm2-22zm0 2zm0 42zm3-39zm1 1zm0 29zm1-40zm2-50zm0 29zm1 43zm2-26zm2-10zm2 42zm4-31zm0 52zm5-41zm4 37zm1-46zm0-22zm1 9zm0-12zm1 11zm1-8zm4 41zm3-24zm0-14zm0-5zm0-1zm1 9zm4-32zm4-9zm4 58zm1-18zm2-8zm1-4zm1 0zm1-2zm0-1zm1 5zm2-16zm1 31zm0 54zm2-5zm0-48zm3 8zm0-38zm1-51zm0 89zm1-20zm1-35zm1 7zm2 20zm0-14zm2 15zm3 13zm1 5zm4-20zm2-6zm1 33zm1-38zm2-10zm2 32zm1 39zm5-36zm0-16zm0 10zm0-25zm1 7zm2 50zm0 7zm0-49zm2 31zm0-13zm3-29zm2-32zm1 11zm4 25zm1-18zm2 18zm1-8zm1-30zm9 43zm0-27zm0 0zm3 41zm4-11zm1 49zm2-69zm2 32zm1-33zm4 11zm1-12zm1-15zm0 52zm0-21zm0-14zm1 40zm1-46zm0 17zm2-15zm2 11zm0 10zm1 12zm0-17zm2 6zm1-39zm0 37zm3-77zm0 40zm0 7zm3-33zm1 31zm10-4zm2-24zm3 49zm2-15zm2-4zm0-9zm1 1zm9-14zm4-40zm5 48zm0 16zm0-24zm10 29zm6-42zm18 34zm5-16zm3-5zm21 6zm1 21zm2-39zm6 10zm0-56zm5 50zm3 54zm16-89zm2 29zm13 22zm3-40zm4 87zm9-66zm13-33zm2-26zm18 55zm6-78z"/><path d="M1463 1015zm0 22zm1-60zm0 65zm2 2zm2-4zm0-18zm1 12zm0 10zm0-40zm1 34zm0-16zm1 8zm0-15zm3 4zm1-12zm0 10zm1-30zm0 33zm0-27zm3 42zm1 3zm0-9zm0 0zm2-1zm0-11zm2 5zm1-10zm0 10zm0-1zm0-25zm0 11zm1 7zm0 20zm0-3zm1-5zm0-33zm1 8zm0 42zm0-13zm1-10zm1 15zm0-26zm0-8zm1 13zm1-11zm0 9zm0-29zm1 18zm2 23zm0-26zm0 24zm1-4zm1-15zm0-13zm1 27zm0 14zm1-37zm0-9zm1 17zm0 10zm0 32zm1-19zm3-40zm0 44zm1-6zm0 3zm0-12zm0-8zm1 27zm1-14zm0-27zm1 54zm0-43zm1-6zm2 9zm1 7zm0 2zm0 8zm0-46zm0 25zm3 16zm1-36zm1 0zm0 42zm1-12zm1 9zm0-33zm0-10zm0 25zm1 16zm2-4zm0 1zm2-9zm0-25zm1 16zm0 47zm1-52zm0-16zm0 24zm1 18zm0-15zm0-22zm1-10zm0 19zm1 40zm0-16zm0-32zm1 41zm1 25zm1-26zm0-31zm1-5zm1 47zm1-17zm0-44zm1 56zm0 8zm2-56zm0 40zm0-15zm1 26zm0-9zm0-46zm1 33zm0-57zm0 31zm3 12zm0-8zm1 5zm1-10zm0 46zm0-45zm0 2zm0 30zm1-4zm1-13zm0 16zm0-31zm2-2zm2 29zm0-59zm0 28zm1-17zm1 2zm1 11zm2 15zm0-7zm1-26zm0 5zm1 37zm2 20zm0-18zm0 5zm0 7zm1-18zm0-20zm0 23zm0 6zm1 0zm1-21zm0 8zm1 0zm1-2zm1 4zm2-26zm0 16zm1 0zm1 11zm1 1zm0 35zm1-30zm0 19zm0-55zm1 23zm0 40zm1-39zm0 15zm0 30zm2-35zm1 8zm0-34zm0-24zm1 34zm0 31zm4-21zm0-41zm1 31zm2-6zm0-14zm0 51zm1-25zm2-6zm0 13zm0-23zm2 7zm0-1zm1 15zm1-4zm1-2zm2 15zm2-25zm1 12zm2 42zm0-48zm3-23zm1 30zm0-23zm1 3zm1-6zm1-2zm2 31zm1-20zm1 29zm2-43zm1 18zm0 7zm1-49zm0 9zm0 40zm1 8zm2-36zm0-21zm4 18zm1 12zm2 26zm1-32zm0 16zm0 12zm2-15zm0-28zm0 55zm2-55zm1-23zm0 8zm1 84zm3-49zm1 13zm0-7zm1-2zm0-20zm1 4zm1 10zm3-12zm1 39zm1-43zm2-51zm1 58zm1 15zm3-10zm1-27zm0-9zm1 70zm1-49zm3 30zm2-28zm0 17zm1 10zm1-41zm1 11zm2-7zm0 39zm1-16zm1-15zm3-42zm2 69zm0-2zm3-9zm0 13zm2-24zm1 18zm0-47zm1 5zm1 34zm0-6zm0-1zm1-23zm2 53zm1-42zm2-6zm1 9zm1-8zm1-12zm1 5zm0 12zm0-1zm3 14zm1-20zm0 27zm1 9zm0 16zm0-82zm1 23zm1-4zm3 24zm3 5zm0-34zm1 33zm0 37zm2-57zm1 9zm0-1zm0-10zm3 17zm3-14zm1 5zm1-10zm0-34zm0 92zm0-58zm1-7zm1 19zm1 46zm0-78zm1 32zm1-52zm2 48zm1 13zm1-18zm0-30zm2-8zm1 9zm2 52zm2-57zm2 25zm0-18zm0-1zm1 77zm0-83zm0-42zm1 69zm0-24zm1 10zm0-18zm6-20zm0 66zm1-30zm0-12zm1 30zm1-6zm0 1zm0-17zm1 11zm1 10zm2-21zm2 51zm0-40zm0 28zm1-29zm2-39zm0 52zm2-12zm0 9zm2 18zm0-55zm2 46zm2 14zm1-23zm1 29zm2 13zm1-75zm1 7zm4 47zm2-53zm4-7zm0 45zm1 6zm1-25zm1 1zm1 37zm1 1zm3-23zm1-24zm1-12zm0-13zm2 40zm4-13zm1 1zm3 25zm0-20zm1-44zm2 60zm4-49zm3 24zm1 2zm1 9zm1-59zm2 28zm0-9zm3 32zm1-6zm1-11zm0-14zm3 1zm13 34zm1-12zm0-31zm1 29zm20-48zm17 38zm11-4zm2-21zm17 18zm4-44zm9-19zm6 13zm0 56zm1 35zm3-89zm2 26zm3 6zm3-11zm3-57zm7 72zm4-53zm7 16zm0-51zm4 87zm2 1zm1-36zm1 59zm14-76zm37 50zm15-51zm0-53zm4 61zm2-22zm0 16zm3-13zm2-11zm5 12zm6-5zm7 9z"/><path d="M1463 1032zm0-19zm1 26zm0-41zm0 33zm0-1zm1-18zm0 20zm0 11zm1-21zm1-2zm0-11zm1 12zm0 29zm0-19zm2-28zm1 31zm2 2zm0-6zm1 14zm0-8zm1-22zm0-1zm1 1zm1 12zm0-18zm1 0zm0 13zm0 28zm0-5zm1-2zm0 3zm1 3zm0-43zm1-7zm0 27zm1-15zm1-20zm0 36zm0 11zm1-16zm1 9zm0-41zm0 35zm1-15zm0-1zm1 43zm1-36zm0 1zm0-4zm1 19zm0-17zm0-6zm2 42zm1-31zm1-14zm0 19zm1 20zm0-38zm3 13zm0-3zm1 29zm0 5zm1-54zm0-33zm1 58zm0-13zm1 39zm0-12zm1-38zm0-1zm0 8zm0 25zm1-8zm1-12zm0 24zm0-38zm1-5zm1 32zm1-10zm0-50zm1 45zm1 17zm0-11zm1-2zm1 27zm1-14zm1-18zm1-26zm0 23zm0 37zm0-1zm1-39zm1 37zm0-47zm1-19zm1 36zm0 25zm0-31zm0-18zm1 56zm1-39zm0 30zm0-25zm1-1zm2 36zm1-30zm1-27zm1-11zm1 59zm0 2zm0 17zm1-61zm1-7zm0 24zm0-4zm1-6zm1 6zm0-12zm0-2zm2 30zm2 2zm2 4zm2-2zm1-3zm0 2zm2-49zm3-12zm0 49zm0 17zm1-49zm1 50zm0-69zm1 86zm0-63zm1 18zm1-29zm0 46zm1 0zm0 14zm0-23zm1 1zm2-13zm0-6zm1-25zm0 17zm0 24zm1 13zm1-15zm0-1zm1 28zm0-22zm0-18zm0-11zm1 32zm1-17zm1-39zm0 57zm1-14zm0 14zm0-16zm2-36zm0 14zm1 34zm0 5zm2-51zm1 46zm0 1zm0 0zm1-20zm0-44zm0 92zm2-47zm1 21zm0 1zm3 9zm2-22zm0 4zm2 16zm0-46zm1 30zm1-8zm0 9zm1-13zm1-4zm1-12zm0-6zm1 18zm1-28zm2 1zm0 24zm1-9zm0 16zm0 26zm0-59zm0 30zm2-47zm1 54zm0 23zm0-21zm0 18zm1-85zm1 53zm2-28zm1 32zm0-6zm0-16zm1 29zm3-26zm0-13zm2 11zm1 13zm0-4zm1-13zm1 14zm1-7zm2 25zm1-69zm0 35zm2 10zm0-13zm1-10zm0 6zm1 76zm0-76zm0 22zm0-15zm0-6zm1 19zm1-41zm1 56zm0-5zm0-7zm1-31zm1 27zm0 17zm0-36zm2 31zm1-13zm2-13zm1 1zm0-28zm6 17zm0 16zm0 28zm1-58zm0 16zm1-30zm0 25zm1 43zm0-16zm1-16zm0 31zm2 7zm0-61zm0 18zm1-2zm2-7zm0 5zm0 23zm1-42zm1 16zm1 29zm0-46zm0 47zm0-51zm1 55zm1 0zm0-10zm1 5zm1-29zm5 29zm0-35zm1 23zm2-32zm4 11zm0-11zm1-32zm3 81zm0-10zm0-9zm5 24zm1-31zm4 29zm1-32zm0 15zm2-11zm1-28zm0 53zm1-92zm1 52zm2 25zm1-24zm0-11zm1 1zm1-33zm1 51zm1-30zm0 43zm2-45zm1 30zm3-42zm0 68zm2-45zm2 18zm1 10zm0-33zm1 21zm1 33zm1 0zm1-59zm3 44zm0-9zm3 3zm1-13zm3-8zm5-9zm0 14zm1 17zm3-4zm0 5zm1-69zm0 55zm1-7zm1 0zm0-48zm1 61zm2-54zm0 43zm0 7zm1-6zm2-56zm3 58zm3-18zm2 0zm3-18zm4 79zm2-126zm0 67zm0 14zm1 19zm0-97zm0 60zm1 26zm0-38zm4-32zm4 66zm4-42zm1-18zm0 65zm0-35zm2 16zm2-26zm1 3zm0 12zm1 17zm5-63zm3 8zm0 26zm0 0zm1-34zm2 76zm1-35zm4-32zm4 16zm0-47zm1 34zm1 42zm1-41zm1 2zm5 32zm0 3zm2-63zm2 56zm0-16zm1-64zm1 87zm2-46zm0 63zm7-14zm2-15zm3-2zm2 23zm1-9zm2-41zm0 18zm2 43zm0-64zm1 0zm2 1zm1-13zm0-5zm4 11zm1 57zm0-58zm1-41zm0 35zm1 40zm14-28zm9-37zm10-9zm1 0zm2 23zm5 39zm3-30zm18 37zm8-78zm6 12zm0 50zm1-27zm1-21zm4-12zm3 7zm9 46zm23-52zm9-11zm6 36zm11-33zm4 17zm2-4zm2 19zm2-80zm1 53zm18 1zm9-33zm8 16zm1 68zm1-74zm6 22zm0-25zm16 43zm4-5zm2-33z"/><path d="M1463 1018zm0 13zm0-32zm1 39zm0-18zm0-11zm1 21zm1-25zm1 40zm1-29zm0-31zm1 47zm1-41zm0 55zm1-12zm1-55zm0 58zm1-3zm2 2zm2-1zm1-35zm1 32zm0-43zm0 33zm1 18zm1-13zm0 5zm1 6zm1-15zm3 6zm1-50zm2 32zm0 20zm0 10zm1-1zm0 5zm0-45zm1 49zm1-63zm0 19zm0-11zm1 34zm2-7zm1-22zm0 11zm1 29zm1-63zm0 68zm0 1zm4-48zm0 10zm0-11zm1 23zm0 6zm1-28zm0 18zm1-1zm0-17zm0 25zm1-21zm3 2zm0 20zm1-65zm1 24zm0 49zm0-32zm1 48zm0-47zm2-9zm0 14zm0 29zm1-5zm1-31zm1-2zm0 2zm0-10zm1 6zm1-6zm1 54zm1-34zm0 4zm1-34zm1 28zm1 2zm0 27zm1-1zm0-26zm1 21zm1-51zm0 53zm2-37zm0 33zm1-16zm0-38zm0 20zm1-3zm0 46zm1-29zm0-1zm1 0zm0 25zm1-28zm1 12zm1 5zm0-36zm3 39zm0-10zm0 19zm1-26zm0-9zm1 37zm0-7zm1-12zm0-39zm0 38zm1-56zm0 34zm0-2zm1-52zm1 81zm2-26zm0-5zm2-25zm0 58zm0-18zm1-34zm1 21zm0-7zm2-2zm0-31zm0 56zm1-28zm0-13zm1 33zm1 26zm1-28zm0 37zm0-38zm1 11zm1-2zm1-10zm0 12zm0 6zm1-36zm1-24zm2 71zm1-23zm0 5zm0 7zm1-23zm0 24zm1-56zm1 27zm0-7zm0-18zm1 57zm0-13zm2 28zm0-26zm1-30zm0-1zm0 54zm1-24zm0 28zm1-31zm3-28zm1 18zm2-49zm1 36zm1 39zm0-61zm2 42zm0-40zm1 37zm0-26zm1 16zm1 23zm1-47zm1 41zm1-28zm1 8zm0 32zm1-37zm0-16zm1 7zm0-2zm0 85zm1-85zm0 17zm0 19zm1-64zm2 109zm1-114zm0 28zm2-9zm1 30zm0-18zm2 21zm2 16zm1 0zm0-30zm1 17zm0 10zm0-1zm1 35zm1-38zm2-5zm0-3zm0-8zm1-13zm1-57zm1 56zm0 1zm0 4zm1 15zm0-10zm2 37zm0-73zm0 37zm1-22zm0 23zm1 36zm1-50zm2 2zm1 21zm1-1zm0-58zm2 66zm1 7zm0-51zm1 22zm1 0zm0-11zm1-3zm3-5zm2 54zm1 14zm1-67zm0 43zm1-79zm4 7zm1 50zm1-23zm0 52zm1-83zm1-6zm0 41zm0 7zm3 1zm0 5zm5-21zm1 17zm1-34zm1 11zm1 33zm0-39zm4 5zm0 2zm4 7zm0 5zm0 4zm0 4zm1-44zm0 8zm0 35zm1 1zm0-3zm0-1zm1 5zm4-5zm2-43zm0 22zm1-11zm0 30zm1-31zm3 21zm0-21zm1 74zm2-56zm0 16zm1-49zm1 38zm1-14zm0 32zm5-22zm0 28zm1-45zm2 24zm0-12zm0 2zm1-33zm0 49zm5-17zm0-33zm1 35zm1 10zm0-30zm3-28zm0 46zm4 20zm3-51zm0 64zm1-6zm2-70zm0 55zm2-16zm1-15zm3-7zm0 15zm1 16zm1 14zm0-56zm1-11zm0 45zm0-17zm4-44zm1 48zm1 3zm1 6zm2-21zm2-1zm0 17zm0-6zm1-26zm2-12zm1 38zm2-2zm1 32zm0-17zm0-19zm1-41zm3-8zm0 118zm1-108zm2 46zm1-12zm0 6zm6 3zm0 49zm4-72zm0 29zm1 9zm1-29zm1 31zm1-61zm1 41zm2-8zm0-35zm0 31zm3-26zm0 6zm2 20zm2 10zm1 28zm1-53zm0 38zm0 12zm3-67zm3 27zm0 30zm1 2zm7-58zm1 25zm10 7zm2 55zm0-72zm2-22zm2 3zm0 21zm0-1zm1 19zm1-31zm0 9zm4 46zm1-50zm0-11zm3 51zm1-49zm1 47zm1-11zm0-45zm0 44zm0-9zm4-27zm2-13zm0 21zm1 30zm1-59zm0 8zm1 53zm0-22zm0-28zm0 15zm1 4zm2 5zm0-27zm8 9zm8-2zm1 36zm17-36zm7 20zm11-19zm4-19zm1-15zm10 25zm1 14zm9 4zm1-60zm7 37zm7 24zm2-56zm3 69zm0-56zm2 7zm1-23zm7 41zm3-75zm10 76zm9-14zm5 3zm8 29zm9-71zm1 20zm14-29zm6 22zm8-23zm7 54zm4-27zm2 15zm9-40zm4-13zm1 33zm13-38z"/><path d="M1463 1032zm0 7zm1 12zm1-63zm1 37zm0-6zm0 8zm1-27zm0 37zm1 2zm1 8zm1-27zm0 31zm1-7zm1-2zm1-9zm1-14zm0 28zm0-23zm0-11zm0 23zm0-2zm0-46zm1 32zm0 7zm0 12zm1-2zm0 0zm0-12zm2 9zm0-29zm0 14zm0-9zm0 10zm0 16zm0-11zm2-11zm1 13zm0 5zm0-11zm0 0zm1-5zm0 26zm1-26zm0 5zm1-13zm1 20zm0 15zm1-34zm0-4zm2 32zm1 0zm0-32zm0 5zm1 23zm1-27zm0 42zm0-65zm1 28zm0 36zm0-36zm0-5zm0 5zm0 41zm1-65zm1 44zm0-25zm3 25zm0-11zm1-2zm1 21zm1-41zm3 3zm2 27zm1 19zm0-22zm1-4zm1-13zm0 7zm1-7zm0-4zm0-6zm0 14zm3 19zm1-2zm0-57zm1 20zm1-4zm0 20zm1 7zm1 9zm3-37zm0 44zm3-4zm0-51zm0 66zm1-28zm0-14zm0 3zm1-22zm0-2zm0 25zm0 1zm3 1zm0 19zm3-53zm1 34zm1 15zm0-44zm1 9zm0 18zm0 8zm0-11zm1-15zm0 43zm0-24zm0 15zm1 4zm1-9zm0-17zm1 28zm1-44zm1 12zm0 28zm0-20zm1 10zm1 4zm1 1zm1-9zm1-12zm1 32zm0-14zm1-33zm1-11zm0 55zm1 6zm0-66zm0 37zm1-35zm1 39zm0-9zm0 23zm1-16zm0-21zm0-10zm1 47zm0-44zm1 37zm1-12zm0-10zm2-2zm0 10zm1 37zm0-2zm0-26zm1 15zm0-48zm1 38zm0-15zm1-12zm1 14zm0-14zm0 37zm1-11zm1-49zm0 28zm1 17zm0-31zm0 27zm2-3zm2 17zm2-30zm1-17zm4 45zm0-20zm0 24zm1-57zm0 15zm0-19zm1 25zm1-6zm1-2zm2 21zm0 1zm1 0zm0-11zm1-9zm0 31zm1-51zm0 13zm1 31zm1 12zm1-48zm0 2zm0 28zm1 4zm1-17zm1-31zm0 55zm2-20zm0 18zm0-58zm0 12zm0 38zm0-29zm1 30zm1-25zm0-20zm0 22zm0 40zm0-30zm1 4zm0 4zm2-17zm2-4zm0 10zm0-16zm1-22zm1 49zm1-10zm1-9zm1-35zm0 71zm1-50zm0 23zm1-32zm1 24zm1-1zm1 6zm2 38zm0-46zm1 20zm1-7zm0-32zm2 2zm0 32zm0-69zm0 72zm1-13zm1 38zm1-56zm2-35zm0 70zm4-40zm3 29zm0 8zm0-49zm2 15zm0-3zm1-12zm1 30zm2-43zm1 15zm0 22zm1 49zm0-46zm0-41zm0 21zm0-50zm2 73zm0 20zm1-47zm3-11zm3 14zm1 20zm0-42zm1 14zm4 20zm2 22zm0-14zm1-15zm0-20zm1 37zm1-32zm0 0zm1 7zm0 8zm3 10zm0-48zm0 47zm0-35zm1 73zm0-42zm3 4zm3-11zm2-13zm1-16zm2 58zm2-51zm1 2zm0 48zm2-52zm0-5zm1 14zm1-8zm5-12zm2 9zm1 3zm0 2zm0-44zm3-9zm2 90zm4-63zm1 14zm0 18zm1 17zm0-18zm2-46zm0 16zm0 67zm1-61zm0 47zm3-29zm1-27zm0 18zm4 51zm0-11zm2-49zm3-12zm3 62zm1-46zm1-11zm0 96zm1-72zm1 14zm0 8zm1-22zm0 45zm2-20zm2-21zm1-12zm2 85zm0-62zm0-15zm0-6zm0 0zm2-36zm1 28zm1-38zm0 37zm1 11zm1 4zm0-5zm3 23zm2-6zm0-6zm2-51zm2 2zm2 65zm2 0zm2-44zm2 16zm1-20zm2 21zm1-12zm1-21zm1 48zm3 12zm1-33zm1-30zm2-5zm3 54zm0-9zm1-1zm2-31zm2 2zm1 5zm0 14zm2-14zm4-14zm0 11zm0 29zm1-2zm1-15zm1-21zm1 39zm2-17zm1 0zm4 5zm1-42zm0 44zm1-57zm1 58zm0-47zm1-6zm1 4zm1 11zm1 71zm0-85zm5 6zm0 21zm0 43zm1-19zm1-65zm1 42zm2 9zm1 25zm1-60zm3 14zm1 11zm7 5zm3-13zm8 18zm1 41zm1-58zm0-5zm3-20zm1 59zm5 9zm25-41zm1-24zm4-33zm4 43zm15 6zm16-32zm11 14zm4 36zm4-21zm1-34zm3 1zm11 17zm6-17zm1 9zm10-34zm51 45zm1-46zm1 18zm11-69zm2 39zm7 12zm11-24zm0 2zm2-42z"/><path d="M1463 1025zm0-9zm1 8zm0-30zm0 40zm1 5zm1-23zm0 26zm0 8zm1-22zm2 0zm1 15zm0-10zm0-26zm0 12zm1-25zm1 24zm0-22zm0 26zm1-4zm1 14zm0-8zm1 13zm0-44zm1 55zm1 1zm0-72zm1 70zm0 0zm0-38zm1 13zm0 6zm0-10zm0-22zm1 29zm0-2zm1 5zm0-10zm1 5zm0 20zm0 4zm0-21zm0-1zm1-50zm0 17zm1 41zm2 2zm0-30zm0-8zm2 14zm0-16zm1 24zm0-4zm0-5zm1-6zm0 18zm1 0zm0 0zm2 7zm1-22zm0 17zm1-24zm0 21zm2-12zm0-9zm0 37zm1-6zm0-41zm1 60zm0-31zm0 4zm1 15zm1-29zm1-5zm0 12zm3 7zm1-12zm0-12zm2-22zm1 40zm1-7zm1 11zm1-16zm1 2zm0-6zm1 33zm1-24zm0-3zm1-13zm0-24zm1 21zm0 20zm2-18zm1 30zm0 27zm1-16zm0-46zm0 6zm0-10zm0-6zm0 53zm1-40zm0 48zm0-71zm1 42zm1-10zm0 14zm1 25zm0-66zm1 46zm0-11zm2-16zm1-10zm1 15zm1 18zm0-18zm0 15zm1-23zm0 20zm0 3zm1-27zm0 2zm0 25zm3 2zm1 19zm1 17zm1-15zm0-23zm3-22zm0 14zm0-8zm1-6zm1 15zm1-90zm0 70zm0-14zm1 33zm0-3zm0-39zm0 21zm0 44zm3-81zm0 85zm0-23zm0-2zm1-5zm1-16zm1-21zm1 28zm0-12zm0 48zm1-43zm0-1zm0 22zm1-25zm0 15zm0 26zm1-9zm1-48zm1 20zm0 31zm0-57zm1 39zm0 12zm1-2zm1-42zm0 2zm0 33zm2-8zm1-13zm0 0zm2 17zm0 18zm2-64zm0 85zm1-81zm0 85zm1-68zm6 18zm0-2zm0-42zm0 33zm2-12zm0 21zm1-4zm0 21zm0-37zm1-5zm1 42zm0 1zm0-7zm1-17zm1-23zm1-5zm0 3zm2 30zm1 50zm1-59zm0-7zm2 13zm0 13zm1 4zm1-33zm2 37zm0-28zm0 18zm2-8zm2-18zm0 44zm1-8zm0-39zm1 13zm1-5zm0 9zm0-42zm1 63zm1-10zm0-20zm1 30zm0-22zm1 60zm0-54zm0 19zm0-68zm1 41zm1-36zm1 37zm0-25zm0 35zm1-47zm2 71zm2-16zm1-30zm0 0zm2 10zm3-62zm2 51zm1 28zm0 30zm2-42zm1-39zm2 46zm1-31zm0 29zm1-44zm0-11zm2 25zm1 32zm1 1zm0-9zm1-17zm0-23zm1 9zm1 32zm1-55zm2 37zm1 1zm8 14zm2-15zm0 11zm0 14zm1-30zm0 34zm0-31zm1-65zm1 61zm1-9zm3 27zm1-89zm0 37zm0 35zm3-27zm3 52zm1-36zm1-26zm4 64zm1-24zm1 2zm0-16zm1 3zm1 7zm0-34zm1 51zm1-66zm0 43zm1-57zm1 44zm1-43zm0 46zm3 3zm0 45zm2-23zm1-31zm1-12zm1-3zm1 51zm1-41zm1 22zm0-1zm1-36zm2-20zm0 8zm2 9zm0 21zm0 1zm2 16zm3 10zm0-10zm1-28zm0 26zm0-12zm2-15zm9 22zm3 8zm1-75zm0 28zm2 53zm1-41zm1 5zm1 3zm1-37zm0-5zm0 49zm3-18zm1 43zm0-27zm2 12zm2-11zm1-31zm1 35zm2-4zm2-8zm5-17zm4 11zm1-18zm2-3zm2 30zm0 26zm2-42zm1-25zm2-15zm1 71zm1-14zm0 0zm2-16zm3-21zm0 48zm1-23zm0 43zm1-88zm1 46zm0 30zm0-61zm3-25zm2 34zm1 39zm2 8zm1-71zm2-9zm1 19zm0 58zm0-25zm1-6zm4 13zm2 11zm2-43zm0 27zm1-5zm0-54zm5 66zm3 1zm2 3zm1-26zm2 49zm2-126zm1 83zm2-9zm2 5zm0-15zm2-41zm2 63zm2-9zm0-14zm1-17zm4-20zm1 11zm1-1zm1 42zm1-51zm0 52zm2 16zm1-46zm1 5zm0 23zm2-45zm1 66zm0-18zm5 23zm1 4zm0-61zm19 36zm11 8zm1-49zm5-8zm5-41zm10 54zm10-40zm2 90zm2-52zm7-3zm4-33zm1 22zm4 6zm4 27zm3 3zm1-31zm11-16zm8 18zm0-22zm3 20zm12-60zm3 75zm14-54zm0 10zm6-16zm1 22zm1 16zm3-6zm3-15zm31-72zm14 60zm24-2zm0-16z"/><path d="M1463 1013zm0 30zm0-2zm1 4zm0-4zm0-7zm0-16zm0-3zm1-12zm1-6zm1 49zm1-1zm1-45zm0 16zm0-6zm2 6zm0 29zm1-41zm0 10zm1 11zm1 5zm0-4zm1 12zm0-7zm0 8zm1-3zm0-12zm1-24zm0 15zm0 21zm0-7zm0 17zm0-37zm0-11zm1 8zm0 36zm0-1zm0-59zm0 21zm2 48zm1 0zm3-16zm0-27zm6 9zm0 6zm1 16zm0-13zm0-25zm1 14zm2-21zm0 6zm1-40zm1 63zm0-4zm0-17zm0 2zm0-9zm0 18zm0-20zm1 9zm1 29zm0-11zm1 15zm0-67zm0 65zm0 6zm1-33zm1-3zm0 10zm0 5zm1-2zm1 5zm0-13zm1-13zm1 30zm1 0zm0-28zm1 4zm1 31zm0-24zm1-3zm3 10zm0-11zm0-6zm0-43zm1 52zm1-1zm1-17zm0 16zm0 12zm1-50zm0 38zm1-8zm0 9zm0-5zm1 46zm1-26zm1 19zm0-38zm1-3zm0 6zm0-7zm0 4zm0 12zm1-22zm1 12zm1-20zm1 6zm0 37zm0-27zm2 32zm1-2zm0-27zm0 19zm1-9zm1-3zm1-60zm0 97zm0-78zm2 48zm0-30zm0 10zm2 1zm2-19zm0 2zm0 23zm3 11zm0 4zm2-17zm0-15zm2 7zm0 31zm1-11zm1 2zm0-15zm1-7zm3-17zm0 37zm1-25zm3-12zm1-14zm0 55zm1 20zm1-21zm1-21zm2-11zm1 64zm1-70zm3 15zm0 1zm0-11zm1 14zm0-24zm1-9zm0 6zm0 18zm1-5zm0-5zm0-12zm2 18zm0-11zm2 10zm1 13zm0 23zm1-23zm0-47zm0 45zm1 11zm0-21zm0 14zm1-23zm1-9zm2 3zm0 1zm1 1zm1 4zm0 21zm1 18zm0-23zm0-46zm1 40zm2-15zm2-23zm0 43zm1-23zm2-25zm2 41zm0-38zm0 33zm2-46zm1 81zm0-77zm0 72zm0-8zm1-36zm0 42zm1-34zm1-33zm0 43zm1 31zm0-34zm0 49zm1 10zm4-44zm0-23zm1 15zm2-39zm0 42zm0-13zm1 22zm1-46zm1 35zm0-37zm0-13zm1 25zm2 7zm0 9zm0-21zm1 18zm0-16zm0 22zm0 9zm1-18zm1-35zm0-12zm1 40zm1-40zm1 78zm0-44zm1-1zm0 16zm2-19zm1 19zm2-8zm0-11zm1 31zm1-43zm1 23zm1 4zm0-19zm1 43zm1-51zm0 8zm0 10zm1 2zm3 60zm0-55zm1 12zm0-49zm0 32zm0 25zm2 44zm0-69zm1 40zm0-16zm1-56zm4 0zm0 10zm0 43zm0-60zm0-3zm1 76zm0-46zm2-14zm0 2zm1 20zm2-8zm1 10zm1-18zm2-1zm2 25zm1-39zm0 26zm6-12zm1-21zm0 21zm2 4zm1 5zm0-7zm2 16zm0-13zm1-36zm0 39zm2 7zm2-37zm0 46zm3 4zm2-11zm0-37zm1 49zm1-59zm1-22zm0 38zm3 25zm0-60zm1 34zm0 13zm0 2zm1 11zm1-4zm1-10zm1-20zm1 27zm1 14zm0 2zm1-80zm2 81zm2-91zm0 51zm5 10zm1 40zm1-51zm0-20zm0 30zm2-17zm0 26zm1-34zm1 61zm0-17zm0-15zm3 18zm1-4zm0 17zm1-67zm2 55zm1-17zm2 3zm1-9zm1-1zm2-25zm1 22zm0-12zm0 16zm1-13zm3 35zm1 13zm1-50zm1-25zm0 38zm2 8zm1 9zm3-41zm1-13zm2 44zm5-59zm2 64zm0-26zm1-12zm4 56zm0-66zm2 10zm1-42zm0 26zm3-27zm4 44zm1 45zm1-21zm0-20zm1 6zm2 27zm0-52zm2 43zm0 14zm1-32zm2-13zm2-16zm2 27zm2-19zm0 5zm0-12zm1 2zm0 11zm0 55zm2-101zm1 41zm2 19zm5 7zm0-41zm1-9zm0 68zm8-25zm1 3zm0 39zm0-22zm1-50zm0 23zm5 13zm1-76zm1 54zm1-8zm3-2zm3 41zm0-18zm1 35zm0-86zm2 45zm1 6zm7 14zm0-55zm1 4zm3-16zm4 28zm0-65zm1 51zm0 29zm0-25zm1 72zm2-101zm8 42zm5 5zm24-32zm11-24zm13-16zm12 66zm21 11zm2-49zm3 6zm9 1zm9-23zm2-37zm0 38zm15-1zm2-20zm8 18zm11-5zm4 13zm21 1zm0-8zm1 8zm4-47zm18 51zm7-81zm5 92z"/></g>
<path d="M1465 1004.8H2056.6" stroke="#141414" stroke-width="3.8" stroke-dasharray="22.4 6.6" stroke-dashoffset="13" fill="none"/>
<g stroke="#E9962C" stroke-width="10.6" stroke-opacity=".5" stroke-linecap="round" fill="none"><path d="M1824 857zm2 38zm1-17zm2 49zm0-38zm1-19zm0 22zm1-15zm0-22zm1 0zm0 44zm1 10zm0 5zm2-38zm1 2zm1-36zm0 40zm1-12zm0 15zm4-28zm1 30zm0-22zm6 18zm0-13zm1 33zm2-14zm3-47zm1-20zm2 52zm2-26zm0-5zm1 57zm1 17zm1-29zm2-67zm3 64zm2 22zm1-35zm1-26zm2 53zm2-48zm7-15zm0 37zm1-26zm8 33zm2 12zm1-12zm0-34zm5 55zm4-67zm1-20zm6 97zm1-54zm1-7zm2 71zm0-66zm4 39zm3 4zm3-15zm5-63zm2 30zm5 25zm3 17zm1-54zm8 69zm3-24z"/><path d="M1822 890zm1 28zm0-26zm2-44zm1 58zm2-55zm0 32zm1-14zm3-49zm0 51zm1-20zm1 9zm1 18zm1 6zm1 20zm2 11zm2 1zm2-54zm3 11zm0 26zm0-43zm5 51zm2 30zm3-58zm1 7zm0-60zm0 54zm3 27zm1-9zm11-36zm4 77zm1-49zm0-9zm3-26zm1 39zm6-48zm2 40zm3-45zm3 82zm2-33zm2-49zm1 44zm1-29zm2 23zm2 22zm1-53zm1 31zm2 26zm1-44zm0 44zm3-79zm4 18zm2 26zm3-30zm1 15zm2-8zm3 7zm0 17zm4-30zm2-7zm2-5zm8 89zm4-21zm5-53zm1 22zm4 32z"/><path d="M1821 863zm1 10zm2 13zm0-45zm1 33zm2 60zm0-107zm1-17zm0 71zm1 19zm2-18zm0-11zm0-17zm3 66zm0-60zm2-34zm2 35zm0 48zm2-56zm0 42zm4-38zm0 11zm1-18zm0-26zm1 3zm0 65zm3-10zm0-18zm0 16zm2-70zm0 85zm2-32zm5 28zm2-16zm3-51zm0 75zm4-50zm9 7zm4 9zm1 16zm3-28zm0 31zm2 6zm4-56zm6 71zm0-30zm1-24zm4 1zm0 7zm2-15zm1-10zm0 44zm9-8zm2-4zm7 6zm3-39zm2 32zm3-25zm5 10zm0 42zm5-30zm3 53zm2-57zm2-19zm2 18zm4 28z"/><path d="M1822 859zm2-40zm2 63zm1-21zm1 38zm1-77zm0 30zm4 48zm1-4zm1-50zm1 20zm1 28zm3-43zm2 34zm0 20zm1-43zm1 55zm0-17zm2-8zm0-26zm2 16zm2 20zm2-18zm1-30zm2-2zm1-14zm0 3zm3 58zm5 33zm1-85zm3 75zm1-65zm0 2zm1-2zm1 50zm0-92zm3 77zm1 30zm1-33zm3-9zm2 9zm2-11zm1-31zm5 15zm5 35zm1-17zm0-4zm2-15zm0 12zm7 2zm1-37zm1 49zm1-44zm0 24zm4 16zm1 11zm3-60zm7 1zm1-4zm3 13zm6 28zm6-15zm4-9zm2 15zm1 6zm9-52z"/><path d="M1823 884zm0 14zm6-37zm0-24zm0 54zm1 18zm2-26zm3-30zm0 50zm4-1zm2 23zm0-23zm0-73zm2 66zm1-5zm0-50zm1 31zm10 34zm1-36zm4 49zm0-29zm1-28zm0 11zm1 9zm0-25zm1 20zm0 47zm1-20zm0-39zm2-2zm1 9zm1-18zm1 5zm4 2zm6 21zm8 19zm1-26zm1-8zm1-54zm0 63zm2-65zm0 54zm2 21zm1 11zm6-28zm1 25zm5-56zm1 50zm0-24zm9-14zm1 47zm0-59zm7 62zm3-66zm1 4zm1-2zm0 28zm5 36zm1-60zm7-5zm0 18zm4 19zm4-1zm6-17zm0-8zm0-1z"/></g>
<g stroke="#25285A" stroke-width="10.6" stroke-opacity=".5" stroke-linecap="round" fill="none"><path d="M1702 966zm1-28zm0-17zm0 48zm0-41zm1 19zm0-28zm1 39zm0-44zm0 11zm1 25zm2-10zm0-21zm1-28zm2 69zm0-60zm0 54zm0-16zm1 0zm1-22zm0 57zm1-34zm1-13zm1 10zm0 15zm0 16zm0 12zm1-71zm0 19zm0-15zm0-17zm0 58zm1 24zm1-16zm0-26zm2 17zm3-39zm0-2zm1 46zm1-57zm0 31zm0-26zm1 32zm1-11zm1-17zm1 28zm1 0zm1 4zm0-19zm1 37zm4-74zm1 37zm1 49zm1-39zm1-56zm0 52zm1 2zm0 16zm0-32zm1-7zm0 27zm1-28zm1 13zm1 23zm0 6zm1-38zm0 8zm1 4zm1-45zm1 30zm1 3zm1-33zm1 16zm1 28zm1 22zm1-26zm0-35zm1 63zm1-35zm1 8zm0 7zm1-11zm1-8zm0 38z"/><path d="M1705 910zm0 24zm1 19zm1 7zm0-24zm1-1zm1-11zm2-3zm3 42zm0-33zm1-44zm0 49zm2 6zm0-15zm0 2zm0 5zm1-21zm1-4zm0 28zm2 11zm0-13zm2 16zm0-12zm1 5zm1 7zm1-14zm0-1zm1 2zm0 8zm0-3zm0-11zm1-24zm1 15zm0-30zm2 33zm1-28zm0 68zm0-41zm1-28zm1 35zm0 27zm2-34zm1 10zm1-14zm0-20zm0 19zm1-2zm0 15zm1 24zm2-10zm0-18zm0-21zm1 41zm0-8zm0-33zm0 31zm0-10zm0-29zm2 35zm0-32zm1 32zm0-13zm1-4zm1-7zm0-16zm0 45zm1-37zm0 16zm0 28zm3-55zm1 56zm1-35zm1-35zm0 32zm0-15zm0 38zm1-9zm0 20zm0-51zm1 17zm1-12zm1 2zm0 59zm2-33z"/><path d="M1703 910zm0 13zm0 21zm0 20zm1-51zm1 21zm1 37zm0-9zm1-30zm0-76zm1 50zm1 34zm0-10zm0 3zm2 25zm2-87zm2 58zm0 12zm0-11zm1-21zm0 24zm1 3zm0 24zm1-61zm0 45zm1-4zm1-37zm1 44zm1-30zm0-7zm0 32zm2-26zm0 46zm1 35zm0-68zm1 12zm2 25zm0-23zm1-20zm1-5zm0-12zm1 60zm1-38zm1 12zm0-17zm0-23zm1 6zm0-10zm1 30zm0 3zm2-18zm1 3zm0 10zm0-67zm1 21zm1 64zm0 37zm0-78zm0 8zm1-33zm0 40zm0-3zm1 33zm0-76zm1 20zm1-14zm0 19zm1 39zm1-43zm0 44zm1-58zm1 15zm2 46zm1-17zm0-17zm1 1zm1 6zm0 29zm1 20zm0 1zm0-51zm3 5zm2-20zm1 60z"/><path d="M1703 948zm0 22zm1-16zm0-8zm0-8zm1-2zm2 65zm0-57zm0-47zm1 60zm1-5zm1-40zm1 39zm0 17zm2-29zm0-22zm1 25zm1 10zm1-10zm0 20zm0-6zm1-7zm1-37zm2 5zm1 5zm1-19zm0 24zm1-10zm0-12zm0 35zm1-15zm1 21zm2-53zm0 25zm0 44zm2-7zm0-10zm0-26zm1 37zm0-20zm1-8zm0 13zm1-5zm0 18zm0-9zm0-24zm1 28zm1-21zm4 16zm0-43zm1 30zm0-31zm0 2zm0 36zm1 15zm0-57zm0 79zm1-76zm1 8zm0 3zm1 35zm1-22zm0-19zm0 17zm1 22zm0-8zm0 6zm1-15zm0-4zm1-52zm2 53zm3 0zm1 1zm1-32zm0-13zm0 31zm3-20zm1 21zm0 27zm0 2zm1 10zm1-40zm0 21zm1-21z"/><path d="M1702 935zm3 1zm0-3zm1 18zm1-11zm1-37zm0 29zm0-30zm0 60zm1-36zm1 32zm0-43zm2-9zm0 16zm0 21zm1-14zm1-23zm2 62zm0-40zm3-9zm0-13zm0 35zm3 0zm0 5zm2-4zm1-18zm1 10zm0-14zm1-7zm2-15zm0 62zm0-57zm1 28zm0 17zm1-45zm0-22zm0 39zm0-32zm1 65zm0-33zm1 8zm1-8zm1-14zm1 56zm0-54zm1 27zm0 15zm1-16zm1-37zm2 16zm0-2zm0-16zm1 51zm0-36zm1 13zm0-58zm0 52zm1-13zm0 18zm0 3zm1-8zm1-37zm1 42zm0-25zm0 24zm1-8zm2 5zm1-1zm3 16zm0-23zm0 9zm0 34zm0-47zm1 30zm0-17zm0 1zm1-15zm2 40zm0-66zm0 44zm2 9zm1-1zm0-18z"/><path d="M1703 922zm0 16zm1 8zm0-36zm3 44zm0-21zm1 24zm0-2zm1-32zm0 13zm1-5zm1 0zm1 15zm1-33zm0 20zm0 27zm1-25zm0-38zm0 17zm1 26zm0-11zm3 8zm0-7zm0 21zm1 19zm1-72zm1 36zm2 4zm1-26zm0-14zm0 46zm1-47zm1 19zm2-9zm0 40zm0-28zm1 3zm1-21zm1 45zm0-24zm1-15zm1 38zm1 6zm0 3zm0-48zm2 28zm1-7zm0-21zm1 44zm1-35zm0-3zm1 22zm0-1zm1-22zm0-17zm0 33zm0 13zm0-19zm0-33zm1 3zm0 53zm0-20zm2 6zm2-10zm0 49zm1-67zm1 25zm0 4zm0 14zm1-50zm1 25zm0-23zm0-22zm1 3zm1 29zm0-12zm2 44zm0 21zm1-22zm0 9zm1 10zm2-53zm1-1z"/></g>
<g stroke="#3FA3C9" stroke-width="10.6" stroke-opacity=".42" stroke-linecap="round" fill="none"><path d="M1672 960zm3 22zm1-15zm0 13zm1-5zm3-9zm0 6zm3-12zm3 13zm1 2zm1 8zm2-35zm1-7zm0 15zm2 8zm1-19zm1 8zm0-26zm1 8zm1 41zm1-11zm3 0zm1-12zm1-18zm3 9zm1 17zm1-1zm2-13zm0 13zm0-16zm1 10zm1-12zm0-4zm1 11zm1 5zm0-11zm0 3zm0 3zm1 4zm1 7zm0-36zm0 6zm1 24zm1 0zm0-5zm0-6zm1 23z"/><path d="M1676 945zm5 30zm1-41zm3 17zm1 42zm0-54zm0 26zm1-25zm1 38zm4-7zm0-11zm0-32zm2 46zm1 1zm1-19zm1 10zm1-10zm0-14zm1 13zm0 4zm1-3zm2 14zm1-35zm0 3zm1 4zm1 22zm2-13zm1-17zm0 6zm1-1zm1 24zm1-26zm1 50zm2-54zm0-15zm0-2zm1 19zm0 0zm0-8zm0 9zm1-12zm3 20zm0 5zm1-3zm1-1zm0 7z"/><path d="M1670 951zm3 34zm2-12zm0-24zm1 11zm4-4zm1-3zm3 19zm2-4zm2-33zm2 33zm1-26zm5 29zm0 10zm2-23zm0-26zm1 33zm0-10zm1-22zm0 24zm0 8zm1-38zm0 13zm1 14zm1-13zm2 43zm1-44zm3 27zm0-27zm1 49zm4-46zm0-16zm0 21zm1-1zm0-12zm0 34zm1-29zm0 6zm0-18zm2 46zm0-32zm0-1zm1 41zm1-31zm0 6zm1 1z"/><path d="M1667 980zm4-15zm6-21zm2 26zm1-9zm2-14zm2 15zm2-19zm1-3zm0 11zm0 0zm1 32zm0-59zm1 25zm1 16zm1-3zm3 0zm0 4zm6-7zm0 21zm1 6zm3-14zm0-26zm1-15zm1 51zm1-63zm1 22zm0-10zm0 10zm1 35zm0-45zm1 36zm2-24zm0-8zm1-1zm1 22zm0-30zm0-8zm0 40zm1-26zm1 12zm0-9zm1 16zm0-2zm0 6zm1-23z"/></g>
<circle cx="1716.7" cy="947" r="7" fill="none" stroke="#DE1984" stroke-width="5.9"/>
<path d="M1591.8 1027.5H1750.4" stroke="#3FA3C9" stroke-width="2.2" fill="none"/>
<path d="M1596.7 1035.4H1830.6" stroke="#25285A" stroke-width="2.2" fill="none"/>
<path d="M1703.5 1043.6H2014.7" stroke="#E9962C" stroke-width="2.2" fill="none"/>
<path d="M1463 608.4V1053.3H2058.8" stroke="#141414" stroke-width="4" fill="none"/>
<path d="M1461 1053.3h-5M1461 987.7h-5M1461 922.1h-5M1461 856.5h-5M1461 790.9h-5M1461 725.3h-5M1461 659.7h-5M1520.1 1055.3v5M1591.8 1055.3v5M1663.6 1055.3v5M1735.3 1055.3v5M1807.1 1055.3v5M1878.8 1055.3v5M1950.6 1055.3v5M2022.3 1055.3v5" stroke="#878787" stroke-width="3" fill="none"/>
<g font-size="19" fill="#878787"><text x="1448.8" y="1060.3" text-anchor="end">0</text><text x="1448.8" y="994.7" text-anchor="end">1</text><text x="1448.8" y="929.1" text-anchor="end">2</text><text x="1448.8" y="863.5" text-anchor="end">3</text><text x="1448.8" y="797.9" text-anchor="end">4</text><text x="1448.8" y="732.3" text-anchor="end">5</text><text x="1448.8" y="666.7" text-anchor="end">6</text><text x="1520.1" y="1081.5" text-anchor="middle">1.0</text><text x="1591.8" y="1081.5" text-anchor="middle">1.5</text><text x="1663.6" y="1081.5" text-anchor="middle">2.0</text><text x="1735.3" y="1081.5" text-anchor="middle">2.5</text><text x="1807.1" y="1081.5" text-anchor="middle">3.0</text><text x="1878.8" y="1081.5" text-anchor="middle">3.5</text><text x="1950.6" y="1081.5" text-anchor="middle">4.0</text><text x="2022.3" y="1081.5" text-anchor="middle">4.5</text></g>
<text x="1745.6" y="607.3" font-size="38.7" text-anchor="middle" fill="#141414">South Asia</text>
</g>
<g font-size="19"><text x="153.3" y="82.5" fill="#E9962C">SSP245</text><text x="153.3" y="108" fill="#25285A">SSP126</text><text x="153.3" y="132.6" fill="#3FA3C9">SSP119</text>
<text x="724.6" y="386.6" text-anchor="end" fill="#141414">2023</text><text x="724.6" y="407.1" text-anchor="end" fill="#141414">Observations</text></g>
<text x="4.1" y="34.9" font-size="52" font-weight="bold" fill="#141414" textLength="49" lengthAdjust="spacingAndGlyphs">A.</text>
<text x="4" y="1303.6" font-size="52" font-weight="bold" fill="#141414" textLength="49" lengthAdjust="spacingAndGlyphs">B.</text>
<text x="1288.4" y="1303.6" font-size="52" font-weight="bold" fill="#141414" textLength="50" lengthAdjust="spacingAndGlyphs">C.</text>
<text transform="translate(34.7 865) rotate(-90)" font-size="38" fill="#878787" textLength="589" lengthAdjust="spacingAndGlyphs">regional temperature anomaly (˚C)</text>
<text x="748.5" y="1137.6" font-size="38.6" fill="#878787" textLength="671" lengthAdjust="spacingAndGlyphs">global mean temperature anomaly (˚C)</text>
<circle cx="10.6" cy="1182.5" r="10.3" fill="#9a9a9a"/>
<text x="35.7" y="1192.3" font-size="29" fill="#141414" textLength="1049.6" lengthAdjust="spacingAndGlyphs">CMIP6 years (colors show years within CNN-predicted likley hottest annual GMT)</text>
<rect x="1144.6" y="1178" width="58" height="9" fill="#999"/>
<text x="1224" y="1192.3" font-size="29" fill="#141414" textLength="901" lengthAdjust="spacingAndGlyphs">colors show full range of CMIP6 single-realization hottest annual GMT</text>
<text x="240.6" y="1297.6" font-size="35.3" fill="#141414" textLength="867.7" lengthAdjust="spacingAndGlyphs">Closest single-realization “storyline” in SSP1-1.9 scenario</text>
<text x="1370.3" y="1297.6" font-size="35.3" fill="#141414" textLength="656.9" lengthAdjust="spacingAndGlyphs">Storyline years within CNN 66% uncertainty</text>
<clipPath id="cb"><rect x="123.7" y="1360" width="1078.6" height="812"/></clipPath>
<g clip-path="url(#cb)" fill="none" stroke-linejoin="round">
<path d="M123.2 2021.8L131.8 1998.3L140.4 2009.7L149 2016.2L157.7 2037.2L166.3 2022.3L174.9 1971.9L183.6 1969.7L192.2 1947.6L200.8 1961.3L209.4 1961.4L218.1 1966.5L226.7 2026.4L235.3 1971.5L244 1956.4L252.6 1948.4L261.2 2012.1L269.8 2040.5L278.5 2024.1L287.1 2001.2L295.7 1964.3L304.3 1956.9L313 1933.5L321.6 1958L330.2 1936.7L338.9 1922.4L347.5 1946.9L356.1 1879.7L364.7 1884.1L373.4 1863.2L382 1909.4L390.6 1931.6L399.3 1926.5L407.9 1914.3L416.5 1882.9L425.1 1878.5L433.8 1896.4L442.4 1918.2L451 1911.8L459.7 1851L468.3 1885.9L476.9 1865.6L485.5 1848.3L494.2 1899.2L502.8 1870.7L511.4 1815.4L520 1893.5L528.7 1872L537.3 1852.9L545.9 1864.3L554.6 1824.9L563.2 1822.3L571.8 1863.3L580.4 1806L589.1 1782.6L597.7 1760.6L606.3 1734.2L615 1755.1L623.6 1770.7L632.2 1821.3L640.8 1781.4L649.5 1801L658.1 1803.1L666.7 1828.4L675.4 1828.7L684 1813.3L692.6 1749.1L701.2 1825.7L709.9 1841.6L718.5 1794.3L727.1 1734.4L735.7 1734.6L744.4 1813.4L753 1868.3L761.6 1801L770.3 1805.2L778.9 1820.2L787.5 1760.4L796.1 1729.9L804.8 1746.5L813.4 1751.6L822 1748.1L830.7 1709.9L839.3 1724.1L847.9 1734L856.5 1737.9L865.2 1808L873.8 1749.3L882.4 1734L891.1 1741.3L899.7 1825L908.3 1820.6L916.9 1772.2L925.6 1835.6L934.2 1813L942.8 1765L951.4 1818.7L960.1 1750.5L968.7 1754.4L977.3 1779.3L986 1776.1L994.6 1765.2L1003.2 1777.9L1011.8 1751.8L1020.5 1798.4L1029.1 1812.3L1037.7 1773.3L1046.4 1789L1055 1825.9L1063.6 1785.3L1072.2 1751.4L1080.9 1798L1089.5 1849.8L1098.1 1834.3L1106.8 1828.8L1115.4 1832L1124 1780.1L1132.6 1835.3L1141.3 1788.1L1149.9 1848.5L1158.5 1861.2L1167.1 1822.7L1175.8 1790.5L1184.4 1785.6L1193 1800.7L1201.7 1814.9M123.2 2018.3L131.8 1999.8L140.4 2013.8L149 2004.1L157.7 1988.7L166.3 1998.5L174.9 1977L183.6 1972.1L192.2 1922.2L200.8 1951.9L209.4 1987.7L218.1 2000.5L226.7 1993.2L235.3 1958.5L244 1981.5L252.6 1967.3L261.2 1912L269.8 2025.4L278.5 2028.4L287.1 1984L295.7 1957L304.3 1947.9L313 1963L321.6 1933.1L330.2 1929.4L338.9 1951.3L347.5 1864.2L356.1 1888.6L364.7 1926L373.4 1925.8L382 1927.3L390.6 1920.2L399.3 1999.4L407.9 1961.1L416.5 1893.7L425.1 1930.2L433.8 1909L442.4 1864.4L451 1844.9L459.7 1813.4L468.3 1898.5L476.9 1891.2L485.5 1885.1L494.2 1849L502.8 1815.4L511.4 1918L520 1841L528.7 1884.4L537.3 1833.2L545.9 1876.8L554.6 1840.4L563.2 1788.8L571.8 1805.7L580.4 1799.6L589.1 1774.8L597.7 1781.7L606.3 1791.4L615 1742.4L623.6 1734.1L632.2 1771.5L640.8 1689.7L649.5 1775.3L658.1 1746.5L666.7 1769.4L675.4 1765.4L684 1743.6L692.6 1750L701.2 1739.2L709.9 1803.1L718.5 1830.9L727.1 1775.4L735.7 1800.4L744.4 1813.3L753 1832.9L761.6 1754.2L770.3 1735L778.9 1704.1L787.5 1767.3L796.1 1766.2L804.8 1802.4L813.4 1758.3L822 1712.5L830.7 1771.3L839.3 1720L847.9 1715.5L856.5 1750.9L865.2 1825L873.8 1751.4L882.4 1766.8L891.1 1790.6L899.7 1770L908.3 1761L916.9 1723L925.6 1786.9L934.2 1747.5L942.8 1719.3L951.4 1708.7L960.1 1756.8L968.7 1797.3L977.3 1760.1L986 1773.1L994.6 1779.4L1003.2 1741.7L1011.8 1779.3L1020.5 1861.9L1029.1 1839.1L1037.7 1876.7L1046.4 1809.4L1055 1796.2L1063.6 1820.8L1072.2 1813.7L1080.9 1784.7L1089.5 1796.7L1098.1 1763.3L1106.8 1793.5L1115.4 1773L1124 1750.4L1132.6 1737.5L1141.3 1805.4L1149.9 1787.5L1158.5 1868.4L1167.1 1880.5L1175.8 1914.9L1184.4 1834.8L1193 1873.1L1201.7 1852.5M123.2 2005.7L131.8 2000.2L140.4 2014L149 1992.3L157.7 1931.2L166.3 1957.8L174.9 1952.6L183.6 1933.6L192.2 1961.6L200.8 2006.4L209.4 2002.5L218.1 1947.1L226.7 2007.3L235.3 1999.3L244 1942.9L252.6 1922.7L261.2 1935.9L269.8 1914.3L278.5 1922.7L287.1 1967.2L295.7 1997.2L304.3 1979.1L313 1918.9L321.6 1937L330.2 1953.7L338.9 1954.9L347.5 1976.6L356.1 1938.7L364.7 1952.8L373.4 1907.3L382 1971L390.6 1911.3L399.3 1912.7L407.9 1952.2L416.5 1882.3L425.1 1880L433.8 1938.7L442.4 1919.2L451 1870.7L459.7 1870L468.3 1827.6L476.9 1806.9L485.5 1797.6L494.2 1801.5L502.8 1768.6L511.4 1772.5L520 1777.9L528.7 1858.1L537.3 1796.3L545.9 1752.5L554.6 1781L563.2 1796.4L571.8 1723.6L580.4 1805.9L589.1 1769L597.7 1687.1L606.3 1756.3L615 1734.1L623.6 1684.2L632.2 1724L640.8 1718.3L649.5 1703.2L658.1 1752.2L666.7 1746.5L675.4 1730L684 1703.8L692.6 1720.2L701.2 1732.4L709.9 1763.7L718.5 1756.5L727.1 1713L735.7 1718.3L744.4 1750.7L753 1764.6L761.6 1658.7L770.3 1659.3L778.9 1676.5L787.5 1787.6L796.1 1735.5L804.8 1716.9L813.4 1670.5L822 1690L830.7 1715L839.3 1707.7L847.9 1783.5L856.5 1723L865.2 1719.3L873.8 1751.1L882.4 1701.5L891.1 1664.5L899.7 1750.9L908.3 1767L916.9 1744.5L925.6 1738.5L934.2 1755L942.8 1781.5L951.4 1695.8L960.1 1692.7L968.7 1763.3L977.3 1800.7L986 1721.3L994.6 1709.2L1003.2 1678.2L1011.8 1697.3L1020.5 1760.4L1029.1 1753.6L1037.7 1828.9L1046.4 1818.8L1055 1793.4L1063.6 1764.4L1072.2 1792.3L1080.9 1786.7L1089.5 1766.7L1098.1 1761.3L1106.8 1751.6L1115.4 1762L1124 1784.7L1132.6 1760.5L1141.3 1774.3L1149.9 1809.4L1158.5 1819.9L1167.1 1805.8L1175.8 1804L1184.4 1795.7L1193 1798.1L1201.7 1794.6M123.2 2026.1L131.8 2060.7L140.4 2021L149 1981.3L157.7 1981.4L166.3 1999.6L174.9 1985.8L183.6 2022.9L192.2 2067.5L200.8 2023.5L209.4 2033.5L218.1 1983.1L226.7 2016.8L235.3 2079.5L244 2055.3L252.6 1959.2L261.2 1975.7L269.8 2012.3L278.5 2007.1L287.1 1961.5L295.7 1939.5L304.3 1937.4L313 1892.5L321.6 1894.8L330.2 1916.7L338.9 1904.5L347.5 1862.2L356.1 1862.1L364.7 1857.7L373.4 1920L382 1915.5L390.6 1882.7L399.3 1897.9L407.9 1858.4L416.5 1853L425.1 1837.8L433.8 1863.9L442.4 1784.9L451 1788.3L459.7 1833.4L468.3 1841.1L476.9 1762L485.5 1817.3L494.2 1800.6L502.8 1786.9L511.4 1809L520 1853.1L528.7 1826.7L537.3 1806.3L545.9 1769.5L554.6 1761L563.2 1778.2L571.8 1756.5L580.4 1753.7L589.1 1760L597.7 1764.6L606.3 1775.3L615 1748.7L623.6 1790.3L632.2 1793.6L640.8 1773L649.5 1808.8L658.1 1790.2L666.7 1830.2L675.4 1804L684 1750.5L692.6 1727.3L701.2 1736.3L709.9 1745.7L718.5 1787.3L727.1 1702.2L735.7 1705.4L744.4 1688L753 1742.8L761.6 1744.9L770.3 1797.5L778.9 1739.3L787.5 1708.6L796.1 1785.4L804.8 1761.5L813.4 1729.4L822 1791.5L830.7 1821.9L839.3 1811.7L847.9 1793.6L856.5 1810.5L865.2 1773.4L873.8 1750.5L882.4 1728.7L891.1 1717.4L899.7 1687.6L908.3 1685.7L916.9 1764.5L925.6 1775L934.2 1798.2L942.8 1809.8L951.4 1784.4L960.1 1771.2L968.7 1750.7L977.3 1808.6L986 1824.4L994.6 1793.8L1003.2 1786.5L1011.8 1787.8L1020.5 1781.3L1029.1 1801.6L1037.7 1765.4L1046.4 1761.3L1055 1774.6L1063.6 1800.3L1072.2 1797.2L1080.9 1878.1L1089.5 1860.1L1098.1 1820.6L1106.8 1853.1L1115.4 1814.6L1124 1800L1132.6 1843.1L1141.3 1827.8L1149.9 1824L1158.5 1798.7L1167.1 1783.6L1175.8 1798.6L1184.4 1832.4L1193 1826.2L1201.7 1822M123.2 1981.4L131.8 1981.5L140.4 2012.2L149 2044.3L157.7 2025.6L166.3 2027.1L174.9 2037.8L183.6 2009L192.2 2006.2L200.8 1984.1L209.4 1958.9L218.1 1975.7L226.7 1894.1L235.3 1939.9L244 1913.3L252.6 1930.8L261.2 1903.9L269.8 2000.7L278.5 1990L287.1 1951L295.7 1919.6L304.3 1847.7L313 1877.2L321.6 1857.4L330.2 1862.5L338.9 1856.5L347.5 1864.4L356.1 1886.3L364.7 1871.9L373.4 1913.1L382 1856.7L390.6 1898.5L399.3 1873.9L407.9 1800.3L416.5 1838.9L425.1 1845.6L433.8 1809.3L442.4 1826.2L451 1857.4L459.7 1834.6L468.3 1811L476.9 1793.4L485.5 1829.8L494.2 1762.7L502.8 1732.3L511.4 1768.2L520 1772.9L528.7 1794L537.3 1741.6L545.9 1782.3L554.6 1753.4L563.2 1773.9L571.8 1786.7L580.4 1744.2L589.1 1702.3L597.7 1723L606.3 1752.7L615 1716.6L623.6 1725.8L632.2 1716.6L640.8 1671.8L649.5 1662.1L658.1 1708.5L666.7 1638L675.4 1677L684 1667.7L692.6 1710L701.2 1709.5L709.9 1763.2L718.5 1674.3L727.1 1647.3L735.7 1717L744.4 1757.2L753 1778.6L761.6 1698.7L770.3 1714.5L778.9 1709.9L787.5 1716.3L796.1 1713.4L804.8 1743.3L813.4 1721.8L822 1759L830.7 1732.6L839.3 1709L847.9 1693.8L856.5 1709.6L865.2 1739.2L873.8 1719.4L882.4 1731.8L891.1 1672.9L899.7 1672.5L908.3 1701.3L916.9 1726.4L925.6 1745.9L934.2 1762.9L942.8 1752.7L951.4 1728.6L960.1 1711.7L968.7 1703.4L977.3 1651.9L986 1719L994.6 1727.4L1003.2 1643.4L1011.8 1755.2L1020.5 1763.6L1029.1 1746.4L1037.7 1740.4L1046.4 1730.8L1055 1748.3L1063.6 1738.1L1072.2 1744.6L1080.9 1725.9L1089.5 1803.5L1098.1 1807.5L1106.8 1782.3L1115.4 1805L1124 1816.8L1132.6 1770L1141.3 1790.8L1149.9 1760.4L1158.5 1744.4L1167.1 1752.3L1175.8 1750.7L1184.4 1770.6L1193 1822.4L1201.7 1802.9M123.2 1978.4L131.8 1999.7L140.4 1993.6L149 1961.9L157.7 1997.6L166.3 1963.3L174.9 1907L183.6 1956.7L192.2 1954.8L200.8 1961.5L209.4 1908.7L218.1 1922L226.7 1907.5L235.3 1949.7L244 1945.2L252.6 1941.1L261.2 1992.4L269.8 1910.3L278.5 1888.1L287.1 1959.9L295.7 1910.1L304.3 1913.1L313 1893.3L321.6 1884.4L330.2 1937.3L338.9 1917.5L347.5 1850.7L356.1 1883.4L364.7 1909.3L373.4 1928.6L382 1929.7L390.6 1877.5L399.3 1807.6L407.9 1813.4L416.5 1818.7L425.1 1754.6L433.8 1810.4L442.4 1837.3L451 1808L459.7 1791L468.3 1830.1L476.9 1849.5L485.5 1808.6L494.2 1788.5L502.8 1825.8L511.4 1804.3L520 1801.8L528.7 1765.3L537.3 1763.8L545.9 1758.7L554.6 1761.6L563.2 1714.6L571.8 1679.2L580.4 1715.9L589.1 1690.4L597.7 1726.5L606.3 1715.4L615 1686.7L623.6 1647.4L632.2 1688.1L640.8 1694.4L649.5 1686.6L658.1 1735L666.7 1706.5L675.4 1713.6L684 1681.4L692.6 1715.7L701.2 1757.7L709.9 1711.9L718.5 1683.8L727.1 1696.6L735.7 1656.1L744.4 1674.5L753 1692.9L761.6 1666.3L770.3 1719.1L778.9 1715.6L787.5 1693.5L796.1 1656.2L804.8 1672.1L813.4 1664.7L822 1692.5L830.7 1674.9L839.3 1624L847.9 1676.4L856.5 1603.1L865.2 1667.2L873.8 1675.8L882.4 1675.5L891.1 1649.1L899.7 1710.2L908.3 1766L916.9 1705.6L925.6 1673.3L934.2 1665L942.8 1598.2L951.4 1646.6L960.1 1667.9L968.7 1657L977.3 1671L986 1637L994.6 1715.3L1003.2 1724L1011.8 1826.9L1020.5 1738.5L1029.1 1737.5L1037.7 1697.1L1046.4 1641L1055 1685.9L1063.6 1715.2L1072.2 1737.5L1080.9 1759.5L1089.5 1764.1L1098.1 1726.9L1106.8 1730.6L1115.4 1732.6L1124 1742.4L1132.6 1713.4L1141.3 1714.9L1149.9 1737.2L1158.5 1722.7L1167.1 1743.5L1175.8 1786L1184.4 1723.2L1193 1727.8L1201.7 1776.4M123.2 2092.3L131.8 2085.5L140.4 2136.2L149 2051.3L157.7 2047.6L166.3 2022.3L174.9 2027.7L183.6 2036L192.2 2079.6L200.8 2014.3L209.4 2010.6L218.1 2014.9L226.7 1992.6L235.3 1987.5L244 1962.6L252.6 1981.3L261.2 1974.4L269.8 2034.4L278.5 2003L287.1 1950L295.7 1901.5L304.3 1930.4L313 1932.1L321.6 1875.2L330.2 1907L338.9 1884.3L347.5 1839.7L356.1 1868.1L364.7 1839.3L373.4 1884.4L382 1871.7L390.6 1871.5L399.3 1861.6L407.9 1821.3L416.5 1759.4L425.1 1825.3L433.8 1848.6L442.4 1821.4L451 1855.1L459.7 1817.3L468.3 1794.5L476.9 1807.8L485.5 1784.6L494.2 1837L502.8 1783.5L511.4 1829.5L520 1819.1L528.7 1806.2L537.3 1791.7L545.9 1741.2L554.6 1739.6L563.2 1750.4L571.8 1721.5L580.4 1671.7L589.1 1695.7L597.7 1691.4L606.3 1660.5L615 1675.3L623.6 1729.2L632.2 1630.8L640.8 1593.3L649.5 1707.8L658.1 1695.1L666.7 1672.6L675.4 1642.7L684 1636.4L692.6 1664.6L701.2 1701.8L709.9 1681.2L718.5 1641.8L727.1 1691.3L735.7 1711.1L744.4 1687.6L753 1737.6L761.6 1706.1L770.3 1697.2L778.9 1666L787.5 1689.2L796.1 1705.8L804.8 1698.2L813.4 1684.2L822 1698L830.7 1683L839.3 1653.2L847.9 1626.4L856.5 1598.2L865.2 1666.1L873.8 1686L882.4 1761.6L891.1 1656.8L899.7 1694.2L908.3 1689.9L916.9 1671.1L925.6 1723.5L934.2 1689.9L942.8 1691.3L951.4 1750.6L960.1 1710.9L968.7 1665.4L977.3 1743.7L986 1694.7L994.6 1692.9L1003.2 1684.7L1011.8 1683.2L1020.5 1656.2L1029.1 1693.8L1037.7 1677.3L1046.4 1712.2L1055 1692.9L1063.6 1734.7L1072.2 1732.4L1080.9 1674.1L1089.5 1690.2L1098.1 1718L1106.8 1763.3L1115.4 1773.7L1124 1748.4L1132.6 1714.6L1141.3 1717.1L1149.9 1716.4L1158.5 1735.5L1167.1 1701L1175.8 1742.4L1184.4 1767.4L1193 1734.2L1201.7 1746.9M123.2 2006.3L131.8 2015.8L140.4 2007.7L149 1973.8L157.7 1964.9L166.3 2008.6L174.9 1973.9L183.6 1963.9L192.2 1994.8L200.8 1950L209.4 1961.3L218.1 1965.9L226.7 1929.7L235.3 1894.5L244 1940.5L252.6 1923L261.2 1953.5L269.8 1862.6L278.5 1908.3L287.1 1872L295.7 1911.5L304.3 1879.8L313 1817.8L321.6 1938.6L330.2 1922.9L338.9 1883.1L347.5 1880.1L356.1 1893.5L364.7 1806.1L373.4 1829.4L382 1891.2L390.6 1835.9L399.3 1889.5L407.9 1818.6L416.5 1838.2L425.1 1820.5L433.8 1773.4L442.4 1785.1L451 1835L459.7 1863.6L468.3 1781.2L476.9 1754.6L485.5 1788.8L494.2 1747.2L502.8 1736.5L511.4 1723.4L520 1805.9L528.7 1776.8L537.3 1721.5L545.9 1698L554.6 1678.9L563.2 1772.8L571.8 1727.4L580.4 1692.8L589.1 1607.7L597.7 1677.3L606.3 1687.6L615 1678.2L623.6 1644.5L632.2 1669.4L640.8 1627.5L649.5 1668L658.1 1650.3L666.7 1665.2L675.4 1647.8L684 1664.6L692.6 1702.2L701.2 1632.8L709.9 1626.3L718.5 1650.4L727.1 1636.6L735.7 1604.7L744.4 1652.6L753 1646.1L761.6 1621.9L770.3 1611L778.9 1634.8L787.5 1702.5L796.1 1626.6L804.8 1622.1L813.4 1630.6L822 1644.2L830.7 1633.5L839.3 1651.1L847.9 1678.6L856.5 1682.4L865.2 1680.8L873.8 1681.6L882.4 1700.3L891.1 1652.4L899.7 1693.8L908.3 1650.7L916.9 1685.5L925.6 1658.6L934.2 1614.8L942.8 1633.4L951.4 1672.9L960.1 1667L968.7 1662.4L977.3 1721.5L986 1713.3L994.6 1686.3L1003.2 1695.4L1011.8 1683.2L1020.5 1658.1L1029.1 1646.9L1037.7 1639L1046.4 1647L1055 1680L1063.6 1687.6L1072.2 1700.5L1080.9 1709.1L1089.5 1710.1L1098.1 1761.2L1106.8 1741.3L1115.4 1723.9L1124 1747.7L1132.6 1729.6L1141.3 1705.7L1149.9 1718L1158.5 1653.5L1167.1 1775.2L1175.8 1754.8L1184.4 1798.7L1193 1730.4L1201.7 1647.8M123.2 2061.2L131.8 2010L140.4 1972.7L149 1980.3L157.7 1954.8L166.3 2030.6L174.9 1964.2L183.6 1947.9L192.2 1949.9L200.8 1968.5L209.4 1936L218.1 1955.4L226.7 1939.8L235.3 1954.3L244 2014.5L252.6 1969.1L261.2 1938.4L269.8 1904.6L278.5 1939L287.1 1925.2L295.7 1895.9L304.3 1895.3L313 1857.7L321.6 1814.5L330.2 1885.2L338.9 1946.8L347.5 1882.8L356.1 1829.7L364.7 1822.3L373.4 1819.5L382 1861.1L390.6 1880L399.3 1834.5L407.9 1868.6L416.5 1909.8L425.1 1899.5L433.8 1780.8L442.4 1742.6L451 1805.7L459.7 1832.7L468.3 1811.3L476.9 1830.1L485.5 1770L494.2 1784.4L502.8 1820.1L511.4 1757L520 1785.5L528.7 1769.6L537.3 1766.7L545.9 1771.9L554.6 1750.7L563.2 1770.4L571.8 1812.9L580.4 1840.4L589.1 1819.7L597.7 1791L606.3 1753.8L615 1732.6L623.6 1705.2L632.2 1704.9L640.8 1731.9L649.5 1739.5L658.1 1785.9L666.7 1742.8L675.4 1700.6L684 1678.3L692.6 1689.9L701.2 1696.4L709.9 1663.5L718.5 1677.7L727.1 1660.7L735.7 1657.6L744.4 1667.6L753 1636.9L761.6 1682.6L770.3 1695.9L778.9 1717.3L787.5 1726.9L796.1 1656.6L804.8 1618.9L813.4 1657.6L822 1658.1L830.7 1639.3L839.3 1643L847.9 1632.3L856.5 1706.6L865.2 1721.2L873.8 1693.7L882.4 1650.8L891.1 1674.7L899.7 1716.9L908.3 1720.6L916.9 1732.7L925.6 1745.3L934.2 1676.5L942.8 1714.1L951.4 1711.5L960.1 1643L968.7 1644.3L977.3 1672.9L986 1717L994.6 1705.2L1003.2 1662.2L1011.8 1675.6L1020.5 1662.3L1029.1 1694.3L1037.7 1696.7L1046.4 1721.8L1055 1714.2L1063.6 1684.1L1072.2 1758.7L1080.9 1749.9L1089.5 1737.4L1098.1 1758.7L1106.8 1761.1L1115.4 1728.4L1124 1676.2L1132.6 1697.5L1141.3 1717.9L1149.9 1788.1L1158.5 1709.9L1167.1 1734.9L1175.8 1750.8L1184.4 1793.7L1193 1780.3L1201.7 1808.5M123.2 1977.5L131.8 1958.7L140.4 1961.2L149 1951.5L157.7 1980.3L166.3 1917.7L174.9 1953L183.6 2003.2L192.2 1970.9L200.8 1971.9L209.4 1977.3L218.1 1955.9L226.7 1922.9L235.3 1952L244 1929L252.6 1865.9L261.2 1856.6L269.8 1875.1L278.5 1870.7L287.1 1872.7L295.7 1867.5L304.3 1836.4L313 1844.9L321.6 1918.5L330.2 1871.8L338.9 1874.6L347.5 1821.5L356.1 1833.2L364.7 1809.7L373.4 1729.8L382 1792L390.6 1817.8L399.3 1833.9L407.9 1867.9L416.5 1862.1L425.1 1783.4L433.8 1775.3L442.4 1806.2L451 1803.2L459.7 1730.3L468.3 1737.3L476.9 1722.7L485.5 1689.4L494.2 1637L502.8 1590.2L511.4 1593.4L520 1617.8L528.7 1622.3L537.3 1567.7L545.9 1550L554.6 1592.3L563.2 1581.8L571.8 1577.4L580.4 1577.8L589.1 1590.5L597.7 1617.5L606.3 1602.9L615 1625.5L623.6 1544.3L632.2 1526.6L640.8 1571.1L649.5 1505.1L658.1 1488.4L666.7 1567L675.4 1479.8L684 1470.4L692.6 1427.5L701.2 1512.7L709.9 1494.2L718.5 1488.7L727.1 1492.7L735.7 1494.8L744.4 1467.1L753 1535.2L761.6 1557.1L770.3 1571.3L778.9 1552.6L787.5 1546.3L796.1 1513.1L804.8 1502L813.4 1505.1L822 1529.7L830.7 1533.9L839.3 1491.9L847.9 1479.7L856.5 1495.9L865.2 1518.5L873.8 1470.1L882.4 1518L891.1 1501.1L899.7 1478.7L908.3 1515.1L916.9 1497.9L925.6 1553.3L934.2 1511.6L942.8 1520L951.4 1582.5L960.1 1540.3L968.7 1572.6L977.3 1519.4L986 1559.5L994.6 1562.7L1003.2 1551.4L1011.8 1567.4L1020.5 1557.4L1029.1 1580.3L1037.7 1553.6L1046.4 1564.7L1055 1565L1063.6 1661.5L1072.2 1582L1080.9 1584.1L1089.5 1644.7L1098.1 1613.9L1106.8 1590.1L1115.4 1562L1124 1619.9L1132.6 1563.9L1141.3 1595L1149.9 1529.4L1158.5 1582.7L1167.1 1582.3L1175.8 1617.2L1184.4 1658.7L1193 1608.7L1201.7 1594.1M123.2 1919.2L131.8 1913.4L140.4 1953.3L149 2002.9L157.7 1990L166.3 1981.9L174.9 1979.7L183.6 1931.1L192.2 1914.3L200.8 1922.8L209.4 1909.4L218.1 1910.5L226.7 1896.6L235.3 1870.1L244 1848.5L252.6 1888.2L261.2 1927.3L269.8 1847.3L278.5 1849.1L287.1 1814.2L295.7 1882.1L304.3 1866.7L313 1844.4L321.6 1877L330.2 1858.2L338.9 1806.1L347.5 1765.8L356.1 1726.4L364.7 1782.1L373.4 1819.4L382 1770.1L390.6 1729.6L399.3 1730.3L407.9 1773.4L416.5 1721.5L425.1 1692.9L433.8 1682.8L442.4 1706.6L451 1687.1L459.7 1658L468.3 1683L476.9 1730.4L485.5 1677.5L494.2 1644L502.8 1639L511.4 1603.9L520 1629.4L528.7 1619.4L537.3 1616.7L545.9 1582.1L554.6 1528.6L563.2 1558L571.8 1492.3L580.4 1474.2L589.1 1484.2L597.7 1489.8L606.3 1453.1L615 1495.5L623.6 1509.1L632.2 1542.3L640.8 1505.1L649.5 1457.2L658.1 1458.4L666.7 1459.1L675.4 1476.1L684 1468.6L692.6 1517.6L701.2 1460.1L709.9 1480.1L718.5 1510.6L727.1 1512.4L735.7 1514.9L744.4 1461.8L753 1430.8L761.6 1493.2L770.3 1447.9L778.9 1430.4L787.5 1469.9L796.1 1517.3L804.8 1515.7L813.4 1512L822 1479.9L830.7 1488.4L839.3 1546.1L847.9 1500.7L856.5 1537.2L865.2 1477.7L873.8 1519.6L882.4 1523.4L891.1 1531.5L899.7 1526.5L908.3 1466.9L916.9 1455.6L925.6 1459.8L934.2 1472L942.8 1538.3L951.4 1537.3L960.1 1539.4L968.7 1555.6L977.3 1517.1L986 1541.3L994.6 1552.8L1003.2 1570.3L1011.8 1612L1020.5 1547.9L1029.1 1497.2L1037.7 1513.5L1046.4 1559.5L1055 1637.2L1063.6 1582.4L1072.2 1526.4L1080.9 1532.5L1089.5 1517.1L1098.1 1494.6L1106.8 1497.6L1115.4 1550.9L1124 1529.2L1132.6 1530.2L1141.3 1606.3L1149.9 1606.5L1158.5 1640.9L1167.1 1616.5L1175.8 1585.5L1184.4 1626L1193 1677.7L1201.7 1596M123.2 1941.5L131.8 1896.1L140.4 1962L149 1912.9L157.7 1855.8L166.3 1829.4L174.9 1885.4L183.6 1892.6L192.2 1906.5L200.8 1873.3L209.4 1854.3L218.1 1873.3L226.7 1925.1L235.3 1878.8L244 1893.7L252.6 1862.6L261.2 1855.8L269.8 1805.7L278.5 1794.9L287.1 1837L295.7 1826.7L304.3 1773.2L313 1818.8L321.6 1804.7L330.2 1770.4L338.9 1749.2L347.5 1758.1L356.1 1816.3L364.7 1836.1L373.4 1792.5L382 1763.9L390.6 1677.8L399.3 1743.2L407.9 1704.5L416.5 1694.3L425.1 1763.1L433.8 1762.4L442.4 1726.2L451 1726.5L459.7 1711.4L468.3 1680.2L476.9 1702.5L485.5 1667.4L494.2 1682.3L502.8 1681.6L511.4 1642.4L520 1654.9L528.7 1628.1L537.3 1569.4L545.9 1588.1L554.6 1597.2L563.2 1568.3L571.8 1585.4L580.4 1542.1L589.1 1593.1L597.7 1550.5L606.3 1566L615 1579.1L623.6 1500.2L632.2 1545.2L640.8 1479.4L649.5 1481.8L658.1 1454.6L666.7 1516.9L675.4 1472.5L684 1441.4L692.6 1478.9L701.2 1495.6L709.9 1420.1L718.5 1458.1L727.1 1493.8L735.7 1515.9L744.4 1490.9L753 1482.8L761.6 1483.4L770.3 1433.8L778.9 1478.4L787.5 1473.6L796.1 1440.5L804.8 1504.8L813.4 1469.2L822 1428.5L830.7 1512.3L839.3 1542.5L847.9 1554.7L856.5 1586.6L865.2 1529.3L873.8 1578.3L882.4 1526.5L891.1 1474L899.7 1549.3L908.3 1543L916.9 1592.4L925.6 1529.9L934.2 1551.2L942.8 1547L951.4 1536.7L960.1 1517.8L968.7 1539.3L977.3 1538.9L986 1558.1L994.6 1547.1L1003.2 1584.7L1011.8 1563.7L1020.5 1619.4L1029.1 1600L1037.7 1516.6L1046.4 1539.3L1055 1594.1L1063.6 1572.1L1072.2 1603.2L1080.9 1640.6L1089.5 1630.1L1098.1 1580.2L1106.8 1570.7L1115.4 1583.6L1124 1617.6L1132.6 1639.6L1141.3 1573.8L1149.9 1581.2L1158.5 1624.5L1167.1 1682.7L1175.8 1687.1L1184.4 1568.2L1193 1632.1L1201.7 1628.4" stroke="#9fc2dc" stroke-width=".9" stroke-opacity=".5"/>
<path d="M123.2 1959.1L131.8 1920.8L140.4 1922.8L149 1936.9L157.7 1916.8L166.3 1877.3L174.9 1902.7L183.6 1971.2L192.2 2010.2L200.8 1969.1L209.4 1994.1L218.1 1918.8L226.7 1854.4L235.3 1800L244 1762.5L252.6 1868.5L261.2 1896.7L269.8 1920.8L278.5 1902.7L287.1 1890.6L295.7 1834.2L304.3 1812.1L313 1828.2L321.6 1856.4L330.2 1832.2L338.9 1809.3L347.5 1834.2L356.1 1856.4L364.7 1836.2L373.4 1818.1L382 1757.7L390.6 1753.7L399.3 1806L407.9 1800L416.5 1691.3L425.1 1679.2L433.8 1775.8L442.4 1713.4L451 1721.5L459.7 1751.7L468.3 1755.7L476.9 1675.2L485.5 1627.6L494.2 1706.2L502.8 1665.9L511.4 1644.1L520 1678.3L528.7 1687.4L537.3 1693.9L545.9 1647.3L554.6 1606.2L563.2 1612.7L571.8 1678.7L580.4 1611.6L589.1 1583.5L597.7 1610.5L606.3 1577L615 1619.2L623.6 1591L632.2 1567.2L640.8 1562.9L649.5 1546.7L658.1 1463.3L666.7 1512L675.4 1521.8L684 1521.8L692.6 1543.4L701.2 1545.6L709.9 1561.8L718.5 1577L727.1 1555.3L735.7 1503.4L744.4 1505.5L753 1469.8L761.6 1539.1L770.3 1544.5L778.9 1544.5L787.5 1564L796.1 1482.8L804.8 1547.7L813.4 1541.3L822 1533.7L830.7 1502.3L839.3 1526.1L847.9 1529.4L856.5 1511L865.2 1564L873.8 1552.1L882.4 1549.9L891.1 1585.6L899.7 1611.2L908.3 1564L916.9 1507.7L925.6 1562.9L934.2 1567.2L942.8 1558.6L951.4 1539.1L960.1 1566.1L968.7 1581.3L977.3 1565.1L986 1586.7L994.6 1546.7L1003.2 1582.4L1011.8 1615.9L1020.5 1609.9L1029.1 1619.2L1037.7 1598.6L1046.4 1587.8L1055 1538L1063.6 1542.3L1072.2 1605.1L1080.9 1635.4L1089.5 1581.3L1098.1 1564.4L1106.8 1618.1L1115.4 1653.8L1124 1623.5L1132.6 1651.6L1141.3 1609.9L1149.9 1618.1L1158.5 1653.8L1167.1 1661.4L1175.8 1665.7L1184.4 1648.4L1193 1633.7L1201.7 1656" stroke="#3CA0C8" stroke-width="5.2"/>
<path d="M123.2 1985.2L131.8 2009.4L140.4 1924.8L149 1957.1L157.7 1938.9L166.3 1906.7L174.9 1894.6L183.6 1949L192.2 1902.7L200.8 1946.2L209.4 1947L218.1 1934.9L226.7 1898.7L235.3 1886.6L244 1916.8L252.6 1867.3L261.2 1870.5L269.8 1923.6L278.5 1909.9L287.1 1896.7L295.7 1855.6L304.3 1884.6L313 1846.3L321.6 1810.1L330.2 1872.5L338.9 1872.5L347.5 1838.3L356.1 1814.1L364.7 1818.1L373.4 1840.3L382 1798L390.6 1810.1L399.3 1806.8L407.9 1842.3L416.5 1806L425.1 1789.1L433.8 1817.3L442.4 1812.1L451 1806L459.7 1787.9L468.3 1749.7L476.9 1715.4L485.5 1739.6L494.2 1760.5L502.8 1727.5L511.4 1719.5L520 1758.5L528.7 1746.4L537.3 1671.1" stroke="#141414" stroke-width="6.5" stroke-linejoin="miter"/>
</g>
<rect x="125.5" y="1463.3" width="1077" height="90.9" fill="#EE92C3" fill-opacity=".35"/>
<path d="M132.8 1512.4H1202.5" stroke="#DE1984" stroke-width="4.7" stroke-dasharray="4.6 8.4" fill="none"/>
<circle cx="658.1" cy="1463.4" r="11" fill="none" stroke="#DE1984" stroke-width="4.4"/>
<path d="M123.7 1367.2V2171.3H1203.4" stroke="#141414" stroke-width="3.6" fill="none"/>
<path d="M121.9 2067h-8M121.9 1939.5h-8M121.9 1812h-8M121.9 1684.5h-8M121.9 1557h-8M121.9 1429.5h-8M166.3 2173.1v8M338.9 2173.1v8M511.4 2173.1v8M684 2173.1v8M856.5 2173.1v8M1029.1 2173.1v8M1201.7 2173.1v8" stroke="#878787" stroke-width="3" fill="none"/>
<g font-size="26" fill="#878787"><text x="102.4" y="2076.5" text-anchor="end">0.0</text><text x="102.4" y="1949" text-anchor="end">0.5</text><text x="102.4" y="1821.5" text-anchor="end">1.0</text><text x="102.4" y="1694" text-anchor="end">1.5</text><text x="102.4" y="1566.5" text-anchor="end">2.0</text><text x="102.4" y="1439" text-anchor="end">2.5</text><text x="166.3" y="2210.9" text-anchor="middle">1980</text><text x="338.9" y="2210.9" text-anchor="middle">2000</text><text x="511.4" y="2210.9" text-anchor="middle">2020</text><text x="684" y="2210.9" text-anchor="middle">2040</text><text x="856.5" y="2210.9" text-anchor="middle">2060</text><text x="1029.1" y="2210.9" text-anchor="middle">2080</text><text x="1201.7" y="2210.9" text-anchor="middle">2100</text></g>
<text transform="translate(34.6 2094.5) rotate(-90)" font-size="38.6" fill="#878787" textLength="674" lengthAdjust="spacingAndGlyphs">global mean temperature anomaly (˚C)</text>
<path d="M542.6 1892.1H590.9" stroke="#141414" stroke-width="7.5"/>
<path d="M543.5 1947.4H589.5" stroke="#A9CBDF" stroke-width="4"/>
<path d="M541.5 2022.2H592" stroke="#3CA0C8" stroke-width="9.5"/>
<path d="M545.5 2116.1H590" stroke="#DE1984" stroke-width="4.6" stroke-dasharray="4.6 8.1"/>
<g font-size="32.7">
<text x="613.5" y="1905.7" fill="#141414">BEST</text>
<text x="613.5" y="1956" fill="#3FA0C5">SSP1-1.9 realizations</text>
<text x="613.5" y="2012.9" fill="#3FA0C5" font-weight="bold" textLength="575.5" lengthAdjust="spacingAndGlyphs">SSP1-1.9 realization with max annual</text>
<text x="613.5" y="2053.4" fill="#3FA0C5" font-weight="bold" textLength="598.8" lengthAdjust="spacingAndGlyphs">temperature closest to CNN prediction</text>
<text x="613.5" y="2107.9" fill="#DE1984">max temperature prediction for BEST</text>
<text x="613.5" y="2146.9" fill="#DE1984">with 66% uncertainty bounds</text>
</g>
<defs><g id="coast" fill="none" stroke="#111" stroke-linejoin="round" stroke-linecap="round"><path d="M-241.2 -155.7L-233.2 -157.1L-232.2 -159.8L-219.9 -162.6L-211.5 -164L-204.4 -162.9L-194 -161.7L-186.9 -160.8L-175.3 -162.2L-170.8 -161.5L-162 -160.8L-159.5 -159.4L-151.1 -159.4L-142.7 -159.4L-135.1 -158.7L-126.8 -164.2L-126.7 -161.5L-123.1 -159.4L-117.1 -161.5L-113.5 -160.8L-115.3 -157.9L-122.5 -156.8L-127 -153.1L-136.4 -150.6L-143.7 -146.2L-144.8 -143.8L-144.8 -140.6L-138.4 -139.7L-135.2 -137.3L-131.3 -136.8L-133.1 -132.7L-132.6 -129.2L-129.9 -129.7L-126.6 -135.8L-120.3 -139.7L-120.1 -143.8L-117.3 -147.1L-115.8 -150.5L-110 -150.3L-105.4 -148L-107 -144L-101.6 -144L-97.8 -146.8L-96.2 -142.5L-95.3 -137.7L-92.1 -133.8L-91.4 -130.7L-99.7 -127.1L-110.6 -126.9L-117.8 -121.8L-108.9 -124.2L-110 -120L-105.8 -117.4L-102.8 -118.5L-105.3 -116.3L-114.4 -112.4L-114.2 -115.6L-116.2 -114.9L-122.4 -112.2L-123.9 -108L-132 -105.3L-136.7 -99.3L-140 -92.1L-144.4 -89.6L-151.9 -83.4L-153 -72L-154.7 -67.4L-157.1 -69.5L-157.7 -74.6L-158.6 -79.7L-162.2 -80.4L-167.9 -80.2L-169.6 -77.6L-173.2 -78.4L-177.8 -78.7L-184.8 -74.6L-188 -66.9L-190.3 -59.9L-188.7 -51.2L-186.2 -49.1L-181.1 -50.2L-176.9 -56.5L-169.8 -57.8L-172.3 -49.9L-175.9 -43.3L-170.5 -42.7L-165.4 -40.6L-167.5 -29.8L-164.6 -24.4L-159.4 -25.8L-155.6 -23.6L-151.1 -29.3L-142.7 -33.6L-143.1 -29.3L-136 -30.4L-128.2 -28.5L-124.1 -28.8L-120.5 -23.1L-114.8 -16.3L-104.8 -13.6L-100.9 -2.7L-96.9 2.7L-88.8 6.8L-80.7 8.2L-74.6 13.6L-70.4 19L-69.9 21.7L-74 29.8L-77.7 36.6L-77 47.2L-79.9 59.1L-86.3 62.2L-93.1 69.5L-92.6 75.9L-97 85.9L-99.7 90.9L-105.3 90.9L-108.1 89.6L-104.1 95.7L-104.7 100.5L-111.6 101.7L-111.1 106.4L-115.6 106.4L-112.1 109.9L-113.3 115.6L-115.9 117.8L-111.8 121.1L-114.4 127.6L-111.7 131.7L-104.7 136.4L-108 137.7L-116.4 133.8L-122 130.7L-127.2 123.3L-128 115.6L-128.9 108.7L-132.7 101.7L-133 96.9L-133.1 87.2L-135.6 77.1L-135.9 66.9L-137.6 53.9L-138.9 49.4L-142.3 45.9L-151.2 37.9L-154.9 31.2L-159.8 20.4L-163.8 13.6L-161.4 8.2L-163.1 2.7L-161.5 -1.4L-159 -4.1L-156.3 -10.9L-155.9 -19L-157.6 -23.1L-159.6 -23.9L-161.9 -19.8L-165.7 -22.3L-167.8 -23.6L-171.3 -27.1L-171.9 -31.2L-174.5 -35.2L-176.4 -35.8L-182.1 -37.9L-186.2 -43.3L-190.3 -42.5L-195.8 -45.1L-201.1 -48.6L-206.1 -52.5L-205.9 -57.8L-206.4 -63L-209.7 -68.2L-210.9 -73.3L-212.9 -78.4L-215.1 -83.4L-216.2 -79.7L-214.7 -73.3L-213.4 -65.6L-213 -61.7L-215.9 -66.9L-217.6 -73.3L-218.6 -78.4L-218.3 -85.9L-219.4 -89.6L-222.6 -90.9L-222.5 -96.5L-222.4 -99.3L-221.8 -104.8L-217.6 -111L-213 -117.8L-210.3 -122.9L-206.9 -123.3L-206.5 -124.4L-208.1 -126.5L-209.7 -129.7L-208.3 -135.8L-207.6 -139.7L-206.8 -143.5L-211 -143.8L-213.3 -145.9L-219 -146.2L-224 -147.1L-232 -145L-228.9 -148L-237.7 -143.5L-248.5 -139.7L-258.4 -136.8L-264.4 -135.8L-252.2 -139.3L-242.6 -143.8L-249.5 -143.8L-249.2 -147.5L-247.4 -149.8L-236.3 -152.3L-233.8 -154L-239.6 -154ZM-100.6 -121.6L-95.5 -119.8L-90.6 -119.4L-89.4 -121.3L-90.1 -123.5L-92.5 -126.3L-92.1 -129.7L-95.4 -127.6ZM-212.2 -128.2L-208.3 -126.9L-208.1 -123.1L-210.3 -123.7ZM-105.5 -166.9L-101.1 -165.9L-96 -163.8L-92.8 -160.8L-87.9 -157.6L-92.5 -154.8L-97.4 -151.5L-102.6 -150.1L-105.7 -152.3L-113.3 -154L-104.3 -156.4L-102.2 -159.4L-106.9 -162.2L-116.4 -162.2L-120.6 -163.6L-117.6 -166.7ZM-160.6 -160.8L-152.8 -160.4L-141.2 -160.8L-137.5 -164.2L-139.4 -166.1L-146.5 -165.7L-150.9 -166.5L-160.5 -164.2L-160.3 -162.2ZM-167.7 -164.9L-165 -163.8L-158.5 -165.3L-153.7 -166.4L-154 -167.6L-158.3 -167.9L-163.6 -167.3ZM-115.5 -170L-102.8 -169.8L-97.5 -171.4L-91.7 -172.3L-80.4 -173.8L-75.9 -174.8L-91.6 -175.1L-107.9 -174.7L-113.8 -173.8L-107.5 -172.7ZM-118.1 -170L-103.6 -169L-104.4 -168.1L-120 -168.2ZM-149.3 -169.7L-139.2 -169.5L-138 -168.4L-146.5 -167.9L-151.8 -168.7ZM-131.4 -167.3L-123.6 -167.3L-124.1 -165.5L-130.8 -164.2L-136.1 -165.5ZM-125 -155.6L-120.3 -156L-117.5 -153.1L-122.7 -151.1L-126.7 -152.6ZM-119.1 -173.5L-112.1 -173.1L-109.7 -171.9L-118.7 -171.7ZM-91.2 -171.4L-87.7 -169.5L-77.4 -169.5L-74.4 -166.1L-74 -162.2L-72.8 -159.4L-76.5 -156.4L-74.1 -150.6L-72.3 -148L-67 -146L-63.3 -149.8L-57.8 -154.8L-49.9 -156.8L-43.4 -159.4L-34.6 -160.8L-30 -162.9L-30.7 -165.5L-26 -168.4L-22.9 -171L-23.7 -173.1L-14.8 -174.2L-26.9 -174.8L-38.9 -175.4L-55 -174.9L-71.1 -174.7L-81.7 -173.7L-83.8 -172.7ZM-35.2 -155.6L-31.3 -157L-25.7 -156.7L-20.7 -156.7L-19.5 -154.8L-23.4 -153.1L-27.9 -152.1L-32.9 -152.8L-31.8 -154.5ZM-165.6 -59.1L-159.1 -62.2L-153.5 -61.2L-147.6 -56L-145.4 -54.4L-152 -53.6L-152.2 -57.8L-157.8 -59.1L-163.7 -58.6ZM-146.7 -49.6L-143.1 -53.6L-137.3 -53.3L-134.6 -50.2L-138.9 -49.1L-141.9 -48.8ZM-154.2 -49.6L-150.3 -49.1L-151.9 -48ZM-132.3 -49.9L-129.4 -49.6L-130.1 -48.3L-132.5 -48.6ZM-16.4 -96.9L-16.9 -101.2L-15.6 -106.4L-16.1 -111L-13.1 -112.6L-6.1 -112L-2.8 -112L-2.1 -117.8L-4.8 -121.1L-7.9 -122.9L-2.7 -123.7L-2.8 -125.9L0.3 -125.7L2.8 -128.4L6.3 -129.4L7.8 -132.7L11.6 -134L14.2 -134.8L13 -137.9L12.8 -140.6L16.3 -142L16.1 -138.7L15.6 -136.8L17.7 -134.8L22.9 -134.6L29.6 -136.2L33.4 -137.3L33.2 -140.6L35 -142L37.9 -140.8L35.9 -144.8L39.7 -145.5L44.9 -146L42.4 -147.1L37.9 -146.6L34.7 -146L32.1 -147.7L31.6 -150.6L33 -152.6L36.4 -154.8L35.1 -156L31.6 -155.6L31 -153.5L26.7 -150.6L25.9 -148L28.6 -145.9L25.7 -141.6L25.6 -139.1L22.7 -137.7L20.5 -137.7L20.1 -139.7L17.4 -143.5L16.2 -145L12.7 -142.7L8.6 -144L7.5 -148L9.6 -151L14.6 -153.1L17.9 -156.4L20.3 -159.4L23.5 -160.8L27.4 -162.2L34.9 -163.7L38.7 -163.3L42.3 -162.6L41.9 -161.8L46.2 -161.4L52.9 -160L58.1 -158.4L57.7 -156.8L51.3 -156.8L46.8 -157.4L50.5 -154L55.5 -153.1L58.4 -154.3L57.3 -156L62 -156.7L61.2 -160.1L65.1 -159.4L65.2 -157.6L73.9 -159.8L83.2 -160.6L83.1 -162L89 -161.3L93 -160.6L90.6 -163.6L91.6 -166.1L96.5 -165.9L98.7 -163.6L100.2 -160.1L104.2 -157.6L103.7 -160.1L98.8 -165.5L104.4 -165.1L106.9 -166.8L113 -167.3L113 -168.6L122.2 -169.7L128.2 -170.1L132.4 -171.1L138.2 -170.3L145.7 -169.5L149.2 -167.3L143.6 -167.1L149.1 -166.8L157.7 -166.4L163.5 -166.9L169 -165.9L176.2 -163.6L179.3 -164.2L184.7 -164.2L186.5 -165.7L195 -165.4L201.8 -164.5L207.4 -163.6L214.2 -163.6L220.6 -161.8L227 -161.7L233.6 -162.2L236.1 -160.8L241.6 -162L249.2 -160.8L260 -154.8L257.2 -154.3L265.4 -150.6L259.9 -148.4L259.3 -146.2L252.5 -146.2L253.6 -142.5L256 -138.7L258.8 -136.2L259.3 -133.2L259.2 -130.7L258.8 -128.6L250.6 -134.8L243.8 -140.6L243.9 -143.5L244.4 -147.1L244.2 -149.4L243.2 -150.6L239 -149.4L235 -149.1L236.9 -145.3L232.2 -144.8L227.5 -145.5L219 -145L218.5 -142L220.8 -135.8L220.9 -134.4L228.3 -133.4L232.4 -128.6L236.6 -123.3L237 -117.8L236.4 -112.9L232.6 -110.8L230.6 -109.9L229.9 -107.8L230.9 -106L228.9 -103.1L232 -100.5L236.2 -96.5L237.8 -92.8L235.2 -91.3L233.3 -90.9L230.6 -96.9L226.7 -98.9L224.7 -102.9L222.4 -104.1L219.3 -101.7L218.5 -101.5L217.6 -105.3L215.3 -106.2L213.8 -102.4L212.1 -101.7L215.2 -99.3L216.8 -97.7L219 -98.9L222.9 -97.4L220.6 -94.8L219.7 -92.1L225.1 -86.7L228.5 -83.7L229.3 -81.7L227.2 -80.4L230.6 -79.2L231.1 -75.4L230 -70.8L229.2 -67.4L227.5 -63.8L225.3 -61.5L221.9 -59.9L218.4 -58.3L215.4 -57L215.8 -54.6L214.1 -57.8L211.3 -58.1L208.7 -56L208 -51.2L210.9 -46.7L214.6 -43.3L217.5 -36.6L218.2 -32L214.3 -28.5L213.5 -26.6L210.8 -23.6L210.2 -27.1L207.2 -28.8L204.3 -33.1L201.5 -34.4L200.2 -36.6L199.6 -33.9L198.9 -28.5L201.2 -23.1L202.3 -19.6L204.7 -17.9L207.1 -15L208.7 -10.9L208.6 -7.1L210.3 -3.8L208.7 -4.1L204.4 -7.9L202.3 -14.4L201.7 -17.7L197.5 -22.3L197.4 -27.1L197.2 -32.5L194.4 -39.2L192.9 -44.6L190.1 -43.8L188.9 -42.7L186.7 -43.8L185.6 -49.9L182.3 -53.9L179.5 -57.8L178.5 -60.4L176.1 -59.9L173.5 -58.6L169.8 -57.8L169.9 -55.2L166.9 -52.5L162.7 -45.4L159.1 -41.9L160.1 -35.8L159.7 -29.8L158.8 -28L158.5 -25L157 -23.6L155.7 -22L153 -26.6L150.9 -32L149.1 -35.2L147.5 -40.6L145.1 -44.6L143.1 -51.2L142.3 -56.5L141.2 -59.1L137.9 -56L134.3 -59.9L132.8 -63L129.9 -66.1L128 -67.9L123.2 -67.7L118.5 -67.2L112.6 -68.2L109.5 -71.5L107.8 -72.3L104.4 -71L100.2 -73.3L96.8 -76.6L94.7 -79.9L92 -80.4L90.8 -78.4L92.7 -75.1L96.2 -71L96.3 -69L98.3 -69.7L99.5 -66.9L99.1 -65.1L103.5 -64.6L105.3 -65.1L107.6 -70L108.8 -66.4L113.7 -63.3L116.3 -60.4L114.5 -55.2L113.4 -51.2L109 -47.2L103.4 -43.3L97.4 -38.7L90.1 -35L86.8 -34.4L85 -40L84.5 -44.3L81.1 -50.4L76.5 -57.5L73.9 -64.3L70.5 -69.5L66.6 -74.9L66 -78.4L65.4 -74.1L63.1 -76.1L61.6 -79.4L60.7 -82.7L64.4 -82.9L65.3 -87.2L66.1 -92.6L65.9 -96.2L63 -96.2L59.5 -94.8L55.8 -96.5L53 -95.7L49.9 -96.9L47.5 -100.5L47.9 -102.9L46.9 -104.1L49.1 -105L51.5 -106.7L55.9 -106.9L59.2 -108.7L62.2 -108.7L64.8 -107.1L68.4 -106.4L73.5 -107.6L73 -110.4L69.4 -112.2L66.4 -114.2L64.6 -116.3L65.7 -119.8L66.7 -120.5L62.4 -119.4L60 -118.3L61.3 -116.3L62.8 -116.3L61.1 -115.6L59.1 -114.2L58.1 -114.7L56.1 -116.5L57.8 -118L55.4 -118.5L52.5 -118.9L51.3 -116.3L50 -113.3L49.1 -111.5L48.9 -109.9L49.5 -108.3L51.5 -106.9L49.8 -106.4L47.8 -105.5L46.3 -106.2L43.6 -106.2L42.5 -104.8L40.7 -105.3L40.9 -102.9L41.8 -101.2L43.4 -100.1L43.5 -98.6L42 -99.3L41.8 -98.1L42.4 -95.7L41.1 -95.7L39.6 -96.5L38.4 -98.9L39.4 -100.1L37.5 -101.2L36.3 -102.9L34.6 -105.3L34.5 -107.8L32.6 -109.7L28 -112.2L26 -114.5L23.5 -115.4L23.6 -117.1L21.2 -116.3L21.7 -113.8L23.8 -112.2L25 -109.7L28.3 -108.5L33.1 -104.3L30.3 -105.3L29.8 -103.4L30.8 -101.7L29.2 -99.3L28.4 -99.3L28.5 -101.2L27.4 -104.3L25.5 -105.7L21.8 -108L19.4 -109.7L18.2 -112.2L15.5 -114.2L13.1 -112.9L10.5 -111.3L7.9 -112L5.6 -111.5L5.7 -108.7L1.4 -106.4L-0.5 -102.9L0.4 -101.2L-1.3 -98.6L-4 -96.5L-8.2 -96.2L-9.9 -94.8L-11.5 -96L-13.1 -97.4ZM-249.2 -160.8L-246.2 -158.7L-242.5 -156.7L-250.5 -154L-252.9 -155.6L-260 -154.8ZM89.9 -98.1L93 -96.5L98.4 -96.9L96.3 -101.7L94.8 -104.1L93.6 -107.6L94.4 -109.2L92.2 -110.6L88.9 -114.5L91.5 -116.3L90.6 -119.4L86.9 -120L83.9 -118.9L81.9 -116.7L81.3 -114.5L83.3 -111L85.7 -108.7L88.2 -105.5L89.8 -105L88.5 -102.9L88.4 -100.3ZM102.1 -112.6L106.3 -113.3L105.2 -118.9L102.7 -118.9L100.8 -116.7ZM61.6 -79.4L60.7 -82.7L58.1 -83.4L55.5 -81.9L50.7 -83.2L46.8 -83.9L42.9 -86.2L40 -86.9L37.4 -84.7L37.6 -81.7L35.8 -80.4L30 -82.9L28 -85.7L24.2 -86.9L20.8 -87.7L18.9 -89.6L20.2 -92.6L19.1 -96.5L20 -96.9L18.2 -97.7L14.6 -96.7L9.1 -96.5L5.5 -96.7L0 -94L-3.7 -92.3L-5.5 -92.8L-9.7 -94.3L-10.8 -94L-12.6 -89.6L-15.8 -87.9L-18.4 -83.4L-18.3 -79.7L-21.9 -75.4L-24.8 -73.8L-27.8 -69.5L-31 -63.5L-33.2 -56.5L-32 -51.2L-32.7 -43.3L-34.8 -39.8L-33.3 -33.9L-30 -29.8L-27.5 -25.8L-26.1 -22.6L-23.1 -18.5L-19.1 -14.4L-15.1 -12L-10.1 -13.9L-6 -13.9L-4 -13.1L2 -16L6.8 -17.4L10.1 -15.8L12.1 -11.7L16.7 -12.2L19.2 -10.6L19.8 -6.8L19.2 -2.7L18.8 0L17.8 1.9L20.2 8.2L23.8 13.1L24.8 16.3L26.7 23.9L27.6 29.8L24.9 36.6L23.8 42.7L23.3 48.6L28.2 61.2L28.7 70.8L31.3 76.1L33.7 84.7L34.1 89.6L36.9 91.6L41.7 89.6L47.6 89.6L52.2 86.7L57.5 80.9L59 78.4L62.5 74.6L63 69L68.7 64.3L68.8 59.1L68.2 53.9L72.5 48.6L78.2 44.6L80.9 40L80.8 33.9L80.9 28.5L79.3 23.1L79.1 18.5L78.2 15L80 10.9L82.3 6.3L84.8 2.2L88.8 -3.3L91.8 -6L96.4 -12.2L99.2 -19L101.9 -25.8L102.3 -32L98 -30.7L92.1 -29L89.1 -28.2L86.6 -31.5L86 -34.2L84.7 -36.6L81.5 -40L78.7 -42.2L76.1 -48.6L73.2 -52.5L72.2 -57.8L69.1 -63.8L65.5 -70.8L62.8 -75.4ZM98.5 32.5L100.2 41.9L97.8 45.9L94.8 56.5L91 66.6L87.2 68.2L84.9 63L84.4 58.6L86.8 53.9L87 45.9L91.2 42.5L95.6 36.6ZM-9.5 -126.7L-5.8 -127.4L-2 -128L2.1 -129L1.3 -129.9L2.8 -132.1L0.5 -132.7L-0.2 -134.2L-1.9 -136L-2.5 -137.7L-4.4 -138.7L-3.1 -141.2L-2.8 -141.8L-5.9 -142L-4.8 -143.7L-7.7 -143.7L-9 -141.6L-9.7 -139.9L-8.4 -137.7L-7.7 -136.4L-5.1 -136.6L-5.2 -134.6L-4.9 -133.6L-7.3 -133.4L-6.8 -131.9L-8.5 -130.5L-5.8 -129.7L-4.9 -129.2L-7.4 -128.6ZM-16.4 -130.1L-13.5 -130.3L-10.3 -131.1L-9.7 -133.4L-9 -135.8L-9.9 -137.2L-13.1 -137.2L-13.8 -135.6L-16.1 -135.2L-15.9 -133.4L-15.5 -131.9L-16.9 -130.9ZM22.6 -99.3L28.2 -100.1L27.7 -96.2L22.7 -98.4ZM14.6 -106.4L17.2 -106.4L17.3 -102.2L15.3 -101.7ZM15.3 -110.1L16.7 -111L16.7 -107.6L15.4 -108.3ZM43.4 -93.3L48.4 -92.6L44.2 -92.1ZM59.5 -92.1L63.3 -93.5L62.2 -91.1ZM241.4 -88.4L244.7 -88.4L246.6 -83.4L245 -82.7L242.6 -85.9ZM242.6 -89.6L243.5 -93.1L248.8 -93.5L248.9 -97.4L251.7 -97.9L251.7 -101.7L249.7 -105.3L250 -107.4L250.7 -107.4L254.9 -102.9L255.1 -99.8L257 -96.5L258.4 -93.8L257.5 -92.1L256.1 -91.3L252.9 -91.1L252.9 -90.4L252.1 -88.4L249.7 -90.9L246.8 -90.4L245 -89.6ZM245.6 -89.1L248.8 -90.1L249.6 -87.9L247.8 -86.7ZM248.6 -107.6L246.5 -111L244.5 -116.5L248.6 -114L252.8 -113.8L254.8 -111.7L253.1 -109.2L252.9 -108.7L248.9 -110.1ZM227.9 -135.4L232.2 -132.7L239 -126.5L242.6 -124.4L243.4 -120L246.1 -118.3L243.9 -117.8L239.3 -123.3L234.5 -128.6L229.6 -133.4ZM234 -67.4L235.4 -66.4L235.3 -59.1L233.2 -61.7L233.3 -66.9ZM213.5 -52L216.6 -53.9L217.9 -52.5L216.7 -49.4L213.9 -50.2ZM160.4 -26.3L163.1 -23.1L164.5 -19L163.1 -16.9L161.5 -16.3L160.1 -21.7ZM237.2 -49.9L240.6 -49.9L241.4 -44.6L241.3 -40.6L243.8 -37.9L247.2 -35.2L247.5 -33.9L244 -36.6L240.9 -37.4L239.5 -39.2L237.7 -43.3ZM245.4 -19L248 -23.4L251.6 -26.6L254.3 -20.4L253.6 -17.1L252.3 -15.5L249.5 -17.7L247.3 -20.4ZM248.5 -33.9L251.5 -29.8L250.4 -27.7L248.6 -30.7ZM243.8 -32L246.8 -29.3L246.8 -25L245.5 -27.1L244.3 -28.5ZM235.4 -22.8L239.2 -29.3L239.4 -30.7L237.6 -25.8ZM220 -4.1L221 -5.4L224.6 -6.8L227.9 -8.7L231.7 -13.6L234.7 -19L237 -16.3L240.2 -14.1L237.9 -11.4L237.7 -6.8L240.2 -2.7L237.2 -1.4L237.2 2.7L235.1 5.4L234 9.5L230.9 10.9L227.9 8.7L224.9 8.2L222.4 4.1L220.4 1.4ZM191.9 -15.2L196.4 -14.1L202.4 -7.6L208.9 0L210.9 4.9L213.8 8.2L213.1 15.8L210.5 15.5L206.3 10.9L202.8 4.1L199.8 -2.7L195.7 -8.7ZM211.7 18.5L215 16.3L218.7 18.2L223 17.4L226.7 18.8L230.1 21.2L229.7 23.6L223 22.6L217.1 21.2ZM231 22.3L239 22.6L238.9 23.9L230.8 23.9ZM240.6 22.8L247.1 22.6L246.5 23.9L240.5 23.9ZM247.4 28L250.8 25L255.7 22.8L253.8 25.3L248.4 28ZM241.8 -2.2L243.8 -3.5L248.3 -2.4L252.7 -4.4L251.3 -1.1L246.3 -1.1L242.8 -0.8L242.6 2.4L245.3 2.4L248.9 2.2L247.8 4.4L245.2 5.2L246.7 9L248.3 12.2L246.8 14.4L244.9 12.8L244.1 8.2L242.9 8.2L242.3 15L240.7 15L241 9.5L239.7 7.3ZM257.3 -4.9L259.8 -4.1L258.4 -0.8L259.4 1.9L258 0.8L257.4 -2.2ZM264.4 2.2L270.5 2.2L272.3 9L278.1 4.1L284.5 7.1L291.4 10.3L294.1 15L297.6 16.3L295.7 19L298 24.4L302.1 28L300 28.5L295.2 25.8L293 21.7L288.1 23.9L284.9 25L282.9 24.7L279.3 22L277.6 22.6L279.2 19L278 15L273.1 12L268.2 10.9L267.9 7.6L270.4 6.3L266.4 6L264.4 3.5ZM299.1 15.2L303.1 15L306.9 11.4L306.2 14.1L301.9 17.1ZM221.1 60.4L222.4 58.6L228.5 55.4L233.3 53.9L238.9 51.2L240.9 48.6L241.6 46.4L244.1 45.9L248.1 41.4L252.7 37.9L254.9 40L257.7 40L259.7 34.7L261.1 33.6L264.7 32.5L265 30.7L270.2 33.1L273.2 33.1L270.1 38.4L269.1 40.6L272.3 43.8L275 47.2L277.9 47.2L281.2 40.6L282.4 34.7L285.2 29.3L286.4 33.9L286 38.7L288.5 40.6L288.2 47.2L288.4 51.7L291.4 54.6L291.4 60.1L292.6 63.3L294.4 68.2L292.1 75.1L286.5 83.4L280.5 89.1L275.2 94.5L272.5 98.1L267.7 99.3L263.2 102L262.6 99.1L258.6 101.2L255.1 99.8L254.7 96.9L255.6 93.8L254.1 93.3L255.4 91.6L257 86.2L250.8 91.6L250.1 91.8L249.8 87.2L249.6 84.9L246 83.4L241.8 83.7L235.3 85.4L230.8 87.2L228.8 89.4L225.8 89.4L222.2 89.6L217.4 92.1L213.9 91.6L212.6 90.4L216.5 84.4L217.1 79.7L217.7 74.1L217.6 69.5L218.4 68.2L219.2 64.8ZM257.8 105.7L260.3 106.7L263.8 106.2L261.8 108.7L259 111.5L256 112.4L255.8 109.9ZM319.1 90.6L320.5 92.8L320.4 96L319.7 98.1L323.5 98.6L319.7 102.2L316.5 104.1L310.4 107.8L310.2 107.1L312.5 104.8L312.3 102.4L316.6 99.3L318.8 95.7ZM308 105.3L308.5 108L303.5 111L301.5 112.9L297.3 114.5L293.4 117.6L289 119.1L287.3 118.3L286.4 117.4L292.7 113.3L299.5 110.6L305.8 106.4ZM13.8 -172.3L19.9 -173.1L29.8 -173.3L33.6 -173.1L27.8 -171.7L21.8 -170.2L17.8 -171.2ZM69.8 -163.6L74.8 -163.2L77.9 -163.6L74 -166.7L77.7 -169L87 -170.3L84.3 -170.5L74.8 -169.5L71 -167.3L69.8 -164.9ZM120.5 -172.3L126.6 -171.4L132.4 -171.9L124.1 -173.5L116.4 -173.7ZM177.5 -169L186 -169.3L195.2 -168.4L189.1 -168.2L180 -168.2ZM58.3 -173.5L72.1 -173.2L76.7 -173.8L67.7 -174.3L59.4 -173.8ZM-227.9 171.4L-214.7 171.7L-202.6 171.4L-192.5 170L-182.2 168.4L-170.4 167.6L-158 167.1L-143.9 167.9L-133.5 165.5L-119.7 165.9L-106.2 166.1L-100.6 164.9L-93.2 162.2L-94.3 158.7L-91.5 154L-85.3 152L-86.7 154.8L-87.7 157.9L-83.6 162.2L-81 166.1L-84.6 168.4L-77.7 169L-63.6 171L-50.6 171.4L-44.3 171.4L-34.8 169.5L-26.4 166.7L-16.2 164.2L-6.8 162.9L0 161.5L13.7 162.2L27.4 162.2L41.5 160.8L48.5 160.8L55.7 160.1L71.1 157.1L78.6 156.4L84.4 158.7L98 159.4L99.2 161.5L109.1 159.4L120.9 157.1L135.8 156.4L150.1 156.4L164 156.7L178.7 156.4L193.4 156L201.3 157.6L208.8 160.1L219.2 162.2L223.7 163.6L229.9 164.2L220.8 167.3L209.8 171L215.2 171.4L227.9 171.4" stroke-width="2.6"/><path d="M-305.2 -52.8zM-306 -56zM-308.3 -57.8zM-310.7 -59.1zM-183.7 1.4zM-182.3 2.2zM351.1 48zM355.2 44.6zM323.9 57.8zM322.5 56.5zM332.2 41.9zM332.6 47.2zM320.9 25.8zM322.7 26.6zM315.5 21.7zM312 16.9zM-295 47.5zM-342.5 37.1zM-342 56.5zM112.6 54.4zM108.4 56.7zM147.2 -10.9zM147.8 0zM145.8 19.8zM-49.5 -43.3zM-46.7 -40.6zM-30.5 -75.1zM-32.3 -75.4zM-26.6 -76.4zM-31.7 -86.4zM-50.6 -100.5zM-46.2 -98.9zM-120.8 -85.4zM-121.3 -39.2zM-121.6 -41.9zM-123.2 -28.5zM-118.6 -35.8zM-98.5 130.1zM-96 130.3zM-59.4 135.4zM117.2 125zM115.8 124.4zM-10.1 -149.8zM-2 -146.8zM288.4 -36.6zM289.2 -41.1zM270.4 -20.4zM305.2 -20.1zM318.3 -18.8zM344.3 -19.3zM349.2 -3.8zM-317.7 -5.2zM-281 24.4zM-209.2 72.3zM-307.5 113.3zM193.3 33.1zM211.7 28.5zM64.3 119.8zM140.4 99.3zM88.7 118.7zM-11.3 43.3zM-28.9 21.5zM-17.9 104.8zM5.5 135.6zM-41.1 142.5zM-68.8 147.3zM-266.2 -140.6zM-284.5 -131.1zM-290.4 -130.3zM281.1 -132.5zM264.3 -137.2zM257.6 -117.8zM258.7 -120.5zM258.5 -124.4zM245.3 -70.8zM246.4 -75.4zM240 -65.4zM185.2 -33.9zM188.6 -19.6zM86.5 31.7zM90.2 34.7zM111.9 12.5zM35.7 -103.1zM45.5 -96.9zM49.5 -94.5zM51.2 -95.2zM5.2 -103.1zM26.4 -94.3zM-23.1 -154.8zM-11.5 -163.6zM24.9 -167.8zM-150.6 -65.6zM-149.4 -66.9zM-147.3 -63z" stroke-width="3.8"/></g></defs>
<clipPath id="cl1"><path d="M1909.7 1672.3L1911.0 1671.7L1914.8 1670.1L1920.9 1667.4L1928.7 1663.7L1937.8 1659.2L1947.6 1654.0L1957.9 1648.0L1968.1 1641.5L1978.2 1634.5L1987.9 1627.0L1997.1 1619.1L2005.8 1610.9L2013.9 1602.3L2021.3 1593.4L2028.1 1584.3L2034.3 1575.0L2039.7 1565.4L2044.5 1555.7L2048.5 1545.9L2051.8 1535.9L2054.4 1525.8L2056.3 1515.7L2057.4 1505.5L2057.8 1495.3L2057.4 1485.1L2056.3 1474.9L2054.4 1464.8L2051.8 1454.7L2048.5 1444.7L2044.5 1434.9L2039.7 1425.2L2034.3 1415.6L2028.1 1406.3L2021.3 1397.2L2013.9 1388.3L2005.8 1379.7L1997.1 1371.5L1987.9 1363.6L1978.2 1356.1L1968.1 1349.1L1957.9 1342.6L1947.6 1336.6L1937.8 1331.4L1928.7 1326.9L1920.9 1323.2L1914.8 1320.5L1911.0 1318.9L1909.7 1318.3L1479.1 1318.3L1477.8 1318.9L1474.0 1320.5L1467.9 1323.2L1460.1 1326.9L1451.0 1331.4L1441.2 1336.6L1430.9 1342.6L1420.7 1349.1L1410.6 1356.1L1400.9 1363.6L1391.7 1371.5L1383.0 1379.7L1374.9 1388.3L1367.5 1397.2L1360.7 1406.3L1354.5 1415.6L1349.1 1425.2L1344.3 1434.9L1340.3 1444.7L1337.0 1454.7L1334.4 1464.8L1332.5 1474.9L1331.4 1485.1L1331.0 1495.3L1331.4 1505.5L1332.5 1515.7L1334.4 1525.8L1337.0 1535.9L1340.3 1545.9L1344.3 1555.7L1349.1 1565.4L1354.5 1575.0L1360.7 1584.3L1367.5 1593.4L1374.9 1602.3L1383.0 1610.9L1391.7 1619.1L1400.9 1627.0L1410.6 1634.5L1420.7 1641.5L1430.9 1648.0L1441.2 1654.0L1451.0 1659.2L1460.1 1663.7L1467.9 1667.4L1474.0 1670.1L1477.8 1671.7L1479.1 1672.3Z"/></clipPath>
<g clip-path="url(#cl1)" fill="none" stroke-width="4.7">
<path d="M1909.7 1672.3L1911.0 1671.7L1914.8 1670.1L1920.9 1667.4L1928.7 1663.7L1937.8 1659.2L1947.6 1654.0L1957.9 1648.0L1968.1 1641.5L1978.2 1634.5L1987.9 1627.0L1997.1 1619.1L2005.8 1610.9L2013.9 1602.3L2021.3 1593.4L2028.1 1584.3L2034.3 1575.0L2039.7 1565.4L2044.5 1555.7L2048.5 1545.9L2051.8 1535.9L2054.4 1525.8L2056.3 1515.7L2057.4 1505.5L2057.8 1495.3L2057.4 1485.1L2056.3 1474.9L2054.4 1464.8L2051.8 1454.7L2048.5 1444.7L2044.5 1434.9L2039.7 1425.2L2034.3 1415.6L2028.1 1406.3L2021.3 1397.2L2013.9 1388.3L2005.8 1379.7L1997.1 1371.5L1987.9 1363.6L1978.2 1356.1L1968.1 1349.1L1957.9 1342.6L1947.6 1336.6L1937.8 1331.4L1928.7 1326.9L1920.9 1323.2L1914.8 1320.5L1911.0 1318.9L1909.7 1318.3L1479.1 1318.3L1477.8 1318.9L1474.0 1320.5L1467.9 1323.2L1460.1 1326.9L1451.0 1331.4L1441.2 1336.6L1430.9 1342.6L1420.7 1349.1L1410.6 1356.1L1400.9 1363.6L1391.7 1371.5L1383.0 1379.7L1374.9 1388.3L1367.5 1397.2L1360.7 1406.3L1354.5 1415.6L1349.1 1425.2L1344.3 1434.9L1340.3 1444.7L1337.0 1454.7L1334.4 1464.8L1332.5 1474.9L1331.4 1485.1L1331.0 1495.3L1331.4 1505.5L1332.5 1515.7L1334.4 1525.8L1337.0 1535.9L1340.3 1545.9L1344.3 1555.7L1349.1 1565.4L1354.5 1575.0L1360.7 1584.3L1367.5 1593.4L1374.9 1602.3L1383.0 1610.9L1391.7 1619.1L1400.9 1627.0L1410.6 1634.5L1420.7 1641.5L1430.9 1648.0L1441.2 1654.0L1451.0 1659.2L1460.1 1663.7L1467.9 1667.4L1474.0 1670.1L1477.8 1671.7L1479.1 1672.3Z" fill="#fddbc7" stroke="none"/>
<path d="M1640 1352.5h16M1639 1356.5h12" stroke="#eff3f5"/>
<path d="M1645 1348.5h8M1636 1352.5h4m16 0h4M1635 1356.5h4m12 0h8M1638 1360.5h12" stroke="#f7f6f6"/>
<path d="M1638 1348.5h7m8 0h7M1632 1352.5h4M1631 1356.5h4M1634 1360.5h4m12 0h4M1482 1626h16M1465 1630.1h44m53 0h8M1469 1634.1h48m47 0h12M1481 1638.1h39m47 0h15m147 0h12M1501 1642.1h15m61 0h11" stroke="#f8f1ed"/>
<path d="M1634 1348.5h4m22 0h4M1629 1352.5h3m28 0h3M1627 1356.5h4m28 0h4M1630 1360.5h4m20 0h4M1637 1364.6h12M1441 1622h54m58 0h12m63 0h16M1445 1626h37m16 0h24m25 0h25m53 0h20m82 0h17m73 0h8m90 0h21m12 0h8M1445 1630.1h20m44 0h24m9 0h20m8 0h4m52 0h16m81 0h108m77 0h60M1422 1634.1h47m48 0h47m12 0h8m47 0h12m71 0h127m55 0h71M1423 1638.1h39m8 0h11m39 0h47m15 0h16m116 0h15m12 0h97m54 0h70M1429 1642.1h30m27 0h15m15 0h61m11 0h8m114 0h121m91 0h34M1502 1646.2h18m52 0h22m119 0h55m8 0h41m111 0h11" stroke="#f9ebe3"/>
<path d="M1643 1344.4h14M1625 1352.5h4m34 0h4M1623 1356.5h4m36 0h4M1626 1360.5h4m28 0h4M1629 1364.6h8m12 0h9M1487 1541.6h20M1478 1545.6h34M1479 1549.6h39M1475 1553.6h49M1481 1557.7h15m19 0h19m262 0h5M1791 1561.7h19M1790 1565.7h19M1485 1569.7h14M1482 1573.7h18M1488 1577.8h9m277 0h19M1774 1581.8h28M1773 1585.8h23M1772 1589.8h19M1767 1593.9h23M1766 1597.9h14M1765 1601.9h5M1734 1605.9h13m13 0h9M1421 1609.9h9m117 0h9m173 0h43m66 0h4M1420 1614h43m17 0h17m43 0h22m68 0h13m81 0h52m51 0h17m86 0h8M1420 1618h84m26 0h34m54 0h38m64 0h55m42 0h29m72 0h26M1420 1622h21m54 0h58m12 0h5m41 0h17m16 0h21m54 0h129m63 0h66M1412 1626h33m77 0h25m41 0h12m8 0h17m20 0h29m41 0h12m17 0h73m8 0h25m12 0h53m21 0h12m8 0h25M1403 1630.1h42m88 0h9m32 0h8m4 0h40m16 0h40m28 0h13m108 0h77m60 0h18M1408 1634.1h14m162 0h47m12 0h71m127 0h55m71 0h14M1414 1638.1h9m39 0h8m128 0h116m124 0h27m11 0h16m70 0h13M1420 1642.1h9m30 0h27m110 0h114m121 0h19m41 0h31m34 0h13M1426 1646.2h76m18 0h52m22 0h4m11 0h104m55 0h8m41 0h22m70 0h19m11 0h24M1433 1650.2h38m39 0h8m97 0h148m18 0h29m105 0h41M1631 1654.2h39m45 0h11M1650 1658.2h7M1725 1670.3h3" stroke="#fbe6da"/>
<path d="M1680 1340.4h4M1639 1344.4h4m14 0h4M1630 1348.5h4m30 0h4M1621 1352.5h4m42 0h4M1615 1356.5h8m44 0h4M1618 1360.5h8m36 0h4M1625 1364.6h4m29 0h4M1636 1368.6h17M1571 1400.8h9m73 0h19M1570 1404.8h14m69 0h18m51 0h28M1652 1408.8h19M1652 1412.8h14M1523 1420.9h9M1522 1424.9h9m465 0h5m19 0h5M1555 1428.9h9m429 0h15m5 0h14M1554 1432.9h9m437 0h10m9 0h5M1812 1445h15m40 0h9M1808 1449h25m29 0h15M1803 1453.1h30m30 0h10M1804 1457.1h35M1804 1461.1h35M1799 1465.1h10M1795 1469.2h20M1795 1473.2h25M1800 1477.2h25M1624 1489.3h20M1619 1493.3h30M1619 1497.3h25M1437 1501.3h5m177 0h20M1437 1505.4h20m167 0h15M1438 1509.4h25m35 0h10m116 0h20M1443 1513.4h20m25 0h25m116 0h10M1443 1517.4h20m25 0h31M1424 1521.4h10m5 0h35m20 0h30m271 0h15m35 0h20M1419 1525.5h55m20 0h35m270 0h5m30 0h35M1415 1529.5h60m15 0h40m289 0h45M1401 1533.5h30m10 0h74m5 0h15m279 0h45M1402 1537.5h20m20 0h5m14 0h55m10 0h10m267 0h60m20 0h25M1442 1541.6h5m15 0h25m20 0h15m281 0h54m20 0h50M1338 1545.6h37m64 0h39m34 0h20m266 0h39m35 0h49M1340 1549.6h41m29 0h69m39 0h34m240 0h20m15 0h5m39 0h39m132 0h7M1341 1553.6h37m34 0h63m49 0h29m239 0h34m44 0h39m127 0h11M1343 1557.7h36m39 0h63m15 0h19m19 0h20m233 0h9m5 0h24m59 0h14m136 0h12M1345 1561.7h36m58 0h116m212 0h5m14 0h5m19 0h15m207 0h12M1347 1565.7h36m62 0h110m211 0h24m19 0h15m33 0h10m129 0h5m29 0h12M1349 1569.7h31m67 0h38m14 0h19m5 0h28m210 0h62m33 0h10m129 0h9m24 0h11M1352 1573.7h30m62 0h38m18 0h52m90 0h19m95 0h71m165 0h19M1354 1577.8h30m61 0h43m9 0h52m56 0h57m93 0h19m19 0h38m159 0h24M1357 1581.8h25m56 0h14m9 0h89m56 0h84m60 0h24m28 0h28m153 0h38M1360 1585.8h25m51 0h14m13 0h93m55 0h83m24 0h4m28 0h23m23 0h32m148 0h46M1374 1589.8h9m60 0h9m9 0h14m36 0h46m55 0h27m23 0h32m19 0h13m19 0h27m19 0h45m138 0h41M1404 1593.9h9m46 0h18m40 0h19m4 0h18m37 0h13m5 0h18m41 0h18m23 0h54m23 0h54m55 0h9m63 0h36M1398 1597.9h18m40 0h23m40 0h41m36 0h36m80 0h54m14 0h72m85 0h9m22 0h32M1401 1601.9h22m36 0h53m5 0h44m133 0h71m5 0h89m9 0h17m45 0h18m26 0h14M1405 1605.9h158m66 0h8m57 0h40m13 0h13m9 0h92m5 0h13m48 0h22m18 0h17M1404 1609.9h17m9 0h117m9 0h8m48 0h39m9 0h30m4 0h35m43 0h66m4 0h26m48 0h30m17 0h18M1403 1614h17m43 0h17m17 0h43m22 0h4m17 0h13m13 0h21m13 0h81m52 0h51m17 0h22m38 0h26m8 0h43M1388 1618h7m8 0h17m84 0h26m34 0h4m17 0h33m38 0h64m55 0h42m29 0h72m26 0h56M1393 1622h27m150 0h4m8 0h29m54 0h54m129 0h63m66 0h19M1398 1626h14m160 0h4m8 0h4m12 0h8m66 0h41m135 0h12m119 0h10M1582 1630.1h4m96 0h28M1865 1638.1h11M1850 1642.1h7m27 0h7M1598 1646.2h11m230 0h7m41 0h22M1471 1650.2h39m8 0h25m36 0h18m14 0h4m148 0h18m29 0h11m3 0h15m43 0h11m11 0h11M1440 1654.2h79m98 0h14m39 0h45m11 0h35m18 0h28m102 0h40M1447 1658.2h12m164 0h27m7 0h14m34 0h20m68 0h4m132 0h13M1645 1662.2h13m43 0h7M1464 1666.3h5m251 0h9m89 0h4m98 0h5M1472 1670.3h12m235 0h6m3 0h3m40 0h3m36 0h7" stroke="#fce0d0"/>
<path d="M1673 1340.4h3m15 0h3M1665 1344.4h7m19 0h7M1611 1348.5h15m53 0h8M1609 1352.5h4m62 0h4M1608 1356.5h3M1610 1360.5h4m56 0h4M1608 1364.6h9m49 0h8M1611 1368.6h17m29 0h12M1640 1372.6h21M1463 1376.6h9m180 0h4m4 0h17M1443 1380.7h30m174 0h30M1435 1384.7h35m123 0h9m40 0h35M1410 1388.7h58m111 0h31m22 0h14m26 0h5M1403 1392.7h67m99 0h67m36 0h4M1395 1396.7h36m28 0h9m95 0h4m46 0h22m87 0h22M1363 1400.8h15m14 0h32m37 0h4m92 0h5m55 0h13m46 0h5m36 0h5m27 0h5m160 0h9m23 0h32m42 0h6M1360 1404.8h66m33 0h9m83 0h5m64 0h5m51 0h5m73 0h5m56 0h9m92 0h42m14 0h57M1357 1408.8h67m37 0h5m79 0h5m168 0h4m94 0h9m98 0h4m5 0h19m42 0h4m19 0h16M1361 1412.8h56m47 0h5m70 0h5m127 0h5m42 0h19m188 0h4m10 0h4M1359 1416.9h56m48 0h9m43 0h9m10 0h9m128 0h4m246 0h5M1361 1420.9h52m53 0h14m29 0h4m67 0h19m67 0h5m252 0h5M1359 1424.9h62m53 0h9m20 0h4m72 0h24m317 0h9M1362 1428.9h57m58 0h5m19 0h10m72 0h20m58 0h4m203 0h24m29 0h10M1360 1432.9h53m63 0h10m19 0h5m73 0h19m54 0h4m156 0h4m44 0h5m19 0h10m24 0h15M1358 1437h49m78 0h5m14 0h20m58 0h25m39 0h14m151 0h5m5 0h10m29 0h5m24 0h10m20 0h19M1381 1441h24m84 0h5m14 0h39m30 0h29m35 0h14m152 0h5m20 0h4m45 0h14m10 0h49M1380 1445h24m84 0h5m29 0h40m14 0h35m10 0h29m153 0h5m29 0h5m15 0h5m19 0h10m15 0h10m5 0h29m40 0h19M1373 1449h30m89 0h5m29 0h35m20 0h59m158 0h5m35 0h19m25 0h5m20 0h24m10 0h10m30 0h34M1367 1453.1h30m94 0h15m25 0h30m54 0h25m203 0h10m30 0h5m25 0h19m10 0h10m25 0h15m5 0h20m19 0h5M1356 1457.1h40m94 0h25m15 0h25m60 0h35m139 0h10m45 0h10m29 0h5m25 0h40m20 0h20m5 0h25m15 0h10M1345 1461.1h55m95 0h30m10 0h20m60 0h35m129 0h10m55 0h10m35 0h5m20 0h110M1349 1465.1h5m5 0h40m95 0h15m5 0h25m10 0h35m35 0h35m125 0h10m55 0h10m35 0h5m20 0h65m10 0h40M1349 1469.2h5m15 0h25m70 0h75m25 0h15m45 0h35m126 0h5m60 0h10m30 0h5m15 0h75m5 0h15m10 0h20M1343 1473.2h20m75 0h96m35 0h15m45 0h35m121 0h5m95 0h25m10 0h86m10 0h25M1330 1477.2h32m66 0h105m46 0h10m45 0h40m116 0h5m86 0h10m10 0h5m15 0h80m15 0h43M1330 1481.2h32m60 0h111m51 0h5m50 0h40m111 0h5m81 0h10m15 0h5m15 0h5m10 0h20m5 0h41m15 0h42M1329 1485.2h33m55 0h116m56 0h5m55 0h35m15 0h26m65 0h5m46 0h20m10 0h20m10 0h5m30 0h10m26 0h30m15 0h42M1329 1489.3h27m71 0h66m35 0h5m55 0h11m75 0h36m5 0h10m65 0h20m36 0h30m5 0h25m5 0h10m16 0h10m25 0h45m5 0h38M1329 1493.3h42m81 0h30m41 0h10m60 0h11m70 0h46m65 0h36m35 0h10m20 0h10m5 0h15m21 0h10m25 0h45m5 0h38M1329 1497.3h47m147 0h5m71 0h5m75 0h36m65 0h46m55 0h15m10 0h10m16 0h20m5 0h103M1329 1501.3h53m136 0h15m71 0h10m65 0h31m70 0h41m50 0h25m10 0h26m10 0h20m20 0h78M1329 1505.4h73m126 0h10m76 0h5m50 0h46m60 0h10m15 0h15m61 0h35m30 0h21m25 0h5m10 0h57M1330 1509.4h72m126 0h10m131 0h46m65 0h5m91 0h35m30 0h20m26 0h5m10 0h30m15 0h12M1330 1513.4h73m125 0h5m86 0h5m65 0h10m16 0h10m55 0h5m96 0h40m20 0h25m20 0h10m5 0h25m26 0h7M1331 1517.4h72m126 0h5m85 0h5m65 0h5m26 0h5m55 0h5m110 0h71m25 0h15m5 0h10m25 0h12M1331 1521.4h68m135 0h5m85 0h5m55 0h15m15 0h10m51 0h10m115 0h70m20 0h15m10 0h10m20 0h12M1349 1525.5h45m140 0h5m85 0h5m55 0h15m15 0h5m55 0h5m125 0h95m20 0h10m10 0h18M1620 1529.5h10m59 0h5m20 0h5m55 0h5m135 0h40m15 0h30m20 0h30M1620 1533.5h5m89 0h5m55 0h5m5 0h10m139 0h15m20 0h10m5 0h10m25 0h20M1541 1537.5h5m69 0h5m89 0h5m55 0h5m10 0h10m138 0h5m50 0h5m20 0h20M1546 1541.6h5m64 0h5m89 0h5m50 0h4m10 0h15m138 0h5m50 0h10m5 0h29M1552 1545.6h5m59 0h5m88 0h5m49 0h5m10 0h5m5 0h5m138 0h4m55 0h34M1557 1549.6h10m49 0h5m93 0h5m44 0h5m10 0h9m138 0h5m58 0h5m15 0h10M1558 1553.6h10m44 0h9m142 0h5m9 0h10m127 0h5m68 0h5M1559 1557.7h4m44 0h10m102 0h4m39 0h5m10 0h5m126 0h5M1559 1561.7h5m39 0h5m111 0h4M1560 1565.7h5m34 0h4m115 0h5m34 0h5m143 0h5M1556 1569.7h10m33 0h5m114 0h5m29 0h4m148 0h10m38 0h23m5 0h5M1557 1573.7h5m38 0h5m118 0h5m179 0h5m38 0h24m4 0h5M1596 1577.8h4m123 0h4m19 0h5m155 0h4m66 0h5M1597 1581.8h4m126 0h5m9 0h5m158 0h5m23 0h14m28 0h5M1560 1585.8h5m28 0h4m134 0h10m161 0h23m14 0h10M1562 1589.8h4m9 0h14m357 0h9m10 0h4M1563 1593.9h18m372 0h9M1564 1597.9h23M1566 1601.9h17M1567 1605.9h18M1569 1609.9h13M1566 1614h13M1572 1618h4M1854 1646.2h25M1601 1650.2h7M1533 1654.2h10m50 0h3m214 0h39m38 0h11M1483 1658.2h14m27 0h14m78 0h3m113 0h17m7 0h13m34 0h7m17 0h4m10 0h17m3 0h14m3 0h38M1467 1662.2h7m33 0h23m92 0h3m46 0h20m40 0h3m20 0h10m36 0h23m13 0h50m6 0h7m16 0h4M1478 1666.3h19m13 0h10m3 0h12m26 0h19m44 0h23m6 0h3m10 0h13m3 0h12m16 0h3m20 0h3m16 0h6m38 0h13m19 0h35m3 0h10m12 0h3m20 0h3M1493 1670.3h30m13 0h6m21 0h3m6 0h15m7 0h6m12 0h64m18 0h7m3 0h12m18 0h3m9 0h6m40 0h12m19 0h3m15 0h12m9 0h7m9 0h12m15 0h3" stroke="#fbd0b9"/>
<path d="M1677 1336.4h14M1644 1340.4h18m7 0h4m21 0h4M1631 1344.4h4m63 0h4M1603 1348.5h8m76 0h15M1605 1352.5h4m70 0h4m11 0h8M1473 1356.5h8m194 0h4m15 0h8M1433 1360.5h48m125 0h4m64 0h4m20 0h4M1424 1364.6h58m192 0h4M1420 1368.6h58m129 0h4m58 0h13M1416 1372.6h63m127 0h8m21 0h5m21 0h25M1408 1376.6h55m9 0h4m167 0h9m4 0h4m17 0h9M1404 1380.7h39m30 0h4m113 0h13m39 0h5m30 0h4m65 0h13M1396 1384.7h39m35 0h5m105 0h13m9 0h5m30 0h5m105 0h13M1392 1388.7h18m58 0h4m98 0h9m31 0h9m9 0h4m67 0h13M1369 1392.7h34m161 0h5m130 0h45m184 0h9m76 0h7M1366 1396.7h29m73 0h4m86 0h5m113 0h5m18 0h23m22 0h5m159 0h13m9 0h50m23 0h20M1378 1400.8h14m73 0h5m211 0h9m23 0h4m37 0h5m151 0h4m9 0h23m32 0h42M1468 1404.8h5m74 0h4m130 0h9m23 0h5m92 0h5m9 0h9m79 0h4M1466 1408.8h5m70 0h4m131 0h4m33 0h5m37 0h5m46 0h10m9 0h9m84 0h5M1469 1412.8h5m47 0h18m137 0h4m24 0h14m19 0h18m52 0h14m99 0h5M1472 1416.9h10m28 0h5m160 0h5m24 0h28m57 0h9m119 0h4M1480 1420.9h5m19 0h5m162 0h4m115 0h9m76 0h15m19 0h14M1483 1424.9h5m10 0h5m163 0h4m125 0h5m67 0h29m14 0h10M1482 1428.9h5m10 0h4m164 0h5m140 0h10m38 0h10m24 0h10m14 0h5M1486 1432.9h19m155 0h5m146 0h5m4 0h5m29 0h10m34 0h10m9 0h5M1490 1437h14m303 0h4m20 0h5m19 0h5m39 0h20M1494 1441h4m5 0h5m147 0h5m108 0h5m29 0h5m29 0h5m15 0h5m34 0h10M1493 1445h5m5 0h19m128 0h5m113 0h20m5 0h10m39 0h15m34 0h15M1497 1449h29m114 0h15m113 0h30m89 0h20m24 0h10M1506 1453.1h25m109 0h15m114 0h15m5 0h10m89 0h10m10 0h5m19 0h10M1515 1457.1h15m120 0h5m119 0h15m99 0h10m10 0h5M1525 1461.1h10m115 0h9m115 0h5m115 0h5M1539 1465.1h10m105 0h5m90 0h5m20 0h5m115 0h5m10 0h5M1539 1469.2h25m95 0h5m86 0h10m20 0h5m110 0h15m95 0h10M1534 1473.2h5m20 0h10m95 0h10m106 0h5m221 0h10M1533 1477.2h5m16 0h25m95 0h5m106 0h5m101 0h10m100 0h15M1533 1481.2h5m15 0h31m95 0h5m10 0h36m156 0h15m25 0h10m66 0h15M1533 1485.2h5m25 0h26m95 0h15m26 0h5m161 0h10m20 0h15m66 0h15M1533 1489.3h10m25 0h20m137 0h5m20 0h10m25 0h5m131 0h16m80 0h5M1533 1493.3h5m50 0h5m127 0h5m25 0h15m15 0h5m111 0h5m15 0h5m6 0h10m80 0h5M1528 1497.3h5m55 0h11m116 0h5m35 0h10m5 0h10m116 0h10m10 0h16M1533 1501.3h25m36 0h10m106 0h5m40 0h5m10 0h10m116 0h10m56 0h20M1538 1505.4h20m41 0h15m141 0h5m10 0h5m187 0h5m15 0h5M1538 1509.4h20m56 0h5m96 0h5m50 0h10m181 0h10m11 0h5M1533 1513.4h5m76 0h5m106 0h5m40 0h10m186 0h5M1534 1517.4h5m186 0h5m40 0h10m186 0h5m15 0h5M1619 1521.4h5m100 0h5m41 0h5m195 0h20M1619 1525.5h5m95 0h10M1540 1529.5h5m174 0h5m20 0h5m205 0h15M1540 1533.5h5m70 0h5m149 0h5m174 0h5m10 0h5m10 0h5M1546 1537.5h5m163 0h5m45 0h5m168 0h10m15 0h25M1551 1541.6h5m54 0h5m99 0h5m40 0h5m172 0h5m20 0h5m15 0h5M1557 1545.6h9m35 0h15m98 0h5m39 0h5m20 0h5m197 0h5M1567 1549.6h5m29 0h15m142 0h5m167 0h4m49 0h5M1568 1553.6h9m30 0h5m107 0h5m195 0h9M1563 1557.7h10m24 0h10m150 0h5m151 0h4m68 0h5M1564 1561.7h5m24 0h10m154 0h5m145 0h4m73 0h5M1565 1565.7h5m19 0h10m153 0h5m191 0h39M1566 1569.7h9m15 0h9m124 0h5m186 0h4m24 0h10m23 0h5M1562 1573.7h38m128 0h4m14 0h5m161 0h5m23 0h10m24 0h4M1558 1577.8h38m131 0h5m9 0h5m164 0h5m24 0h37M1559 1581.8h38m135 0h9m168 0h4m10 0h9m14 0h5m18 0h5M1565 1585.8h28m356 0h4m14 0h5M1566 1589.8h9m380 0h10M1543 1654.2h7m36 0h7m3 0h4m10 0h4M1538 1658.2h13m259 0h17M1474 1662.2h16m10 0h7m23 0h39m50 0h3m112 0h20m132 0h6m7 0h16M1497 1666.3h13m25 0h4m9 0h13m19 0h19m10 0h15m55 0h3m54 0h16m124 0h12m3 0h20M1542 1670.3h6m9 0h6m24 0h7m6 0h6m3 0h3m64 0h18m43 0h9m123 0h9m12 0h15" stroke="#f9c6ac"/>
<path d="M1673 1336.4h4m14 0h3M1640 1340.4h4m18 0h7m29 0h4M1602 1344.4h18M1566 1348.5h7m27 0h3M1601 1352.5h4m78 0h11m8 0h4M1430 1356.5h43m8 0h4m119 0h4m71 0h8m3 0h4m8 0h8M1421 1360.5h12m245 0h4m8 0h8m4 0h4M1412 1364.6h12m180 0h4m70 0h4m12 0h4M1403 1368.6h17m58 0h4m121 0h4m75 0h4M1388 1372.6h28m63 0h4m119 0h4m8 0h4m9 0h8m51 0h4m304 0h6M1384 1376.6h24m68 0h4m112 0h17m30 0h4m43 0h4m60 0h4m244 0h7M1380 1380.7h24m182 0h4m13 0h5m73 0h5m56 0h4m13 0h5m238 0h7M1376 1384.7h20m180 0h4m27 0h4m66 0h4m22 0h9m31 0h4m13 0h5m241 0h7M1373 1388.7h19m80 0h5m142 0h9m49 0h4m13 0h5m13 0h40m5 0h8m160 0h9m67 0h15M1470 1392.7h4m86 0h4m112 0h5m13 0h5m45 0h4m162 0h9m4 0h5m9 0h4m9 0h27m18 0h18M1472 1396.7h5m204 0h18m50 0h4m136 0h19m13 0h9m50 0h23M1470 1400.8h5m77 0h5m133 0h23m46 0h4m46 0h18m60 0h23M1514 1404.8h5m23 0h5m143 0h23m46 0h5m41 0h5m23 0h5m55 0h19M1471 1408.8h4m28 0h14m10 0h14m139 0h5m5 0h23m47 0h4m24 0h18m28 0h10m51 0h23M1474 1412.8h14m19 0h14m173 0h10m51 0h5m24 0h23m14 0h28m47 0h24M1482 1416.9h9m14 0h5m189 0h5m28 0h5m47 0h5m9 0h24m14 0h19m14 0h19m15 0h14M1485 1420.9h19m171 0h5m29 0h24m52 0h5m9 0h19m24 0h33m15 0h19M1488 1424.9h10m172 0h5m115 0h5m5 0h19m24 0h24m29 0h14M1487 1428.9h10m299 0h14m10 0h5m24 0h9m44 0h14M1665 1432.9h5m126 0h15m14 0h5m20 0h4m54 0h9M1660 1437h5m78 0h29m30 0h5m43 0h5M1498 1441h5m157 0h5m78 0h25m5 0h29m39 0h15M1498 1445h5m152 0h5m84 0h5m14 0h5m20 0h5M1655 1449h5m104 0h4M1655 1453.1h5m59 0h20m25 0h5m15 0h5m109 0h10M1655 1457.1h5m59 0h20m30 0h5m124 0h10M1659 1461.1h5m50 0h40m15 0h5m125 0h15M1659 1465.1h10m10 0h30m5 0h35m5 0h20m125 0h10M1664 1469.2h45m10 0h31m10 0h20M1539 1473.2h20m115 0h40m6 0h45m10 0h5M1538 1477.2h16m125 0h66m35 0h5M1538 1481.2h15m131 0h10m36 0h10m45 0h5M1538 1485.2h25m167 0h35m20 0h5M1543 1489.3h25m162 0h20m10 0h10m10 0h5M1538 1493.3h50m137 0h5m10 0h10m15 0h15m141 0h6M1533 1497.3h30m20 0h5m157 0h10m10 0h5M1558 1501.3h5m20 0h11m121 0h5m25 0h10m5 0h10M1558 1505.4h5m26 0h10m116 0h5m25 0h10m5 0h10m197 0h15M1558 1509.4h10m21 0h25m106 0h10m15 0h25m201 0h11M1538 1513.4h5m11 0h10m20 0h15m10 0h5m116 0h10m20 0h10m201 0h15M1579 1517.4h20m15 0h5m111 0h10m20 0h10m201 0h15M1539 1521.4h5m40 0h15m15 0h5m110 0h11m20 0h10M1539 1525.5h5m40 0h15m15 0h5m110 0h45M1585 1529.5h15m15 0h5m104 0h20m5 0h10m10 0h5M1545 1533.5h5m45 0h10m5 0h5m104 0h50m184 0h10M1551 1537.5h5m39 0h20m104 0h5m20 0h20m183 0h15M1556 1541.6h10m30 0h14m144 0h5m182 0h20m5 0h15M1566 1545.6h10m15 0h10m334 0h5m15 0h15m10 0h5M1572 1549.6h29m118 0h5m210 0h5M1577 1553.6h30m151 0h5m165 0h10m44 0h5M1573 1557.7h24m126 0h5m189 0h5m59 0h4M1569 1561.7h24m130 0h5m24 0h5m154 0h5m53 0h15M1570 1565.7h19m134 0h5m19 0h5m158 0h10m5 0h23M1575 1569.7h15m138 0h5m14 0h5m166 0h24M1742 1573.7h4m171 0h4m10 0h9M1732 1577.8h9m174 0h24M1913 1581.8h10m28 0h18M1953 1585.8h14M1550 1654.2h7m25 0h4m14 0h10M1551 1658.2h7m34 0h7m14 0h3M1490 1662.2h10m69 0h33m13 0h4M1539 1666.3h9m51 0h10M1548 1670.3h9m49 0h3" stroke="#f8bb9e"/>
<path d="M1670 1336.4h3m21 0h4M1637 1340.4h3m62 0h3M1432 1344.4h14m126 0h8m18 0h4m18 0h11m71 0h4M1429 1348.5h15m118 0h4m30 0h4m102 0h4m15 0h8M1427 1352.5h20m11 0h27m78 0h8m27 0h3m105 0h4m12 0h7M1422 1356.5h8m257 0h3m20 0h16M1413 1360.5h8m60 0h4m117 0h4m76 0h8m16 0h13m205 0h8M1398 1364.6h14m70 0h4m196 0h12m4 0h9m221 0h16m21 0h26M1393 1368.6h10m283 0h13m232 0h65M1589 1372.6h13m16 0h9m312 0h55M1480 1376.6h5m102 0h5m17 0h4m128 0h9m4 0h9m180 0h55M1477 1380.7h5m100 0h4m22 0h4m26 0h4m44 0h4m26 0h4m18 0h4m22 0h4m178 0h17m22 0h17M1475 1384.7h4m92 0h5m35 0h4m18 0h4m44 0h5m13 0h4m9 0h18m4 0h9m22 0h4m180 0h22m18 0h17M1477 1388.7h4m85 0h4m111 0h5m66 0h5m8 0h5m151 0h4m9 0h5m13 0h49M1474 1392.7h9m198 0h4m5 0h4m54 0h18m121 0h23m9 0h4m18 0h9m27 0h18M1477 1396.7h9m27 0h9m32 0h4m195 0h9m19 0h9m22 0h14m45 0h18M1475 1400.8h9m4 0h14m9 0h14m23 0h4m211 0h5m9 0h18m9 0h5m18 0h5m32 0h23M1473 1404.8h9m4 0h28m5 0h23m222 0h4m10 0h27m33 0h4m19 0h32M1475 1408.8h28m14 0h10m158 0h5m74 0h5m14 0h5m56 0h37m4 0h10M1488 1412.8h19m173 0h14m85 0h5m65 0h47M1491 1416.9h14m175 0h19m38 0h24m19 0h4m38 0h5m5 0h4m19 0h14m19 0h15M1680 1420.9h29m24 0h4m15 0h9m19 0h5m33 0h5m14 0h5M1675 1424.9h19m15 0h24m24 0h14m14 0h5m29 0h5m14 0h5M1670 1428.9h10m48 0h5m24 0h15m19 0h5m29 0h4m15 0h5M1670 1432.9h5m58 0h39m19 0h5m34 0h5m10 0h5M1665 1437h10m58 0h10m29 0h10m5 0h15m34 0h14M1665 1441h10m63 0h5M1660 1445h5m54 0h5m10 0h10m5 0h14M1714 1449h40m5 0h5M1709 1453.1h10m20 0h10M1660 1457.1h5m14 0h40m20 0h15m5 0h10M1664 1461.1h50m40 0h15M1669 1465.1h10m30 0h5M1709 1469.2h10M1714 1473.2h6m45 0h10M1745 1477.2h35M1740 1481.2h45M1765 1485.2h20M1770 1489.3h10M1730 1493.3h10M1563 1497.3h20m137 0h10m5 0h10M1563 1501.3h5m10 0h5m157 0h5M1563 1505.4h5m15 0h6m131 0h5m15 0h5M1568 1509.4h21m141 0h15M1543 1513.4h11m10 0h20m15 0h10m131 0h20M1539 1517.4h40m20 0h15m126 0h20M1544 1521.4h5m10 0h25m15 0h15m126 0h20M1544 1525.5h5m10 0h25m15 0h15M1545 1529.5h5m10 0h25m15 0h15m144 0h10M1550 1533.5h45m10 0h5M1556 1537.5h39m129 0h20M1566 1541.6h15m5 0h10m123 0h5m15 0h15M1576 1545.6h15m128 0h5m25 0h9m182 0h15m15 0h10M1753 1549.6h5m181 0h30m9 0h5M1724 1553.6h5m24 0h5m180 0h25m14 0h5M1728 1557.7h5m20 0h4m165 0h29m20 0h10M1728 1561.7h24m164 0h53M1728 1565.7h19m173 0h5M1733 1569.7h14M1732 1573.7h10m179 0h10M1557 1654.2h7m11 0h7M1558 1658.2h4m23 0h7m7 0h3M1602 1662.2h13" stroke="#f6af8e"/>
<path d="M1666 1336.4h4m28 0h3M1442 1340.4h11m151 0h15m86 0h4M1426 1344.4h6m14 0h4m119 0h3M1420 1348.5h9m15 0h4m110 0h4m11 0h4m15 0h4m110 0h4m19 0h3M1414 1352.5h13m20 0h11m27 0h4m70 0h4m147 0h12m7 0h4M1408 1356.5h14m63 0h4m111 0h4m122 0h4m186 0h15m44 0h6M1403 1360.5h10m72 0h4m230 0h8m193 0h4m8 0h8m20 0h26M1600 1364.6h4m103 0h4m213 0h4m16 0h21M1482 1368.6h4m100 0h17m96 0h4m224 0h4M1483 1372.6h5m97 0h4m101 0h13m29 0h5m8 0h17m169 0h8M1583 1376.6h4m26 0h4m17 0h5m51 0h4m22 0h4m9 0h12m22 0h13m107 0h17m34 0h9M1482 1380.7h4m91 0h5m108 0h26m4 0h18m30 0h18m95 0h17m35 0h13m17 0h22M1479 1384.7h5m131 0h5m9 0h4m53 0h13m31 0h4m35 0h22m92 0h18m17 0h31m22 0h18M1481 1388.7h5m26 0h5m31 0h4m9 0h5m120 0h8m76 0h18m97 0h36m18 0h13M1483 1392.7h9m14 0h22m18 0h14m125 0h5m76 0h23m22 0h23m40 0h13M1486 1396.7h27m9 0h9m9 0h14m208 0h19m9 0h22m14 0h9m27 0h9M1484 1400.8h4m14 0h9m14 0h23m220 0h9m18 0h9m28 0h9m14 0h9M1482 1404.8h4m282 0h10m64 0h19M1769 1408.8h14m98 0h4M1760 1412.8h19M1761 1416.9h19m47 0h5M1737 1420.9h15m9 0h19m43 0h14M1694 1424.9h15m24 0h24m14 0h14m39 0h14M1680 1428.9h48m5 0h24m15 0h4m10 0h5m38 0h15M1675 1432.9h34m10 0h14m39 0h5m10 0h4m44 0h10M1675 1437h29m10 0h19m49 0h5M1675 1441h15m19 0h29M1665 1445h29m15 0h10m5 0h10M1660 1449h34m10 0h10m40 0h5M1660 1453.1h5m10 0h34m40 0h15M1665 1457.1h14m75 0h5M1730 1497.3h5M1568 1501.3h10m142 0h5m10 0h5M1568 1505.4h15m142 0h15M1549 1521.4h10M1549 1525.5h10M1550 1529.5h10M1581 1541.6h5m138 0h15M1724 1545.6h5m10 0h10M1724 1549.6h5m19 0h5m216 0h9M1729 1553.6h4m15 0h5m210 0h14M1733 1557.7h20m198 0h20M1564 1654.2h11M1562 1658.2h6m14 0h3m17 0h11" stroke="#f3a481"/>
<path d="M1677 1332.4h11M1656 1336.4h10m35 0h4M1433 1340.4h9m11 0h3m123 0h7m15 0h3m29 0h4M1450 1344.4h4m111 0h4m11 0h3m11 0h4m108 0h3m11 0h8m222 0h13M1448 1348.5h8m26 0h8m64 0h4m30 0h4m118 0h11m193 0h19m15 0h21M1489 1352.5h4m62 0h4m12 0h3m20 0h4m135 0h4m174 0h23m20 0h21M1560 1356.5h8m28 0h4m130 0h4m170 0h12m15 0h8m16 0h20M1598 1360.5h4m125 0h4m177 0h12m20 0h4m8 0h8M1486 1364.6h4m106 0h4m111 0h12m197 0h4M1582 1368.6h4m117 0h8m42 0h16m121 0h12m21 0h4M1580 1372.6h5m118 0h29m5 0h8m17 0h17m105 0h22m21 0h4M1485 1376.6h12m82 0h4m111 0h22m4 0h9m47 0h8m86 0h13m17 0h8m22 0h4M1486 1380.7h9m117 0h4m18 0h4m148 0h8m18 0h8m18 0h4m30 0h9m17 0h35M1484 1384.7h8m53 0h13m9 0h4m49 0h9m162 0h9m9 0h39m22 0h13m18 0h17M1486 1388.7h8m9 0h9m5 0h31m4 0h9m227 0h57m23 0h17M1492 1392.7h14m22 0h18m243 0h22m23 0h40M1531 1396.7h9m295 0h27M1841 1400.8h14M1776 1428.9h10M1709 1432.9h10m58 0h10M1704 1437h10M1690 1441h19M1694 1445h15M1694 1449h10M1665 1453.1h10M1725 1501.3h10M1729 1545.6h10M1729 1549.6h19M1733 1553.6h15M1568 1658.2h14" stroke="#ee9677"/>
<path d="M1671 1332.4h6m11 0h6M1449 1336.4h10m151 0h4m35 0h7m49 0h3M1456 1340.4h4m115 0h4m40 0h7m3 0h4m76 0h3m239 0h5M1454 1344.4h3m104 0h4m18 0h4m4 0h3m115 0h4m4 0h3m8 0h3m178 0h19m14 0h8M1456 1348.5h26m8 0h7m80 0h4m151 0h4m171 0h7m19 0h15M1493 1352.5h4m93 0h4m302 0h15m23 0h20M1489 1356.5h12m55 0h4m174 0h4m158 0h8m35 0h16M1489 1360.5h4m238 0h4m144 0h13m8 0h8m36 0h8M1584 1364.6h12m127 0h8m33 0h4m115 0h37M1486 1368.6h5m8 0h8m71 0h4m129 0h42m16 0h13m100 0h8m12 0h9m8 0h4M1488 1372.6h21m67 0h4m199 0h8m34 0h4m38 0h21m22 0h8m8 0h5M1497 1376.6h13m107 0h5m8 0h4m150 0h9m17 0h60m38 0h22M1495 1380.7h22m21 0h18m17 0h4m217 0h18m8 0h18m4 0h30M1492 1384.7h31m5 0h17m13 0h9m233 0h9m39 0h22M1494 1388.7h9m342 0h23" stroke="#e8896c"/>
<path d="M1667 1332.4h4m23 0h7M1445 1336.4h4m10 0h4m144 0h3m4 0h3m25 0h7m59 0h4M1460 1340.4h3m123 0h4m7 0h4m25 0h3m83 0h4m224 0h11M1457 1344.4h8m92 0h4m26 0h4m122 0h4m14 0h8m155 0h15m19 0h7m4 0h3M1497 1348.5h8m76 0h7m148 0h8m144 0h19M1497 1352.5h15m39 0h4m31 0h4m147 0h8m124 0h15m4 0h8M1501 1356.5h16m51 0h4m16 0h8m142 0h4m130 0h24M1493 1360.5h24m73 0h8m137 0h8m24 0h4m104 0h4m13 0h8M1490 1364.6h4m8 0h12m66 0h4m147 0h33m4 0h21m90 0h4M1491 1368.6h8m8 0h9m58 0h4m204 0h8m25 0h13m33 0h21m29 0h8M1509 1372.6h8m270 0h5m16 0h13m4 0h17m4 0h17m51 0h8M1510 1376.6h9m21 0h13m22 0h4m43 0h8m163 0h17M1517 1380.7h4m9 0h8m18 0h4m9 0h4m43 0h5m8 0h5M1523 1384.7h5" stroke="#e27b62"/>
<path d="M1664 1332.4h3m34 0h4M1440 1336.4h5m18 0h3m116 0h7m14 0h4m10 0h4m17 0h4m70 0h3M1463 1340.4h8m245 0h33m144 0h32m11 0h4M1465 1344.4h41m233 0h11m133 0h11m41 0h4M1505 1348.5h15m30 0h4m190 0h7m110 0h27M1512 1352.5h12m50 0h4m167 0h7m113 0h4m15 0h4M1517 1356.5h8m27 0h4m28 0h4m154 0h27m44 0h12m8 0h8m27 0h4M1517 1360.5h4m37 0h12m12 0h8m153 0h24m4 0h16m24 0h40m20 0h4M1494 1364.6h8m12 0h8m46 0h12m209 0h4m16 0h70M1516 1368.6h4m45 0h9m216 0h8m5 0h12m13 0h33M1517 1372.6h4m21 0h17m13 0h4m216 0h16m34 0h4M1519 1376.6h4m9 0h8m13 0h9m8 0h5M1521 1380.7h9m30 0h9m52 0h8" stroke="#dc6e57"/>
<path d="M1456 1332.4h14m190 0h4m41 0h6M1466 1336.4h7m162 0h3m77 0h4m18 0h21m168 0h23M1471 1340.4h3m7 0h11m80 0h3m15 0h7m152 0h7m130 0h7m32 0h11M1506 1344.4h14m8 0h11m15 0h3m193 0h4m100 0h29M1520 1348.5h23m4 0h3m201 0h4m76 0h11m15 0h4M1524 1352.5h12m11 0h4m27 0h8m166 0h12m47 0h7m12 0h12m19 0h4M1525 1356.5h7m40 0h4m4 0h4m185 0h12m24 0h8m12 0h8m8 0h7m12 0h8M1521 1360.5h8m41 0h12m205 0h24m40 0h20M1522 1364.6h9m28 0h9m225 0h16M1520 1368.6h12m21 0h12m233 0h5M1521 1372.6h21m17 0h13M1523 1376.6h9m30 0h8" stroke="#d6604d"/>
<path d="M1668 1328.4h26M1447 1332.4h9m14 0h3m133 0h10m95 0h4m34 0h7m156 0h14M1473 1336.4h4m10 0h14m78 0h3m7 0h4m7 0h3m18 0h14m84 0h18m21 0h7m122 0h15m7 0h17M1474 1340.4h7m11 0h11m7 0h4m54 0h4m184 0h3m91 0h36M1520 1344.4h8m11 0h7m4 0h4m200 0h3m63 0h34M1543 1348.5h4m208 0h4m49 0h23m11 0h15M1536 1352.5h11m217 0h12m27 0h8m7 0h12m12 0h19M1532 1356.5h4m12 0h4m24 0h4m201 0h8m8 0h8m43 0h12M1529 1360.5h8m17 0h4M1531 1364.6h4m16 0h8M1532 1368.6h4m9 0h8" stroke="#cf5246"/>
<path d="M1665 1328.4h3m26 0h7M1473 1332.4h7m13 0h28m95 0h3m35 0h6m55 0h10m7 0h17m7 0h7m146 0h3m14 0h16M1477 1336.4h10m14 0h11m81 0h7m165 0h7m94 0h11m7 0h3m15 0h7M1503 1340.4h7m4 0h11m36 0h7m191 0h11m47 0h33M1546 1344.4h4m207 0h19m26 0h18M1759 1348.5h19m19 0h11M1776 1352.5h7m12 0h8M1536 1356.5h12m241 0h8M1550 1360.5h4M1535 1364.6h4m8 0h4M1536 1368.6h9" stroke="#c6413e"/>
<path d="M1675 1324.3h7M1464 1328.4h13m224 0h7m201 0h10M1480 1332.4h3m7 0h3m28 0h3m61 0h11m6 0h4m13 0h4m20 0h11m71 0h7m31 0h6m4 0h7m102 0h27M1512 1336.4h14m246 0h10m14 0h7m25 0h3m14 0h21m11 0h7M1525 1340.4h36m209 0h7m18 0h22M1776 1344.4h4m14 0h8M1778 1348.5h4m7 0h8M1783 1352.5h12M1537 1360.5h13M1539 1364.6h8" stroke="#bf3338"/>
<path d="M1669 1324.3h6m7 0h12M1455 1328.4h9m13 0h6m17 0h26m135 0h4m43 0h6m165 0h7m13 0h10m10 0h15M1483 1332.4h7m34 0h3m69 0h6m34 0h7m126 0h4m7 0h6m7 0h7m44 0h38M1526 1336.4h3m25 0h7m14 0h4m203 0h4m7 0h3m7 0h25m3 0h14M1777 1340.4h18M1780 1344.4h14M1782 1348.5h7" stroke="#b82531"/>
<path d="M1666 1324.3h3m25 0h7M1483 1328.4h4m6 0h7m26 0h4m75 0h14m95 0h46m96 0h23m7 0h13M1527 1332.4h4m51 0h3m38 0h13m150 0h7m7 0h7m34 0h3M1529 1336.4h7m14 0h4m7 0h7m218 0h7" stroke="#b1182b"/>
<path d="M1701 1324.3h6M1487 1328.4h6m37 0h3m6 0h10m23 0h4m13 0h16m14 0h3m33 0h6m99 0h23m7 0h10m39 0h17M1531 1332.4h10m14 0h20m232 0h34M1536 1336.4h7m4 0h3m18 0h7" stroke="#a21328"/>
<path d="M1464 1324.3h27m13 0h31m128 0h3m41 0h3m147 0h68M1533 1328.4h6m10 0h23m4 0h3m7 0h3m33 0h3m17 0h13m128 0h7m10 0h3m17 0h3m13 0h3M1541 1332.4h14m20 0h7M1543 1336.4h4" stroke="#930e26"/>
<path d="M1491 1324.3h13m31 0h4m6 0h22m45 0h6m41 0h4m47 0h26m98 0h23M1579 1328.4h7m39 0h17m161 0h3m4 0h10m3 0h7m3 0h3" stroke="#840924"/>
<path d="M1472 1320.3h73m12 0h18m147 0h9m76 0h10m9 0h90M1539 1324.3h6m22 0h16m10 0h19m6 0h16m13 0h12m77 0h25m7 0h31m10 0h13m9 0h3M1806 1328.4h4m20 0h3" stroke="#760521"/>
<path d="M1545 1320.3h12m18 0h147m9 0h76m10 0h9M1583 1324.3h10m41 0h13m114 0h7m31 0h10m13 0h9" stroke="#67001f"/>
</g>
<g clip-path="url(#cl1)"><use href="#coast" transform="translate(1694.4 1495.3)"/></g>
<path d="M1909.7 1672.3L1911.0 1671.7L1914.8 1670.1L1920.9 1667.4L1928.7 1663.7L1937.8 1659.2L1947.6 1654.0L1957.9 1648.0L1968.1 1641.5L1978.2 1634.5L1987.9 1627.0L1997.1 1619.1L2005.8 1610.9L2013.9 1602.3L2021.3 1593.4L2028.1 1584.3L2034.3 1575.0L2039.7 1565.4L2044.5 1555.7L2048.5 1545.9L2051.8 1535.9L2054.4 1525.8L2056.3 1515.7L2057.4 1505.5L2057.8 1495.3L2057.4 1485.1L2056.3 1474.9L2054.4 1464.8L2051.8 1454.7L2048.5 1444.7L2044.5 1434.9L2039.7 1425.2L2034.3 1415.6L2028.1 1406.3L2021.3 1397.2L2013.9 1388.3L2005.8 1379.7L1997.1 1371.5L1987.9 1363.6L1978.2 1356.1L1968.1 1349.1L1957.9 1342.6L1947.6 1336.6L1937.8 1331.4L1928.7 1326.9L1920.9 1323.2L1914.8 1320.5L1911.0 1318.9L1909.7 1318.3L1479.1 1318.3L1477.8 1318.9L1474.0 1320.5L1467.9 1323.2L1460.1 1326.9L1451.0 1331.4L1441.2 1336.6L1430.9 1342.6L1420.7 1349.1L1410.6 1356.1L1400.9 1363.6L1391.7 1371.5L1383.0 1379.7L1374.9 1388.3L1367.5 1397.2L1360.7 1406.3L1354.5 1415.6L1349.1 1425.2L1344.3 1434.9L1340.3 1444.7L1337.0 1454.7L1334.4 1464.8L1332.5 1474.9L1331.4 1485.1L1331.0 1495.3L1331.4 1505.5L1332.5 1515.7L1334.4 1525.8L1337.0 1535.9L1340.3 1545.9L1344.3 1555.7L1349.1 1565.4L1354.5 1575.0L1360.7 1584.3L1367.5 1593.4L1374.9 1602.3L1383.0 1610.9L1391.7 1619.1L1400.9 1627.0L1410.6 1634.5L1420.7 1641.5L1430.9 1648.0L1441.2 1654.0L1451.0 1659.2L1460.1 1663.7L1467.9 1667.4L1474.0 1670.1L1477.8 1671.7L1479.1 1672.3Z" fill="none" stroke="#111" stroke-width="3.6" stroke-linejoin="round"/>
<clipPath id="cl2"><path d="M1915.3 2168.8L1916.6 2168.3L1920.5 2166.6L1926.5 2163.9L1934.3 2160.3L1943.4 2155.9L1953.3 2150.7L1963.6 2144.8L1973.8 2138.4L1983.9 2131.5L1993.7 2124.1L2002.9 2116.3L2011.6 2108.2L2019.7 2099.7L2027.1 2090.9L2033.9 2081.9L2040.1 2072.7L2045.5 2063.3L2050.3 2053.7L2054.3 2043.9L2057.6 2034.1L2060.2 2024.1L2062.1 2014.1L2063.2 2004.1L2063.6 1994.0L2063.2 1983.9L2062.1 1973.9L2060.2 1963.9L2057.6 1953.9L2054.3 1944.1L2050.3 1934.3L2045.5 1924.7L2040.1 1915.3L2033.9 1906.1L2027.1 1897.1L2019.7 1888.3L2011.6 1879.8L2002.9 1871.7L1993.7 1863.9L1983.9 1856.5L1973.8 1849.6L1963.6 1843.2L1953.3 1837.3L1943.4 1832.1L1934.3 1827.7L1926.5 1824.1L1920.5 1821.4L1916.6 1819.7L1915.3 1819.2L1484.3 1819.2L1483.0 1819.7L1479.1 1821.4L1473.1 1824.1L1465.3 1827.7L1456.2 1832.1L1446.3 1837.3L1436.0 1843.2L1425.8 1849.6L1415.7 1856.5L1405.9 1863.9L1396.7 1871.7L1388.0 1879.8L1379.9 1888.3L1372.5 1897.1L1365.7 1906.1L1359.5 1915.3L1354.1 1924.7L1349.3 1934.3L1345.3 1944.1L1342.0 1953.9L1339.4 1963.9L1337.5 1973.9L1336.4 1983.9L1336.0 1994.0L1336.4 2004.1L1337.5 2014.1L1339.4 2024.1L1342.0 2034.1L1345.3 2043.9L1349.3 2053.7L1354.1 2063.3L1359.5 2072.7L1365.7 2081.9L1372.5 2090.9L1379.9 2099.7L1388.0 2108.2L1396.7 2116.3L1405.9 2124.1L1415.7 2131.5L1425.8 2138.4L1436.0 2144.8L1446.3 2150.7L1456.2 2155.9L1465.3 2160.3L1473.1 2163.9L1479.1 2166.6L1483.0 2168.3L1484.3 2168.8Z"/></clipPath>
<g clip-path="url(#cl2)" fill="none" stroke-width="5.1">
<path d="M1915.3 2168.8L1916.6 2168.3L1920.5 2166.6L1926.5 2163.9L1934.3 2160.3L1943.4 2155.9L1953.3 2150.7L1963.6 2144.8L1973.8 2138.4L1983.9 2131.5L1993.7 2124.1L2002.9 2116.3L2011.6 2108.2L2019.7 2099.7L2027.1 2090.9L2033.9 2081.9L2040.1 2072.7L2045.5 2063.3L2050.3 2053.7L2054.3 2043.9L2057.6 2034.1L2060.2 2024.1L2062.1 2014.1L2063.2 2004.1L2063.6 1994.0L2063.2 1983.9L2062.1 1973.9L2060.2 1963.9L2057.6 1953.9L2054.3 1944.1L2050.3 1934.3L2045.5 1924.7L2040.1 1915.3L2033.9 1906.1L2027.1 1897.1L2019.7 1888.3L2011.6 1879.8L2002.9 1871.7L1993.7 1863.9L1983.9 1856.5L1973.8 1849.6L1963.6 1843.2L1953.3 1837.3L1943.4 1832.1L1934.3 1827.7L1926.5 1824.1L1920.5 1821.4L1916.6 1819.7L1915.3 1819.2L1484.3 1819.2L1483.0 1819.7L1479.1 1821.4L1473.1 1824.1L1465.3 1827.7L1456.2 1832.1L1446.3 1837.3L1436.0 1843.2L1425.8 1849.6L1415.7 1856.5L1405.9 1863.9L1396.7 1871.7L1388.0 1879.8L1379.9 1888.3L1372.5 1897.1L1365.7 1906.1L1359.5 1915.3L1354.1 1924.7L1349.3 1934.3L1345.3 1944.1L1342.0 1953.9L1339.4 1963.9L1337.5 1973.9L1336.4 1983.9L1336.0 1994.0L1336.4 2004.1L1337.5 2014.1L1339.4 2024.1L1342.0 2034.1L1345.3 2043.9L1349.3 2053.7L1354.1 2063.3L1359.5 2072.7L1365.7 2081.9L1372.5 2090.9L1379.9 2099.7L1388.0 2108.2L1396.7 2116.3L1405.9 2124.1L1415.7 2131.5L1425.8 2138.4L1436.0 2144.8L1446.3 2150.7L1456.2 2155.9L1465.3 2160.3L1473.1 2163.9L1479.1 2166.6L1483.0 2168.3L1484.3 2168.8Z" fill="#e2f0ee" stroke="none"/>
<path d="M1651 1930.6h10M1651 1935h10" stroke="#b57826"/>
<path d="M1661 1930.6h5M1646 1935h5m10 0h5M1537 2066.1h10" stroke="#c58e3d"/>
<path d="M1656 1926.3h5M1647 1930.6h4M1646 1939.4h10M1546 1952.5h15M1555 1956.9h5M1680 2039.9h10M1521 2057.4h9M1536 2061.7h10" stroke="#d2a75c"/>
<path d="M1652 1926.3h4m5 0h5M1666 1930.6h5M1641 1935h5M1641 1939.4h5m10 0h10M1551 1948.1h10M1541 1952.5h5m15 0h5M1540 1956.9h15m5 0h5M1440 2026.8h5M1456 2031.1h10M1457 2035.5h14m209 0h20M1467 2039.9h5m5 0h5m193 0h5m10 0h10M1478 2044.3h15m5 0h5m177 0h10M1494 2048.6h10M1500 2053h5m5 0h19M1516 2057.4h5m9 0h5M1527 2061.7h9M1533 2066.1h4m10 0h5M1538 2070.5h10" stroke="#dec17b"/>
<path d="M1647 1926.3h5m14 0h5M1642 1930.6h5M1588 1935h9m35 0h9m25 0h5M1587 1939.4h10m15 0h5m19 0h5M1562 1943.7h5m74 0h10M1542 1948.1h9m10 0h10m60 0h5m9 0h5M1566 1952.5h5m59 0h20M1371 1956.9h5m189 0h5m65 0h10M1370 1961.2h5m175 0h15M1429 2022.4h15m231 0h10M1435 2026.8h5M1441 2031.1h15m10 0h5m209 0h20M1452 2035.5h5m14 0h10m194 0h5M1462 2039.9h5m5 0h5m5 0h5M1473 2044.3h5m15 0h5m5 0h5m167 0h5m10 0h10M1489 2048.6h5m10 0h15M1495 2053h5m5 0h5M1511 2057.4h5m19 0h5m165 0h4M1517 2061.7h10m19 0h5m149 0h9M1528 2066.1h5m181 0h5M1534 2070.5h4m10 0h5m161 0h5" stroke="#e8d29a"/>
<path d="M1652 1921.9h14M1642 1926.3h5M1588 1930.6h10m34 0h10M1597 1935h5m5 0h25m39 0h4M1558 1939.4h29m10 0h15m5 0h19M1542 1943.7h10m5 0h5m5 0h5m5 0h10m5 0h4m15 0h5m5 0h20m10 0h5M1626 1948.1h5m5 0h9m5 0h5m159 0h9M1536 1952.5h5m30 0h5m74 0h10m154 0h15M1366 1956.9h5m5 0h5m154 0h5m30 0h5m55 0h5m10 0h10M1365 1961.2h5m165 0h15M1554 1965.6h5M1424 2018h15m236 0h10m10 0h10M1424 2022.4h5m236 0h10m10 0h20M1430 2026.8h5m10 0h20m200 0h40M1436 2031.1h5m30 0h5m189 0h15m20 0h5M1442 2035.5h10m218 0h5m25 0h5M1458 2039.9h4m25 0h20m163 0h5m25 0h20M1468 2044.3h5m35 0h10m152 0h5m25 0h10M1484 2048.6h5m30 0h9m147 0h39M1490 2053h5m34 0h5m146 0h20m5 0h9M1506 2057.4h5m29 0h5m140 0h20m4 0h5M1512 2061.7h5m178 0h5m9 0h5m164 0h14M1523 2066.1h5m24 0h4m144 0h14m5 0h5m153 0h33M1529 2070.5h5m171 0h9m5 0h5m156 0h24M1540 2074.9h9m165 0h5" stroke="#f1e1b5"/>
<path d="M1872 1908.8h5M1638 1917.5h14M1461 1921.9h5m172 0h14m14 0h5M1632 1926.3h10M1545 1930.6h14m15 0h14m10 0h34m39 0h5m300 0h5M1427 1935h5m117 0h39m14 0h5m429 0h5M1421 1939.4h9m113 0h15m108 0h4M1537 1943.7h5m10 0h5m15 0h5m10 0h5m4 0h15m5 0h5m35 0h4m350 0h10M1537 1948.1h5m29 0h15m5 0h5m10 0h10m5 0h5m29 0h5m163 0h5m183 0h5m5 0h10M1362 1952.5h10m159 0h5m40 0h5m29 0h5m10 0h5M1356 1956.9h10m15 0h10m5 0h10m124 0h5m90 0h5m25 0h5M1360 1961.2h5m10 0h5m15 0h10m125 0h5m30 0h5M1364 1965.6h10m170 0h10m5 0h5M1418 2013.7h20m237 0h5m15 0h10M1419 2018h5m15 0h5m226 0h5m10 0h10M1444 2022.4h15m246 0h5M1465 2026.8h5m190 0h5m40 0h5M1391 2031.1h5m35 0h5m40 0h5m179 0h5m50 0h5M1437 2035.5h5m39 0h15m169 0h5m35 0h20M1443 2039.9h5m59 0h5m208 0h5M1464 2044.3h4m50 0h5m187 0h9M1474 2048.6h10m44 0h5m137 0h5m39 0h5m49 0h5m79 0h5M1354 2053h5m126 0h5m210 0h5m9 0h10M1356 2057.4h5m140 0h5m39 0h5m130 0h5m29 0h10m82 0h5M1551 2061.7h4m130 0h10m19 0h10m62 0h5m15 0h4m63 0h5m14 0h20M1480 2066.1h5m33 0h5m134 0h5m33 0h5m95 0h5m72 0h5m33 0h10M1524 2070.5h5m24 0h4m138 0h10m90 0h4m72 0h9m24 0h5M1535 2074.9h5m9 0h10m75 0h5m61 0h14m5 0h4m165 0h9M1891 2079.2h5M1489 2096.7h5M1527 2101.1h5" stroke="#f6ebcd"/>
<path d="M1445 1869.4h4M1437 1873.8h8M1528 1878.2h4m30 0h4m112 0h5M1525 1882.6h4m66 0h4m27 0h4m44 0h8m66 0h4m175 0h4M1523 1886.9h13m58 0h4m146 0h9m146 0h4m27 0h4M1664 1891.3h4m77 0h9m125 0h4m54 0h5M1659 1895.7h9M1379 1900h5m9 0h5m219 0h5m32 0h14M1404 1904.4h4m130 0h5m74 0h4m33 0h13m42 0h5m9 0h5m148 0h4M1597 1908.8h5m23 0h14m9 0h19m42 0h9m98 0h10m51 0h9m47 0h5m60 0h5M1446 1913.1h23m85 0h14m28 0h5m23 0h33m5 0h5m202 0h10m4 0h5m113 0h5M1387 1917.5h14m62 0h9m76 0h24m9 0h5m9 0h5m29 0h9m14 0h15m280 0h4M1360 1921.9h5m24 0h10m19 0h14m34 0h4m53 0h5m9 0h5m10 0h4m24 0h5m10 0h4m24 0h15m43 0h9m258 0h10m19 0h10m38 0h9M1392 1926.3h5m19 0h9m29 0h15m53 0h5m14 0h19m19 0h29m5 0h5m5 0h9m39 0h5m231 0h5m62 0h10m38 0h15M1366 1930.6h4m39 0h10m10 0h4m20 0h5m63 0h9m10 0h5m14 0h15m329 0h15m29 0h5m29 0h5m4 0h5m15 0h34M1359 1935h5m48 0h5m5 0h5m5 0h5m19 0h5m59 0h9m395 0h5m19 0h5m24 0h20m10 0h9m15 0h5m5 0h5M1357 1939.4h10m14 0h10m25 0h5m9 0h5m84 0h4m147 0h5m147 0h5m88 0h10m25 0h4m25 0h10m5 0h5m4 0h20m10 0h10M1355 1943.7h5m59 0h15m25 0h5m19 0h5m44 0h5m123 0h5m148 0h15m143 0h14m20 0h5m10 0h19M1388 1948.1h5m134 0h10m49 0h5m5 0h10m10 0h5m207 0h5m109 0h5m15 0h5m10 0h5m34 0h5m10 0h15M1357 1952.5h5m10 0h25m5 0h5m119 0h5m50 0h5m5 0h5m9 0h5m5 0h10m35 0h5m144 0h5m15 0h5m179 0h19m5 0h10M1346 1956.9h10m35 0h5m10 0h5m60 0h5m49 0h5m45 0h5m30 0h5m5 0h5m35 0h5m149 0h15m130 0h5m55 0h10m10 0h5M1350 1961.2h10m20 0h15m10 0h5m40 0h5m70 0h5m40 0h5m50 0h30m170 0h5M1374 1965.6h15m5 0h15m115 0h20M1549 1970h15m5 0h5M1559 1974.3h15m247 0h5M1423 2009.3h5m247 0h5M1438 2013.7h5m227 0h5m5 0h5M1413 2018h6m25 0h5m5 0h10m150 0h5m41 0h10m35 0h10M1389 2022.4h5m20 0h10m35 0h5m55 0h5m91 0h5m35 0h10m45 0h5M1385 2026.8h15m15 0h5m5 0h5m40 0h5m10 0h5m20 0h20m105 0h10m5 0h10m50 0h10M1376 2031.1h15m5 0h5m80 0h15m19 0h5m120 0h10m55 0h10m5 0h15M1382 2035.5h20m30 0h5m59 0h5m139 0h5m15 0h5m60 0h5M1388 2039.9h10m40 0h5m5 0h10m54 0h10m138 0h10m55 0h4m50 0h10m20 0h14m164 0h4m45 0h5M1390 2044.3h10m24 0h5m5 0h15m5 0h10m59 0h9m124 0h14m49 0h5m40 0h5m29 0h20m10 0h10m54 0h15m123 0h5M1352 2048.6h5m34 0h5m39 0h10m5 0h5m15 0h4m59 0h10m10 0h5m98 0h14m49 0h5m35 0h9m35 0h9m15 0h10m20 0h4m5 0h20m10 0h10m39 0h5m83 0h5M1347 2053h7m5 0h5m78 0h4m30 0h9m49 0h29m98 0h19m44 0h5m39 0h5m24 0h15m10 0h9m15 0h15m4 0h20m10 0h9m15 0h5m19 0h5m59 0h9M1349 2057.4h7m5 0h5m38 0h15m34 0h9m20 0h19m49 0h14m58 0h10m29 0h19m44 0h5m53 0h5m15 0h4m5 0h20m14 0h15m4 0h49m92 0h14m15 0h17M1351 2061.7h12m48 0h10m33 0h29m5 0h24m111 0h9m10 0h5m9 0h5m5 0h10m5 0h4m77 0h10m10 0h4m5 0h5m5 0h5m4 0h49m4 0h10m39 0h4m82 0h19m15 0h5M1380 2066.1h9m5 0h5m14 0h10m33 0h24m5 0h24m4 0h5m38 0h5m48 0h5m9 0h10m19 0h5m24 0h14m29 0h4m39 0h4m15 0h9m5 0h29m5 0h24m9 0h5m119 0h10m38 0h7M1363 2070.5h5m9 0h10m28 0h10m71 0h5m19 0h4m81 0h5m19 0h9m19 0h10m9 0h19m29 0h19m18 0h10m19 0h5m4 0h5m5 0h19m9 0h10m14 0h10m38 0h14m14 0h5m47 0h5m43 0h6M1384 2074.9h5m19 0h5m33 0h4m80 0h5m24 0h4m19 0h14m33 0h5m5 0h4m14 0h5m14 0h5m9 0h10m23 0h5m89 0h5m47 0h5m5 0h9m9 0h15m23 0h5m38 0h14M1387 2079.2h9m19 0h5m23 0h9m84 0h28m19 0h9m19 0h9m10 0h14m9 0h9m42 0h24m88 0h5m65 0h5m14 0h5m23 0h5m37 0h14M1418 2083.6h9m9 0h5m176 0h4m37 0h5m41 0h10m101 0h19m111 0h4M1439 2088h9m179 0h9m68 0h10m36 0h5m59 0h9m119 0h5m46 0h4M1405 2092.3h5m77 0h4m136 0h9m68 0h9m37 0h4m55 0h13m118 0h4m32 0h18M1409 2096.7h4m40 0h5m27 0h4m36 0h5m134 0h4m50 0h4m94 0h5M1408 2101.1h4m40 0h9m26 0h9m36 0h4m128 0h5m106 0h4m49 0h9m66 0h5M1529 2105.4h5m131 0h4m162 0h4M1687 2109.8h4" stroke="#f5f0e0"/>
<path d="M1906 1838.9h4M1700 1847.6h4M1599 1860.7h4M1450 1865.1h4m16 0h4m423 0h4M1412 1869.4h4m25 0h4m21 0h4m155 0h8m58 0h5m121 0h4m21 0h4m67 0h8m58 0h5M1407 1873.8h4m34 0h5m8 0h8m5 0h8m47 0h13m25 0h9m29 0h9m12 0h5m51 0h17m55 0h8m4 0h5m42 0h4m5 0h4m13 0h12m21 0h13m34 0h9m59 0h4m5 0h8M1424 1878.2h13m4 0h5m21 0h9m47 0h5m17 0h4m9 0h4m4 0h5m25 0h5m26 0h4m9 0h4m21 0h5m4 0h4m5 0h12m9 0h4m26 0h5m8 0h9m43 0h4m9 0h4m22 0h13m12 0h35m21 0h9m52 0h4m4 0h5m13 0h6M1383 1882.6h7m22 0h4m4 0h5m35 0h13m56 0h18m13 0h4m18 0h4m5 0h4m4 0h5m17 0h5m4 0h4m35 0h5m8 0h5m26 0h4m18 0h13m4 0h13m13 0h9m13 0h9m9 0h4m22 0h17m5 0h4m4 0h5m9 0h21m14 0h4m4 0h5m21 0h9m13 0h18m13 0h6M1386 1886.9h8m62 0h23m13 0h18m4 0h9m13 0h13m40 0h5m4 0h9m62 0h13m18 0h26m9 0h9m9 0h9m17 0h18m22 0h31m9 0h9m9 0h9m8 0h5m4 0h9m22 0h5m9 0h4m9 0h13m9 0h9m4 0h5M1382 1891.3h9m62 0h23m22 0h9m9 0h18m9 0h5m8 0h9m27 0h18m45 0h9m4 0h14m18 0h18m4 0h23m9 0h4m22 0h14m9 0h13m27 0h5m22 0h9m4 0h5m18 0h9m9 0h13m5 0h22m27 0h4M1383 1895.7h4m9 0h5m9 0h4m105 0h9m9 0h9m18 0h13m5 0h32m22 0h5m13 0h5m9 0h18m14 0h9m27 0h27m23 0h9m27 0h9m41 0h14m22 0h9m9 0h23m4 0h14m14 0h9m18 0h9M1375 1900h4m5 0h9m14 0h9m5 0h27m23 0h4m60 0h14m13 0h28m4 0h23m5 0h5m4 0h9m28 0h4m9 0h10m4 0h5m23 0h4m28 0h13m19 0h9m18 0h32m28 0h9m23 0h4m19 0h23m9 0h9m5 0h4m23 0h5m9 0h4M1376 1904.4h5m4 0h10m4 0h5m4 0h28m23 0h5m5 0h4m60 0h5m5 0h9m4 0h33m4 0h10m9 0h5m4 0h19m9 0h5m13 0h5m9 0h10m9 0h9m5 0h9m5 0h9m18 0h14m46 0h10m18 0h5m23 0h5m4 0h5m14 0h13m14 0h37m14 0h37m5 0h16M1373 1908.8h51m5 0h5m9 0h28m51 0h5m9 0h52m4 0h5m5 0h23m14 0h9m19 0h5m9 0h9m5 0h5m4 0h5m9 0h5m5 0h9m28 0h5m32 0h5m61 0h4m14 0h5m9 0h10m18 0h5m5 0h28m14 0h18m5 0h35M1366 1913.1h37m5 0h5m19 0h14m23 0h14m66 0h5m14 0h5m9 0h14m5 0h14m42 0h5m5 0h5m33 0h14m14 0h4m76 0h14m38 0h4m10 0h4m5 0h5m9 0h10m23 0h19m28 0h19m5 0h4m15 0h9M1363 1917.5h24m14 0h5m14 0h33m5 0h5m9 0h10m38 0h9m9 0h10m24 0h9m5 0h9m5 0h10m14 0h5m38 0h9m5 0h9m181 0h4m10 0h5m47 0h10m4 0h5m9 0h5m5 0h19m5 0h14m9 0h15M1354 1921.9h6m5 0h24m10 0h4m10 0h5m14 0h14m10 0h5m9 0h10m5 0h4m24 0h10m5 0h9m5 0h10m4 0h24m5 0h10m4 0h24m48 0h10m9 0h10m95 0h5m96 0h9m53 0h19m10 0h4m15 0h19m9 0h5M1351 1926.3h26m5 0h10m5 0h19m9 0h29m15 0h14m24 0h15m5 0h14m19 0h5m5 0h9m29 0h5m5 0h5m274 0h10m5 0h9m10 0h5m9 0h29m10 0h14m10 0h14m15 0h5M1349 1930.6h17m4 0h5m10 0h24m10 0h10m4 0h20m5 0h24m29 0h10m9 0h10m136 0h4m141 0h5m24 0h10m38 0h5m15 0h14m5 0h10m5 0h5m4 0h15m10 0h4m5 0h15m34 0h7M1347 1935h12m5 0h5m4 0h25m5 0h9m5 0h5m15 0h9m5 0h5m5 0h20m4 0h15m10 0h10m9 0h5m10 0h5m126 0h5m171 0h14m35 0h24m5 0h5m5 0h9m5 0h5m5 0h5m5 0h4m20 0h10m9 0h15m15 0h7M1352 1939.4h5m20 0h4m10 0h15m5 0h5m19 0h10m10 0h19m10 0h10m20 0h5m14 0h10m132 0h5m132 0h10m30 0h9m5 0h10m30 0h9m10 0h5m10 0h10m4 0h10m10 0h5m10 0h5m5 0h4m20 0h10m10 0h5M1343 1943.7h12m5 0h5m15 0h20m14 0h5m15 0h5m15 0h5m5 0h9m5 0h5m5 0h5m20 0h19m276 0h5m15 0h5m19 0h20m35 0h4m5 0h10m10 0h20m5 0h10m14 0h5m5 0h10m34 0h5M1342 1948.1h46m5 0h5m20 0h20m20 0h14m5 0h10m35 0h5m133 0h5m144 0h5m39 0h5m5 0h10m10 0h5m34 0h5m10 0h5m5 0h15m5 0h10m5 0h5m19 0h5m35 0h12M1340 1952.5h17m40 0h5m5 0h25m15 0h15m4 0h10m5 0h15m25 0h5m60 0h5m5 0h9m229 0h5m99 0h50m20 0h5m19 0h5m10 0h12M1339 1956.9h7m65 0h50m5 0h5m5 0h20m19 0h10m55 0h15m5 0h10m5 0h5m45 0h10m134 0h5m15 0h15m35 0h5m70 0h5m5 0h15m20 0h5m5 0h10m10 0h5m10 0h9M1345 1961.2h5m60 0h5m20 0h5m5 0h5m5 0h5m25 0h10m10 0h15m55 0h15m20 0h5m5 0h5m30 0h10m150 0h10m5 0h5m40 0h10m45 0h10m25 0h15m20 0h5m10 0h5m20 0h15M1337 1965.6h17m5 0h5m25 0h5m15 0h5m25 0h10m55 0h10m50 0h11m5 0h5m35 0h15m10 0h10m15 0h10m130 0h25m10 0h5m120 0h10m20 0h5m36 0h22M1363 1970h20m15 0h5m116 0h30m15 0h5m101 0h5m130 0h10m5 0h10m15 0h5m76 0h5m10 0h5m5 0h5m15 0h5M1549 1974.3h10m15 0h5m237 0h5m5 0h5m15 0h5m75 0h5M1564 1978.7h10m242 0h10M1418 2009.3h5m5 0h10m131 0h5m30 0h5m61 0h5m5 0h5m15 0h10M1358 2013.7h10m45 0h5m25 0h5m5 0h10m141 0h25m26 0h5m5 0h5m15 0h10m10 0h5m131 0h5m141 0h5M1363 2018h5m20 0h10m51 0h5m10 0h20m30 0h5m65 0h5m20 0h5m5 0h5m21 0h15m55 0h10m65 0h5m10 0h10m25 0h10m31 0h5m100 0h5M1364 2022.4h10m10 0h5m5 0h10m5 0h5m50 0h5m5 0h20m15 0h10m5 0h5m51 0h35m5 0h5m5 0h25m60 0h15m70 0h15m30 0h10m15 0h15m70 0h5m96 0h7M1365 2026.8h20m15 0h15m5 0h5m50 0h10m5 0h5m10 0h5m20 0h5m35 0h55m5 0h5m10 0h5m70 0h25m80 0h5m20 0h5m25 0h15m15 0h10m35 0h10m40 0h20m30 0h7M1371 2031.1h5m25 0h30m65 0h19m5 0h55m30 0h5m5 0h10m10 0h5m10 0h10m75 0h5m49 0h5m10 0h5m35 0h15m20 0h15m10 0h30m20 0h10m25 0h40m10 0h5M1377 2035.5h5m20 0h15m10 0h5m69 0h20m10 0h10m5 0h30m54 0h10m5 0h15m70 0h10m24 0h30m10 0h10m10 0h20m59 0h20m5 0h10m20 0h15m15 0h10m19 0h5m10 0h10M1364 2039.9h5m9 0h10m10 0h40m84 0h5m5 0h5m14 0h25m20 0h5m30 0h14m10 0h5m69 0h5m40 0h5m25 0h5m14 0h20m10 0h10m20 0h34m15 0h5m20 0h15m19 0h5m15 0h10m10 0h5m5 0h5M1343 2044.3h12m10 0h10m5 0h10m10 0h4m10 0h10m5 0h5m15 0h5m78 0h10m10 0h10m69 0h25m68 0h5m15 0h5m10 0h5m5 0h19m30 0h10m10 0h5m4 0h45m15 0h4m5 0h10m10 0h5m10 0h5m5 0h24m5 0h5m30 0h5m5 0h9m5 0h7M1345 2048.6h7m25 0h14m5 0h10m10 0h19m10 0h5m5 0h15m73 0h10m5 0h5m39 0h19m10 0h15m5 0h5m68 0h5m44 0h10m10 0h10m9 0h15m10 0h5m5 0h5m9 0h5m20 0h10m19 0h10m15 0h5m5 0h4m10 0h10m20 0h29m5 0h5m5 0h16M1378 2053h64m4 0h15m5 0h10m126 0h5m20 0h19m10 0h5m97 0h10m5 0h10m9 0h5m15 0h10m9 0h5m5 0h5m15 0h4m20 0h10m9 0h15m20 0h4m5 0h5m10 0h10m19 0h15m9 0h37M1366 2057.4h9m5 0h24m15 0h34m9 0h20m82 0h5m24 0h10m10 0h9m10 0h19m5 0h5m102 0h19m5 0h15m29 0h14m15 0h4m49 0h14m10 0h10m48 0h10m14 0h15M1363 2061.7h5m5 0h38m10 0h4m5 0h10m10 0h4m29 0h5m67 0h10m29 0h10m4 0h15m9 0h10m5 0h9m5 0h5m10 0h5m43 0h5m4 0h5m10 0h10m14 0h10m14 0h5m58 0h4m53 0h10m5 0h5m38 0h5m14 0h5m19 0h5m5 0h5m5 0h11M1354 2066.1h26m9 0h5m5 0h4m5 0h5m10 0h4m10 0h5m9 0h5m53 0h4m77 0h19m5 0h5m14 0h5m9 0h5m10 0h19m47 0h29m5 0h5m4 0h15m43 0h5m24 0h9m53 0h33m14 0h20m14 0h14m10 0h14M1356 2070.5h7m5 0h9m10 0h28m10 0h4m10 0h28m5 0h24m5 0h9m5 0h5m37 0h5m24 0h9m15 0h4m5 0h10m9 0h5m9 0h5m10 0h9m67 0h14m14 0h9m5 0h5m14 0h5m19 0h9m10 0h14m62 0h5m4 0h5m43 0h9m5 0h19m9 0h15M1359 2074.9h16m5 0h4m5 0h19m5 0h14m14 0h5m4 0h10m14 0h5m14 0h9m24 0h4m43 0h9m24 0h23m14 0h5m5 0h4m5 0h5m14 0h9m38 0h71m9 0h9m5 0h5m9 0h33m5 0h5m33 0h4m14 0h5m57 0h4m19 0h10m9 0h7M1362 2079.2h11m5 0h9m9 0h5m9 0h5m5 0h23m9 0h10m9 0h9m42 0h10m32 0h5m9 0h5m9 0h5m5 0h9m9 0h10m14 0h9m9 0h5m9 0h28m24 0h4m10 0h23m9 0h14m24 0h4m5 0h19m9 0h9m10 0h9m5 0h4m10 0h9m5 0h4m24 0h18m61 0h5m9 0h7M1365 2083.6h7m13 0h19m9 0h5m9 0h9m5 0h9m5 0h9m5 0h18m23 0h5m9 0h9m5 0h9m9 0h10m32 0h19m4 0h19m9 0h9m19 0h27m10 0h18m5 0h18m14 0h9m33 0h4m19 0h5m13 0h19m14 0h9m9 0h9m14 0h19m4 0h5m19 0h13m10 0h4m10 0h4m14 0h7M1393 2088h46m41 0h14m41 0h9m50 0h14m9 0h10m9 0h9m9 0h14m9 0h9m14 0h4m10 0h13m19 0h4m46 0h5m9 0h4m9 0h19m9 0h23m32 0h9m9 0h18m5 0h5m23 0h18m4 0h5m5 0h9m4 0h11M1401 2092.3h4m5 0h4m32 0h9m14 0h4m9 0h5m4 0h5m4 0h10m13 0h5m9 0h9m13 0h9m19 0h13m23 0h4m9 0h5m18 0h9m45 0h14m18 0h5m27 0h9m13 0h10m13 0h14m63 0h14m22 0h5m4 0h5m23 0h4m18 0h5m9 0h4M1404 2096.7h5m13 0h9m18 0h4m5 0h4m32 0h4m5 0h9m9 0h4m5 0h4m5 0h9m13 0h9m13 0h14m22 0h5m4 0h9m9 0h5m8 0h5m4 0h9m27 0h14m4 0h9m14 0h40m22 0h9m5 0h27m49 0h13m18 0h63m18 0h4M1386 2101.1h8m18 0h5m4 0h18m9 0h4m9 0h4m14 0h4m13 0h14m13 0h4m9 0h9m18 0h8m89 0h4m5 0h4m36 0h22m17 0h5m4 0h9m5 0h4m4 0h5m22 0h13m18 0h9m31 0h4m13 0h9m18 0h9m22 0h31m13 0h14M1390 2105.4h8m14 0h17m9 0h26m31 0h4m4 0h9m13 0h4m5 0h9m21 0h22m22 0h9m17 0h9m17 0h5m22 0h4m9 0h30m27 0h8m5 0h17m13 0h13m13 0h5m4 0h9m30 0h5m4 0h22m9 0h13m44 0h8m9 0h13M1398 2109.8h9m13 0h13m8 0h13m52 0h9m51 0h22m21 0h5m8 0h5m17 0h4m52 0h13m8 0h9m9 0h8m9 0h26m17 0h13m13 0h8m52 0h13m13 0h8m5 0h4m56 0h9M1428 2114.2h9m13 0h12m51 0h9m34 0h4m21 0h9m21 0h4m34 0h4m34 0h4m34 0h4m30 0h4m9 0h8m13 0h4m9 0h8m9 0h4m55 0h9m17 0h4m4 0h9m55 0h4M1650 2118.6h8m88 0h4m25 0h4m13 0h4m25 0h4m79 0h4m5 0h4M1446 2122.9h4m20 0h4m123 0h8m111 0h4m50 0h4m16 0h8M1450 2127.3h4M1818 2131.7h4m4 0h4m98 0h4M1465 2136h3m359 0h4m135 0h4M1959 2140.4h4M1953 2144.8h3M1738 2153.5h3M1560 2157.9h3M1565 2162.3h4" stroke="#f4f5f5"/>
<path d="M1477 1821.4h5m6 0h3m7 0h49m6 0h3m15 0h9m6 0h10m3 0h6m3 0h3m3 0h15m6 0h7m15 0h12m6 0h6m7 0h21m3 0h3m6 0h19m3 0h3m6 0h3m3 0h6m3 0h12m10 0h9m9 0h31m6 0h18m12 0h7m6 0h9m6 0h3M1473 1825.7h6m10 0h6m6 0h7m9 0h10m6 0h10m6 0h7m19 0h16m3 0h3m7 0h16m3 0h6m10 0h10m3 0h9m4 0h3m6 0h16m7 0h6m6 0h4m6 0h3m3 0h10m3 0h10m9 0h7m16 0h16m3 0h3m7 0h6m6 0h7m6 0h3m4 0h9m29 0h3m7 0h3m3 0h3m3 0h13m7 0h3M1464 1830.1h3m13 0h7m6 0h7m7 0h43m20 0h13m4 0h6m7 0h3m4 0h20m10 0h3m7 0h6m14 0h16m7 0h23m7 0h3m13 0h14m6 0h10m4 0h6m7 0h3m7 0h7m13 0h7m6 0h10m4 0h3m3 0h7m7 0h6m7 0h10m6 0h24m3 0h13m4 0h3M1450 1834.5h8m14 0h11m3 0h3m7 0h7m11 0h7m17 0h31m3 0h4m20 0h21m17 0h4m7 0h24m3 0h7m4 0h17m3 0h4m7 0h10m7 0h14m7 0h6m4 0h10m4 0h3m7 0h14m14 0h31m3 0h17m4 0h3m4 0h13m18 0h17m21 0h5M1441 1838.9h6m4 0h7m3 0h22m3 0h11m11 0h3m11 0h3m4 0h7m11 0h18m3 0h4m7 0h3m4 0h7m4 0h7m21 0h4m3 0h7m4 0h7m7 0h11m3 0h18m4 0h3m4 0h21m11 0h3m4 0h11m28 0h11m3 0h7m15 0h3m4 0h7m18 0h14m4 0h3m4 0h17m22 0h14m14 0h20M1440 1843.2h7m15 0h7m7 0h33m8 0h3m8 0h3m11 0h8m7 0h11m7 0h4m26 0h3m11 0h4m7 0h7m4 0h7m4 0h7m8 0h3m8 0h14m15 0h15m7 0h7m8 0h11m3 0h4m4 0h11m3 0h22m11 0h4m11 0h4m22 0h7m7 0h4m7 0h4m15 0h11m3 0h11m8 0h3m4 0h28M1436 1847.6h4m15 0h8m11 0h4m4 0h3m15 0h15m8 0h4m11 0h26m8 0h4m18 0h8m11 0h4m4 0h11m8 0h18m4 0h8m7 0h15m4 0h4m7 0h8m4 0h3m4 0h8m7 0h15m15 0h8m4 0h26m7 0h4m8 0h4m3 0h4m19 0h11m15 0h4m7 0h19m4 0h15m4 0h7m4 0h4m4 0h11M1426 1852h4m4 0h15m19 0h4m20 0h3m8 0h4m4 0h4m4 0h15m12 0h3m12 0h15m12 0h8m11 0h4m12 0h7m8 0h16m7 0h35m12 0h7m4 0h19m12 0h4m23 0h4m4 0h11m12 0h7m4 0h20m3 0h12m4 0h19m8 0h23m8 0h31m15 0h8M1420 1856.3h8m8 0h15m16 0h4m16 0h4m20 0h3m28 0h4m8 0h12m4 0h31m8 0h4m8 0h20m19 0h12m4 0h4m4 0h4m12 0h12m4 0h27m8 0h12m4 0h8m4 0h8m7 0h12m8 0h4m4 0h28m4 0h19m8 0h4m12 0h28m7 0h8m20 0h4m4 0h4M1408 1860.7h46m8 0h25m8 0h4m8 0h4m4 0h8m12 0h4m8 0h4m24 0h8m4 0h8m12 0h16m37 0h8m4 0h4m8 0h4m4 0h16m8 0h12m16 0h16m8 0h20m8 0h21m4 0h48m8 0h12m12 0h16m4 0h8m4 0h4m4 0h8m12 0h4m8 0h4m5 0h4M1421 1865.1h4m4 0h17m16 0h4m8 0h8m9 0h4m4 0h4m12 0h8m9 0h16m21 0h8m4 0h12m8 0h9m8 0h4m16 0h21m16 0h4m4 0h4m13 0h29m12 0h4m12 0h4m9 0h20m8 0h41m4 0h4m5 0h4m4 0h12m8 0h4m4 0h5m24 0h8m4 0h9m4 0h4m4 0h4m25 0h8M1397 1869.4h6m21 0h17m13 0h8m25 0h12m13 0h4m38 0h4m21 0h12m4 0h5m16 0h9m21 0h4m12 0h13m4 0h8m17 0h4m29 0h13m42 0h4m25 0h12m13 0h12m5 0h4m12 0h17m29 0h21m13 0h16m21 0h6M1416 1873.8h17m50 0h13m13 0h4m4 0h5m25 0h13m17 0h8m9 0h4m17 0h4m30 0h25m64 0h8m47 0h4m30 0h4m26 0h4m64 0h21m4 0h9M1398 1878.2h5m81 0h9m13 0h4m39 0h9m17 0h4m69 0h4m74 0h4m99 0h4m69 0h5m4 0h8m13 0h18m13 0h12M1398 1882.6h9m39 0h5m30 0h9m61 0h5m87 0h9m74 0h4m40 0h4m18 0h4m118 0h9M1399 1886.9h4m9 0h5m13 0h18m168 0h4m22 0h5m40 0h4m80 0h4m230 0h9M1395 1891.3h5m18 0h9m9 0h13m166 0h9m67 0h4m72 0h4m90 0h5m147 0h11M1496 1895.7h4m145 0h5m41 0h4m23 0h4m41 0h9m73 0h4m168 0h11M1448 1900h9m37 0h14m224 0h4m42 0h4m19 0h4m41 0h5m18 0h5m14 0h9M1445 1904.4h5m28 0h4m14 0h14m231 0h14m19 0h4m19 0h5m50 0h5m5 0h4m23 0h10M1499 1908.8h9m266 0h10m4 0h5m5 0h4m28 0h14m5 0h14M1417 1913.1h5m104 0h9m188 0h5m14 0h14m5 0h19m9 0h14m24 0h9m14 0h10m56 0h14M1501 1917.5h9m204 0h14m33 0h10m5 0h4m19 0h10m19 0h9m5 0h19m57 0h14M1451 1921.9h5m43 0h10m200 0h5m67 0h10m14 0h14m10 0h5m4 0h15m19 0h14m34 0h9M1488 1926.3h14m179 0h4m20 0h4m73 0h9m19 0h10m5 0h5m38 0h5m14 0h5M1492 1930.6h4m184 0h15m97 0h10m9 0h10m43 0h15m10 0h5M1685 1935h10m117 0h5m53 0h5m10 0h5M1445 1939.4h5m49 0h10m171 0h5m118 0h5m73 0h10M1675 1943.7h5m123 0h5m35 0h4m40 0h10m5 0h5M1665 1948.1h20m119 0h5m29 0h10m45 0h5M1511 1952.5h5m164 0h5m114 0h5m40 0h10m39 0h5m10 0h5M1680 1956.9h5m114 0h5m55 0h5m30 0h5m10 0h5M1460 1961.2h5m30 0h5m300 0h10m50 0h5m30 0h5m15 0h5m25 0h10M1414 1965.6h15m25 0h30m10 0h5m96 0h5m5 0h5m190 0h5m55 0h5m30 0h5m15 0h10m30 0h10M1353 1970h5m30 0h5m20 0h6m20 0h10m35 0h20m90 0h20m21 0h20m145 0h5m30 0h5m16 0h5m35 0h5m10 0h5m120 0h5M1335 1974.3h23m5 0h10m5 0h30m101 0h10m60 0h50m26 0h5m10 0h10m110 0h10m31 0h5m5 0h5m40 0h20m5 0h5m25 0h10m26 0h5m5 0h20m10 0h10m5 0h15m10 0h7M1518 1978.7h10m242 0h5m16 0h5m15 0h5m10 0h5m10 0h5m10 0h15m10 0h46m10 0h5m5 0h5m10 0h45m5 0h15m5 0h11m10 0h5M1528 1983.1h20m16 0h5m5 0h5m227 0h15m20 0h5m5 0h5m10 0h15m16 0h5m10 0h5m111 0h25M1796 1987.4h10m25 0h5m71 0h5M2048 1996.2h5m6 0h7M1553 2000.6h5m81 0h5m369 0h5m20 0h5m10 0h12M1334 2004.9h8m10 0h10m151 0h5m51 0h5m30 0h15m5 0h10m10 0h46m10 0h15m101 0h5m126 0h5m76 0h10m20 0h7M1335 2009.3h7m5 0h10m10 0h5m30 0h10m36 0h5m5 0h40m10 0h20m26 0h5m15 0h5m15 0h5m20 0h5m5 0h20m10 0h6m50 0h5m65 0h11m10 0h10m5 0h10m5 0h15m35 0h5m15 0h11m20 0h20m25 0h25m5 0h10m5 0h5m11 0h5M1335 2013.7h23m25 0h25m101 0h5m5 0h5m10 0h20m10 0h5m5 0h20m40 0h10m91 0h5m35 0h10m15 0h11m40 0h5m5 0h5m5 0h5m5 0h5m5 0h30m25 0h21m5 0h10m15 0h60M1348 2018h10m20 0h5m20 0h5m126 0h20m186 0h5m30 0h10m45 0h5m21 0h10m25 0h20m5 0h25m5 0h10m20 0h5m15 0h40m10 0h17M1349 2022.4h5m5 0h5m170 0h10m5 0h5m191 0h5m20 0h5m55 0h10m55 0h45m20 0h15m15 0h10m10 0h6m15 0h5m10 0h5M1350 2026.8h5m5 0h5m385 0h5m10 0h5m20 0h10m135 0h5M1351 2031.1h15m214 0h5m165 0h15m284 0h4M1352 2035.5h5m224 0h5m173 0h5m100 0h10m69 0h10m94 0h5M1354 2039.9h5m183 0h5m74 0h5m163 0h10m143 0h10m54 0h5m10 0h5M1577 2044.3h5m39 0h5m162 0h5M1563 2048.6h29m392 0h5M1568 2053h5m404 0h10M1574 2057.4h5m29 0h5m339 0h5m24 0h9M1579 2061.7h10M1566 2066.1h5m9 0h5m373 0h5M1562 2070.5h10m384 0h5M1485 2079.2h9m173 0h5m126 0h9m187 0h4M1570 2083.6h5m5 0h4m199 0h9m10 0h9m111 0h4M1375 2088h4m74 0h4m46 0h9m69 0h4m147 0h4m23 0h5m23 0h4m55 0h5m69 0h4m28 0h9M1460 2092.3h4m82 0h4m136 0h5m41 0h9m49 0h5m77 0h14m31 0h5m77 0h4M1395 2096.7h5m174 0h9m18 0h9m41 0h4m31 0h5m161 0h27m36 0h4m76 0h5M1399 2101.1h4m173 0h9m22 0h13m9 0h4m18 0h5m194 0h22m40 0h5m70 0h9M1486 2105.4h9m52 0h9m39 0h4m48 0h9m39 0h5m118 0h4m35 0h13m39 0h5m13 0h4m9 0h4m62 0h4M1388 2109.8h6m73 0h5m8 0h17m52 0h4m99 0h5m17 0h9m12 0h5m17 0h4m95 0h4m31 0h4m8 0h13m52 0h13m4 0h9m4 0h5m43 0h6M1392 2114.2h11m63 0h9m4 0h9m12 0h9m17 0h8m60 0h4m17 0h8m13 0h4m34 0h9m157 0h13m8 0h4m64 0h4m21 0h5m8 0h4m17 0h19M1403 2118.6h9m17 0h4m12 0h9m16 0h25m4 0h13m17 0h4m17 0h16m9 0h4m41 0h9m4 0h13m25 0h8m21 0h8m21 0h8m25 0h9m12 0h4m25 0h9m8 0h9m8 0h4m21 0h4m13 0h8m25 0h8m5 0h8m8 0h9m8 0h8m9 0h8M1409 2122.9h16m33 0h4m20 0h33m13 0h4m4 0h16m17 0h12m41 0h8m4 0h17m12 0h4m4 0h4m17 0h4m4 0h8m21 0h8m4 0h12m8 0h9m8 0h4m4 0h4m12 0h17m8 0h4m4 0h17m8 0h57m8 0h17m4 0h20m9 0h16M1408 2127.3h6m4 0h8m4 0h4m4 0h8m12 0h12m12 0h5m4 0h4m8 0h20m4 0h4m16 0h8m12 0h28m8 0h8m12 0h12m4 0h25m4 0h8m16 0h4m4 0h8m16 0h12m12 0h16m16 0h12m8 0h4m41 0h28m4 0h12m12 0h12m4 0h4m4 0h4m12 0h4m4 0h12m16 0h15M1414 2131.7h18m4 0h15m12 0h4m12 0h8m4 0h12m8 0h3m4 0h16m8 0h4m4 0h8m16 0h27m4 0h63m4 0h8m4 0h28m4 0h7m4 0h12m8 0h16m12 0h12m7 0h4m40 0h16m7 0h8m4 0h12m8 0h20m8 0h4m11 0h4m4 0h16m20 0h6M1426 2136h23m23 0h4m8 0h11m12 0h4m8 0h27m42 0h15m8 0h4m12 0h3m8 0h43m7 0h12m4 0h15m8 0h8m7 0h4m8 0h19m19 0h4m4 0h4m8 0h7m20 0h3m8 0h16m7 0h8m8 0h7m4 0h4m23 0h12m4 0h4m7 0h4m4 0h4M1427 2140.4h21m3 0h4m4 0h7m8 0h4m7 0h12m11 0h7m8 0h19m3 0h4m34 0h19m11 0h4m4 0h4m3 0h4m11 0h61m7 0h4m11 0h15m11 0h4m8 0h7m8 0h7m12 0h3m15 0h4m12 0h7m11 0h8m7 0h4m4 0h22m4 0h27m7 0h8m26 0h6M1434 2144.8h17m7 0h7m4 0h4m3 0h8m11 0h3m4 0h37m7 0h15m3 0h15m7 0h33m8 0h3m15 0h7m4 0h3m8 0h29m4 0h3m8 0h7m7 0h19m18 0h22m11 0h4m18 0h11m4 0h7m4 0h3m4 0h15m29 0h4m3 0h4m4 0h11m7 0h4m14 0h4m11 0h6M1451 2149.1h3m7 0h4m11 0h14m3 0h4m3 0h4m11 0h14m25 0h3m4 0h25m7 0h7m4 0h3m4 0h10m25 0h4m11 0h10m7 0h11m4 0h25m10 0h15m14 0h53m11 0h3m4 0h7m4 0h3m4 0h7m43 0h7m7 0h7m4 0h37M1458 2153.5h21m7 0h7m7 0h7m14 0h3m7 0h10m4 0h3m4 0h3m7 0h17m4 0h13m4 0h10m7 0h14m27 0h21m4 0h17m14 0h6m21 0h4m13 0h4m14 0h3m7 0h10m4 0h27m18 0h17m10 0h7m7 0h7m10 0h4m3 0h28M1458 2157.9h12m7 0h10m16 0h10m14 0h10m6 0h10m17 0h13m4 0h20m3 0h3m17 0h3m17 0h27m3 0h13m3 0h4m13 0h3m4 0h3m10 0h3m7 0h10m13 0h7m13 0h34m26 0h14m6 0h10m4 0h3m16 0h7m7 0h3M1473 2162.3h6m6 0h10m19 0h7m9 0h7m9 0h3m4 0h9m13 0h10m3 0h16m13 0h3m3 0h3m3 0h20m12 0h20m3 0h25m4 0h12m7 0h6m13 0h3m3 0h13m3 0h26m13 0h16m3 0h3m7 0h9m10 0h3m3 0h10m6 0h3m7 0h13m16 0h11M1477 2166.6h5m6 0h3m3 0h10m6 0h3m3 0h12m12 0h4m9 0h6m3 0h3m12 0h3m6 0h10m3 0h18m3 0h9m3 0h10m6 0h3m12 0h6m6 0h16m6 0h37m12 0h27m16 0h3m3 0h15m6 0h19m6 0h3m6 0h6m6 0h3m3 0h10m3 0h15m6 0h3m3 0h3" stroke="#d0ece8"/>
<path d="M1491 1821.4h7m49 0h6m3 0h6m18 0h6m19 0h3m21 0h6m7 0h15m58 0h6m25 0h6m3 0h3m40 0h3m3 0h3m31 0h6m37 0h6m9 0h6M1479 1825.7h10m19 0h9m26 0h6m16 0h7m25 0h7m16 0h3m6 0h10m10 0h3m9 0h4m25 0h7m6 0h6m4 0h6m35 0h3m45 0h7m19 0h6m48 0h7m3 0h3m3 0h3M1467 1830.1h3m3 0h7m20 0h7m53 0h7m26 0h7m27 0h10m16 0h14m16 0h7m23 0h7m30 0h6m30 0h7m7 0h13m23 0h4m89 0h4M1458 1834.5h14m11 0h3m83 0h3m11 0h13m21 0h17m66 0h3m4 0h7m31 0h7m20 0h4m24 0h7m3 0h4m51 0h4m55 0h21M1458 1838.9h3m50 0h4m21 0h11m18 0h3m14 0h4m7 0h4m10 0h7m7 0h4m4 0h3m64 0h4m35 0h4m11 0h7m7 0h14m21 0h15m14 0h18m14 0h4m24 0h8m28 0h14M1434 1843.2h6m7 0h7m77 0h11m8 0h7m22 0h11m4 0h3m11 0h4m4 0h3m4 0h7m29 0h8m25 0h8m36 0h8m11 0h3m19 0h3m22 0h11m19 0h7m7 0h8m7 0h7m15 0h15m36 0h4M1427 1847.6h9m4 0h8m30 0h4m3 0h4m4 0h7m27 0h11m38 0h7m8 0h3m8 0h4m52 0h4m30 0h4m19 0h4m15 0h7m15 0h8m15 0h4m26 0h7m16 0h3m4 0h4m7 0h8m11 0h4m15 0h7m19 0h4m34 0h4m11 0h6M1420 1852h6m46 0h20m15 0h4m38 0h12m15 0h12m8 0h11m47 0h7m54 0h4m19 0h4m12 0h11m16 0h4m30 0h4m35 0h4m89 0h15m8 0h9M1414 1856.3h6m51 0h16m16 0h8m35 0h8m87 0h19m20 0h4m28 0h4m102 0h4m51 0h8m59 0h20m12 0h14M1499 1860.7h8m32 0h8m36 0h4m52 0h21m16 0h8m24 0h8m221 0h4m16 0h4m16 0h5M1425 1865.1h4m66 0h4m180 0h4m62 0h12m90 0h5m4 0h4m24 0h4m37 0h4m9 0h4m12 0h16M1420 1869.4h4m176 0h4m254 0h5M1852 1891.3h9M1849 1895.7h5m9 0h4M1851 1900h4m10 0h4M1857 1904.4h5M1793 1908.8h5M1728 1917.5h15m14 0h4m10 0h5M1714 1921.9h10m38 0h19m53 0h4M1777 1926.3h5m57 0h5m29 0h14M1695 1930.6h10m97 0h9m68 0h10M1695 1935h5m92 0h10m5 0h5m19 0h5m5 0h5M1685 1939.4h10m103 0h5m29 0h5m5 0h5M1680 1943.7h5m113 0h5m30 0h10m54 0h5M1799 1948.1h5m99 0h4M1898 1952.5h10M1685 1956.9h5m104 0h5M1680 1961.2h5m110 0h5m100 0h5m5 0h5M1900 1965.6h5M1419 1970h20m10 0h25m316 0h10m101 0h10M1358 1974.3h5m45 0h10m75 0h5m6 0h5m120 0h15m5 0h6m125 0h10m46 0h5m65 0h5M1342 1978.7h10m15 0h35m106 0h10m61 0h5m25 0h15m35 0h6m10 0h15m25 0h15m35 0h5m5 0h16m40 0h10m101 0h5m60 0h5m46 0h7M1523 1983.1h5m20 0h16m121 0h5m101 0h5m25 0h5m5 0h10m15 0h10m15 0h16m20 0h25m15 0h10m25 0h11m10 0h15m25 0h12M1528 1987.4h10m20 0h16m111 0h5m116 0h15m5 0h5m5 0h5m5 0h5m21 0h10m15 0h10m5 0h5m126 0h22M1558 1991.8h5m122 0h15m96 0h5m10 0h10m10 0h5m212 0h18M1528 1996.2h35m96 0h16m15 0h10m111 0h10m142 0h5m75 0h5M1334 2000.6h7m25 0h11m136 0h10m5 0h25m5 0h10m46 0h25m5 0h36m15 0h5m10 0h5m76 0h5m10 0h15m81 0h10m45 0h10m16 0h5m30 0h5m10 0h5M1342 2004.9h10m10 0h10m10 0h5m30 0h10m10 0h5m66 0h5m5 0h5m5 0h25m21 0h5m20 0h5m15 0h5m66 0h10m15 0h5m66 0h10m15 0h5m5 0h15m66 0h15m10 0h5m10 0h5m5 0h76m10 0h5m10 0h5M1342 2009.3h5m25 0h5m5 0h20m96 0h10m20 0h26m25 0h15m126 0h10m45 0h10m11 0h10m45 0h5m10 0h5m10 0h5m5 0h15m11 0h20m20 0h25m25 0h5m10 0h5m5 0h11m10 0h12M1373 2013.7h10m171 0h10m176 0h5m25 0h5m81 0h5m15 0h5m40 0h15m31 0h5m85 0h7M1554 2018h10m181 0h5m15 0h10m136 0h5m45 0h15M1354 2022.4h5m195 0h10m186 0h10m5 0h5M1355 2026.8h5m395 0h10M1573 2053h15M1579 2057.4h9M1575 2083.6h5M1572 2088h9M1573 2092.3h9M1931 2105.4h9M1954 2109.8h4m39 0h9M1869 2114.2h5M1838 2118.6h8m17 0h8M1552 2122.9h17m168 0h4m41 0h4m45 0h4m131 0h9M1426 2127.3h4m65 0h8m28 0h16m8 0h12m68 0h4m25 0h4m68 0h12m28 0h4m109 0h12m20 0h4m20 0h4m12 0h16M1432 2131.7h4m31 0h12m8 0h4m12 0h8m23 0h8m4 0h4m8 0h16m94 0h4m8 0h4m39 0h4m12 0h8m40 0h7m60 0h7m24 0h8m20 0h8m19 0h4m16 0h12M1420 2136h6m50 0h8m27 0h8m27 0h3m4 0h20m3 0h4m50 0h8m43 0h7m31 0h8m8 0h7m31 0h19m12 0h8m23 0h4m30 0h4m8 0h8m15 0h12m31 0h7m4 0h4m12 0h5M1478 2140.4h7m30 0h8m26 0h34m34 0h4m19 0h3m61 0h7m4 0h11m30 0h8m7 0h8m22 0h15m53 0h4m22 0h4m27 0h7m8 0h15M1465 2144.8h4m18 0h4m7 0h4m37 0h7m33 0h7m33 0h8m3 0h15m58 0h8m7 0h7m19 0h11m3 0h4m37 0h18m11 0h4m14 0h4m15 0h29m11 0h4m11 0h7m4 0h14M1441 2149.1h10m14 0h11m14 0h3m11 0h4m3 0h4m14 0h21m7 0h4m25 0h7m14 0h4m10 0h11m7 0h7m25 0h7m40 0h10m15 0h14m53 0h11m3 0h4m14 0h4m7 0h21m4 0h14m25 0h4M1450 2153.5h8m38 0h4m7 0h7m3 0h4m20 0h4m3 0h4m27 0h4m27 0h7m14 0h3m4 0h14m48 0h14m6 0h7m4 0h3m11 0h13m4 0h14m51 0h18m17 0h10m7 0h7m21 0h3m28 0h12M1470 2157.9h7m36 0h14m10 0h6m10 0h4m26 0h4m20 0h3m3 0h10m10 0h17m43 0h3m4 0h13m10 0h10m23 0h10m54 0h3m7 0h10m20 0h6m10 0h4m36 0h25M1479 2162.3h6m10 0h6m20 0h9m7 0h3m45 0h3m16 0h13m3 0h3m26 0h12m20 0h3m25 0h4m41 0h3m71 0h3m19 0h3m4 0h3m3 0h3m39 0h16M1491 2166.6h3m10 0h6m18 0h12m4 0h9m6 0h3m18 0h6m31 0h3m9 0h3m10 0h6m3 0h12m110 0h6m13 0h3m40 0h6m3 0h6m6 0h6m34 0h6m3 0h3" stroke="#b9e4de"/>
<path d="M1801 1821.4h3M1748 1825.7h6M1470 1830.1h3M1807 1834.5h3M1614 1838.9h7M1590 1843.2h4m18 0h4m223 0h7M1489 1847.6h4m90 0h8m15 0h7m230 0h7M1949 1860.7h8M1854 1895.7h9M1860 1900h5M1743 1917.5h14M1724 1921.9h9m24 0h5M1709 1926.3h15m43 0h10m53 0h5M1705 1930.6h4m68 0h15m39 0h4m5 0h5M1700 1935h5m97 0h5M1695 1939.4h5m93 0h5m39 0h5M1685 1943.7h5M1685 1948.1h5m208 0h5M1685 1952.5h5m104 0h5M1690 1956.9h5m55 0h5m144 0h10M1770 1961.2h10m10 0h5m110 0h5M1680 1965.6h5m105 0h10m105 0h10M1474 1970h10m296 0h10M1418 1974.3h5m10 0h15m40 0h5m5 0h6m140 0h5m31 0h5m85 0h10M1335 1978.7h7m10 0h15m35 0h10m172 0h25m15 0h15m10 0h10m6 0h10m15 0h25m15 0h5m10 0h20M1579 1983.1h5m86 0h15m5 0h10m10 0h25m20 0h36m35 0h5m111 0h15m10 0h25m11 0h10M1538 1987.4h20m16 0h5m90 0h16m5 0h10m25 0h5m35 0h6m20 0h5m25 0h5m15 0h5m5 0h10m5 0h6m10 0h15m20 0h30m10 0h10m26 0h5m25 0h20M1528 1991.8h30m5 0h16m85 0h21m106 0h5m5 0h10m10 0h10m41 0h5m25 0h10m20 0h15m16 0h5m20 0h5M1334 1996.2h7m182 0h5m35 0h5m51 0h40m16 0h15m10 0h5m81 0h25m10 0h10m71 0h10m25 0h10m10 0h6m25 0h5m45 0h5M1341 2000.6h5m5 0h15m11 0h10m116 0h10m10 0h5m40 0h6m106 0h15m5 0h10m5 0h5m56 0h15m5 0h10m15 0h10m41 0h5m20 0h5m40 0h15m10 0h16m5 0h25m10 0h10M1372 2004.9h10m5 0h5m20 0h5m10 0h10m5 0h26m15 0h25m15 0h5m51 0h10m131 0h5m56 0h5m10 0h15m25 0h25m15 0h26m15 0h10m5 0h10M1377 2009.3h5m348 0h15m25 0h5m81 0h10m5 0h10M1745 2013.7h15M1750 2018h15M1760 2022.4h5M1865 2114.2h4M1549 2136h4m20 0h3M1632 2140.4h8M1484 2144.8h3m268 0h3M1508 2149.1h3m121 0h7m235 0h4M1514 2153.5h3m117 0h4m89 0h4M1753 2157.9h3m67 0h7M1540 2162.3h6m307 0h4" stroke="#9dd9d0"/>
<path d="M1855 1900h5M1733 1921.9h5m14 0h5M1724 1926.3h9m102 0h4M1709 1930.6h5m54 0h9m58 0h5M1705 1935h5m63 0h5m9 0h5m44 0h5M1690 1943.7h10m93 0h5M1690 1948.1h5m99 0h5M1690 1952.5h10m49 0h5M1695 1956.9h10m50 0h5m10 0h10m9 0h5M1775 1965.6h5m5 0h5M1680 1970h5m90 0h5M1423 1974.3h10m15 0h40m277 0h5M1412 1978.7h6m75 0h15m131 0h10m91 0h5M1518 1983.1h5m61 0h10m65 0h11m30 0h10m25 0h20M1523 1987.4h5m51 0h5m80 0h5m31 0h15m5 0h5m5 0h15m15 0h5m6 0h5m10 0h5m70 0h5m81 0h10m10 0h26m5 0h5m5 0h15M1523 1991.8h5m51 0h5m50 0h30m36 0h15m5 0h10m35 0h11m10 0h5m45 0h5m5 0h15m6 0h5m5 0h5m10 0h10m10 0h5m5 0h10m15 0h5m5 0h6m5 0h20m55 0h5M1351 1996.2h5m10 0h10m142 0h5m45 0h16m30 0h5m91 0h20m35 0h21m45 0h10m26 0h10m20 0h5m10 0h25m10 0h10m11 0h20m5 0h5m25 0h15M1346 2000.6h5m223 0h10m20 0h10m106 0h10m35 0h11m55 0h5m10 0h26m5 0h15m20 0h30M1392 2004.9h20m56 0h5m5 0h5m106 0h10m126 0h10m10 0h10m10 0h16m80 0h15M1745 2009.3h15m5 0h5M1760 2013.7h10" stroke="#7fccc0"/>
<path d="M1738 1921.9h14M1753 1926.3h14M1714 1930.6h10M1778 1935h9M1700 1939.4h5m83 0h5M1695 1948.1h5m89 0h5M1700 1952.5h5m49 0h5m30 0h5M1705 1956.9h5m25 0h15m10 0h10m10 0h9M1685 1961.2h5m90 0h10M1770 1965.6h5m5 0h5M1770 1970h5M1685 1974.3h5m20 0h20M1418 1978.7h5m5 0h25m10 0h30m242 0h5M1362 1983.1h15m217 0h5m10 0h5m5 0h40M1584 1987.4h5m50 0h25m51 0h5m25 0h15m16 0h10m217 0h5M1584 1991.8h5m25 0h20m81 0h5m10 0h15m15 0h5m11 0h10m55 0h5m15 0h6m15 0h10m25 0h5m30 0h5m36 0h5m35 0h10M1341 1996.2h10m5 0h10m10 0h11m116 0h15m66 0h5m20 0h5m91 0h5m20 0h10m20 0h5m81 0h21m10 0h20m116 0h10M1387 2000.6h5m192 0h5m10 0h5m126 0h10m5 0h10m5 0h5m71 0h10m46 0h5M1473 2004.9h5m257 0h10m10 0h10M1760 2009.3h5" stroke="#61b7ac"/>
<path d="M1733 1926.3h10m5 0h5M1724 1930.6h5m34 0h5M1710 1935h4m54 0h5M1705 1939.4h5m58 0h15M1700 1943.7h5m69 0h5m9 0h5M1700 1948.1h5M1705 1952.5h10m5 0h5m10 0h14m10 0h30M1710 1956.9h5m5 0h15M1765 1961.2h5M1690 1974.3h5m5 0h10m35 0h20M1423 1978.7h5m25 0h10M1334 1983.1h23m20 0h5m10 0h10m111 0h5m81 0h10m5 0h5M1589 1987.4h10m20 0h20M1518 1991.8h5m86 0h5m131 0h15m268 0h5M1387 1996.2h5m212 0h5m131 0h20m81 0h5m152 0h5m5 0h5M1498 2000.6h5m86 0h10m141 0h5m10 0h5" stroke="#44a299"/>
<path d="M1743 1926.3h5M1729 1930.6h5m19 0h10M1714 1935h10m39 0h5M1710 1939.4h4m49 0h5m15 0h5M1764 1943.7h10m5 0h9M1705 1948.1h10m34 0h40M1715 1952.5h5m5 0h10M1715 1956.9h5M1690 1961.2h5m55 0h5M1695 1974.3h5m30 0h15M1357 1983.1h5m20 0h10m10 0h5m101 0h5M1518 1987.4h5m76 0h20M1334 1991.8h7m20 0h15m213 0h20m414 0h5M1589 1996.2h15m399 0h5" stroke="#2b8d85"/>
<path d="M1734 1930.6h9m5 0h5M1724 1935h5m29 0h5M1714 1939.4h5M1705 1943.7h14m40 0h5M1715 1948.1h10m14 0h10M1695 1961.2h15m35 0h5m5 0h10M1765 1970h5M1407 1983.1h5M1366 1987.4h11M1341 1991.8h20m15 0h6m131 0h5m500 0h5M1498 1996.2h5" stroke="#147870"/>
<path d="M1743 1930.6h5M1729 1935h5m19 0h5M1719 1939.4h10m30 0h4M1744 1943.7h15M1725 1948.1h14M1710 1961.2h10m10 0h15M1765 1965.6h5M1685 1970h5M1412 1983.1h5m20 0h10m21 0h10m5 0h25M1334 1987.4h32m11 0h5M1382 1991.8h10m116 0h5m485 0h5m10 0h5" stroke="#01655d"/>
<path d="M1734 1935h5m10 0h4M1729 1939.4h5m15 0h10M1719 1943.7h10m10 0h5M1720 1961.2h10M1685 1965.6h5M1417 1983.1h20m10 0h6m10 0h5m10 0h5M1513 1987.4h5M1392 1991.8h10m101 0h5m495 0h10M1392 1996.2h5M1392 2000.6h5m96 0h5" stroke="#01554b"/>
<path d="M1739 1935h10M1734 1939.4h15M1729 1943.7h10M1690 1965.6h75M1690 1970h75M1453 1983.1h10M1382 1987.4h131M1402 1991.8h101M1397 1996.2h101M1397 2000.6h96" stroke="#004439"/>
</g>
<g clip-path="url(#cl2)"><use href="#coast" transform="translate(1699.8 1994) scale(1.0011 0.9876)"/></g>
<path d="M1915.3 2168.8L1916.6 2168.3L1920.5 2166.6L1926.5 2163.9L1934.3 2160.3L1943.4 2155.9L1953.3 2150.7L1963.6 2144.8L1973.8 2138.4L1983.9 2131.5L1993.7 2124.1L2002.9 2116.3L2011.6 2108.2L2019.7 2099.7L2027.1 2090.9L2033.9 2081.9L2040.1 2072.7L2045.5 2063.3L2050.3 2053.7L2054.3 2043.9L2057.6 2034.1L2060.2 2024.1L2062.1 2014.1L2063.2 2004.1L2063.6 1994.0L2063.2 1983.9L2062.1 1973.9L2060.2 1963.9L2057.6 1953.9L2054.3 1944.1L2050.3 1934.3L2045.5 1924.7L2040.1 1915.3L2033.9 1906.1L2027.1 1897.1L2019.7 1888.3L2011.6 1879.8L2002.9 1871.7L1993.7 1863.9L1983.9 1856.5L1973.8 1849.6L1963.6 1843.2L1953.3 1837.3L1943.4 1832.1L1934.3 1827.7L1926.5 1824.1L1920.5 1821.4L1916.6 1819.7L1915.3 1819.2L1484.3 1819.2L1483.0 1819.7L1479.1 1821.4L1473.1 1824.1L1465.3 1827.7L1456.2 1832.1L1446.3 1837.3L1436.0 1843.2L1425.8 1849.6L1415.7 1856.5L1405.9 1863.9L1396.7 1871.7L1388.0 1879.8L1379.9 1888.3L1372.5 1897.1L1365.7 1906.1L1359.5 1915.3L1354.1 1924.7L1349.3 1934.3L1345.3 1944.1L1342.0 1953.9L1339.4 1963.9L1337.5 1973.9L1336.4 1983.9L1336.0 1994.0L1336.4 2004.1L1337.5 2014.1L1339.4 2024.1L1342.0 2034.1L1345.3 2043.9L1349.3 2053.7L1354.1 2063.3L1359.5 2072.7L1365.7 2081.9L1372.5 2090.9L1379.9 2099.7L1388.0 2108.2L1396.7 2116.3L1405.9 2124.1L1415.7 2131.5L1425.8 2138.4L1436.0 2144.8L1446.3 2150.7L1456.2 2155.9L1465.3 2160.3L1473.1 2163.9L1479.1 2166.6L1483.0 2168.3L1484.3 2168.8Z" fill="none" stroke="#111" stroke-width="3.6" stroke-linejoin="round"/>
<linearGradient id="g1" gradientUnits="userSpaceOnUse" x1="1424.6" x2="1967.6" y1="0" y2="0"><stop offset="0%" stop-color="#053061"/><stop offset="4.2%" stop-color="#10457e"/><stop offset="8.3%" stop-color="#1c5c9f"/><stop offset="12.5%" stop-color="#2a71b2"/><stop offset="16.7%" stop-color="#3783bb"/><stop offset="20.8%" stop-color="#4997c5"/><stop offset="25%" stop-color="#6bacd1"/><stop offset="29.2%" stop-color="#8ac0db"/><stop offset="33.3%" stop-color="#a7d0e4"/><stop offset="37.5%" stop-color="#c2ddec"/><stop offset="41.7%" stop-color="#d7e8f1"/><stop offset="45.8%" stop-color="#e7f0f4"/><stop offset="50%" stop-color="#f7f6f6"/><stop offset="54.2%" stop-color="#f9ebe3"/><stop offset="58.3%" stop-color="#fcdfcf"/><stop offset="62.5%" stop-color="#fbccb4"/><stop offset="66.7%" stop-color="#f7b799"/><stop offset="70.8%" stop-color="#f19e7d"/><stop offset="75%" stop-color="#e48066"/><stop offset="79.2%" stop-color="#d86551"/><stop offset="83.3%" stop-color="#c94741"/><stop offset="87.5%" stop-color="#ba2832"/><stop offset="91.7%" stop-color="#a51429"/><stop offset="95.8%" stop-color="#840924"/><stop offset="100%" stop-color="#67001f"/></linearGradient>
<path d="M1395 1698.8L1424.6 1683.1H1967.6L1997.2 1698.8L1967.6 1714.4H1424.6Z" fill="url(#g1)" stroke="#111" stroke-width="3" stroke-linejoin="miter"/>
<path d="M1479.2 1715.9v8.5M1587.6 1715.9v8.5M1696.1 1715.9v8.5M1804.5 1715.9v8.5M1912.9 1715.9v8.5" stroke="#878787" stroke-width="3.5" fill="none"/>
<g font-size="16.3" fill="#878787" text-anchor="middle"><text x="1479.2" y="1746.7">−4</text><text x="1587.6" y="1746.7">−2</text><text x="1696.1" y="1746.7">0</text><text x="1804.5" y="1746.7">2</text><text x="1912.9" y="1746.7">4</text></g>
<text x="1384.2" y="1773.8" font-size="29" fill="#878787" textLength="628.2" lengthAdjust="spacingAndGlyphs">annual temperature (˚C difference from baseline)</text>
<linearGradient id="g2" gradientUnits="userSpaceOnUse" x1="1428.6" x2="1972" y1="0" y2="0"><stop offset="0%" stop-color="#543005"/><stop offset="4.2%" stop-color="#6a3d07"/><stop offset="8.3%" stop-color="#824b09"/><stop offset="12.5%" stop-color="#995d13"/><stop offset="16.7%" stop-color="#ad7021"/><stop offset="20.8%" stop-color="#c28633"/><stop offset="25%" stop-color="#cfa256"/><stop offset="29.2%" stop-color="#dcbc75"/><stop offset="33.3%" stop-color="#e7cf94"/><stop offset="37.5%" stop-color="#f1dfb3"/><stop offset="41.7%" stop-color="#f6eacb"/><stop offset="45.8%" stop-color="#f5f0e0"/><stop offset="50%" stop-color="#f4f5f5"/><stop offset="54.2%" stop-color="#e2f0ee"/><stop offset="58.3%" stop-color="#ceece8"/><stop offset="62.5%" stop-color="#b4e2db"/><stop offset="66.7%" stop-color="#98d7cd"/><stop offset="70.8%" stop-color="#79c8bc"/><stop offset="75%" stop-color="#58b0a7"/><stop offset="79.2%" stop-color="#3b9b93"/><stop offset="83.3%" stop-color="#23867e"/><stop offset="87.5%" stop-color="#0c7169"/><stop offset="91.7%" stop-color="#015f56"/><stop offset="95.8%" stop-color="#004c42"/><stop offset="100%" stop-color="#003c30"/></linearGradient>
<path d="M1399.4 2198.5L1428.6 2183.3H1972L2001.2 2198.5L1972 2213.7H1428.6Z" fill="url(#g2)" stroke="#111" stroke-width="3" stroke-linejoin="miter"/>
<path d="M1428.6 2215.2v8.5M1496.5 2215.2v8.5M1564.4 2215.2v8.5M1632.4 2215.2v8.5M1700.3 2215.2v8.5M1768.2 2215.2v8.5M1836.2 2215.2v8.5M1904.1 2215.2v8.5M1972 2215.2v8.5" stroke="#878787" stroke-width="3.5" fill="none"/>
<g font-size="16.3" fill="#878787" text-anchor="middle"><text x="1428.6" y="2246.9">−100</text><text x="1496.5" y="2246.9">−75</text><text x="1564.4" y="2246.9">−50</text><text x="1632.4" y="2246.9">−25</text><text x="1700.3" y="2246.9">0</text><text x="1768.2" y="2246.9">25</text><text x="1836.2" y="2246.9">50</text><text x="1904.1" y="2246.9">75</text><text x="1972" y="2246.9">100</text></g>
<text x="1391" y="2281.3" font-size="29" fill="#878787" textLength="616" lengthAdjust="spacingAndGlyphs">wettest day of year (% difference from baseline)</text></svg></body></html>
